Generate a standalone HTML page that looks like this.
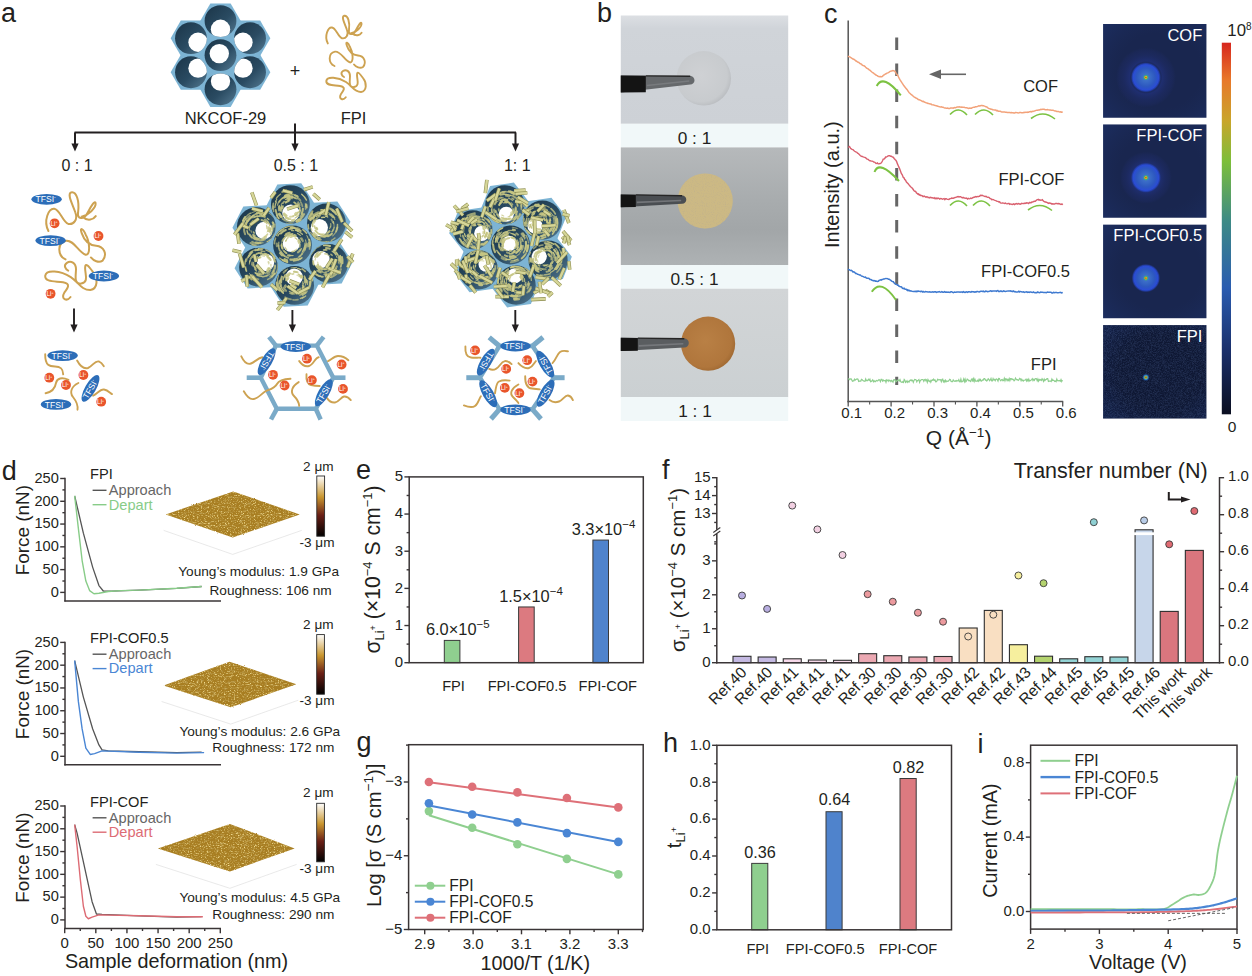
<!DOCTYPE html>
<html><head><meta charset="utf-8"><style>
html,body{margin:0;padding:0;background:#fff;width:1252px;height:976px;overflow:hidden}
svg{display:block;font-family:"Liberation Sans",sans-serif}
</style></head><body>
<svg width="1252" height="976" viewBox="0 0 1252 976">
<defs><linearGradient id="tg" x1="0" y1="0" x2="1" y2="1"><stop offset="0" stop-color="#1a3447"/><stop offset="0.55" stop-color="#2a4b62"/><stop offset="1" stop-color="#557a92"/></linearGradient><clipPath id="cl1"><circle cx="220.50" cy="55.20" r="15.90"/></clipPath><clipPath id="cl2"><circle cx="250.05" cy="72.26" r="15.90"/></clipPath><clipPath id="cl3"><circle cx="220.50" cy="89.32" r="15.90"/></clipPath><clipPath id="cl4"><circle cx="190.95" cy="72.26" r="15.90"/></clipPath><clipPath id="cl5"><circle cx="190.95" cy="38.14" r="15.90"/></clipPath><clipPath id="cl6"><circle cx="220.50" cy="21.08" r="15.90"/></clipPath><clipPath id="cl7"><circle cx="250.05" cy="38.14" r="15.90"/></clipPath><clipPath id="cl8"><circle cx="292.50" cy="245.00" r="19.40"/></clipPath><clipPath id="cl9"><circle cx="328.61" cy="263.40" r="19.40"/></clipPath><clipPath id="cl10"><circle cx="294.62" cy="285.47" r="19.40"/></clipPath><clipPath id="cl11"><circle cx="258.51" cy="267.07" r="19.40"/></clipPath><clipPath id="cl12"><circle cx="256.39" cy="226.60" r="19.40"/></clipPath><clipPath id="cl13"><circle cx="290.38" cy="204.53" r="19.40"/></clipPath><clipPath id="cl14"><circle cx="326.49" cy="222.93" r="19.40"/></clipPath><clipPath id="cl15"><circle cx="510.50" cy="245.00" r="19.60"/></clipPath><clipPath id="cl16"><circle cx="548.08" cy="260.18" r="19.60"/></clipPath><clipPath id="cl17"><circle cx="516.14" cy="285.14" r="19.60"/></clipPath><clipPath id="cl18"><circle cx="478.56" cy="269.95" r="19.60"/></clipPath><clipPath id="cl19"><circle cx="472.92" cy="229.82" r="19.60"/></clipPath><clipPath id="cl20"><circle cx="504.86" cy="204.86" r="19.60"/></clipPath><clipPath id="cl21"><circle cx="542.44" cy="220.05" r="19.60"/></clipPath><linearGradient id="pb1" x1="0" y1="0" x2="0" y2="1"><stop offset="0" stop-color="#dcdfe3"/><stop offset="0.12" stop-color="#d0d4d9"/><stop offset="1" stop-color="#cdd1d6"/></linearGradient><linearGradient id="pb2" x1="0" y1="0" x2="0" y2="1"><stop offset="0" stop-color="#b6b9bb"/><stop offset="0.45" stop-color="#a8acae"/><stop offset="0.7" stop-color="#a2a6a8"/><stop offset="1" stop-color="#aeb2b4"/></linearGradient><linearGradient id="pb3" x1="0" y1="0" x2="0" y2="1"><stop offset="0" stop-color="#d2d5d7"/><stop offset="1" stop-color="#cbd0d2"/></linearGradient><filter id="spk" x="0" y="0" width="1" height="1"><feTurbulence type="fractalNoise" baseFrequency="0.9" numOctaves="2" seed="4"/><feColorMatrix values="0 0 0 0 0.55  0 0 0 0 0.45  0 0 0 0 0.25  0 0 0 2.6 -1.25"/><feComposite in2="SourceGraphic" operator="in"/></filter><radialGradient id="dsk1" cx="0.45" cy="0.45" r="0.6"><stop offset="0" stop-color="#cfd1d4"/><stop offset="0.8" stop-color="#c8cbce"/><stop offset="1" stop-color="#b6b9bd"/></radialGradient><radialGradient id="dsk3" cx="0.45" cy="0.45" r="0.6"><stop offset="0" stop-color="#b98045"/><stop offset="0.8" stop-color="#b0763c"/><stop offset="1" stop-color="#9c6630"/></radialGradient><radialGradient id="sx1"><stop offset="0" stop-color="#e81818"/><stop offset="0.07" stop-color="#d0c020"/><stop offset="0.12" stop-color="#40a880"/><stop offset="0.2" stop-color="#3d70c8"/><stop offset="0.6" stop-color="#2d58c0"/><stop offset="0.82" stop-color="#2a4cd4"/><stop offset="0.9" stop-color="#2440b0" stop-opacity="0.85"/><stop offset="1" stop-color="#1c2a60" stop-opacity="0"/></radialGradient><radialGradient id="halo"><stop offset="0.45" stop-color="#24358a" stop-opacity="0"/><stop offset="0.55" stop-color="#24358a" stop-opacity="0.55"/><stop offset="0.75" stop-color="#22307a" stop-opacity="0.35"/><stop offset="0.9" stop-color="#1f2c6a" stop-opacity="0.3"/><stop offset="1" stop-color="#1f2c6a" stop-opacity="0"/></radialGradient><radialGradient id="vig" cx="0.55" cy="0.5" r="0.8"><stop offset="0.5" stop-color="#1e3570" stop-opacity="0"/><stop offset="1" stop-color="#24408a" stop-opacity="0.35"/></radialGradient><radialGradient id="sx4"><stop offset="0" stop-color="#e02020"/><stop offset="0.3" stop-color="#8ac040"/><stop offset="0.55" stop-color="#2a7ad0"/><stop offset="1" stop-color="#1b2a62" stop-opacity="0"/></radialGradient><filter id="nz" x="0" y="0" width="1" height="1"><feTurbulence type="fractalNoise" baseFrequency="1.6" numOctaves="1" seed="3"/><feColorMatrix values="0 0 0 0 0.15  0 0 0 0 0.25  0 0 0 0 0.55  0 0 0 0.55 -0.2"/><feComposite in2="SourceGraphic" operator="in"/></filter><linearGradient id="cbar" x1="0" y1="0" x2="0" y2="1"><stop offset="0" stop-color="#d7261e"/><stop offset="0.1" stop-color="#e8782a"/><stop offset="0.21" stop-color="#c9a52a"/><stop offset="0.32" stop-color="#7cbe3a"/><stop offset="0.48" stop-color="#3d8a86"/><stop offset="0.66" stop-color="#2a5cb0"/><stop offset="0.83" stop-color="#1a2f6a"/><stop offset="1" stop-color="#0a0e20"/></linearGradient><linearGradient id="afmcb" x1="0" y1="0" x2="0" y2="1"><stop offset="0" stop-color="#ffffff"/><stop offset="0.35" stop-color="#c9962f"/><stop offset="0.65" stop-color="#6a1f16"/><stop offset="1" stop-color="#000"/></linearGradient><filter id="afmn0" x="0" y="0" width="1" height="1"><feTurbulence type="fractalNoise" baseFrequency="0.7 0.9" numOctaves="2" seed="5"/><feColorMatrix values="0 0 0 0 0.90  0 0 0 0 0.74  0 0 0 0 0.30  0 0 0 3.4 -1.85"/><feComposite in2="SourceGraphic" operator="in"/></filter><filter id="afmd0" x="0" y="0" width="1" height="1"><feTurbulence type="fractalNoise" baseFrequency="0.25 0.6" numOctaves="2" seed="11"/><feColorMatrix values="0 0 0 0 0.50  0 0 0 0 0.34  0 0 0 0 0.08  0 0 0 3.0 -1.55"/><feComposite in2="SourceGraphic" operator="in"/></filter><filter id="afmr0" x="-0.05" y="-0.1" width="1.1" height="1.2"><feTurbulence type="fractalNoise" baseFrequency="0.9" numOctaves="1" seed="2" result="t"/><feDisplacementMap in="SourceGraphic" in2="t" scale="2.2" xChannelSelector="R" yChannelSelector="G"/></filter><filter id="afmn1" x="0" y="0" width="1" height="1"><feTurbulence type="fractalNoise" baseFrequency="0.7 0.9" numOctaves="2" seed="6"/><feColorMatrix values="0 0 0 0 0.90  0 0 0 0 0.74  0 0 0 0 0.30  0 0 0 3.4 -1.85"/><feComposite in2="SourceGraphic" operator="in"/></filter><filter id="afmd1" x="0" y="0" width="1" height="1"><feTurbulence type="fractalNoise" baseFrequency="0.25 0.6" numOctaves="2" seed="12"/><feColorMatrix values="0 0 0 0 0.50  0 0 0 0 0.34  0 0 0 0 0.08  0 0 0 3.0 -1.55"/><feComposite in2="SourceGraphic" operator="in"/></filter><filter id="afmr1" x="-0.05" y="-0.1" width="1.1" height="1.2"><feTurbulence type="fractalNoise" baseFrequency="0.9" numOctaves="1" seed="3" result="t"/><feDisplacementMap in="SourceGraphic" in2="t" scale="2.2" xChannelSelector="R" yChannelSelector="G"/></filter><filter id="afmn2" x="0" y="0" width="1" height="1"><feTurbulence type="fractalNoise" baseFrequency="0.7 0.9" numOctaves="2" seed="7"/><feColorMatrix values="0 0 0 0 0.90  0 0 0 0 0.74  0 0 0 0 0.30  0 0 0 3.4 -1.85"/><feComposite in2="SourceGraphic" operator="in"/></filter><filter id="afmd2" x="0" y="0" width="1" height="1"><feTurbulence type="fractalNoise" baseFrequency="0.25 0.6" numOctaves="2" seed="13"/><feColorMatrix values="0 0 0 0 0.50  0 0 0 0 0.34  0 0 0 0 0.08  0 0 0 3.0 -1.55"/><feComposite in2="SourceGraphic" operator="in"/></filter><filter id="afmr2" x="-0.05" y="-0.1" width="1.1" height="1.2"><feTurbulence type="fractalNoise" baseFrequency="0.9" numOctaves="1" seed="4" result="t"/><feDisplacementMap in="SourceGraphic" in2="t" scale="2.2" xChannelSelector="R" yChannelSelector="G"/></filter></defs>
<text x="1.0" y="21.6" font-size="27" text-anchor="start" fill="#231f20" >a</text>
<polygon points="240.80,55.20 230.65,72.78 210.35,72.78 200.20,55.20 210.35,37.62 230.65,37.62" fill="#7db4d4" />
<polygon points="270.35,72.26 260.20,89.84 239.90,89.84 229.75,72.26 239.90,54.68 260.20,54.68" fill="#7db4d4" />
<polygon points="240.80,89.32 230.65,106.90 210.35,106.90 200.20,89.32 210.35,71.74 230.65,71.74" fill="#7db4d4" />
<polygon points="211.25,72.26 201.10,89.84 180.80,89.84 170.65,72.26 180.80,54.68 201.10,54.68" fill="#7db4d4" />
<polygon points="211.25,38.14 201.10,55.72 180.80,55.72 170.65,38.14 180.80,20.56 201.10,20.56" fill="#7db4d4" />
<polygon points="240.80,21.08 230.65,38.66 210.35,38.66 200.20,21.08 210.35,3.50 230.65,3.50" fill="#7db4d4" />
<polygon points="270.35,38.14 260.20,55.72 239.90,55.72 229.75,38.14 239.90,20.56 260.20,20.56" fill="#7db4d4" />
<circle cx="220.50" cy="55.20" r="15.90" fill="url(#tg)"/>
<circle cx="219.30" cy="53.60" r="9.70" fill="#fff" clip-path="url(#cl1)"/>
<circle cx="250.05" cy="72.26" r="15.90" fill="url(#tg)"/>
<circle cx="242.95" cy="68.16" r="9.70" fill="#fff" clip-path="url(#cl2)"/>
<circle cx="220.50" cy="89.32" r="15.90" fill="url(#tg)"/>
<circle cx="220.50" cy="81.12" r="9.70" fill="#fff" clip-path="url(#cl3)"/>
<circle cx="190.95" cy="72.26" r="15.90" fill="url(#tg)"/>
<circle cx="198.05" cy="68.16" r="9.70" fill="#fff" clip-path="url(#cl4)"/>
<circle cx="190.95" cy="38.14" r="15.90" fill="url(#tg)"/>
<circle cx="198.05" cy="42.24" r="9.70" fill="#fff" clip-path="url(#cl5)"/>
<circle cx="220.50" cy="21.08" r="15.90" fill="url(#tg)"/>
<circle cx="220.50" cy="29.28" r="9.70" fill="#fff" clip-path="url(#cl6)"/>
<circle cx="250.05" cy="38.14" r="15.90" fill="url(#tg)"/>
<circle cx="242.95" cy="42.24" r="9.70" fill="#fff" clip-path="url(#cl7)"/>
<text x="225.5" y="123.6" font-size="16.5" text-anchor="middle" fill="#231f20" >NKCOF-29</text>
<text x="295.0" y="76.5" font-size="18" text-anchor="middle" fill="#231f20" >+</text>
<path d="M327.8,43.4 C324,36 328,27 332,27.5 C336,28 338,37 342,38.3 C346,39 349,35 347,30 C345,24 341,17 344,15.8 C348,15 350,22 349,30 C348,35 353,36 356,30 C358,26 361,21 361.5,23.5 C362,27 356,32 352,33 C356,37 360,35 361.6,32.7" fill="none" stroke="#cda251" stroke-width="1.9" stroke-linecap="round"/>
<path d="M334.5,66 C328,63 328,53 335,51.6 C341,51 344,60 349.9,62.4 C354,63 353,52 350,47 C348,42 345,41 347,46 C349,52 352,55 358,55.5 C364,56 367,62 363,67 C360,69 356,67 354,64.5" fill="none" stroke="#cda251" stroke-width="1.9" stroke-linecap="round"/>
<path d="M345.8,97.3 C343,101 338,99 341,94 C344,90 346,87 340,86 C334,85 326,86 326.3,81 C327,76 338,77 346,82 C352,86 354,92 361,92 C367,91 367,83 363,78 C360,74 357,70 357,75 C357,80 360,86 354,87 C348,88 350,80 350,76 C350,71 346,69 343,71 C340,73 342,76 344,77" fill="none" stroke="#cda251" stroke-width="1.9" stroke-linecap="round"/>
<text x="353.5" y="123.5" font-size="16.5" text-anchor="middle" fill="#231f20" >FPI</text>
<line x1="295.00" y1="123.50" x2="295.00" y2="146.00" stroke="#231f20" stroke-width="2.0" />
<line x1="74.50" y1="132.40" x2="516.00" y2="132.40" stroke="#231f20" stroke-width="2.0" />
<line x1="75.00" y1="132.40" x2="75.00" y2="145.50" stroke="#231f20" stroke-width="2.0" />
<polygon points="71.40,143.50 78.60,143.50 75.00,151.50" fill="#231f20" />
<line x1="295.00" y1="132.40" x2="295.00" y2="145.50" stroke="#231f20" stroke-width="2.0" />
<polygon points="291.40,143.50 298.60,143.50 295.00,151.50" fill="#231f20" />
<line x1="515.50" y1="132.40" x2="515.50" y2="145.50" stroke="#231f20" stroke-width="2.0" />
<polygon points="511.90,143.50 519.10,143.50 515.50,151.50" fill="#231f20" />
<text x="77.0" y="171.4" font-size="16.0" text-anchor="middle" fill="#231f20" >0 : 1</text>
<text x="295.9" y="171.4" font-size="16.0" text-anchor="middle" fill="#231f20" >0.5 : 1</text>
<text x="517.3" y="171.4" font-size="16.0" text-anchor="middle" fill="#231f20" >1: 1</text>
<path d="M327.8,43.4 C324,36 328,27 332,27.5 C336,28 338,37 342,38.3 C346,39 349,35 347,30 C345,24 341,17 344,15.8 C348,15 350,22 349,30 C348,35 353,36 356,30 C358,26 361,21 361.5,23.5 C362,27 356,32 352,33 C356,37 360,35 361.6,32.7" transform="translate(-410.5,170.3) scale(1.4)" fill="none" stroke="#cda251" stroke-width="1.429" stroke-linecap="round"/>
<path d="M334.5,66 C328,63 328,53 335,51.6 C341,51 344,60 349.9,62.4 C354,63 353,52 350,47 C348,42 345,41 347,46 C349,52 352,55 358,55.5 C364,56 367,62 363,67 C360,69 356,67 354,64.5" transform="translate(-369.3,173.6) scale(1.3)" fill="none" stroke="#cda251" stroke-width="1.538" stroke-linecap="round"/>
<path d="M345.8,97.3 C343,101 338,99 341,94 C344,90 346,87 340,86 C334,85 326,86 326.3,81 C327,76 338,77 346,82 C352,86 354,92 361,92 C367,91 367,83 363,78 C360,74 357,70 357,75 C357,80 360,86 354,87 C348,88 350,80 350,76 C350,71 346,69 343,71 C340,73 342,76 344,77" transform="translate(-379.0,170.5) scale(1.3)" fill="none" stroke="#cda251" stroke-width="1.538" stroke-linecap="round"/>
<g transform="translate(46.60,199.30) rotate(0)"><ellipse rx="15.2" ry="5.4" fill="#2c6db8"/><text x="-1" y="3.1" font-size="8.6" text-anchor="middle" fill="#fff">TFSI<tspan font-size="5" dy="-3.5">-</tspan></text></g>
<g transform="translate(50.60,240.60) rotate(0)"><ellipse rx="15.2" ry="5.4" fill="#2c6db8"/><text x="-1" y="3.1" font-size="8.6" text-anchor="middle" fill="#fff">TFSI<tspan font-size="5" dy="-3.5">-</tspan></text></g>
<g transform="translate(103.90,276.00) rotate(0)"><ellipse rx="15.2" ry="5.4" fill="#2c6db8"/><text x="-1" y="3.1" font-size="8.6" text-anchor="middle" fill="#fff">TFSI<tspan font-size="5" dy="-3.5">-</tspan></text></g>
<g transform="translate(54.60,223.30)"><circle r="4.9" fill="#e9552b"/><text x="-0.6" y="2.4" font-size="6.4" text-anchor="middle" fill="#fff">Li<tspan font-size="3.5" dy="-2.5">+</tspan></text></g>
<g transform="translate(98.50,236.00)"><circle r="4.9" fill="#e9552b"/><text x="-0.6" y="2.4" font-size="6.4" text-anchor="middle" fill="#fff">Li<tspan font-size="3.5" dy="-2.5">+</tspan></text></g>
<g transform="translate(50.60,293.80)"><circle r="4.9" fill="#e9552b"/><text x="-0.6" y="2.4" font-size="6.4" text-anchor="middle" fill="#fff">Li<tspan font-size="3.5" dy="-2.5">+</tspan></text></g>
<line x1="74.00" y1="308.50" x2="74.00" y2="326.50" stroke="#231f20" stroke-width="1.9" />
<polygon points="70.40,324.50 77.60,324.50 74.00,332.50" fill="#231f20" />
<path d="M45.2,354.3 C45,366 50,366.5 55,366.5 C61,366.5 63,369 63.2,374.4" fill="none" stroke="#cda251" stroke-width="1.9" stroke-linecap="round"/>
<path d="M77.1,360.5 C80,366 84,369 88,368 C93,366 95,360 99,361.5 C102,363 103,365 103.8,366.2" fill="none" stroke="#cda251" stroke-width="1.9" stroke-linecap="round"/>
<path d="M68.5,379.8 C62,377 57,378 56,383 C55,389 52,392 45.6,393.3" fill="none" stroke="#cda251" stroke-width="1.9" stroke-linecap="round"/>
<path d="M78.4,383 C72,386 69,392 73,397 C77,402 78,406 77.5,409.7" fill="none" stroke="#cda251" stroke-width="1.9" stroke-linecap="round"/>
<path d="M93.1,395.7 C97,394 100,389 104,389.5 C108,390 110,393 112,394.1" fill="none" stroke="#cda251" stroke-width="1.9" stroke-linecap="round"/>
<g transform="translate(62.60,355.60) rotate(0)"><ellipse rx="15.2" ry="5.4" fill="#2c6db8"/><text x="-1" y="3.1" font-size="8.6" text-anchor="middle" fill="#fff">TFSI<tspan font-size="5" dy="-3.5">-</tspan></text></g>
<g transform="translate(56.00,404.40) rotate(0)"><ellipse rx="15.2" ry="5.4" fill="#2c6db8"/><text x="-1" y="3.1" font-size="8.6" text-anchor="middle" fill="#fff">TFSI<tspan font-size="5" dy="-3.5">-</tspan></text></g>
<g transform="translate(90.50,388.40) rotate(-60)"><ellipse rx="15.2" ry="5.4" fill="#2c6db8"/><text x="-1" y="3.1" font-size="8.6" text-anchor="middle" fill="#fff">TFSI<tspan font-size="5" dy="-3.5">-</tspan></text></g>
<g transform="translate(49.30,377.70)"><circle r="4.9" fill="#e9552b"/><text x="-0.6" y="2.4" font-size="6.4" text-anchor="middle" fill="#fff">Li<tspan font-size="3.5" dy="-2.5">+</tspan></text></g>
<g transform="translate(66.00,385.00)"><circle r="4.9" fill="#e9552b"/><text x="-0.6" y="2.4" font-size="6.4" text-anchor="middle" fill="#fff">Li<tspan font-size="3.5" dy="-2.5">+</tspan></text></g>
<g transform="translate(83.40,375.00)"><circle r="4.9" fill="#e9552b"/><text x="-0.6" y="2.4" font-size="6.4" text-anchor="middle" fill="#fff">Li<tspan font-size="3.5" dy="-2.5">+</tspan></text></g>
<g transform="translate(101.20,401.70)"><circle r="4.9" fill="#e9552b"/><text x="-0.6" y="2.4" font-size="6.4" text-anchor="middle" fill="#fff">Li<tspan font-size="3.5" dy="-2.5">+</tspan></text></g>
<polygon points="316.47,243.74 305.57,265.13 281.60,266.38 268.53,246.26 279.43,224.87 303.40,223.62" fill="#7db4d4" />
<polygon points="352.58,262.14 341.68,283.53 317.72,284.78 304.65,264.66 315.54,243.27 339.51,242.02" fill="#7db4d4" />
<polygon points="318.59,284.22 307.69,305.60 283.73,306.86 270.65,286.73 281.55,265.35 305.52,264.09" fill="#7db4d4" />
<polygon points="282.48,265.82 271.58,287.20 247.61,288.46 234.54,268.33 245.44,246.95 269.40,245.69" fill="#7db4d4" />
<polygon points="280.35,225.34 269.46,246.73 245.49,247.98 232.42,227.86 243.32,206.47 267.28,205.22" fill="#7db4d4" />
<polygon points="314.35,203.27 303.45,224.65 279.48,225.91 266.41,205.78 277.31,184.40 301.27,183.14" fill="#7db4d4" />
<polygon points="350.46,221.67 339.56,243.05 315.60,244.31 302.52,224.18 313.42,202.80 337.39,201.54" fill="#7db4d4" />
<circle cx="292.50" cy="245.00" r="19.40" fill="url(#tg)"/>
<circle cx="291.30" cy="243.40" r="8.60" fill="#fff" clip-path="url(#cl8)"/>
<g clip-path="url(#cl8)"><path d="M280.8,233.4 A15.6,15.6 0 0 1 285.8,230.0" stroke="#c6c684" stroke-width="2.1" fill="none" stroke-linecap="round" opacity="0.90"/><path d="M298.3,240.9 A7.2,7.2 0 0 1 299.0,242.9" stroke="#c6c684" stroke-width="2.1" fill="none" stroke-linecap="round" opacity="0.86"/><path d="M298.6,239.5 A8.2,8.2 0 0 1 299.7,241.6" stroke="#c6c684" stroke-width="1.3" fill="none" stroke-linecap="round" opacity="0.82"/><path d="M285.7,241.1 A7.0,7.0 0 0 1 286.5,239.9" stroke="#c6c684" stroke-width="1.3" fill="none" stroke-linecap="round" opacity="0.97"/><path d="M292.8,235.6 A8.8,8.8 0 0 1 296.1,236.6" stroke="#c6c684" stroke-width="1.2" fill="none" stroke-linecap="round" opacity="0.85"/><path d="M296.8,249.2 A6.9,6.9 0 0 1 294.4,250.7" stroke="#c6c684" stroke-width="1.3" fill="none" stroke-linecap="round" opacity="0.69"/><path d="M309.0,242.4 A17.1,17.1 0 0 1 308.9,246.4" stroke="#c6c684" stroke-width="2.2" fill="none" stroke-linecap="round" opacity="0.82"/><path d="M287.9,235.9 A9.3,9.3 0 0 1 291.8,235.0" stroke="#c6c684" stroke-width="1.8" fill="none" stroke-linecap="round" opacity="0.99"/><path d="M300.1,237.9 A10.4,10.4 0 0 1 301.5,240.1" stroke="#c6c684" stroke-width="1.2" fill="none" stroke-linecap="round" opacity="0.66"/><path d="M301.5,248.4 A10.4,10.4 0 0 1 299.6,251.3" stroke="#c6c684" stroke-width="1.0" fill="none" stroke-linecap="round" opacity="0.87"/><path d="M286.4,253.2 A10.5,10.5 0 0 1 283.4,250.4" stroke="#c6c684" stroke-width="1.6" fill="none" stroke-linecap="round" opacity="0.73"/><path d="M276.9,246.1 A15.1,15.1 0 0 1 276.8,243.5" stroke="#c6c684" stroke-width="2.2" fill="none" stroke-linecap="round" opacity="0.61"/><path d="M291.9,227.5 A16.8,16.8 0 0 1 294.5,227.7" stroke="#c6c684" stroke-width="1.9" fill="none" stroke-linecap="round" opacity="0.75"/><path d="M285.8,241.0 A7.0,7.0 0 0 1 286.4,240.0" stroke="#c6c684" stroke-width="1.2" fill="none" stroke-linecap="round" opacity="0.98"/><path d="M297.1,259.1 A15.7,15.7 0 0 1 290.5,259.9" stroke="#c6c684" stroke-width="2.1" fill="none" stroke-linecap="round" opacity="0.74"/><path d="M284.0,254.6 A13.0,13.0 0 0 1 280.7,250.9" stroke="#c6c684" stroke-width="1.1" fill="none" stroke-linecap="round" opacity="0.90"/><path d="M296.9,228.1 A17.0,17.0 0 0 1 299.5,229.1" stroke="#c6c684" stroke-width="2.1" fill="none" stroke-linecap="round" opacity="0.64"/><path d="M284.4,256.1 A14.0,14.0 0 0 1 280.2,251.9" stroke="#c6c684" stroke-width="1.4" fill="none" stroke-linecap="round" opacity="0.97"/><path d="M281.8,241.3 A10.5,10.5 0 0 1 282.9,239.0" stroke="#c6c684" stroke-width="1.2" fill="none" stroke-linecap="round" opacity="0.63"/><path d="M300.8,256.3 A15.0,15.0 0 0 1 294.7,259.0" stroke="#c6c684" stroke-width="1.2" fill="none" stroke-linecap="round" opacity="0.62"/><path d="M305.0,243.2 A13.1,13.1 0 0 1 304.9,246.7" stroke="#c6c684" stroke-width="1.3" fill="none" stroke-linecap="round" opacity="0.84"/><path d="M297.6,233.4 A12.2,12.2 0 0 1 300.3,235.4" stroke="#c6c684" stroke-width="1.1" fill="none" stroke-linecap="round" opacity="0.97"/><path d="M304.4,246.9 A12.7,12.7 0 0 1 302.4,251.5" stroke="#c6c684" stroke-width="1.2" fill="none" stroke-linecap="round" opacity="0.89"/><path d="M305.5,239.9 A14.3,14.3 0 0 1 306.2,245.3" stroke="#c6c684" stroke-width="1.1" fill="none" stroke-linecap="round" opacity="0.77"/><path d="M301.9,257.8 A16.8,16.8 0 0 1 298.4,259.8" stroke="#c6c684" stroke-width="1.5" fill="none" stroke-linecap="round" opacity="1.00"/><path d="M302.9,229.6 A18.3,18.3 0 0 1 306.6,233.3" stroke="#c6c684" stroke-width="1.6" fill="none" stroke-linecap="round" opacity="0.89"/><path d="M281.8,245.6 A10.3,10.3 0 0 1 281.8,242.8" stroke="#c6c684" stroke-width="1.2" fill="none" stroke-linecap="round" opacity="0.75"/><path d="M310.0,243.0 A18.1,18.1 0 0 1 309.5,249.0" stroke="#c6c684" stroke-width="1.6" fill="none" stroke-linecap="round" opacity="0.74"/><path d="M300.5,249.6 A10.1,10.1 0 0 1 297.9,252.4" stroke="#c6c684" stroke-width="2.0" fill="none" stroke-linecap="round" opacity="0.74"/><path d="M295.5,228.7 A16.0,16.0 0 0 1 300.8,231.0" stroke="#c6c684" stroke-width="1.8" fill="none" stroke-linecap="round" opacity="0.90"/><path d="M282.1,255.7 A15.1,15.1 0 0 1 279.7,253.1" stroke="#c6c684" stroke-width="1.6" fill="none" stroke-linecap="round" opacity="0.91"/><path d="M288.2,234.7 A10.3,10.3 0 0 1 292.6,234.0" stroke="#c6c684" stroke-width="1.8" fill="none" stroke-linecap="round" opacity="0.83"/><path d="M305.2,245.2 A13.3,13.3 0 0 1 304.7,248.2" stroke="#c6c684" stroke-width="1.8" fill="none" stroke-linecap="round" opacity="0.79"/><path d="M297.8,231.1 A14.5,14.5 0 0 1 302.4,234.3" stroke="#c6c684" stroke-width="1.4" fill="none" stroke-linecap="round" opacity="0.86"/><path d="M290.7,227.7 A16.6,16.6 0 0 1 294.9,228.0" stroke="#c6c684" stroke-width="2.0" fill="none" stroke-linecap="round" opacity="0.95"/><path d="M285.0,227.3 A18.3,18.3 0 0 1 292.9,226.0" stroke="#c6c684" stroke-width="1.6" fill="none" stroke-linecap="round" opacity="0.81"/><path d="M300.3,258.7 A16.7,16.7 0 0 1 293.6,260.9" stroke="#c6c684" stroke-width="1.6" fill="none" stroke-linecap="round" opacity="0.88"/><path d="M289.0,229.1 A15.4,15.4 0 0 1 292.1,228.8" stroke="#c6c684" stroke-width="1.9" fill="none" stroke-linecap="round" opacity="0.83"/><path d="M286.0,234.1 A11.8,11.8 0 0 1 289.7,232.7" stroke="#c6c684" stroke-width="1.9" fill="none" stroke-linecap="round" opacity="0.85"/><path d="M290.6,237.2 A7.2,7.2 0 0 1 292.0,237.1" stroke="#c6c684" stroke-width="1.5" fill="none" stroke-linecap="round" opacity="0.86"/><path d="M294.8,258.9 A14.9,14.9 0 0 1 289.8,259.0" stroke="#c6c684" stroke-width="1.1" fill="none" stroke-linecap="round" opacity="0.79"/><path d="M293.1,251.7 A7.5,7.5 0 0 1 291.7,251.8" stroke="#c6c684" stroke-width="1.4" fill="none" stroke-linecap="round" opacity="0.67"/><path d="M294.5,251.1 A7.3,7.3 0 0 1 292.4,251.6" stroke="#c6c684" stroke-width="1.5" fill="none" stroke-linecap="round" opacity="0.84"/><path d="M283.8,239.1 A9.7,9.7 0 0 1 286.6,236.2" stroke="#c6c684" stroke-width="1.0" fill="none" stroke-linecap="round" opacity="0.76"/><path d="M289.9,255.8 A11.7,11.7 0 0 1 287.8,255.2" stroke="#c6c684" stroke-width="2.0" fill="none" stroke-linecap="round" opacity="0.75"/><path d="M305.7,247.4 A14.1,14.1 0 0 1 304.9,249.8" stroke="#c6c684" stroke-width="1.7" fill="none" stroke-linecap="round" opacity="0.74"/><path d="M276.1,235.5 A18.1,18.1 0 0 1 280.8,230.0" stroke="#c6c684" stroke-width="1.5" fill="none" stroke-linecap="round" opacity="0.93"/><path d="M284.9,235.5 A11.2,11.2 0 0 1 286.7,234.4" stroke="#c6c684" stroke-width="1.7" fill="none" stroke-linecap="round" opacity="0.83"/><path d="M309.5,239.4 A18.2,18.2 0 0 1 310.1,245.4" stroke="#c6c684" stroke-width="1.4" fill="none" stroke-linecap="round" opacity="0.96"/><path d="M300.1,244.3 A8.1,8.1 0 0 1 299.7,246.9" stroke="#c6c684" stroke-width="1.7" fill="none" stroke-linecap="round" opacity="0.66"/><path d="M280.1,231.7 A17.3,17.3 0 0 1 283.7,229.0" stroke="#c6c684" stroke-width="1.5" fill="none" stroke-linecap="round" opacity="0.69"/><path d="M287.2,261.9 A18.3,18.3 0 0 1 282.8,260.1" stroke="#c6c684" stroke-width="2.2" fill="none" stroke-linecap="round" opacity="0.97"/><path d="M283.8,238.7 A9.9,9.9 0 0 1 287.0,235.7" stroke="#c6c684" stroke-width="1.6" fill="none" stroke-linecap="round" opacity="0.77"/><path d="M284.2,261.0 A18.4,18.4 0 0 1 279.7,258.0" stroke="#c6c684" stroke-width="1.3" fill="none" stroke-linecap="round" opacity="0.79"/><path d="M302.2,254.1 A14.2,14.2 0 0 1 299.0,256.6" stroke="#c6c684" stroke-width="1.4" fill="none" stroke-linecap="round" opacity="0.91"/><path d="M295.2,238.0 A7.0,7.0 0 0 1 297.0,239.3" stroke="#c6c684" stroke-width="1.3" fill="none" stroke-linecap="round" opacity="0.97"/><path d="M293.9,234.7 A9.8,9.8 0 0 1 296.0,235.4" stroke="#c6c684" stroke-width="1.2" fill="none" stroke-linecap="round" opacity="1.00"/><path d="M288.2,257.8 A14.0,14.0 0 0 1 284.5,256.1" stroke="#c6c684" stroke-width="1.8" fill="none" stroke-linecap="round" opacity="0.84"/><path d="M291.6,236.0 A8.3,8.3 0 0 1 294.7,236.5" stroke="#c6c684" stroke-width="1.4" fill="none" stroke-linecap="round" opacity="0.81"/><path d="M286.6,253.2 A10.4,10.4 0 0 1 284.2,251.1" stroke="#c6c684" stroke-width="1.6" fill="none" stroke-linecap="round" opacity="0.74"/><path d="M291.5,230.5 A13.8,13.8 0 0 1 293.7,230.6" stroke="#c6c684" stroke-width="1.3" fill="none" stroke-linecap="round" opacity="0.78"/><path d="M306.9,235.6 A17.3,17.3 0 0 1 308.9,240.7" stroke="#c6c684" stroke-width="1.0" fill="none" stroke-linecap="round" opacity="0.91"/><path d="M279.7,250.3 A13.6,13.6 0 0 1 278.4,245.5" stroke="#c6c684" stroke-width="1.8" fill="none" stroke-linecap="round" opacity="0.79"/><path d="M301.6,238.3 A11.4,11.4 0 0 1 302.9,241.1" stroke="#c6c684" stroke-width="2.0" fill="none" stroke-linecap="round" opacity="0.68"/><path d="M287.2,260.2 A16.6,16.6 0 0 1 284.6,259.1" stroke="#c6c684" stroke-width="2.0" fill="none" stroke-linecap="round" opacity="0.88"/><path d="M282.6,248.5 A10.2,10.2 0 0 1 281.7,244.7" stroke="#c6c684" stroke-width="2.1" fill="none" stroke-linecap="round" opacity="0.66"/><path d="M278.8,246.1 A13.3,13.3 0 0 1 278.8,242.1" stroke="#c6c684" stroke-width="1.4" fill="none" stroke-linecap="round" opacity="0.66"/><path d="M277.9,235.9 A16.4,16.4 0 0 1 279.5,233.6" stroke="#c6c684" stroke-width="1.3" fill="none" stroke-linecap="round" opacity="0.93"/><path d="M295.8,230.1 A14.7,14.7 0 0 1 297.9,230.9" stroke="#c6c684" stroke-width="1.9" fill="none" stroke-linecap="round" opacity="0.99"/><path d="M307.1,244.1 A15.1,15.1 0 0 1 306.9,246.6" stroke="#c6c684" stroke-width="2.0" fill="none" stroke-linecap="round" opacity="0.69"/><path d="M281.0,230.0 A18.0,18.0 0 0 1 286.8,227.0" stroke="#c6c684" stroke-width="1.2" fill="none" stroke-linecap="round" opacity="0.72"/><path d="M299.5,240.0 A8.6,8.6 0 0 1 300.5,242.7" stroke="#c6c684" stroke-width="1.5" fill="none" stroke-linecap="round" opacity="0.66"/><path d="M286.6,239.1 A7.4,7.4 0 0 1 287.7,238.3" stroke="#c6c684" stroke-width="1.5" fill="none" stroke-linecap="round" opacity="0.63"/><path d="M304.7,249.1 A13.6,13.6 0 0 1 302.1,253.4" stroke="#c6c684" stroke-width="2.1" fill="none" stroke-linecap="round" opacity="0.65"/><path d="M282.4,248.7 A10.6,10.6 0 0 1 281.4,245.3" stroke="#c6c684" stroke-width="1.6" fill="none" stroke-linecap="round" opacity="0.98"/><path d="M286.7,249.6 A7.5,7.5 0 0 1 285.1,247.4" stroke="#c6c684" stroke-width="1.2" fill="none" stroke-linecap="round" opacity="0.85"/><path d="M274.4,243.6 A17.6,17.6 0 0 1 275.5,238.2" stroke="#c6c684" stroke-width="1.7" fill="none" stroke-linecap="round" opacity="0.71"/><path d="M282.6,241.1 A9.9,9.9 0 0 1 284.4,237.9" stroke="#c6c684" stroke-width="1.6" fill="none" stroke-linecap="round" opacity="0.65"/><path d="M293.1,255.5 A11.2,11.2 0 0 1 288.9,255.1" stroke="#c6c684" stroke-width="1.2" fill="none" stroke-linecap="round" opacity="0.89"/><path d="M287.5,237.8 A7.9,7.9 0 0 1 290.0,236.6" stroke="#c6c684" stroke-width="1.1" fill="none" stroke-linecap="round" opacity="0.65"/></g>
<circle cx="328.61" cy="263.40" r="19.40" fill="url(#tg)"/>
<circle cx="321.04" cy="259.54" r="8.60" fill="#fff" clip-path="url(#cl9)"/>
<g clip-path="url(#cl9)"><path d="M317.2,256.3 A9.7,9.7 0 0 1 320.0,253.5" stroke="#c6c684" stroke-width="1.6" fill="none" stroke-linecap="round" opacity="0.73"/><path d="M327.3,254.7 A7.2,7.2 0 0 1 329.6,256.0" stroke="#c6c684" stroke-width="1.1" fill="none" stroke-linecap="round" opacity="0.66"/><path d="M339.4,257.3 A14.9,14.9 0 0 1 340.0,260.4" stroke="#c6c684" stroke-width="1.1" fill="none" stroke-linecap="round" opacity="0.99"/><path d="M316.8,247.5 A16.5,16.5 0 0 1 319.7,246.1" stroke="#c6c684" stroke-width="1.7" fill="none" stroke-linecap="round" opacity="0.74"/><path d="M326.2,272.4 A10.8,10.8 0 0 1 322.6,272.1" stroke="#c6c684" stroke-width="1.4" fill="none" stroke-linecap="round" opacity="0.75"/><path d="M336.1,274.2 A16.6,16.6 0 0 1 331.2,277.2" stroke="#c6c684" stroke-width="2.0" fill="none" stroke-linecap="round" opacity="0.77"/><path d="M332.9,251.3 A12.9,12.9 0 0 1 335.9,254.3" stroke="#c6c684" stroke-width="1.7" fill="none" stroke-linecap="round" opacity="0.90"/><path d="M318.9,266.6 A8.0,8.0 0 0 1 318.2,265.5" stroke="#c6c684" stroke-width="1.2" fill="none" stroke-linecap="round" opacity="0.62"/><path d="M334.8,253.6 A12.5,12.5 0 0 1 337.1,257.8" stroke="#c6c684" stroke-width="1.0" fill="none" stroke-linecap="round" opacity="0.79"/><path d="M336.1,252.6 A14.1,14.1 0 0 1 338.2,256.0" stroke="#c6c684" stroke-width="1.6" fill="none" stroke-linecap="round" opacity="0.64"/><path d="M330.1,268.9 A8.7,8.7 0 0 1 328.1,269.9" stroke="#c6c684" stroke-width="1.5" fill="none" stroke-linecap="round" opacity="0.95"/><path d="M330.9,269.7 A9.9,9.9 0 0 1 328.9,270.8" stroke="#c6c684" stroke-width="1.2" fill="none" stroke-linecap="round" opacity="0.71"/><path d="M326.4,274.1 A12.5,12.5 0 0 1 324.4,274.2" stroke="#c6c684" stroke-width="2.1" fill="none" stroke-linecap="round" opacity="0.75"/><path d="M339.0,256.0 A14.9,14.9 0 0 1 340.1,261.1" stroke="#c6c684" stroke-width="1.6" fill="none" stroke-linecap="round" opacity="0.98"/><path d="M336.1,271.6 A14.7,14.7 0 0 1 333.4,273.9" stroke="#c6c684" stroke-width="1.8" fill="none" stroke-linecap="round" opacity="0.89"/><path d="M330.0,269.6 A9.2,9.2 0 0 1 328.7,270.2" stroke="#c6c684" stroke-width="1.3" fill="none" stroke-linecap="round" opacity="0.63"/><path d="M310.3,272.3 A18.3,18.3 0 0 1 308.1,268.1" stroke="#c6c684" stroke-width="1.4" fill="none" stroke-linecap="round" opacity="0.79"/><path d="M322.0,276.8 A15.5,15.5 0 0 1 316.8,274.7" stroke="#c6c684" stroke-width="1.2" fill="none" stroke-linecap="round" opacity="0.70"/><path d="M316.8,245.9 A17.9,17.9 0 0 1 322.6,243.9" stroke="#c6c684" stroke-width="1.5" fill="none" stroke-linecap="round" opacity="0.99"/><path d="M332.8,262.0 A7.6,7.6 0 0 1 332.1,264.8" stroke="#c6c684" stroke-width="1.5" fill="none" stroke-linecap="round" opacity="0.62"/><path d="M307.6,256.1 A18.5,18.5 0 0 1 310.1,251.1" stroke="#c6c684" stroke-width="1.4" fill="none" stroke-linecap="round" opacity="0.64"/><path d="M340.9,269.2 A17.4,17.4 0 0 1 338.0,273.5" stroke="#c6c684" stroke-width="2.1" fill="none" stroke-linecap="round" opacity="0.62"/><path d="M325.5,269.1 A7.5,7.5 0 0 1 323.5,268.9" stroke="#c6c684" stroke-width="1.1" fill="none" stroke-linecap="round" opacity="0.70"/><path d="M316.5,267.4 A10.5,10.5 0 0 1 315.6,265.9" stroke="#c6c684" stroke-width="1.0" fill="none" stroke-linecap="round" opacity="0.99"/><path d="M330.7,273.3 A12.8,12.8 0 0 1 327.4,274.3" stroke="#c6c684" stroke-width="1.6" fill="none" stroke-linecap="round" opacity="0.63"/><path d="M322.0,269.2 A8.1,8.1 0 0 1 319.9,267.8" stroke="#c6c684" stroke-width="2.1" fill="none" stroke-linecap="round" opacity="0.84"/><path d="M331.0,254.3 A9.4,9.4 0 0 1 332.1,255.3" stroke="#c6c684" stroke-width="1.6" fill="none" stroke-linecap="round" opacity="0.79"/><path d="M315.0,256.8 A11.3,11.3 0 0 1 317.2,253.7" stroke="#c6c684" stroke-width="1.9" fill="none" stroke-linecap="round" opacity="0.97"/><path d="M320.9,273.0 A12.1,12.1 0 0 1 316.8,270.5" stroke="#c6c684" stroke-width="1.3" fill="none" stroke-linecap="round" opacity="0.65"/><path d="M322.2,269.0 A7.9,7.9 0 0 1 319.7,267.3" stroke="#c6c684" stroke-width="2.0" fill="none" stroke-linecap="round" opacity="0.73"/><path d="M330.6,267.4 A7.8,7.8 0 0 1 329.2,268.4" stroke="#c6c684" stroke-width="1.1" fill="none" stroke-linecap="round" opacity="0.77"/><path d="M316.6,257.1 A9.8,9.8 0 0 1 317.5,255.7" stroke="#c6c684" stroke-width="1.8" fill="none" stroke-linecap="round" opacity="0.62"/><path d="M328.4,271.4 A10.2,10.2 0 0 1 325.7,271.9" stroke="#c6c684" stroke-width="1.1" fill="none" stroke-linecap="round" opacity="0.77"/><path d="M319.1,276.1 A15.7,15.7 0 0 1 314.9,273.5" stroke="#c6c684" stroke-width="2.1" fill="none" stroke-linecap="round" opacity="0.86"/><path d="M326.0,248.1 A13.6,13.6 0 0 1 329.8,248.8" stroke="#c6c684" stroke-width="2.0" fill="none" stroke-linecap="round" opacity="0.86"/><path d="M340.0,257.3 A15.4,15.4 0 0 1 340.6,262.8" stroke="#c6c684" stroke-width="1.3" fill="none" stroke-linecap="round" opacity="0.92"/><path d="M319.0,267.3 A8.4,8.4 0 0 1 318.1,266.2" stroke="#c6c684" stroke-width="1.2" fill="none" stroke-linecap="round" opacity="0.71"/><path d="M320.6,252.5 A10.2,10.2 0 0 1 322.2,251.9" stroke="#c6c684" stroke-width="1.9" fill="none" stroke-linecap="round" opacity="0.82"/><path d="M332.6,262.9 A7.5,7.5 0 0 1 332.2,264.3" stroke="#c6c684" stroke-width="1.4" fill="none" stroke-linecap="round" opacity="0.94"/><path d="M338.5,257.3 A14.1,14.1 0 0 1 339.2,260.3" stroke="#c6c684" stroke-width="1.5" fill="none" stroke-linecap="round" opacity="0.74"/><path d="M321.8,267.8 A7.0,7.0 0 0 1 320.0,266.4" stroke="#c6c684" stroke-width="2.0" fill="none" stroke-linecap="round" opacity="0.89"/><path d="M336.0,269.0 A13.1,13.1 0 0 1 334.3,271.1" stroke="#c6c684" stroke-width="1.9" fill="none" stroke-linecap="round" opacity="0.78"/><path d="M340.2,255.6 A16.2,16.2 0 0 1 341.1,258.4" stroke="#c6c684" stroke-width="1.4" fill="none" stroke-linecap="round" opacity="0.97"/><path d="M313.6,264.6 A12.0,12.0 0 0 1 313.2,261.2" stroke="#c6c684" stroke-width="1.9" fill="none" stroke-linecap="round" opacity="0.97"/><path d="M307.3,258.0 A18.2,18.2 0 0 1 309.5,252.4" stroke="#c6c684" stroke-width="1.1" fill="none" stroke-linecap="round" opacity="0.93"/><path d="M318.7,265.3 A7.5,7.5 0 0 1 317.7,262.1" stroke="#c6c684" stroke-width="1.0" fill="none" stroke-linecap="round" opacity="0.83"/><path d="M308.1,263.6 A17.2,17.2 0 0 1 308.2,259.0" stroke="#c6c684" stroke-width="1.3" fill="none" stroke-linecap="round" opacity="0.71"/><path d="M329.3,274.5 A13.5,13.5 0 0 1 325.9,275.1" stroke="#c6c684" stroke-width="1.9" fill="none" stroke-linecap="round" opacity="0.70"/><path d="M319.4,269.5 A9.8,9.8 0 0 1 316.6,266.2" stroke="#c6c684" stroke-width="2.0" fill="none" stroke-linecap="round" opacity="0.94"/><path d="M316.7,253.8 A11.6,11.6 0 0 1 318.3,252.3" stroke="#c6c684" stroke-width="2.0" fill="none" stroke-linecap="round" opacity="0.80"/><path d="M333.8,263.7 A8.9,8.9 0 0 1 333.3,265.3" stroke="#c6c684" stroke-width="1.9" fill="none" stroke-linecap="round" opacity="0.96"/><path d="M330.3,277.1 A16.2,16.2 0 0 1 326.4,277.8" stroke="#c6c684" stroke-width="1.8" fill="none" stroke-linecap="round" opacity="0.95"/><path d="M313.6,250.3 A16.3,16.3 0 0 1 316.9,247.7" stroke="#c6c684" stroke-width="1.0" fill="none" stroke-linecap="round" opacity="0.80"/><path d="M317.5,257.0 A9.0,9.0 0 0 1 319.0,255.1" stroke="#c6c684" stroke-width="1.4" fill="none" stroke-linecap="round" opacity="0.61"/><path d="M320.9,272.2 A11.4,11.4 0 0 1 318.0,270.5" stroke="#c6c684" stroke-width="1.8" fill="none" stroke-linecap="round" opacity="0.76"/><path d="M341.5,259.8 A16.4,16.4 0 0 1 340.8,266.8" stroke="#c6c684" stroke-width="1.8" fill="none" stroke-linecap="round" opacity="0.87"/><path d="M309.4,258.0 A16.2,16.2 0 0 1 310.9,254.0" stroke="#c6c684" stroke-width="1.7" fill="none" stroke-linecap="round" opacity="0.87"/><path d="M315.1,260.2 A10.2,10.2 0 0 1 315.5,258.5" stroke="#c6c684" stroke-width="1.1" fill="none" stroke-linecap="round" opacity="0.74"/><path d="M311.4,254.0 A15.8,15.8 0 0 1 315.0,249.6" stroke="#c6c684" stroke-width="1.4" fill="none" stroke-linecap="round" opacity="0.97"/><path d="M322.9,276.8 A15.3,15.3 0 0 1 320.3,276.1" stroke="#c6c684" stroke-width="1.9" fill="none" stroke-linecap="round" opacity="0.87"/><path d="M342.0,257.0 A17.4,17.4 0 0 1 342.5,263.2" stroke="#c6c684" stroke-width="2.0" fill="none" stroke-linecap="round" opacity="0.90"/><path d="M318.1,255.7 A9.3,9.3 0 0 1 320.2,253.8" stroke="#c6c684" stroke-width="2.1" fill="none" stroke-linecap="round" opacity="0.70"/><path d="M338.3,259.6 A13.3,13.3 0 0 1 338.4,263.1" stroke="#c6c684" stroke-width="1.0" fill="none" stroke-linecap="round" opacity="0.76"/><path d="M331.5,274.7 A14.5,14.5 0 0 1 325.7,276.2" stroke="#c6c684" stroke-width="2.1" fill="none" stroke-linecap="round" opacity="0.85"/><path d="M319.0,267.0 A8.2,8.2 0 0 1 317.6,264.5" stroke="#c6c684" stroke-width="1.7" fill="none" stroke-linecap="round" opacity="0.89"/><path d="M313.1,274.0 A17.3,17.3 0 0 1 310.7,271.1" stroke="#c6c684" stroke-width="1.4" fill="none" stroke-linecap="round" opacity="0.71"/><path d="M312.7,249.6 A17.4,17.4 0 0 1 315.3,247.3" stroke="#c6c684" stroke-width="1.8" fill="none" stroke-linecap="round" opacity="0.91"/><path d="M326.4,269.2 A7.6,7.6 0 0 1 324.0,269.2" stroke="#c6c684" stroke-width="2.0" fill="none" stroke-linecap="round" opacity="0.95"/><path d="M323.6,250.0 A11.8,11.8 0 0 1 326.8,250.0" stroke="#c6c684" stroke-width="1.6" fill="none" stroke-linecap="round" opacity="0.96"/><path d="M321.9,271.3 A10.2,10.2 0 0 1 319.0,269.7" stroke="#c6c684" stroke-width="2.2" fill="none" stroke-linecap="round" opacity="0.67"/><path d="M333.3,263.2 A8.2,8.2 0 0 1 332.4,265.7" stroke="#c6c684" stroke-width="1.7" fill="none" stroke-linecap="round" opacity="0.67"/><path d="M330.3,274.5 A13.8,13.8 0 0 1 325.6,275.5" stroke="#c6c684" stroke-width="1.8" fill="none" stroke-linecap="round" opacity="0.89"/><path d="M336.8,266.4 A12.6,12.6 0 0 1 334.1,270.6" stroke="#c6c684" stroke-width="2.1" fill="none" stroke-linecap="round" opacity="0.73"/><path d="M333.7,250.0 A14.4,14.4 0 0 1 337.8,254.6" stroke="#c6c684" stroke-width="1.3" fill="none" stroke-linecap="round" opacity="0.88"/><path d="M331.9,251.2 A12.5,12.5 0 0 1 333.7,252.5" stroke="#c6c684" stroke-width="1.2" fill="none" stroke-linecap="round" opacity="0.66"/><path d="M332.4,266.4 A8.7,8.7 0 0 1 330.5,268.5" stroke="#c6c684" stroke-width="1.1" fill="none" stroke-linecap="round" opacity="0.90"/><path d="M323.8,245.3 A16.4,16.4 0 0 1 330.1,246.0" stroke="#c6c684" stroke-width="1.9" fill="none" stroke-linecap="round" opacity="0.97"/><path d="M338.9,257.9 A14.2,14.2 0 0 1 339.2,264.0" stroke="#c6c684" stroke-width="1.1" fill="none" stroke-linecap="round" opacity="0.64"/><path d="M333.8,265.3 A9.3,9.3 0 0 1 332.5,267.4" stroke="#c6c684" stroke-width="1.6" fill="none" stroke-linecap="round" opacity="0.87"/><path d="M324.9,253.8 A7.9,7.9 0 0 1 327.0,254.0" stroke="#c6c684" stroke-width="1.7" fill="none" stroke-linecap="round" opacity="0.75"/></g>
<circle cx="294.62" cy="285.47" r="19.40" fill="url(#tg)"/>
<circle cx="294.18" cy="276.99" r="8.60" fill="#fff" clip-path="url(#cl10)"/>
<g clip-path="url(#cl10)"><path d="M304.7,291.0 A13.9,13.9 0 0 1 301.9,293.3" stroke="#c6c684" stroke-width="1.8" fill="none" stroke-linecap="round" opacity="0.80"/><path d="M311.9,277.5 A18.0,18.0 0 0 1 312.3,280.5" stroke="#c6c684" stroke-width="1.9" fill="none" stroke-linecap="round" opacity="0.89"/><path d="M292.1,289.6 A8.2,8.2 0 0 1 289.9,288.5" stroke="#c6c684" stroke-width="1.4" fill="none" stroke-linecap="round" opacity="0.89"/><path d="M304.3,276.1 A11.4,11.4 0 0 1 305.4,278.6" stroke="#c6c684" stroke-width="1.6" fill="none" stroke-linecap="round" opacity="0.88"/><path d="M297.7,268.4 A13.6,13.6 0 0 1 300.8,269.6" stroke="#c6c684" stroke-width="1.4" fill="none" stroke-linecap="round" opacity="0.94"/><path d="M287.0,280.8 A7.5,7.5 0 0 1 287.5,278.8" stroke="#c6c684" stroke-width="1.3" fill="none" stroke-linecap="round" opacity="0.87"/><path d="M303.4,286.1 A10.1,10.1 0 0 1 302.5,287.7" stroke="#c6c684" stroke-width="1.6" fill="none" stroke-linecap="round" opacity="0.99"/><path d="M283.4,278.7 A11.4,11.4 0 0 1 285.6,274.4" stroke="#c6c684" stroke-width="1.1" fill="none" stroke-linecap="round" opacity="0.74"/><path d="M297.0,275.2 A6.9,6.9 0 0 1 299.2,276.6" stroke="#c6c684" stroke-width="1.4" fill="none" stroke-linecap="round" opacity="0.61"/><path d="M294.4,293.9 A12.3,12.3 0 0 1 291.2,293.5" stroke="#c6c684" stroke-width="1.6" fill="none" stroke-linecap="round" opacity="0.62"/><path d="M298.0,299.6 A18.3,18.3 0 0 1 292.9,299.9" stroke="#c6c684" stroke-width="1.6" fill="none" stroke-linecap="round" opacity="0.63"/><path d="M291.1,299.4 A18.1,18.1 0 0 1 285.1,297.2" stroke="#c6c684" stroke-width="1.6" fill="none" stroke-linecap="round" opacity="0.62"/><path d="M281.9,291.6 A16.0,16.0 0 0 1 279.6,287.8" stroke="#c6c684" stroke-width="1.7" fill="none" stroke-linecap="round" opacity="0.96"/><path d="M285.6,270.3 A14.3,14.3 0 0 1 287.6,269.1" stroke="#c6c684" stroke-width="1.0" fill="none" stroke-linecap="round" opacity="0.91"/><path d="M279.8,290.5 A17.1,17.1 0 0 1 277.5,284.2" stroke="#c6c684" stroke-width="2.1" fill="none" stroke-linecap="round" opacity="0.75"/><path d="M310.2,281.6 A15.7,15.7 0 0 1 308.8,288.0" stroke="#c6c684" stroke-width="1.2" fill="none" stroke-linecap="round" opacity="0.91"/><path d="M278.3,290.2 A18.3,18.3 0 0 1 276.2,282.4" stroke="#c6c684" stroke-width="1.3" fill="none" stroke-linecap="round" opacity="0.77"/><path d="M292.8,293.9 A12.4,12.4 0 0 1 290.0,293.2" stroke="#c6c684" stroke-width="1.8" fill="none" stroke-linecap="round" opacity="0.65"/><path d="M300.4,292.4 A12.2,12.2 0 0 1 298.5,293.2" stroke="#c6c684" stroke-width="1.5" fill="none" stroke-linecap="round" opacity="0.96"/><path d="M301.3,275.6 A9.2,9.2 0 0 1 302.2,276.7" stroke="#c6c684" stroke-width="2.0" fill="none" stroke-linecap="round" opacity="0.98"/><path d="M287.5,276.7 A8.5,8.5 0 0 1 288.8,275.3" stroke="#c6c684" stroke-width="2.1" fill="none" stroke-linecap="round" opacity="0.98"/><path d="M303.3,283.4 A9.0,9.0 0 0 1 302.5,285.8" stroke="#c6c684" stroke-width="1.3" fill="none" stroke-linecap="round" opacity="0.90"/><path d="M283.3,293.1 A16.0,16.0 0 0 1 281.3,290.7" stroke="#c6c684" stroke-width="1.6" fill="none" stroke-linecap="round" opacity="0.99"/><path d="M292.1,274.1 A7.9,7.9 0 0 1 293.5,273.8" stroke="#c6c684" stroke-width="1.8" fill="none" stroke-linecap="round" opacity="0.75"/><path d="M286.0,290.8 A12.5,12.5 0 0 1 283.5,287.6" stroke="#c6c684" stroke-width="2.2" fill="none" stroke-linecap="round" opacity="0.70"/><path d="M285.4,277.5 A10.0,10.0 0 0 1 287.1,274.9" stroke="#c6c684" stroke-width="1.9" fill="none" stroke-linecap="round" opacity="0.65"/><path d="M279.4,283.4 A15.2,15.2 0 0 1 279.3,281.1" stroke="#c6c684" stroke-width="1.9" fill="none" stroke-linecap="round" opacity="0.77"/><path d="M280.4,281.3 A14.0,14.0 0 0 1 281.6,276.0" stroke="#c6c684" stroke-width="1.1" fill="none" stroke-linecap="round" opacity="0.80"/><path d="M305.5,284.4 A11.4,11.4 0 0 1 304.5,287.1" stroke="#c6c684" stroke-width="1.0" fill="none" stroke-linecap="round" opacity="0.72"/><path d="M280.6,286.2 A14.6,14.6 0 0 1 280.0,280.0" stroke="#c6c684" stroke-width="1.4" fill="none" stroke-linecap="round" opacity="0.81"/><path d="M290.3,264.3 A17.9,17.9 0 0 1 298.0,264.2" stroke="#c6c684" stroke-width="2.2" fill="none" stroke-linecap="round" opacity="0.72"/><path d="M303.3,297.1 A17.8,17.8 0 0 1 300.5,298.4" stroke="#c6c684" stroke-width="1.5" fill="none" stroke-linecap="round" opacity="0.89"/><path d="M283.2,279.6 A11.4,11.4 0 0 1 285.0,275.1" stroke="#c6c684" stroke-width="1.4" fill="none" stroke-linecap="round" opacity="0.82"/><path d="M298.5,274.2 A8.5,8.5 0 0 1 300.2,275.5" stroke="#c6c684" stroke-width="1.6" fill="none" stroke-linecap="round" opacity="0.83"/><path d="M297.7,293.4 A12.2,12.2 0 0 1 295.6,293.8" stroke="#c6c684" stroke-width="1.1" fill="none" stroke-linecap="round" opacity="0.74"/><path d="M305.7,296.0 A18.2,18.2 0 0 1 302.2,298.2" stroke="#c6c684" stroke-width="1.3" fill="none" stroke-linecap="round" opacity="0.91"/><path d="M293.9,271.7 A10.0,10.0 0 0 1 297.8,272.3" stroke="#c6c684" stroke-width="1.8" fill="none" stroke-linecap="round" opacity="0.76"/><path d="M287.7,274.6 A9.8,9.8 0 0 1 289.5,273.2" stroke="#c6c684" stroke-width="2.1" fill="none" stroke-linecap="round" opacity="0.78"/><path d="M301.6,276.3 A9.0,9.0 0 0 1 302.5,277.7" stroke="#c6c684" stroke-width="1.1" fill="none" stroke-linecap="round" opacity="0.90"/><path d="M287.9,279.0 A7.0,7.0 0 0 1 288.5,278.0" stroke="#c6c684" stroke-width="2.0" fill="none" stroke-linecap="round" opacity="0.80"/><path d="M299.5,276.3 A7.3,7.3 0 0 1 300.9,278.3" stroke="#c6c684" stroke-width="1.1" fill="none" stroke-linecap="round" opacity="0.89"/><path d="M283.7,272.6 A14.1,14.1 0 0 1 285.9,270.5" stroke="#c6c684" stroke-width="2.1" fill="none" stroke-linecap="round" opacity="0.64"/><path d="M308.1,287.5 A14.9,14.9 0 0 1 306.9,289.8" stroke="#c6c684" stroke-width="1.1" fill="none" stroke-linecap="round" opacity="0.78"/><path d="M284.1,267.7 A17.3,17.3 0 0 1 289.8,264.9" stroke="#c6c684" stroke-width="1.1" fill="none" stroke-linecap="round" opacity="0.86"/><path d="M299.0,274.8 A8.3,8.3 0 0 1 301.2,276.9" stroke="#c6c684" stroke-width="1.3" fill="none" stroke-linecap="round" opacity="0.72"/><path d="M310.2,281.8 A15.8,15.8 0 0 1 309.4,286.5" stroke="#c6c684" stroke-width="2.1" fill="none" stroke-linecap="round" opacity="0.79"/><path d="M299.7,289.5 A9.4,9.4 0 0 1 297.8,290.4" stroke="#c6c684" stroke-width="2.1" fill="none" stroke-linecap="round" opacity="0.68"/><path d="M303.8,287.5 A11.0,11.0 0 0 1 302.6,289.0" stroke="#c6c684" stroke-width="1.5" fill="none" stroke-linecap="round" opacity="0.85"/><path d="M289.2,274.4 A8.9,8.9 0 0 1 290.7,273.5" stroke="#c6c684" stroke-width="1.6" fill="none" stroke-linecap="round" opacity="0.87"/><path d="M281.6,286.1 A13.6,13.6 0 0 1 280.9,280.4" stroke="#c6c684" stroke-width="1.2" fill="none" stroke-linecap="round" opacity="0.71"/><path d="M281.3,282.2 A13.2,13.2 0 0 1 282.2,276.8" stroke="#c6c684" stroke-width="1.7" fill="none" stroke-linecap="round" opacity="0.86"/><path d="M280.4,289.4 A16.1,16.1 0 0 1 278.4,283.3" stroke="#c6c684" stroke-width="1.4" fill="none" stroke-linecap="round" opacity="0.64"/><path d="M293.8,292.7 A11.1,11.1 0 0 1 289.4,291.5" stroke="#c6c684" stroke-width="1.3" fill="none" stroke-linecap="round" opacity="0.85"/><path d="M282.9,267.7 A18.1,18.1 0 0 1 285.7,265.8" stroke="#c6c684" stroke-width="1.9" fill="none" stroke-linecap="round" opacity="0.73"/><path d="M305.8,290.3 A14.3,14.3 0 0 1 301.5,294.0" stroke="#c6c684" stroke-width="1.7" fill="none" stroke-linecap="round" opacity="0.62"/><path d="M305.6,279.7 A11.4,11.4 0 0 1 305.6,283.5" stroke="#c6c684" stroke-width="1.9" fill="none" stroke-linecap="round" opacity="0.70"/><path d="M285.4,287.5 A10.7,10.7 0 0 1 284.5,285.8" stroke="#c6c684" stroke-width="1.1" fill="none" stroke-linecap="round" opacity="0.89"/><path d="M280.0,290.8 A17.1,17.1 0 0 1 278.7,288.2" stroke="#c6c684" stroke-width="1.4" fill="none" stroke-linecap="round" opacity="0.67"/><path d="M309.6,276.0 A16.1,16.1 0 0 1 310.5,282.7" stroke="#c6c684" stroke-width="1.6" fill="none" stroke-linecap="round" opacity="0.64"/><path d="M286.2,286.4 A9.5,9.5 0 0 1 285.5,285.1" stroke="#c6c684" stroke-width="1.7" fill="none" stroke-linecap="round" opacity="0.72"/><path d="M304.5,289.7 A12.9,12.9 0 0 1 300.2,293.2" stroke="#c6c684" stroke-width="2.1" fill="none" stroke-linecap="round" opacity="0.79"/><path d="M307.1,291.2 A15.9,15.9 0 0 1 305.1,293.4" stroke="#c6c684" stroke-width="1.6" fill="none" stroke-linecap="round" opacity="0.63"/><path d="M307.6,280.6 A13.2,13.2 0 0 1 307.4,284.3" stroke="#c6c684" stroke-width="1.3" fill="none" stroke-linecap="round" opacity="0.82"/><path d="M306.1,279.6 A11.9,11.9 0 0 1 306.3,282.2" stroke="#c6c684" stroke-width="1.6" fill="none" stroke-linecap="round" opacity="0.97"/><path d="M283.9,291.3 A14.3,14.3 0 0 1 280.8,286.1" stroke="#c6c684" stroke-width="1.4" fill="none" stroke-linecap="round" opacity="0.92"/><path d="M286.0,280.1 A8.5,8.5 0 0 1 286.4,278.7" stroke="#c6c684" stroke-width="2.1" fill="none" stroke-linecap="round" opacity="0.79"/><path d="M277.9,287.8 A17.6,17.6 0 0 1 276.8,282.3" stroke="#c6c684" stroke-width="1.6" fill="none" stroke-linecap="round" opacity="0.71"/><path d="M294.1,271.8 A9.9,9.9 0 0 1 296.9,272.1" stroke="#c6c684" stroke-width="1.9" fill="none" stroke-linecap="round" opacity="0.84"/><path d="M300.6,288.6 A9.3,9.3 0 0 1 297.8,290.3" stroke="#c6c684" stroke-width="1.9" fill="none" stroke-linecap="round" opacity="0.64"/><path d="M302.9,281.5 A8.4,8.4 0 0 1 302.7,283.2" stroke="#c6c684" stroke-width="1.1" fill="none" stroke-linecap="round" opacity="0.78"/><path d="M282.1,270.1 A16.9,16.9 0 0 1 284.6,267.9" stroke="#c6c684" stroke-width="1.8" fill="none" stroke-linecap="round" opacity="0.64"/><path d="M285.8,276.9 A9.8,9.8 0 0 1 287.3,274.9" stroke="#c6c684" stroke-width="1.1" fill="none" stroke-linecap="round" opacity="0.89"/><path d="M305.8,292.7 A15.8,15.8 0 0 1 302.7,295.1" stroke="#c6c684" stroke-width="1.7" fill="none" stroke-linecap="round" opacity="0.86"/><path d="M277.3,282.9 A17.1,17.1 0 0 1 278.4,275.7" stroke="#c6c684" stroke-width="1.3" fill="none" stroke-linecap="round" opacity="0.73"/><path d="M300.5,275.8 A8.4,8.4 0 0 1 301.8,277.6" stroke="#c6c684" stroke-width="1.5" fill="none" stroke-linecap="round" opacity="0.99"/><path d="M304.5,292.2 A14.6,14.6 0 0 1 299.9,295.1" stroke="#c6c684" stroke-width="1.9" fill="none" stroke-linecap="round" opacity="0.60"/><path d="M304.3,278.0 A10.5,10.5 0 0 1 304.9,282.2" stroke="#c6c684" stroke-width="1.8" fill="none" stroke-linecap="round" opacity="0.77"/><path d="M302.2,269.0 A14.8,14.8 0 0 1 305.1,271.4" stroke="#c6c684" stroke-width="1.9" fill="none" stroke-linecap="round" opacity="0.80"/><path d="M291.1,268.0 A14.1,14.1 0 0 1 296.5,267.7" stroke="#c6c684" stroke-width="1.2" fill="none" stroke-linecap="round" opacity="0.80"/><path d="M310.6,281.8 A16.1,16.1 0 0 1 309.4,287.8" stroke="#c6c684" stroke-width="2.0" fill="none" stroke-linecap="round" opacity="0.62"/></g>
<circle cx="258.51" cy="267.07" r="19.40" fill="url(#tg)"/>
<circle cx="265.64" cy="262.44" r="8.60" fill="#fff" clip-path="url(#cl11)"/>
<g clip-path="url(#cl11)"><path d="M249.5,262.2 A12.5,12.5 0 0 1 250.2,260.0" stroke="#c6c684" stroke-width="1.2" fill="none" stroke-linecap="round" opacity="0.99"/><path d="M267.5,257.3 A9.7,9.7 0 0 1 270.1,260.1" stroke="#c6c684" stroke-width="1.8" fill="none" stroke-linecap="round" opacity="0.75"/><path d="M255.8,257.4 A9.6,9.6 0 0 1 257.7,256.3" stroke="#c6c684" stroke-width="1.0" fill="none" stroke-linecap="round" opacity="0.86"/><path d="M248.1,257.4 A15.6,15.6 0 0 1 251.0,253.7" stroke="#c6c684" stroke-width="1.5" fill="none" stroke-linecap="round" opacity="0.72"/><path d="M260.7,253.8 A11.2,11.2 0 0 1 264.4,254.1" stroke="#c6c684" stroke-width="1.9" fill="none" stroke-linecap="round" opacity="0.78"/><path d="M258.7,258.0 A7.6,7.6 0 0 1 260.4,257.5" stroke="#c6c684" stroke-width="2.0" fill="none" stroke-linecap="round" opacity="0.66"/><path d="M268.3,267.5 A7.0,7.0 0 0 1 266.9,269.7" stroke="#c6c684" stroke-width="1.1" fill="none" stroke-linecap="round" opacity="0.78"/><path d="M246.6,271.1 A16.3,16.3 0 0 1 245.5,266.5" stroke="#c6c684" stroke-width="1.6" fill="none" stroke-linecap="round" opacity="0.61"/><path d="M266.2,249.8 A15.9,15.9 0 0 1 271.0,252.1" stroke="#c6c684" stroke-width="2.0" fill="none" stroke-linecap="round" opacity="0.85"/><path d="M258.1,248.5 A16.9,16.9 0 0 1 263.8,248.3" stroke="#c6c684" stroke-width="1.0" fill="none" stroke-linecap="round" opacity="0.95"/><path d="M270.9,264.4 A9.2,9.2 0 0 1 270.9,266.0" stroke="#c6c684" stroke-width="1.4" fill="none" stroke-linecap="round" opacity="0.64"/><path d="M256.3,270.8 A7.9,7.9 0 0 1 255.2,269.5" stroke="#c6c684" stroke-width="1.0" fill="none" stroke-linecap="round" opacity="0.77"/><path d="M257.0,279.7 A15.4,15.4 0 0 1 253.3,277.9" stroke="#c6c684" stroke-width="1.2" fill="none" stroke-linecap="round" opacity="0.98"/><path d="M273.5,255.8 A15.0,15.0 0 0 1 275.2,258.5" stroke="#c6c684" stroke-width="1.5" fill="none" stroke-linecap="round" opacity="0.78"/><path d="M255.7,268.9 A7.2,7.2 0 0 1 254.8,267.0" stroke="#c6c684" stroke-width="1.9" fill="none" stroke-linecap="round" opacity="0.88"/><path d="M271.2,253.5 A14.9,14.9 0 0 1 274.8,257.9" stroke="#c6c684" stroke-width="2.0" fill="none" stroke-linecap="round" opacity="0.97"/><path d="M264.9,253.7 A11.8,11.8 0 0 1 268.5,255.4" stroke="#c6c684" stroke-width="1.8" fill="none" stroke-linecap="round" opacity="0.95"/><path d="M259.0,253.2 A12.1,12.1 0 0 1 261.5,252.9" stroke="#c6c684" stroke-width="1.4" fill="none" stroke-linecap="round" opacity="0.70"/><path d="M255.1,250.5 A15.9,15.9 0 0 1 258.2,249.5" stroke="#c6c684" stroke-width="1.6" fill="none" stroke-linecap="round" opacity="0.94"/><path d="M256.4,271.0 A8.0,8.0 0 0 1 254.8,268.9" stroke="#c6c684" stroke-width="1.4" fill="none" stroke-linecap="round" opacity="0.66"/><path d="M260.1,271.8 A7.0,7.0 0 0 1 258.8,271.3" stroke="#c6c684" stroke-width="1.5" fill="none" stroke-linecap="round" opacity="0.64"/><path d="M275.0,265.5 A13.3,13.3 0 0 1 273.6,271.1" stroke="#c6c684" stroke-width="2.0" fill="none" stroke-linecap="round" opacity="0.73"/><path d="M268.7,261.4 A7.8,7.8 0 0 1 269.2,262.8" stroke="#c6c684" stroke-width="1.0" fill="none" stroke-linecap="round" opacity="0.62"/><path d="M249.1,255.6 A15.8,15.8 0 0 1 252.3,252.3" stroke="#c6c684" stroke-width="2.0" fill="none" stroke-linecap="round" opacity="0.78"/><path d="M273.9,258.1 A14.0,14.0 0 0 1 275.4,262.2" stroke="#c6c684" stroke-width="1.2" fill="none" stroke-linecap="round" opacity="0.77"/><path d="M246.3,271.0 A16.5,16.5 0 0 1 245.4,267.6" stroke="#c6c684" stroke-width="1.4" fill="none" stroke-linecap="round" opacity="0.93"/><path d="M273.6,270.7 A13.2,13.2 0 0 1 272.1,273.1" stroke="#c6c684" stroke-width="1.8" fill="none" stroke-linecap="round" opacity="0.84"/><path d="M274.5,273.6 A15.4,15.4 0 0 1 271.7,276.7" stroke="#c6c684" stroke-width="1.4" fill="none" stroke-linecap="round" opacity="0.94"/><path d="M263.6,254.7 A10.5,10.5 0 0 1 267.1,255.9" stroke="#c6c684" stroke-width="1.1" fill="none" stroke-linecap="round" opacity="0.81"/><path d="M274.2,272.1 A14.4,14.4 0 0 1 270.2,276.6" stroke="#c6c684" stroke-width="1.8" fill="none" stroke-linecap="round" opacity="0.62"/><path d="M249.4,264.0 A12.4,12.4 0 0 1 250.2,260.6" stroke="#c6c684" stroke-width="1.2" fill="none" stroke-linecap="round" opacity="0.71"/><path d="M254.4,267.4 A7.7,7.7 0 0 1 254.0,264.7" stroke="#c6c684" stroke-width="1.3" fill="none" stroke-linecap="round" opacity="0.72"/><path d="M270.5,270.6 A10.4,10.4 0 0 1 267.3,273.8" stroke="#c6c684" stroke-width="1.4" fill="none" stroke-linecap="round" opacity="0.64"/><path d="M251.6,279.8 A18.0,18.0 0 0 1 249.1,277.8" stroke="#c6c684" stroke-width="1.4" fill="none" stroke-linecap="round" opacity="0.68"/><path d="M256.6,253.8 A12.3,12.3 0 0 1 258.7,253.1" stroke="#c6c684" stroke-width="2.0" fill="none" stroke-linecap="round" opacity="0.73"/><path d="M257.0,253.8 A12.2,12.2 0 0 1 261.8,252.8" stroke="#c6c684" stroke-width="1.1" fill="none" stroke-linecap="round" opacity="0.69"/><path d="M259.5,274.7 A10.0,10.0 0 0 1 255.9,273.1" stroke="#c6c684" stroke-width="1.6" fill="none" stroke-linecap="round" opacity="0.74"/><path d="M244.9,264.3 A16.8,16.8 0 0 1 246.0,259.0" stroke="#c6c684" stroke-width="1.5" fill="none" stroke-linecap="round" opacity="0.86"/><path d="M253.0,257.3 A11.6,11.6 0 0 1 255.4,255.2" stroke="#c6c684" stroke-width="1.2" fill="none" stroke-linecap="round" opacity="0.78"/><path d="M269.3,257.8 A10.5,10.5 0 0 1 270.9,260.0" stroke="#c6c684" stroke-width="1.7" fill="none" stroke-linecap="round" opacity="0.84"/><path d="M267.2,275.8 A12.1,12.1 0 0 1 262.9,277.0" stroke="#c6c684" stroke-width="1.0" fill="none" stroke-linecap="round" opacity="0.64"/><path d="M262.3,247.5 A17.5,17.5 0 0 1 265.3,247.9" stroke="#c6c684" stroke-width="1.1" fill="none" stroke-linecap="round" opacity="0.85"/><path d="M258.6,279.2 A14.6,14.6 0 0 1 256.3,278.5" stroke="#c6c684" stroke-width="1.5" fill="none" stroke-linecap="round" opacity="0.66"/><path d="M254.3,278.0 A15.0,15.0 0 0 1 250.7,275.2" stroke="#c6c684" stroke-width="2.0" fill="none" stroke-linecap="round" opacity="0.94"/><path d="M249.4,253.5 A16.8,16.8 0 0 1 252.0,251.3" stroke="#c6c684" stroke-width="1.6" fill="none" stroke-linecap="round" opacity="0.73"/><path d="M255.9,259.2 A8.2,8.2 0 0 1 258.8,257.4" stroke="#c6c684" stroke-width="1.4" fill="none" stroke-linecap="round" opacity="0.91"/><path d="M278.5,258.7 A17.9,17.9 0 0 1 279.5,263.3" stroke="#c6c684" stroke-width="2.0" fill="none" stroke-linecap="round" opacity="1.00"/><path d="M272.4,276.4 A15.6,15.6 0 0 1 267.6,279.5" stroke="#c6c684" stroke-width="1.5" fill="none" stroke-linecap="round" opacity="0.71"/><path d="M267.1,275.4 A11.7,11.7 0 0 1 262.3,276.7" stroke="#c6c684" stroke-width="1.5" fill="none" stroke-linecap="round" opacity="0.70"/><path d="M252.9,256.8 A12.0,12.0 0 0 1 256.1,254.4" stroke="#c6c684" stroke-width="1.5" fill="none" stroke-linecap="round" opacity="0.71"/><path d="M277.8,268.6 A16.5,16.5 0 0 1 275.6,273.9" stroke="#c6c684" stroke-width="1.3" fill="none" stroke-linecap="round" opacity="0.80"/><path d="M250.6,258.8 A12.8,12.8 0 0 1 254.1,254.8" stroke="#c6c684" stroke-width="1.9" fill="none" stroke-linecap="round" opacity="0.72"/><path d="M254.3,276.9 A14.1,14.1 0 0 1 252.1,275.2" stroke="#c6c684" stroke-width="2.1" fill="none" stroke-linecap="round" opacity="0.62"/><path d="M251.6,265.0 A10.1,10.1 0 0 1 252.1,262.0" stroke="#c6c684" stroke-width="1.1" fill="none" stroke-linecap="round" opacity="0.69"/><path d="M277.8,263.9 A16.1,16.1 0 0 1 277.7,267.4" stroke="#c6c684" stroke-width="1.5" fill="none" stroke-linecap="round" opacity="0.61"/><path d="M268.3,271.3 A9.1,9.1 0 0 1 264.9,273.5" stroke="#c6c684" stroke-width="1.4" fill="none" stroke-linecap="round" opacity="0.70"/><path d="M269.2,268.2 A8.2,8.2 0 0 1 267.1,271.2" stroke="#c6c684" stroke-width="1.9" fill="none" stroke-linecap="round" opacity="0.97"/><path d="M269.9,251.2 A16.1,16.1 0 0 1 272.8,253.4" stroke="#c6c684" stroke-width="1.2" fill="none" stroke-linecap="round" opacity="0.71"/><path d="M269.9,268.6 A8.9,8.9 0 0 1 268.1,271.3" stroke="#c6c684" stroke-width="1.6" fill="none" stroke-linecap="round" opacity="0.60"/><path d="M256.0,280.8 A16.8,16.8 0 0 1 250.3,277.3" stroke="#c6c684" stroke-width="1.9" fill="none" stroke-linecap="round" opacity="0.89"/><path d="M273.1,257.9 A13.4,13.4 0 0 1 274.6,261.2" stroke="#c6c684" stroke-width="1.7" fill="none" stroke-linecap="round" opacity="0.71"/><path d="M271.4,267.2 A9.9,9.9 0 0 1 270.3,269.9" stroke="#c6c684" stroke-width="1.1" fill="none" stroke-linecap="round" opacity="0.63"/><path d="M261.9,276.2 A11.2,11.2 0 0 1 257.2,275.2" stroke="#c6c684" stroke-width="1.6" fill="none" stroke-linecap="round" opacity="0.93"/><path d="M261.2,251.2 A13.8,13.8 0 0 1 264.6,251.5" stroke="#c6c684" stroke-width="1.5" fill="none" stroke-linecap="round" opacity="0.73"/><path d="M250.5,252.4 A16.9,16.9 0 0 1 256.1,249.1" stroke="#c6c684" stroke-width="1.4" fill="none" stroke-linecap="round" opacity="0.66"/><path d="M275.4,265.8 A13.7,13.7 0 0 1 274.9,268.7" stroke="#c6c684" stroke-width="1.0" fill="none" stroke-linecap="round" opacity="0.72"/><path d="M263.0,274.2 A9.3,9.3 0 0 1 259.7,274.1" stroke="#c6c684" stroke-width="1.7" fill="none" stroke-linecap="round" opacity="0.71"/><path d="M260.6,255.8 A9.3,9.3 0 0 1 264.5,256.1" stroke="#c6c684" stroke-width="1.1" fill="none" stroke-linecap="round" opacity="0.84"/><path d="M257.4,250.1 A15.5,15.5 0 0 1 261.9,249.5" stroke="#c6c684" stroke-width="2.0" fill="none" stroke-linecap="round" opacity="0.85"/><path d="M258.9,257.7 A7.8,7.8 0 0 1 260.4,257.3" stroke="#c6c684" stroke-width="1.6" fill="none" stroke-linecap="round" opacity="0.82"/><path d="M274.6,273.8 A15.6,15.6 0 0 1 272.0,276.7" stroke="#c6c684" stroke-width="1.6" fill="none" stroke-linecap="round" opacity="0.81"/><path d="M267.2,256.2 A10.4,10.4 0 0 1 269.7,258.3" stroke="#c6c684" stroke-width="1.7" fill="none" stroke-linecap="round" opacity="0.86"/><path d="M257.8,274.4 A10.2,10.2 0 0 1 255.3,272.9" stroke="#c6c684" stroke-width="1.7" fill="none" stroke-linecap="round" opacity="0.86"/><path d="M269.8,274.0 A12.1,12.1 0 0 1 266.6,276.1" stroke="#c6c684" stroke-width="1.2" fill="none" stroke-linecap="round" opacity="0.64"/><path d="M268.1,261.9 A7.1,7.1 0 0 1 268.8,263.9" stroke="#c6c684" stroke-width="1.4" fill="none" stroke-linecap="round" opacity="0.61"/><path d="M260.6,273.7 A8.8,8.8 0 0 1 258.3,273.1" stroke="#c6c684" stroke-width="2.1" fill="none" stroke-linecap="round" opacity="0.63"/><path d="M252.8,277.1 A15.0,15.0 0 0 1 249.3,273.4" stroke="#c6c684" stroke-width="1.0" fill="none" stroke-linecap="round" opacity="0.69"/><path d="M258.3,282.0 A17.4,17.4 0 0 1 253.7,280.4" stroke="#c6c684" stroke-width="1.3" fill="none" stroke-linecap="round" opacity="0.79"/><path d="M253.1,265.8 A8.6,8.6 0 0 1 253.4,262.8" stroke="#c6c684" stroke-width="1.9" fill="none" stroke-linecap="round" opacity="0.79"/><path d="M246.2,261.3 A15.9,15.9 0 0 1 249.3,255.1" stroke="#c6c684" stroke-width="1.7" fill="none" stroke-linecap="round" opacity="0.62"/></g>
<circle cx="256.39" cy="226.60" r="19.40" fill="url(#tg)"/>
<circle cx="263.96" cy="230.46" r="8.60" fill="#fff" clip-path="url(#cl12)"/>
<g clip-path="url(#cl12)"><path d="M245.2,227.9 A14.6,14.6 0 0 1 245.7,224.3" stroke="#c6c684" stroke-width="1.8" fill="none" stroke-linecap="round" opacity="0.75"/><path d="M249.3,218.9 A14.1,14.1 0 0 1 253.2,215.9" stroke="#c6c684" stroke-width="2.1" fill="none" stroke-linecap="round" opacity="0.88"/><path d="M256.0,213.7 A15.1,15.1 0 0 1 259.3,213.2" stroke="#c6c684" stroke-width="1.7" fill="none" stroke-linecap="round" opacity="0.85"/><path d="M274.4,234.2 A15.7,15.7 0 0 1 272.8,237.2" stroke="#c6c684" stroke-width="1.6" fill="none" stroke-linecap="round" opacity="0.81"/><path d="M257.0,212.7 A15.8,15.8 0 0 1 261.6,212.6" stroke="#c6c684" stroke-width="2.1" fill="none" stroke-linecap="round" opacity="0.78"/><path d="M242.9,220.8 A18.5,18.5 0 0 1 245.2,216.9" stroke="#c6c684" stroke-width="1.9" fill="none" stroke-linecap="round" opacity="0.98"/><path d="M273.6,236.4 A16.0,16.0 0 0 1 270.0,240.6" stroke="#c6c684" stroke-width="1.6" fill="none" stroke-linecap="round" opacity="0.92"/><path d="M265.3,221.7 A8.6,8.6 0 0 1 267.0,223.6" stroke="#c6c684" stroke-width="1.7" fill="none" stroke-linecap="round" opacity="0.88"/><path d="M275.5,224.1 A16.3,16.3 0 0 1 275.9,230.6" stroke="#c6c684" stroke-width="1.1" fill="none" stroke-linecap="round" opacity="0.77"/><path d="M275.2,219.0 A18.0,18.0 0 0 1 277.5,225.3" stroke="#c6c684" stroke-width="1.4" fill="none" stroke-linecap="round" opacity="0.91"/><path d="M245.4,225.4 A14.7,14.7 0 0 1 247.2,220.8" stroke="#c6c684" stroke-width="2.0" fill="none" stroke-linecap="round" opacity="0.89"/><path d="M272.2,226.0 A12.7,12.7 0 0 1 272.4,229.8" stroke="#c6c684" stroke-width="1.8" fill="none" stroke-linecap="round" opacity="0.82"/><path d="M277.1,233.8 A18.1,18.1 0 0 1 275.2,237.9" stroke="#c6c684" stroke-width="1.6" fill="none" stroke-linecap="round" opacity="0.62"/><path d="M266.3,244.9 A17.8,17.8 0 0 1 262.3,245.9" stroke="#c6c684" stroke-width="1.4" fill="none" stroke-linecap="round" opacity="0.92"/><path d="M260.6,243.0 A14.7,14.7 0 0 1 255.9,242.5" stroke="#c6c684" stroke-width="2.1" fill="none" stroke-linecap="round" opacity="0.79"/><path d="M255.1,237.1 A9.9,9.9 0 0 1 253.0,235.6" stroke="#c6c684" stroke-width="1.0" fill="none" stroke-linecap="round" opacity="0.65"/><path d="M266.1,236.8 A10.6,10.6 0 0 1 262.5,238.6" stroke="#c6c684" stroke-width="2.1" fill="none" stroke-linecap="round" opacity="0.74"/><path d="M259.8,238.7 A10.3,10.3 0 0 1 256.4,238.1" stroke="#c6c684" stroke-width="1.6" fill="none" stroke-linecap="round" opacity="0.65"/><path d="M249.9,226.8 A10.0,10.0 0 0 1 250.3,225.0" stroke="#c6c684" stroke-width="1.9" fill="none" stroke-linecap="round" opacity="0.64"/><path d="M245.1,234.2 A15.9,15.9 0 0 1 244.0,229.4" stroke="#c6c684" stroke-width="2.0" fill="none" stroke-linecap="round" opacity="0.73"/><path d="M266.8,225.9 A7.4,7.4 0 0 1 267.2,228.9" stroke="#c6c684" stroke-width="1.5" fill="none" stroke-linecap="round" opacity="0.60"/><path d="M258.7,246.8 A18.5,18.5 0 0 1 252.2,245.2" stroke="#c6c684" stroke-width="1.9" fill="none" stroke-linecap="round" opacity="0.92"/><path d="M270.3,228.8 A10.5,10.5 0 0 1 269.7,231.7" stroke="#c6c684" stroke-width="2.1" fill="none" stroke-linecap="round" opacity="0.96"/><path d="M270.7,243.2 A18.5,18.5 0 0 1 265.5,245.9" stroke="#c6c684" stroke-width="1.4" fill="none" stroke-linecap="round" opacity="0.63"/><path d="M248.2,234.1 A13.0,13.0 0 0 1 247.0,230.6" stroke="#c6c684" stroke-width="1.4" fill="none" stroke-linecap="round" opacity="0.98"/><path d="M249.4,230.0 A10.5,10.5 0 0 1 249.6,226.0" stroke="#c6c684" stroke-width="1.3" fill="none" stroke-linecap="round" opacity="0.77"/><path d="M267.5,234.2 A9.7,9.7 0 0 1 264.2,237.0" stroke="#c6c684" stroke-width="1.7" fill="none" stroke-linecap="round" opacity="0.81"/><path d="M253.0,215.3 A14.8,14.8 0 0 1 257.2,213.8" stroke="#c6c684" stroke-width="1.4" fill="none" stroke-linecap="round" opacity="0.66"/><path d="M268.0,229.9 A8.3,8.3 0 0 1 267.2,232.0" stroke="#c6c684" stroke-width="1.0" fill="none" stroke-linecap="round" opacity="0.87"/><path d="M254.8,236.5 A9.6,9.6 0 0 1 252.9,235.1" stroke="#c6c684" stroke-width="1.6" fill="none" stroke-linecap="round" opacity="0.68"/><path d="M267.3,218.3 A12.5,12.5 0 0 1 268.9,219.7" stroke="#c6c684" stroke-width="1.1" fill="none" stroke-linecap="round" opacity="0.96"/><path d="M250.7,223.5 A10.3,10.3 0 0 1 253.0,220.6" stroke="#c6c684" stroke-width="1.1" fill="none" stroke-linecap="round" opacity="0.96"/><path d="M273.3,222.6 A14.7,14.7 0 0 1 274.1,224.9" stroke="#c6c684" stroke-width="1.5" fill="none" stroke-linecap="round" opacity="0.93"/><path d="M252.0,223.2 A9.3,9.3 0 0 1 253.3,221.6" stroke="#c6c684" stroke-width="1.1" fill="none" stroke-linecap="round" opacity="0.81"/><path d="M264.9,239.3 A12.1,12.1 0 0 1 259.9,240.4" stroke="#c6c684" stroke-width="2.1" fill="none" stroke-linecap="round" opacity="0.80"/><path d="M261.6,220.1 A8.5,8.5 0 0 1 264.9,221.6" stroke="#c6c684" stroke-width="2.0" fill="none" stroke-linecap="round" opacity="0.79"/><path d="M267.6,221.5 A10.4,10.4 0 0 1 269.8,225.6" stroke="#c6c684" stroke-width="1.4" fill="none" stroke-linecap="round" opacity="0.97"/><path d="M269.1,213.1 A17.8,17.8 0 0 1 273.9,217.5" stroke="#c6c684" stroke-width="1.1" fill="none" stroke-linecap="round" opacity="0.71"/><path d="M250.0,213.8 A17.5,17.5 0 0 1 255.7,211.3" stroke="#c6c684" stroke-width="1.0" fill="none" stroke-linecap="round" opacity="0.74"/><path d="M254.8,235.7 A8.9,8.9 0 0 1 253.3,234.4" stroke="#c6c684" stroke-width="1.6" fill="none" stroke-linecap="round" opacity="0.75"/><path d="M258.5,240.0 A11.7,11.7 0 0 1 253.8,238.4" stroke="#c6c684" stroke-width="1.7" fill="none" stroke-linecap="round" opacity="0.90"/><path d="M266.4,225.4 A7.2,7.2 0 0 1 267.0,228.3" stroke="#c6c684" stroke-width="1.1" fill="none" stroke-linecap="round" opacity="0.68"/><path d="M258.8,212.7 A15.7,15.7 0 0 1 264.0,213.2" stroke="#c6c684" stroke-width="1.6" fill="none" stroke-linecap="round" opacity="0.89"/><path d="M251.6,232.3 A9.2,9.2 0 0 1 250.9,230.5" stroke="#c6c684" stroke-width="1.1" fill="none" stroke-linecap="round" opacity="0.61"/><path d="M277.0,223.0 A18.0,18.0 0 0 1 277.8,227.5" stroke="#c6c684" stroke-width="1.5" fill="none" stroke-linecap="round" opacity="0.71"/><path d="M262.3,215.9 A12.7,12.7 0 0 1 264.7,216.7" stroke="#c6c684" stroke-width="2.1" fill="none" stroke-linecap="round" opacity="0.97"/><path d="M271.5,231.9 A12.3,12.3 0 0 1 270.5,234.3" stroke="#c6c684" stroke-width="1.8" fill="none" stroke-linecap="round" opacity="0.74"/><path d="M256.7,238.3 A10.4,10.4 0 0 1 253.6,236.7" stroke="#c6c684" stroke-width="1.6" fill="none" stroke-linecap="round" opacity="0.80"/><path d="M254.5,217.1 A12.4,12.4 0 0 1 259.8,215.9" stroke="#c6c684" stroke-width="1.5" fill="none" stroke-linecap="round" opacity="0.92"/><path d="M272.6,222.3 A14.2,14.2 0 0 1 273.9,226.8" stroke="#c6c684" stroke-width="1.9" fill="none" stroke-linecap="round" opacity="0.88"/><path d="M263.9,239.4 A11.8,11.8 0 0 1 261.6,240.0" stroke="#c6c684" stroke-width="1.0" fill="none" stroke-linecap="round" opacity="0.87"/><path d="M255.1,237.0 A9.9,9.9 0 0 1 253.8,236.2" stroke="#c6c684" stroke-width="1.0" fill="none" stroke-linecap="round" opacity="0.87"/><path d="M252.3,237.7 A12.0,12.0 0 0 1 249.5,234.5" stroke="#c6c684" stroke-width="2.1" fill="none" stroke-linecap="round" opacity="0.88"/><path d="M263.3,246.5 A18.5,18.5 0 0 1 259.6,246.8" stroke="#c6c684" stroke-width="1.7" fill="none" stroke-linecap="round" opacity="0.86"/><path d="M255.8,245.2 A17.3,17.3 0 0 1 250.5,242.9" stroke="#c6c684" stroke-width="1.9" fill="none" stroke-linecap="round" opacity="0.66"/><path d="M264.9,219.4 A10.2,10.2 0 0 1 267.5,221.6" stroke="#c6c684" stroke-width="1.9" fill="none" stroke-linecap="round" opacity="0.73"/><path d="M258.8,239.0 A10.8,10.8 0 0 1 254.3,237.6" stroke="#c6c684" stroke-width="1.8" fill="none" stroke-linecap="round" opacity="0.79"/><path d="M246.3,222.8 A14.6,14.6 0 0 1 247.9,219.9" stroke="#c6c684" stroke-width="1.1" fill="none" stroke-linecap="round" opacity="0.64"/><path d="M247.7,221.5 A13.9,13.9 0 0 1 251.8,217.0" stroke="#c6c684" stroke-width="1.7" fill="none" stroke-linecap="round" opacity="0.94"/><path d="M272.5,227.3 A12.7,12.7 0 0 1 272.3,230.8" stroke="#c6c684" stroke-width="1.6" fill="none" stroke-linecap="round" opacity="0.75"/><path d="M260.7,214.7 A13.6,13.6 0 0 1 263.2,215.1" stroke="#c6c684" stroke-width="2.1" fill="none" stroke-linecap="round" opacity="0.81"/><path d="M259.7,215.0 A13.3,13.3 0 0 1 264.0,215.7" stroke="#c6c684" stroke-width="1.7" fill="none" stroke-linecap="round" opacity="0.65"/><path d="M270.3,239.7 A15.4,15.4 0 0 1 267.1,241.9" stroke="#c6c684" stroke-width="1.2" fill="none" stroke-linecap="round" opacity="0.93"/><path d="M259.6,212.5 A15.8,15.8 0 0 1 263.8,213.0" stroke="#c6c684" stroke-width="1.2" fill="none" stroke-linecap="round" opacity="0.90"/><path d="M263.0,242.7 A14.7,14.7 0 0 1 257.7,242.9" stroke="#c6c684" stroke-width="1.3" fill="none" stroke-linecap="round" opacity="0.60"/><path d="M246.2,219.7 A16.1,16.1 0 0 1 249.7,215.8" stroke="#c6c684" stroke-width="2.2" fill="none" stroke-linecap="round" opacity="0.69"/><path d="M258.4,216.4 A12.0,12.0 0 0 1 262.2,216.6" stroke="#c6c684" stroke-width="1.4" fill="none" stroke-linecap="round" opacity="0.69"/><path d="M246.4,224.1 A14.0,14.0 0 0 1 249.3,219.0" stroke="#c6c684" stroke-width="1.7" fill="none" stroke-linecap="round" opacity="0.80"/><path d="M251.5,216.8 A14.2,14.2 0 0 1 254.9,215.0" stroke="#c6c684" stroke-width="1.3" fill="none" stroke-linecap="round" opacity="0.87"/><path d="M254.3,233.1 A7.3,7.3 0 0 1 253.4,231.9" stroke="#c6c684" stroke-width="1.4" fill="none" stroke-linecap="round" opacity="0.87"/><path d="M252.8,217.8 A12.6,12.6 0 0 1 257.4,215.9" stroke="#c6c684" stroke-width="1.4" fill="none" stroke-linecap="round" opacity="0.74"/><path d="M259.9,213.5 A14.8,14.8 0 0 1 264.0,214.1" stroke="#c6c684" stroke-width="2.1" fill="none" stroke-linecap="round" opacity="0.61"/><path d="M243.3,224.5 A16.9,16.9 0 0 1 246.2,218.2" stroke="#c6c684" stroke-width="1.2" fill="none" stroke-linecap="round" opacity="0.92"/><path d="M242.3,224.7 A17.8,17.8 0 0 1 243.8,220.5" stroke="#c6c684" stroke-width="1.8" fill="none" stroke-linecap="round" opacity="0.86"/><path d="M270.6,227.7 A10.9,10.9 0 0 1 270.4,230.6" stroke="#c6c684" stroke-width="1.1" fill="none" stroke-linecap="round" opacity="0.87"/><path d="M275.0,235.5 A16.8,16.8 0 0 1 273.3,238.3" stroke="#c6c684" stroke-width="1.2" fill="none" stroke-linecap="round" opacity="0.98"/><path d="M244.1,228.5 A15.7,15.7 0 0 1 244.5,224.5" stroke="#c6c684" stroke-width="1.3" fill="none" stroke-linecap="round" opacity="0.75"/><path d="M268.9,227.4 A9.1,9.1 0 0 1 268.5,231.1" stroke="#c6c684" stroke-width="2.1" fill="none" stroke-linecap="round" opacity="0.87"/><path d="M258.3,243.7 A15.4,15.4 0 0 1 252.1,241.7" stroke="#c6c684" stroke-width="1.7" fill="none" stroke-linecap="round" opacity="0.69"/><path d="M245.8,216.8 A18.1,18.1 0 0 1 250.3,212.9" stroke="#c6c684" stroke-width="1.2" fill="none" stroke-linecap="round" opacity="0.68"/></g>
<circle cx="290.38" cy="204.53" r="19.40" fill="url(#tg)"/>
<circle cx="290.82" cy="213.01" r="8.60" fill="#fff" clip-path="url(#cl13)"/>
<g clip-path="url(#cl13)"><path d="M285.5,202.9 A7.4,7.4 0 0 1 286.4,202.2" stroke="#c6c684" stroke-width="1.4" fill="none" stroke-linecap="round" opacity="0.70"/><path d="M282.8,208.7 A7.7,7.7 0 0 1 283.1,206.2" stroke="#c6c684" stroke-width="1.8" fill="none" stroke-linecap="round" opacity="0.73"/><path d="M279.2,201.9 A13.1,13.1 0 0 1 282.5,198.1" stroke="#c6c684" stroke-width="1.7" fill="none" stroke-linecap="round" opacity="0.86"/><path d="M275.4,201.9 A16.5,16.5 0 0 1 276.8,199.3" stroke="#c6c684" stroke-width="1.1" fill="none" stroke-linecap="round" opacity="0.95"/><path d="M294.1,202.3 A7.0,7.0 0 0 1 296.2,204.3" stroke="#c6c684" stroke-width="1.7" fill="none" stroke-linecap="round" opacity="0.94"/><path d="M287.2,197.6 A11.3,11.3 0 0 1 289.2,197.1" stroke="#c6c684" stroke-width="1.9" fill="none" stroke-linecap="round" opacity="0.88"/><path d="M280.7,210.2 A10.1,10.1 0 0 1 280.6,207.6" stroke="#c6c684" stroke-width="2.1" fill="none" stroke-linecap="round" opacity="0.79"/><path d="M295.2,226.2 A18.4,18.4 0 0 1 287.1,226.4" stroke="#c6c684" stroke-width="1.2" fill="none" stroke-linecap="round" opacity="0.68"/><path d="M289.1,197.0 A11.4,11.4 0 0 1 292.5,197.1" stroke="#c6c684" stroke-width="1.8" fill="none" stroke-linecap="round" opacity="0.71"/><path d="M282.9,203.2 A9.3,9.3 0 0 1 284.2,201.6" stroke="#c6c684" stroke-width="1.7" fill="none" stroke-linecap="round" opacity="0.77"/><path d="M297.3,203.1 A8.6,8.6 0 0 1 298.9,206.3" stroke="#c6c684" stroke-width="1.3" fill="none" stroke-linecap="round" opacity="0.74"/><path d="M298.9,214.9 A10.6,10.6 0 0 1 295.3,217.8" stroke="#c6c684" stroke-width="1.4" fill="none" stroke-linecap="round" opacity="0.93"/><path d="M305.4,206.1 A15.0,15.0 0 0 1 305.6,209.2" stroke="#c6c684" stroke-width="1.5" fill="none" stroke-linecap="round" opacity="0.67"/><path d="M290.6,219.2 A10.8,10.8 0 0 1 288.5,218.9" stroke="#c6c684" stroke-width="1.8" fill="none" stroke-linecap="round" opacity="0.81"/><path d="M288.1,217.9 A9.9,9.9 0 0 1 286.3,217.2" stroke="#c6c684" stroke-width="1.1" fill="none" stroke-linecap="round" opacity="0.78"/><path d="M302.2,214.2 A13.0,13.0 0 0 1 300.5,216.7" stroke="#c6c684" stroke-width="1.9" fill="none" stroke-linecap="round" opacity="0.71"/><path d="M301.7,194.2 A18.0,18.0 0 0 1 306.5,200.1" stroke="#c6c684" stroke-width="1.3" fill="none" stroke-linecap="round" opacity="0.97"/><path d="M273.6,211.4 A17.2,17.2 0 0 1 273.4,206.4" stroke="#c6c684" stroke-width="1.6" fill="none" stroke-linecap="round" opacity="0.70"/><path d="M291.1,197.2 A11.2,11.2 0 0 1 295.6,198.3" stroke="#c6c684" stroke-width="1.8" fill="none" stroke-linecap="round" opacity="0.77"/><path d="M300.4,210.3 A10.0,10.0 0 0 1 299.5,212.9" stroke="#c6c684" stroke-width="1.4" fill="none" stroke-linecap="round" opacity="0.83"/><path d="M302.9,208.8 A12.4,12.4 0 0 1 301.7,213.7" stroke="#c6c684" stroke-width="2.1" fill="none" stroke-linecap="round" opacity="0.88"/><path d="M285.2,195.5 A13.9,13.9 0 0 1 291.3,194.4" stroke="#c6c684" stroke-width="1.9" fill="none" stroke-linecap="round" opacity="0.78"/><path d="M272.7,208.8 A17.9,17.9 0 0 1 273.4,203.3" stroke="#c6c684" stroke-width="1.7" fill="none" stroke-linecap="round" opacity="0.72"/><path d="M284.1,197.5 A12.6,12.6 0 0 1 289.2,195.8" stroke="#c6c684" stroke-width="2.2" fill="none" stroke-linecap="round" opacity="1.00"/><path d="M297.6,206.1 A7.4,7.4 0 0 1 297.9,207.3" stroke="#c6c684" stroke-width="1.4" fill="none" stroke-linecap="round" opacity="0.93"/><path d="M281.3,204.8 A9.9,9.9 0 0 1 282.1,203.2" stroke="#c6c684" stroke-width="1.3" fill="none" stroke-linecap="round" opacity="0.65"/><path d="M300.3,220.6 A15.6,15.6 0 0 1 297.5,222.3" stroke="#c6c684" stroke-width="1.2" fill="none" stroke-linecap="round" opacity="0.85"/><path d="M301.9,220.5 A16.6,16.6 0 0 1 297.1,223.6" stroke="#c6c684" stroke-width="2.1" fill="none" stroke-linecap="round" opacity="0.89"/><path d="M289.4,198.4 A10.0,10.0 0 0 1 292.1,198.5" stroke="#c6c684" stroke-width="1.5" fill="none" stroke-linecap="round" opacity="0.76"/><path d="M300.8,202.1 A12.0,12.0 0 0 1 302.4,206.4" stroke="#c6c684" stroke-width="1.8" fill="none" stroke-linecap="round" opacity="0.63"/><path d="M293.9,221.6 A13.7,13.7 0 0 1 288.7,221.9" stroke="#c6c684" stroke-width="1.3" fill="none" stroke-linecap="round" opacity="0.70"/><path d="M281.8,216.9 A12.3,12.3 0 0 1 279.8,214.2" stroke="#c6c684" stroke-width="2.1" fill="none" stroke-linecap="round" opacity="0.84"/><path d="M288.7,219.1 A10.9,10.9 0 0 1 285.5,218.0" stroke="#c6c684" stroke-width="1.2" fill="none" stroke-linecap="round" opacity="0.76"/><path d="M304.0,214.1 A14.6,14.6 0 0 1 300.5,219.0" stroke="#c6c684" stroke-width="2.1" fill="none" stroke-linecap="round" opacity="0.84"/><path d="M280.5,217.3 A13.4,13.4 0 0 1 278.2,213.7" stroke="#c6c684" stroke-width="1.2" fill="none" stroke-linecap="round" opacity="0.82"/><path d="M281.4,208.5 A9.2,9.2 0 0 1 281.7,205.9" stroke="#c6c684" stroke-width="2.0" fill="none" stroke-linecap="round" opacity="0.86"/><path d="M286.0,216.9 A9.7,9.7 0 0 1 283.4,214.8" stroke="#c6c684" stroke-width="1.7" fill="none" stroke-linecap="round" opacity="0.72"/><path d="M279.1,210.4 A11.6,11.6 0 0 1 279.1,206.5" stroke="#c6c684" stroke-width="2.1" fill="none" stroke-linecap="round" opacity="0.75"/><path d="M277.5,205.2 A13.5,13.5 0 0 1 279.4,200.9" stroke="#c6c684" stroke-width="1.3" fill="none" stroke-linecap="round" opacity="0.70"/><path d="M298.2,204.3 A8.6,8.6 0 0 1 299.1,207.2" stroke="#c6c684" stroke-width="1.3" fill="none" stroke-linecap="round" opacity="0.80"/><path d="M281.3,211.3 A9.7,9.7 0 0 1 280.9,209.3" stroke="#c6c684" stroke-width="2.1" fill="none" stroke-linecap="round" opacity="0.62"/><path d="M300.3,220.5 A15.5,15.5 0 0 1 296.8,222.6" stroke="#c6c684" stroke-width="1.2" fill="none" stroke-linecap="round" opacity="0.91"/><path d="M299.8,207.3 A9.3,9.3 0 0 1 299.6,210.6" stroke="#c6c684" stroke-width="1.5" fill="none" stroke-linecap="round" opacity="1.00"/><path d="M276.3,198.4 A17.4,17.4 0 0 1 280.6,194.1" stroke="#c6c684" stroke-width="1.2" fill="none" stroke-linecap="round" opacity="0.78"/><path d="M288.2,200.0 A8.7,8.7 0 0 1 289.7,199.7" stroke="#c6c684" stroke-width="2.2" fill="none" stroke-linecap="round" opacity="0.97"/><path d="M286.1,202.2 A7.6,7.6 0 0 1 288.6,201.0" stroke="#c6c684" stroke-width="2.2" fill="none" stroke-linecap="round" opacity="0.91"/><path d="M288.0,196.6 A12.0,12.0 0 0 1 292.0,196.4" stroke="#c6c684" stroke-width="2.1" fill="none" stroke-linecap="round" opacity="0.80"/><path d="M298.2,212.2 A8.6,8.6 0 0 1 295.9,215.1" stroke="#c6c684" stroke-width="1.9" fill="none" stroke-linecap="round" opacity="0.97"/><path d="M295.4,214.8 A8.1,8.1 0 0 1 292.9,216.1" stroke="#c6c684" stroke-width="1.5" fill="none" stroke-linecap="round" opacity="0.79"/><path d="M292.3,224.1 A15.8,15.8 0 0 1 286.3,223.6" stroke="#c6c684" stroke-width="1.9" fill="none" stroke-linecap="round" opacity="0.77"/><path d="M279.1,209.0 A11.5,11.5 0 0 1 279.4,205.7" stroke="#c6c684" stroke-width="1.4" fill="none" stroke-linecap="round" opacity="0.79"/><path d="M306.4,204.5 A16.3,16.3 0 0 1 306.8,207.6" stroke="#c6c684" stroke-width="1.8" fill="none" stroke-linecap="round" opacity="0.93"/><path d="M280.9,222.7 A17.3,17.3 0 0 1 275.8,217.3" stroke="#c6c684" stroke-width="1.1" fill="none" stroke-linecap="round" opacity="0.85"/><path d="M281.5,216.8 A12.3,12.3 0 0 1 279.4,213.6" stroke="#c6c684" stroke-width="2.0" fill="none" stroke-linecap="round" opacity="0.85"/><path d="M298.1,202.0 A9.8,9.8 0 0 1 299.9,205.3" stroke="#c6c684" stroke-width="1.5" fill="none" stroke-linecap="round" opacity="0.67"/><path d="M295.0,195.5 A13.6,13.6 0 0 1 297.7,196.7" stroke="#c6c684" stroke-width="2.1" fill="none" stroke-linecap="round" opacity="0.80"/><path d="M282.1,192.0 A18.4,18.4 0 0 1 286.4,190.4" stroke="#c6c684" stroke-width="1.7" fill="none" stroke-linecap="round" opacity="0.82"/><path d="M287.7,221.2 A13.1,13.1 0 0 1 282.5,218.7" stroke="#c6c684" stroke-width="1.8" fill="none" stroke-linecap="round" opacity="0.71"/><path d="M284.9,195.5 A14.1,14.1 0 0 1 288.4,194.4" stroke="#c6c684" stroke-width="1.8" fill="none" stroke-linecap="round" opacity="0.75"/><path d="M292.8,197.1 A11.4,11.4 0 0 1 297.0,198.9" stroke="#c6c684" stroke-width="1.4" fill="none" stroke-linecap="round" opacity="0.67"/><path d="M286.6,215.7 A8.4,8.4 0 0 1 284.0,213.5" stroke="#c6c684" stroke-width="2.2" fill="none" stroke-linecap="round" opacity="0.77"/><path d="M291.6,225.5 A17.2,17.2 0 0 1 284.8,224.6" stroke="#c6c684" stroke-width="1.3" fill="none" stroke-linecap="round" opacity="0.72"/><path d="M282.2,208.5 A8.4,8.4 0 0 1 282.3,206.7" stroke="#c6c684" stroke-width="1.5" fill="none" stroke-linecap="round" opacity="0.65"/><path d="M299.2,219.4 A14.0,14.0 0 0 1 296.3,221.1" stroke="#c6c684" stroke-width="2.1" fill="none" stroke-linecap="round" opacity="0.98"/><path d="M285.7,199.5 A10.1,10.1 0 0 1 289.3,198.3" stroke="#c6c684" stroke-width="1.4" fill="none" stroke-linecap="round" opacity="0.95"/><path d="M277.3,215.3 A15.0,15.0 0 0 1 275.7,209.9" stroke="#c6c684" stroke-width="1.8" fill="none" stroke-linecap="round" opacity="0.90"/><path d="M285.8,215.6 A8.7,8.7 0 0 1 284.1,214.1" stroke="#c6c684" stroke-width="2.2" fill="none" stroke-linecap="round" opacity="0.61"/><path d="M288.5,218.6 A10.5,10.5 0 0 1 285.7,217.6" stroke="#c6c684" stroke-width="2.0" fill="none" stroke-linecap="round" opacity="0.67"/><path d="M296.2,212.7 A7.1,7.1 0 0 1 294.9,213.9" stroke="#c6c684" stroke-width="1.9" fill="none" stroke-linecap="round" opacity="0.78"/><path d="M282.7,198.1 A12.9,12.9 0 0 1 285.6,196.4" stroke="#c6c684" stroke-width="1.5" fill="none" stroke-linecap="round" opacity="0.62"/><path d="M305.3,203.8 A15.5,15.5 0 0 1 305.9,206.5" stroke="#c6c684" stroke-width="1.2" fill="none" stroke-linecap="round" opacity="0.91"/><path d="M274.9,207.6 A15.7,15.7 0 0 1 276.3,201.9" stroke="#c6c684" stroke-width="1.2" fill="none" stroke-linecap="round" opacity="0.93"/><path d="M293.1,216.4 A8.5,8.5 0 0 1 290.0,216.8" stroke="#c6c684" stroke-width="2.0" fill="none" stroke-linecap="round" opacity="0.72"/><path d="M278.9,218.6 A15.5,15.5 0 0 1 276.9,215.5" stroke="#c6c684" stroke-width="1.5" fill="none" stroke-linecap="round" opacity="1.00"/><path d="M302.9,221.4 A17.9,17.9 0 0 1 296.6,225.3" stroke="#c6c684" stroke-width="2.2" fill="none" stroke-linecap="round" opacity="0.70"/><path d="M294.4,219.7 A12.0,12.0 0 0 1 292.1,220.3" stroke="#c6c684" stroke-width="2.1" fill="none" stroke-linecap="round" opacity="0.83"/><path d="M297.5,197.8 A12.6,12.6 0 0 1 300.3,200.3" stroke="#c6c684" stroke-width="2.1" fill="none" stroke-linecap="round" opacity="0.65"/><path d="M293.2,225.1 A16.9,16.9 0 0 1 287.7,225.0" stroke="#c6c684" stroke-width="1.9" fill="none" stroke-linecap="round" opacity="1.00"/><path d="M292.5,194.4 A14.0,14.0 0 0 1 297.5,196.1" stroke="#c6c684" stroke-width="1.6" fill="none" stroke-linecap="round" opacity="0.69"/><path d="M282.5,224.1 A17.7,17.7 0 0 1 278.1,220.9" stroke="#c6c684" stroke-width="1.0" fill="none" stroke-linecap="round" opacity="0.86"/></g>
<circle cx="326.49" cy="222.93" r="19.40" fill="url(#tg)"/>
<circle cx="319.36" cy="227.56" r="8.60" fill="#fff" clip-path="url(#cl14)"/>
<g clip-path="url(#cl14)"><path d="M337.5,224.4 A14.2,14.2 0 0 1 337.0,228.6" stroke="#c6c684" stroke-width="1.5" fill="none" stroke-linecap="round" opacity="0.85"/><path d="M313.8,216.7 A12.6,12.6 0 0 1 318.1,213.5" stroke="#c6c684" stroke-width="2.1" fill="none" stroke-linecap="round" opacity="0.91"/><path d="M320.9,209.9 A15.3,15.3 0 0 1 324.1,209.7" stroke="#c6c684" stroke-width="1.6" fill="none" stroke-linecap="round" opacity="0.71"/><path d="M328.3,242.3 A18.0,18.0 0 0 1 324.4,243.0" stroke="#c6c684" stroke-width="2.0" fill="none" stroke-linecap="round" opacity="0.93"/><path d="M317.4,229.0 A7.2,7.2 0 0 1 316.7,227.8" stroke="#c6c684" stroke-width="1.8" fill="none" stroke-linecap="round" opacity="0.88"/><path d="M314.8,236.0 A13.9,13.9 0 0 1 312.8,234.1" stroke="#c6c684" stroke-width="1.8" fill="none" stroke-linecap="round" opacity="0.91"/><path d="M326.0,211.8 A13.5,13.5 0 0 1 330.1,213.4" stroke="#c6c684" stroke-width="1.0" fill="none" stroke-linecap="round" opacity="0.71"/><path d="M316.9,229.3 A7.7,7.7 0 0 1 316.2,228.1" stroke="#c6c684" stroke-width="2.1" fill="none" stroke-linecap="round" opacity="0.87"/><path d="M309.5,219.3 A15.0,15.0 0 0 1 312.9,214.2" stroke="#c6c684" stroke-width="1.8" fill="none" stroke-linecap="round" opacity="0.77"/><path d="M309.0,236.4 A18.3,18.3 0 0 1 305.6,229.3" stroke="#c6c684" stroke-width="1.2" fill="none" stroke-linecap="round" opacity="0.93"/><path d="M316.5,216.5 A10.9,10.9 0 0 1 319.9,214.6" stroke="#c6c684" stroke-width="1.3" fill="none" stroke-linecap="round" opacity="0.90"/><path d="M310.5,220.0 A13.7,13.7 0 0 1 311.5,218.0" stroke="#c6c684" stroke-width="2.1" fill="none" stroke-linecap="round" opacity="0.98"/><path d="M324.0,214.7 A10.3,10.3 0 0 1 327.6,215.7" stroke="#c6c684" stroke-width="1.1" fill="none" stroke-linecap="round" opacity="0.82"/><path d="M316.3,235.3 A12.4,12.4 0 0 1 314.1,233.3" stroke="#c6c684" stroke-width="1.1" fill="none" stroke-linecap="round" opacity="0.77"/><path d="M324.0,233.9 A8.9,8.9 0 0 1 321.8,233.8" stroke="#c6c684" stroke-width="1.1" fill="none" stroke-linecap="round" opacity="0.61"/><path d="M330.7,223.8 A7.5,7.5 0 0 1 330.6,226.9" stroke="#c6c684" stroke-width="1.5" fill="none" stroke-linecap="round" opacity="0.65"/><path d="M311.7,230.5 A12.8,12.8 0 0 1 311.0,228.5" stroke="#c6c684" stroke-width="1.7" fill="none" stroke-linecap="round" opacity="0.60"/><path d="M318.7,239.5 A15.2,15.2 0 0 1 313.4,236.6" stroke="#c6c684" stroke-width="1.2" fill="none" stroke-linecap="round" opacity="0.76"/><path d="M333.3,221.6 A10.6,10.6 0 0 1 333.7,223.5" stroke="#c6c684" stroke-width="1.3" fill="none" stroke-linecap="round" opacity="0.95"/><path d="M315.1,237.2 A14.7,14.7 0 0 1 310.7,232.6" stroke="#c6c684" stroke-width="1.7" fill="none" stroke-linecap="round" opacity="0.68"/><path d="M312.7,226.3 A10.7,10.7 0 0 1 312.7,223.2" stroke="#c6c684" stroke-width="1.7" fill="none" stroke-linecap="round" opacity="0.99"/><path d="M318.5,213.1 A12.8,12.8 0 0 1 323.4,212.2" stroke="#c6c684" stroke-width="1.6" fill="none" stroke-linecap="round" opacity="0.68"/><path d="M318.5,216.2 A10.1,10.1 0 0 1 320.4,215.4" stroke="#c6c684" stroke-width="1.5" fill="none" stroke-linecap="round" opacity="0.79"/><path d="M334.2,227.2 A11.1,11.1 0 0 1 332.2,231.7" stroke="#c6c684" stroke-width="1.6" fill="none" stroke-linecap="round" opacity="0.75"/><path d="M308.8,229.0 A15.1,15.1 0 0 1 308.2,224.6" stroke="#c6c684" stroke-width="1.5" fill="none" stroke-linecap="round" opacity="0.83"/><path d="M320.9,239.7 A14.9,14.9 0 0 1 317.0,238.5" stroke="#c6c684" stroke-width="1.8" fill="none" stroke-linecap="round" opacity="0.74"/><path d="M317.4,218.0 A9.2,9.2 0 0 1 319.7,216.6" stroke="#c6c684" stroke-width="1.6" fill="none" stroke-linecap="round" opacity="0.61"/><path d="M331.9,233.8 A12.3,12.3 0 0 1 328.0,236.3" stroke="#c6c684" stroke-width="2.0" fill="none" stroke-linecap="round" opacity="0.94"/><path d="M329.6,207.9 A18.2,18.2 0 0 1 333.0,209.6" stroke="#c6c684" stroke-width="1.2" fill="none" stroke-linecap="round" opacity="0.66"/><path d="M325.7,216.2 A9.1,9.1 0 0 1 327.7,217.1" stroke="#c6c684" stroke-width="1.2" fill="none" stroke-linecap="round" opacity="0.96"/><path d="M325.7,234.3 A9.6,9.6 0 0 1 322.6,234.6" stroke="#c6c684" stroke-width="1.8" fill="none" stroke-linecap="round" opacity="0.62"/><path d="M311.8,218.7 A13.1,13.1 0 0 1 314.3,215.5" stroke="#c6c684" stroke-width="1.6" fill="none" stroke-linecap="round" opacity="0.92"/><path d="M330.8,209.8 A17.0,17.0 0 0 1 334.3,212.1" stroke="#c6c684" stroke-width="1.1" fill="none" stroke-linecap="round" opacity="0.79"/><path d="M337.4,227.4 A14.3,14.3 0 0 1 336.1,231.4" stroke="#c6c684" stroke-width="1.9" fill="none" stroke-linecap="round" opacity="0.93"/><path d="M321.6,210.1 A15.0,15.0 0 0 1 325.4,210.1" stroke="#c6c684" stroke-width="1.9" fill="none" stroke-linecap="round" opacity="0.86"/><path d="M326.6,241.8 A17.1,17.1 0 0 1 321.6,242.0" stroke="#c6c684" stroke-width="1.6" fill="none" stroke-linecap="round" opacity="0.68"/><path d="M329.4,214.2 A12.4,12.4 0 0 1 332.9,217.1" stroke="#c6c684" stroke-width="2.0" fill="none" stroke-linecap="round" opacity="0.81"/><path d="M312.7,218.7 A12.3,12.3 0 0 1 314.3,216.6" stroke="#c6c684" stroke-width="2.0" fill="none" stroke-linecap="round" opacity="0.97"/><path d="M330.4,226.6 A7.3,7.3 0 0 1 329.6,228.6" stroke="#c6c684" stroke-width="1.1" fill="none" stroke-linecap="round" opacity="0.78"/><path d="M318.0,233.1 A9.7,9.7 0 0 1 315.3,230.6" stroke="#c6c684" stroke-width="1.7" fill="none" stroke-linecap="round" opacity="0.97"/><path d="M327.2,235.7 A11.3,11.3 0 0 1 323.4,236.3" stroke="#c6c684" stroke-width="1.9" fill="none" stroke-linecap="round" opacity="0.77"/><path d="M327.7,235.5 A11.4,11.4 0 0 1 324.2,236.4" stroke="#c6c684" stroke-width="2.2" fill="none" stroke-linecap="round" opacity="0.86"/><path d="M332.6,211.2 A16.7,16.7 0 0 1 336.0,214.3" stroke="#c6c684" stroke-width="1.6" fill="none" stroke-linecap="round" opacity="0.93"/><path d="M321.3,213.6 A11.6,11.6 0 0 1 323.7,213.5" stroke="#c6c684" stroke-width="1.9" fill="none" stroke-linecap="round" opacity="0.72"/><path d="M322.4,234.8 A9.8,9.8 0 0 1 319.0,233.9" stroke="#c6c684" stroke-width="1.8" fill="none" stroke-linecap="round" opacity="0.97"/><path d="M312.7,218.3 A12.5,12.5 0 0 1 316.3,214.6" stroke="#c6c684" stroke-width="1.2" fill="none" stroke-linecap="round" opacity="0.84"/><path d="M334.0,224.2 A10.8,10.8 0 0 1 334.0,226.3" stroke="#c6c684" stroke-width="1.1" fill="none" stroke-linecap="round" opacity="0.61"/><path d="M322.0,213.4 A11.7,11.7 0 0 1 326.6,213.8" stroke="#c6c684" stroke-width="2.0" fill="none" stroke-linecap="round" opacity="0.61"/><path d="M319.8,234.4 A10.0,10.0 0 0 1 317.8,233.3" stroke="#c6c684" stroke-width="1.0" fill="none" stroke-linecap="round" opacity="0.70"/><path d="M316.8,235.3 A12.2,12.2 0 0 1 313.9,232.8" stroke="#c6c684" stroke-width="2.2" fill="none" stroke-linecap="round" opacity="0.64"/><path d="M334.9,238.0 A17.5,17.5 0 0 1 331.5,240.4" stroke="#c6c684" stroke-width="1.6" fill="none" stroke-linecap="round" opacity="0.72"/><path d="M337.4,214.1 A17.8,17.8 0 0 1 340.1,219.1" stroke="#c6c684" stroke-width="1.1" fill="none" stroke-linecap="round" opacity="0.75"/><path d="M319.4,212.1 A13.5,13.5 0 0 1 322.5,211.5" stroke="#c6c684" stroke-width="1.5" fill="none" stroke-linecap="round" opacity="0.62"/><path d="M309.7,234.4 A16.5,16.5 0 0 1 307.7,230.5" stroke="#c6c684" stroke-width="1.6" fill="none" stroke-linecap="round" opacity="0.67"/><path d="M320.5,213.6 A11.8,11.8 0 0 1 323.6,213.2" stroke="#c6c684" stroke-width="1.9" fill="none" stroke-linecap="round" opacity="0.72"/><path d="M336.0,231.8 A14.4,14.4 0 0 1 332.7,235.9" stroke="#c6c684" stroke-width="1.1" fill="none" stroke-linecap="round" opacity="0.74"/><path d="M333.0,216.6 A12.8,12.8 0 0 1 334.9,219.5" stroke="#c6c684" stroke-width="1.2" fill="none" stroke-linecap="round" opacity="0.72"/><path d="M308.2,215.9 A17.6,17.6 0 0 1 312.3,211.3" stroke="#c6c684" stroke-width="2.2" fill="none" stroke-linecap="round" opacity="0.76"/><path d="M333.2,229.6 A10.9,10.9 0 0 1 331.6,232.0" stroke="#c6c684" stroke-width="1.1" fill="none" stroke-linecap="round" opacity="0.63"/><path d="M338.0,215.8 A17.4,17.4 0 0 1 339.5,218.7" stroke="#c6c684" stroke-width="1.1" fill="none" stroke-linecap="round" opacity="0.99"/><path d="M328.5,234.0 A10.4,10.4 0 0 1 326.4,234.9" stroke="#c6c684" stroke-width="1.3" fill="none" stroke-linecap="round" opacity="0.61"/><path d="M307.8,228.8 A16.0,16.0 0 0 1 307.3,226.1" stroke="#c6c684" stroke-width="1.6" fill="none" stroke-linecap="round" opacity="0.65"/><path d="M327.4,208.0 A17.5,17.5 0 0 1 333.9,211.1" stroke="#c6c684" stroke-width="1.6" fill="none" stroke-linecap="round" opacity="0.66"/><path d="M321.7,217.5 A7.7,7.7 0 0 1 324.6,217.4" stroke="#c6c684" stroke-width="1.4" fill="none" stroke-linecap="round" opacity="0.96"/><path d="M319.9,240.2 A15.6,15.6 0 0 1 315.6,238.5" stroke="#c6c684" stroke-width="1.3" fill="none" stroke-linecap="round" opacity="0.80"/><path d="M315.4,228.7 A8.7,8.7 0 0 1 314.6,226.1" stroke="#c6c684" stroke-width="1.6" fill="none" stroke-linecap="round" opacity="0.88"/><path d="M315.8,236.9 A14.1,14.1 0 0 1 313.5,235.1" stroke="#c6c684" stroke-width="1.6" fill="none" stroke-linecap="round" opacity="0.70"/><path d="M325.3,216.1 A9.1,9.1 0 0 1 327.3,216.8" stroke="#c6c684" stroke-width="1.1" fill="none" stroke-linecap="round" opacity="0.72"/><path d="M314.0,222.6 A9.6,9.6 0 0 1 314.7,220.9" stroke="#c6c684" stroke-width="2.1" fill="none" stroke-linecap="round" opacity="0.72"/><path d="M325.7,236.3 A11.6,11.6 0 0 1 321.1,236.4" stroke="#c6c684" stroke-width="1.9" fill="none" stroke-linecap="round" opacity="0.96"/><path d="M312.9,222.0 A10.8,10.8 0 0 1 314.3,219.0" stroke="#c6c684" stroke-width="1.1" fill="none" stroke-linecap="round" opacity="0.87"/><path d="M332.6,210.1 A17.6,17.6 0 0 1 337.7,214.9" stroke="#c6c684" stroke-width="1.8" fill="none" stroke-linecap="round" opacity="0.92"/><path d="M319.8,238.0 A13.5,13.5 0 0 1 317.3,237.1" stroke="#c6c684" stroke-width="2.1" fill="none" stroke-linecap="round" opacity="0.80"/><path d="M331.5,241.5 A18.4,18.4 0 0 1 325.6,243.3" stroke="#c6c684" stroke-width="1.3" fill="none" stroke-linecap="round" opacity="0.94"/><path d="M313.3,214.9 A14.2,14.2 0 0 1 318.2,211.8" stroke="#c6c684" stroke-width="1.4" fill="none" stroke-linecap="round" opacity="0.71"/><path d="M314.9,221.1 A9.3,9.3 0 0 1 316.8,218.4" stroke="#c6c684" stroke-width="1.6" fill="none" stroke-linecap="round" opacity="0.68"/><path d="M329.5,231.2 A8.8,8.8 0 0 1 327.2,232.9" stroke="#c6c684" stroke-width="2.1" fill="none" stroke-linecap="round" opacity="0.92"/><path d="M331.1,214.0 A13.5,13.5 0 0 1 334.7,217.8" stroke="#c6c684" stroke-width="1.4" fill="none" stroke-linecap="round" opacity="0.75"/><path d="M331.4,219.4 A9.9,9.9 0 0 1 332.8,222.4" stroke="#c6c684" stroke-width="1.7" fill="none" stroke-linecap="round" opacity="0.62"/><path d="M308.4,218.5 A16.2,16.2 0 0 1 312.4,213.0" stroke="#c6c684" stroke-width="1.5" fill="none" stroke-linecap="round" opacity="0.96"/></g>
<line x1="243.7" y1="267.5" x2="239.6" y2="253.8" stroke="#8e8e52" stroke-width="3.6" stroke-linecap="butt"/><line x1="243.7" y1="267.5" x2="239.6" y2="253.8" stroke="#d6d698" stroke-width="2.4" stroke-linecap="butt"/><line x1="258.7" y1="218.5" x2="250.2" y2="224.9" stroke="#8e8e52" stroke-width="3.6" stroke-linecap="butt"/><line x1="258.7" y1="218.5" x2="250.2" y2="224.9" stroke="#d6d698" stroke-width="2.4" stroke-linecap="butt"/><line x1="334.2" y1="268.9" x2="330.3" y2="274.5" stroke="#8e8e52" stroke-width="3.6" stroke-linecap="butt"/><line x1="334.2" y1="268.9" x2="330.3" y2="274.5" stroke="#d6d698" stroke-width="2.4" stroke-linecap="butt"/><line x1="352.8" y1="253.7" x2="347.6" y2="267.4" stroke="#8e8e52" stroke-width="3.6" stroke-linecap="butt"/><line x1="352.8" y1="253.7" x2="347.6" y2="267.4" stroke="#d6d698" stroke-width="2.4" stroke-linecap="butt"/><line x1="315.5" y1="271.0" x2="309.3" y2="279.7" stroke="#8e8e52" stroke-width="3.6" stroke-linecap="butt"/><line x1="315.5" y1="271.0" x2="309.3" y2="279.7" stroke="#d6d698" stroke-width="2.4" stroke-linecap="butt"/><line x1="299.2" y1="284.4" x2="289.6" y2="280.8" stroke="#8e8e52" stroke-width="3.6" stroke-linecap="butt"/><line x1="299.2" y1="284.4" x2="289.6" y2="280.8" stroke="#d6d698" stroke-width="2.4" stroke-linecap="butt"/><line x1="237.6" y1="233.3" x2="239.0" y2="243.7" stroke="#8e8e52" stroke-width="3.6" stroke-linecap="butt"/><line x1="237.6" y1="233.3" x2="239.0" y2="243.7" stroke="#d6d698" stroke-width="2.4" stroke-linecap="butt"/><line x1="286.5" y1="298.1" x2="277.4" y2="310.0" stroke="#8e8e52" stroke-width="3.6" stroke-linecap="butt"/><line x1="286.5" y1="298.1" x2="277.4" y2="310.0" stroke="#d6d698" stroke-width="2.4" stroke-linecap="butt"/><line x1="277.4" y1="290.0" x2="271.0" y2="284.3" stroke="#8e8e52" stroke-width="3.6" stroke-linecap="butt"/><line x1="277.4" y1="290.0" x2="271.0" y2="284.3" stroke="#d6d698" stroke-width="2.4" stroke-linecap="butt"/><line x1="249.8" y1="276.7" x2="241.4" y2="281.1" stroke="#8e8e52" stroke-width="3.6" stroke-linecap="butt"/><line x1="249.8" y1="276.7" x2="241.4" y2="281.1" stroke="#d6d698" stroke-width="2.4" stroke-linecap="butt"/><line x1="341.8" y1="239.2" x2="334.0" y2="251.1" stroke="#8e8e52" stroke-width="3.6" stroke-linecap="butt"/><line x1="341.8" y1="239.2" x2="334.0" y2="251.1" stroke="#d6d698" stroke-width="2.4" stroke-linecap="butt"/><line x1="256.4" y1="264.8" x2="264.1" y2="273.6" stroke="#8e8e52" stroke-width="3.6" stroke-linecap="butt"/><line x1="256.4" y1="264.8" x2="264.1" y2="273.6" stroke="#d6d698" stroke-width="2.4" stroke-linecap="butt"/><line x1="327.1" y1="267.6" x2="340.8" y2="272.9" stroke="#8e8e52" stroke-width="3.6" stroke-linecap="butt"/><line x1="327.1" y1="267.6" x2="340.8" y2="272.9" stroke="#d6d698" stroke-width="2.4" stroke-linecap="butt"/><line x1="290.7" y1="284.8" x2="296.2" y2="288.3" stroke="#8e8e52" stroke-width="3.6" stroke-linecap="butt"/><line x1="290.7" y1="284.8" x2="296.2" y2="288.3" stroke="#d6d698" stroke-width="2.4" stroke-linecap="butt"/><line x1="241.4" y1="224.9" x2="248.5" y2="228.0" stroke="#8e8e52" stroke-width="3.6" stroke-linecap="butt"/><line x1="241.4" y1="224.9" x2="248.5" y2="228.0" stroke="#d6d698" stroke-width="2.4" stroke-linecap="butt"/><line x1="263.5" y1="215.8" x2="269.2" y2="207.9" stroke="#8e8e52" stroke-width="3.6" stroke-linecap="butt"/><line x1="263.5" y1="215.8" x2="269.2" y2="207.9" stroke="#d6d698" stroke-width="2.4" stroke-linecap="butt"/><line x1="345.3" y1="231.9" x2="352.2" y2="237.3" stroke="#8e8e52" stroke-width="3.6" stroke-linecap="butt"/><line x1="345.3" y1="231.9" x2="352.2" y2="237.3" stroke="#d6d698" stroke-width="2.4" stroke-linecap="butt"/><line x1="247.3" y1="286.6" x2="246.4" y2="274.9" stroke="#8e8e52" stroke-width="3.6" stroke-linecap="butt"/><line x1="247.3" y1="286.6" x2="246.4" y2="274.9" stroke="#d6d698" stroke-width="2.4" stroke-linecap="butt"/><line x1="309.0" y1="287.5" x2="297.4" y2="293.4" stroke="#8e8e52" stroke-width="3.6" stroke-linecap="butt"/><line x1="309.0" y1="287.5" x2="297.4" y2="293.4" stroke="#d6d698" stroke-width="2.4" stroke-linecap="butt"/><line x1="332.4" y1="258.6" x2="326.2" y2="268.0" stroke="#8e8e52" stroke-width="3.6" stroke-linecap="butt"/><line x1="332.4" y1="258.6" x2="326.2" y2="268.0" stroke="#d6d698" stroke-width="2.4" stroke-linecap="butt"/><line x1="261.9" y1="287.4" x2="252.3" y2="276.4" stroke="#8e8e52" stroke-width="3.6" stroke-linecap="butt"/><line x1="261.9" y1="287.4" x2="252.3" y2="276.4" stroke="#d6d698" stroke-width="2.4" stroke-linecap="butt"/><line x1="325.4" y1="209.9" x2="319.2" y2="213.9" stroke="#8e8e52" stroke-width="3.6" stroke-linecap="butt"/><line x1="325.4" y1="209.9" x2="319.2" y2="213.9" stroke="#d6d698" stroke-width="2.4" stroke-linecap="butt"/><line x1="287.5" y1="286.1" x2="297.8" y2="293.4" stroke="#8e8e52" stroke-width="3.6" stroke-linecap="butt"/><line x1="287.5" y1="286.1" x2="297.8" y2="293.4" stroke="#d6d698" stroke-width="2.4" stroke-linecap="butt"/><line x1="344.0" y1="223.0" x2="352.1" y2="231.0" stroke="#8e8e52" stroke-width="3.6" stroke-linecap="butt"/><line x1="344.0" y1="223.0" x2="352.1" y2="231.0" stroke="#d6d698" stroke-width="2.4" stroke-linecap="butt"/><line x1="347.4" y1="256.4" x2="353.1" y2="262.3" stroke="#8e8e52" stroke-width="3.6" stroke-linecap="butt"/><line x1="347.4" y1="256.4" x2="353.1" y2="262.3" stroke="#d6d698" stroke-width="2.4" stroke-linecap="butt"/><line x1="313.3" y1="193.9" x2="319.8" y2="199.7" stroke="#8e8e52" stroke-width="3.6" stroke-linecap="butt"/><line x1="313.3" y1="193.9" x2="319.8" y2="199.7" stroke="#d6d698" stroke-width="2.4" stroke-linecap="butt"/><line x1="336.1" y1="259.1" x2="332.2" y2="269.4" stroke="#8e8e52" stroke-width="3.6" stroke-linecap="butt"/><line x1="336.1" y1="259.1" x2="332.2" y2="269.4" stroke="#d6d698" stroke-width="2.4" stroke-linecap="butt"/><line x1="285.3" y1="302.5" x2="277.5" y2="303.1" stroke="#8e8e52" stroke-width="3.6" stroke-linecap="butt"/><line x1="285.3" y1="302.5" x2="277.5" y2="303.1" stroke="#d6d698" stroke-width="2.4" stroke-linecap="butt"/><line x1="256.1" y1="261.9" x2="254.2" y2="254.6" stroke="#8e8e52" stroke-width="3.6" stroke-linecap="butt"/><line x1="256.1" y1="261.9" x2="254.2" y2="254.6" stroke="#d6d698" stroke-width="2.4" stroke-linecap="butt"/><line x1="329.2" y1="275.1" x2="322.5" y2="287.4" stroke="#8e8e52" stroke-width="3.6" stroke-linecap="butt"/><line x1="329.2" y1="275.1" x2="322.5" y2="287.4" stroke="#d6d698" stroke-width="2.4" stroke-linecap="butt"/><line x1="271.0" y1="197.9" x2="275.3" y2="192.0" stroke="#8e8e52" stroke-width="3.6" stroke-linecap="butt"/><line x1="271.0" y1="197.9" x2="275.3" y2="192.0" stroke="#d6d698" stroke-width="2.4" stroke-linecap="butt"/><line x1="336.6" y1="208.5" x2="342.3" y2="222.0" stroke="#8e8e52" stroke-width="3.6" stroke-linecap="butt"/><line x1="336.6" y1="208.5" x2="342.3" y2="222.0" stroke="#d6d698" stroke-width="2.4" stroke-linecap="butt"/><line x1="232.5" y1="250.2" x2="241.1" y2="252.3" stroke="#8e8e52" stroke-width="3.6" stroke-linecap="butt"/><line x1="232.5" y1="250.2" x2="241.1" y2="252.3" stroke="#d6d698" stroke-width="2.4" stroke-linecap="butt"/><line x1="242.9" y1="223.3" x2="234.5" y2="234.6" stroke="#8e8e52" stroke-width="3.6" stroke-linecap="butt"/><line x1="242.9" y1="223.3" x2="234.5" y2="234.6" stroke="#d6d698" stroke-width="2.4" stroke-linecap="butt"/><line x1="312.7" y1="186.9" x2="303.9" y2="189.7" stroke="#8e8e52" stroke-width="3.6" stroke-linecap="butt"/><line x1="312.7" y1="186.9" x2="303.9" y2="189.7" stroke="#d6d698" stroke-width="2.4" stroke-linecap="butt"/><line x1="328.8" y1="202.1" x2="325.8" y2="214.9" stroke="#8e8e52" stroke-width="3.6" stroke-linecap="butt"/><line x1="328.8" y1="202.1" x2="325.8" y2="214.9" stroke="#d6d698" stroke-width="2.4" stroke-linecap="butt"/><line x1="251.9" y1="208.5" x2="262.8" y2="211.3" stroke="#8e8e52" stroke-width="3.6" stroke-linecap="butt"/><line x1="251.9" y1="208.5" x2="262.8" y2="211.3" stroke="#d6d698" stroke-width="2.4" stroke-linecap="butt"/><line x1="251.8" y1="192.4" x2="256.5" y2="205.5" stroke="#8e8e52" stroke-width="3.6" stroke-linecap="butt"/><line x1="251.8" y1="192.4" x2="256.5" y2="205.5" stroke="#d6d698" stroke-width="2.4" stroke-linecap="butt"/><line x1="282.7" y1="190.4" x2="292.3" y2="193.0" stroke="#8e8e52" stroke-width="3.6" stroke-linecap="butt"/><line x1="282.7" y1="190.4" x2="292.3" y2="193.0" stroke="#d6d698" stroke-width="2.4" stroke-linecap="butt"/><line x1="287.1" y1="209.1" x2="298.0" y2="205.5" stroke="#8e8e52" stroke-width="3.6" stroke-linecap="butt"/><line x1="287.1" y1="209.1" x2="298.0" y2="205.5" stroke="#d6d698" stroke-width="2.4" stroke-linecap="butt"/>
<line x1="292.40" y1="310.00" x2="292.40" y2="326.50" stroke="#231f20" stroke-width="1.9" />
<polygon points="288.80,324.50 296.00,324.50 292.40,332.50" fill="#231f20" />
<path d="M275.90,345.60 L316.80,345.60 L333.30,377.70 L315.80,408.80 L276.80,408.80 L260.80,377.70 Z" fill="none" stroke="#7aaac8" stroke-width="4.4" stroke-linejoin="miter"/>
<line x1="275.90" y1="345.60" x2="269.00" y2="336.80" stroke="#7aaac8" stroke-width="4.6" />
<line x1="316.80" y1="345.60" x2="323.60" y2="336.80" stroke="#7aaac8" stroke-width="4.6" />
<line x1="333.30" y1="377.70" x2="345.50" y2="377.70" stroke="#7aaac8" stroke-width="4.6" />
<line x1="315.80" y1="408.80" x2="320.60" y2="419.50" stroke="#7aaac8" stroke-width="4.6" />
<line x1="276.80" y1="408.80" x2="271.00" y2="419.50" stroke="#7aaac8" stroke-width="4.6" />
<line x1="260.80" y1="377.70" x2="246.70" y2="377.70" stroke="#7aaac8" stroke-width="4.6" />
<path d="M241.3,356.3 C244,362 247,365 251,363.5 C255,362 258,358 262.3,357.3" fill="none" stroke="#cda251" stroke-width="1.9" stroke-linecap="round"/>
<path d="M299.2,361.1 C302,365 305,367 309,366 C313,365 315,358 318.7,357.3" fill="none" stroke="#cda251" stroke-width="1.9" stroke-linecap="round"/>
<path d="M328,361.1 C331,360 334,356 338,356 C342,356 346,358 348.4,360.2" fill="none" stroke="#cda251" stroke-width="1.9" stroke-linecap="round"/>
<path d="M243.8,391.3 C247,397 250,400 254,399 C259,398 262,393 266,391 C271,389 275,388 277,384 C279,380 283,379 290.5,378.7" fill="none" stroke="#cda251" stroke-width="1.9" stroke-linecap="round"/>
<path d="M298.7,382.1 C292,386 290,392 294,396 C298,400 299,403 299.2,405.9" fill="none" stroke="#cda251" stroke-width="1.9" stroke-linecap="round"/>
<path d="M306.5,374.3 C306,380 307,384 311,385 C315,386 317,386 319.7,386" fill="none" stroke="#cda251" stroke-width="1.9" stroke-linecap="round"/>
<path d="M327,398.1 C329,401 331,403 335,402.5 C339,402 341,397 344,396.5 C347,396 349,398 350.8,400.1" fill="none" stroke="#cda251" stroke-width="1.9" stroke-linecap="round"/>
<g transform="translate(295.80,346.50) rotate(0)"><ellipse rx="15.2" ry="5.4" fill="#2c6db8"/><text x="-1" y="3.1" font-size="8.6" text-anchor="middle" fill="#fff">TFSI<tspan font-size="5" dy="-3.5">-</tspan></text></g>
<g transform="translate(266.60,361.60) rotate(120)"><ellipse rx="15.2" ry="5.4" fill="#2c6db8"/><text x="-1" y="3.1" font-size="8.6" text-anchor="middle" fill="#fff">TFSI<tspan font-size="5" dy="-3.5">-</tspan></text></g>
<g transform="translate(323.80,392.80) rotate(-60)"><ellipse rx="15.2" ry="5.4" fill="#2c6db8"/><text x="-1" y="3.1" font-size="8.6" text-anchor="middle" fill="#fff">TFSI<tspan font-size="5" dy="-3.5">-</tspan></text></g>
<g transform="translate(307.00,358.70)"><circle r="4.9" fill="#e9552b"/><text x="-0.6" y="2.4" font-size="6.4" text-anchor="middle" fill="#fff">Li<tspan font-size="3.5" dy="-2.5">+</tspan></text></g>
<g transform="translate(341.60,364.50)"><circle r="4.9" fill="#e9552b"/><text x="-0.6" y="2.4" font-size="6.4" text-anchor="middle" fill="#fff">Li<tspan font-size="3.5" dy="-2.5">+</tspan></text></g>
<g transform="translate(273.00,374.80)"><circle r="4.9" fill="#e9552b"/><text x="-0.6" y="2.4" font-size="6.4" text-anchor="middle" fill="#fff">Li<tspan font-size="3.5" dy="-2.5">+</tspan></text></g>
<g transform="translate(284.60,385.50)"><circle r="4.9" fill="#e9552b"/><text x="-0.6" y="2.4" font-size="6.4" text-anchor="middle" fill="#fff">Li<tspan font-size="3.5" dy="-2.5">+</tspan></text></g>
<g transform="translate(311.90,380.10)"><circle r="4.9" fill="#e9552b"/><text x="-0.6" y="2.4" font-size="6.4" text-anchor="middle" fill="#fff">Li<tspan font-size="3.5" dy="-2.5">+</tspan></text></g>
<g transform="translate(343.00,388.90)"><circle r="4.9" fill="#e9552b"/><text x="-0.6" y="2.4" font-size="6.4" text-anchor="middle" fill="#fff">Li<tspan font-size="3.5" dy="-2.5">+</tspan></text></g>
<polygon points="534.27,241.66 525.28,263.91 501.51,267.25 486.73,248.34 495.72,226.09 519.49,222.75" fill="#7db4d4" />
<polygon points="571.85,256.84 562.85,279.10 539.09,282.44 524.31,263.52 533.30,241.27 557.07,237.93" fill="#7db4d4" />
<polygon points="539.91,281.80 530.92,304.05 507.15,307.39 492.37,288.48 501.36,266.22 525.13,262.88" fill="#7db4d4" />
<polygon points="502.33,266.61 493.34,288.87 469.57,292.21 454.80,273.29 463.79,251.04 487.55,247.70" fill="#7db4d4" />
<polygon points="496.69,226.48 487.70,248.73 463.93,252.07 449.15,233.16 458.15,210.90 481.91,207.56" fill="#7db4d4" />
<polygon points="528.63,201.52 519.64,223.78 495.87,227.12 481.09,208.20 490.08,185.95 513.85,182.61" fill="#7db4d4" />
<polygon points="566.20,216.71 557.21,238.96 533.45,242.30 518.67,223.39 527.66,201.13 551.43,197.79" fill="#7db4d4" />
<circle cx="510.50" cy="245.00" r="19.60" fill="url(#tg)"/>
<circle cx="509.30" cy="243.40" r="7.60" fill="#fff" clip-path="url(#cl15)"/>
<g clip-path="url(#cl15)"><path d="M499.4,246.8 A10.8,10.8 0 0 1 499.1,244.7" stroke="#c6c684" stroke-width="2.0" fill="none" stroke-linecap="round" opacity="0.60"/><path d="M492.5,244.0 A17.5,17.5 0 0 1 492.8,240.9" stroke="#c6c684" stroke-width="1.7" fill="none" stroke-linecap="round" opacity="0.85"/><path d="M520.5,247.1 A10.9,10.9 0 0 1 518.8,250.6" stroke="#c6c684" stroke-width="1.5" fill="none" stroke-linecap="round" opacity="0.89"/><path d="M515.0,251.9 A9.1,9.1 0 0 1 513.5,252.7" stroke="#c6c684" stroke-width="1.6" fill="none" stroke-linecap="round" opacity="0.97"/><path d="M496.5,235.7 A15.9,15.9 0 0 1 499.2,232.5" stroke="#c6c684" stroke-width="1.9" fill="none" stroke-linecap="round" opacity="0.64"/><path d="M506.2,258.4 A14.7,14.7 0 0 1 501.4,256.2" stroke="#c6c684" stroke-width="1.5" fill="none" stroke-linecap="round" opacity="0.64"/><path d="M509.0,253.0 A8.7,8.7 0 0 1 507.0,252.5" stroke="#c6c684" stroke-width="2.0" fill="none" stroke-linecap="round" opacity="0.68"/><path d="M523.0,233.0 A17.3,17.3 0 0 1 524.7,235.3" stroke="#c6c684" stroke-width="1.5" fill="none" stroke-linecap="round" opacity="0.80"/><path d="M521.3,246.0 A11.5,11.5 0 0 1 519.6,250.5" stroke="#c6c684" stroke-width="1.1" fill="none" stroke-linecap="round" opacity="0.84"/><path d="M519.7,253.6 A13.4,13.4 0 0 1 515.1,256.7" stroke="#c6c684" stroke-width="1.2" fill="none" stroke-linecap="round" opacity="0.60"/><path d="M521.2,250.8 A12.9,12.9 0 0 1 520.0,252.4" stroke="#c6c684" stroke-width="1.1" fill="none" stroke-linecap="round" opacity="0.80"/><path d="M520.0,238.8 A11.4,11.4 0 0 1 521.1,241.7" stroke="#c6c684" stroke-width="1.8" fill="none" stroke-linecap="round" opacity="0.64"/><path d="M502.7,240.3 A8.3,8.3 0 0 1 504.4,238.2" stroke="#c6c684" stroke-width="2.1" fill="none" stroke-linecap="round" opacity="0.62"/><path d="M497.0,239.6 A13.8,13.8 0 0 1 498.1,237.2" stroke="#c6c684" stroke-width="1.3" fill="none" stroke-linecap="round" opacity="1.00"/><path d="M517.6,244.2 A7.6,7.6 0 0 1 517.1,246.9" stroke="#c6c684" stroke-width="2.1" fill="none" stroke-linecap="round" opacity="0.69"/><path d="M504.9,240.0 A6.6,6.6 0 0 1 506.1,238.9" stroke="#c6c684" stroke-width="1.8" fill="none" stroke-linecap="round" opacity="0.84"/><path d="M511.1,237.2 A7.2,7.2 0 0 1 512.8,237.7" stroke="#c6c684" stroke-width="2.0" fill="none" stroke-linecap="round" opacity="0.83"/><path d="M499.3,247.7 A11.2,11.2 0 0 1 498.9,242.7" stroke="#c6c684" stroke-width="1.7" fill="none" stroke-linecap="round" opacity="0.61"/><path d="M513.1,234.5 A10.3,10.3 0 0 1 515.7,235.8" stroke="#c6c684" stroke-width="1.3" fill="none" stroke-linecap="round" opacity="0.78"/><path d="M506.7,250.7 A7.2,7.2 0 0 1 504.7,249.3" stroke="#c6c684" stroke-width="1.1" fill="none" stroke-linecap="round" opacity="0.91"/><path d="M525.8,246.8 A16.0,16.0 0 0 1 523.6,252.7" stroke="#c6c684" stroke-width="1.6" fill="none" stroke-linecap="round" opacity="0.88"/><path d="M510.1,259.7 A15.5,15.5 0 0 1 505.9,259.2" stroke="#c6c684" stroke-width="1.3" fill="none" stroke-linecap="round" opacity="0.99"/><path d="M501.2,250.6 A10.8,10.8 0 0 1 499.4,246.6" stroke="#c6c684" stroke-width="1.4" fill="none" stroke-linecap="round" opacity="0.87"/><path d="M518.0,259.1 A16.8,16.8 0 0 1 514.4,260.5" stroke="#c6c684" stroke-width="1.1" fill="none" stroke-linecap="round" opacity="0.99"/><path d="M518.4,260.3 A18.1,18.1 0 0 1 510.7,262.4" stroke="#c6c684" stroke-width="1.7" fill="none" stroke-linecap="round" opacity="0.60"/><path d="M518.1,247.5 A8.7,8.7 0 0 1 516.9,249.6" stroke="#c6c684" stroke-width="1.7" fill="none" stroke-linecap="round" opacity="0.99"/><path d="M505.2,250.5 A7.9,7.9 0 0 1 503.4,248.7" stroke="#c6c684" stroke-width="1.2" fill="none" stroke-linecap="round" opacity="0.63"/><path d="M495.9,239.1 A14.9,14.9 0 0 1 497.0,236.8" stroke="#c6c684" stroke-width="1.5" fill="none" stroke-linecap="round" opacity="0.88"/><path d="M510.9,233.4 A11.0,11.0 0 0 1 515.3,234.7" stroke="#c6c684" stroke-width="1.2" fill="none" stroke-linecap="round" opacity="0.89"/><path d="M512.3,227.2 A17.3,17.3 0 0 1 517.2,228.6" stroke="#c6c684" stroke-width="1.1" fill="none" stroke-linecap="round" opacity="0.62"/><path d="M501.8,242.8 A8.3,8.3 0 0 1 502.8,240.2" stroke="#c6c684" stroke-width="1.1" fill="none" stroke-linecap="round" opacity="0.91"/><path d="M511.0,250.4 A6.2,6.2 0 0 1 509.8,250.5" stroke="#c6c684" stroke-width="1.5" fill="none" stroke-linecap="round" opacity="0.82"/><path d="M503.6,249.6 A8.3,8.3 0 0 1 502.4,247.6" stroke="#c6c684" stroke-width="2.1" fill="none" stroke-linecap="round" opacity="0.81"/><path d="M516.0,242.0 A6.4,6.4 0 0 1 516.4,244.8" stroke="#c6c684" stroke-width="2.1" fill="none" stroke-linecap="round" opacity="0.82"/><path d="M497.2,242.4 A12.9,12.9 0 0 1 499.1,237.3" stroke="#c6c684" stroke-width="1.1" fill="none" stroke-linecap="round" opacity="0.86"/><path d="M500.4,241.7 A9.9,9.9 0 0 1 502.0,238.4" stroke="#c6c684" stroke-width="1.9" fill="none" stroke-linecap="round" opacity="0.64"/><path d="M506.3,233.0 A11.8,11.8 0 0 1 509.7,232.4" stroke="#c6c684" stroke-width="1.8" fill="none" stroke-linecap="round" opacity="0.62"/><path d="M501.3,237.8 A10.8,10.8 0 0 1 504.7,234.8" stroke="#c6c684" stroke-width="1.3" fill="none" stroke-linecap="round" opacity="0.93"/><path d="M508.2,230.4 A14.0,14.0 0 0 1 513.9,230.8" stroke="#c6c684" stroke-width="1.0" fill="none" stroke-linecap="round" opacity="0.84"/><path d="M498.8,234.7 A14.7,14.7 0 0 1 501.8,232.0" stroke="#c6c684" stroke-width="1.1" fill="none" stroke-linecap="round" opacity="0.68"/><path d="M503.4,239.0 A8.4,8.4 0 0 1 504.4,238.0" stroke="#c6c684" stroke-width="1.4" fill="none" stroke-linecap="round" opacity="0.79"/><path d="M503.7,242.9 A6.4,6.4 0 0 1 504.7,240.6" stroke="#c6c684" stroke-width="1.4" fill="none" stroke-linecap="round" opacity="0.91"/><path d="M528.1,245.3 A18.2,18.2 0 0 1 526.9,251.1" stroke="#c6c684" stroke-width="2.2" fill="none" stroke-linecap="round" opacity="0.99"/><path d="M513.7,237.8 A7.4,7.4 0 0 1 515.2,239.0" stroke="#c6c684" stroke-width="1.3" fill="none" stroke-linecap="round" opacity="0.91"/><path d="M513.1,252.6 A8.9,8.9 0 0 1 511.6,253.0" stroke="#c6c684" stroke-width="1.1" fill="none" stroke-linecap="round" opacity="0.98"/><path d="M520.7,242.7 A10.8,10.8 0 0 1 520.5,246.7" stroke="#c6c684" stroke-width="1.6" fill="none" stroke-linecap="round" opacity="0.81"/><path d="M500.3,254.6 A14.2,14.2 0 0 1 498.3,252.3" stroke="#c6c684" stroke-width="1.3" fill="none" stroke-linecap="round" opacity="0.81"/><path d="M513.7,255.3 A11.7,11.7 0 0 1 508.8,255.9" stroke="#c6c684" stroke-width="1.0" fill="none" stroke-linecap="round" opacity="0.64"/><path d="M512.1,237.8 A6.8,6.8 0 0 1 513.5,238.4" stroke="#c6c684" stroke-width="2.0" fill="none" stroke-linecap="round" opacity="0.84"/><path d="M511.2,251.0 A6.8,6.8 0 0 1 509.6,251.1" stroke="#c6c684" stroke-width="1.4" fill="none" stroke-linecap="round" opacity="0.92"/><path d="M525.9,241.8 A16.1,16.1 0 0 1 525.5,248.5" stroke="#c6c684" stroke-width="2.1" fill="none" stroke-linecap="round" opacity="0.95"/><path d="M526.1,235.4 A18.4,18.4 0 0 1 527.4,238.4" stroke="#c6c684" stroke-width="1.4" fill="none" stroke-linecap="round" opacity="0.70"/><path d="M500.2,236.8 A12.3,12.3 0 0 1 502.4,234.6" stroke="#c6c684" stroke-width="2.0" fill="none" stroke-linecap="round" opacity="0.76"/><path d="M512.4,253.6 A9.6,9.6 0 0 1 509.7,253.9" stroke="#c6c684" stroke-width="1.7" fill="none" stroke-linecap="round" opacity="0.83"/><path d="M502.1,247.4 A8.5,8.5 0 0 1 501.6,245.2" stroke="#c6c684" stroke-width="1.4" fill="none" stroke-linecap="round" opacity="0.67"/><path d="M501.8,242.0 A8.5,8.5 0 0 1 503.2,239.2" stroke="#c6c684" stroke-width="1.8" fill="none" stroke-linecap="round" opacity="0.66"/><path d="M502.6,236.9 A10.4,10.4 0 0 1 505.0,235.2" stroke="#c6c684" stroke-width="1.7" fill="none" stroke-linecap="round" opacity="0.90"/><path d="M521.4,234.0 A15.4,15.4 0 0 1 523.3,236.6" stroke="#c6c684" stroke-width="1.7" fill="none" stroke-linecap="round" opacity="0.73"/><path d="M523.0,245.9 A13.1,13.1 0 0 1 522.0,249.5" stroke="#c6c684" stroke-width="2.0" fill="none" stroke-linecap="round" opacity="0.73"/><path d="M516.3,233.4 A12.6,12.6 0 0 1 518.1,234.7" stroke="#c6c684" stroke-width="1.9" fill="none" stroke-linecap="round" opacity="0.71"/><path d="M503.1,242.8 A7.0,7.0 0 0 1 503.4,241.8" stroke="#c6c684" stroke-width="2.1" fill="none" stroke-linecap="round" opacity="0.62"/><path d="M514.8,250.9 A8.2,8.2 0 0 1 513.5,251.6" stroke="#c6c684" stroke-width="2.0" fill="none" stroke-linecap="round" opacity="1.00"/><path d="M503.4,235.3 A11.1,11.1 0 0 1 507.6,233.4" stroke="#c6c684" stroke-width="1.6" fill="none" stroke-linecap="round" opacity="0.65"/><path d="M506.1,234.4 A10.6,10.6 0 0 1 508.4,233.7" stroke="#c6c684" stroke-width="1.4" fill="none" stroke-linecap="round" opacity="0.75"/><path d="M515.7,256.9 A13.9,13.9 0 0 1 510.2,258.1" stroke="#c6c684" stroke-width="1.7" fill="none" stroke-linecap="round" opacity="0.60"/><path d="M507.4,238.5 A6.3,6.3 0 0 1 509.2,238.0" stroke="#c6c684" stroke-width="2.0" fill="none" stroke-linecap="round" opacity="0.87"/><path d="M523.1,235.7 A15.7,15.7 0 0 1 524.7,239.0" stroke="#c6c684" stroke-width="1.2" fill="none" stroke-linecap="round" opacity="0.78"/><path d="M506.1,236.1 A9.0,9.0 0 0 1 508.2,235.4" stroke="#c6c684" stroke-width="1.9" fill="none" stroke-linecap="round" opacity="0.74"/><path d="M499.5,236.6 A13.0,13.0 0 0 1 503.6,232.9" stroke="#c6c684" stroke-width="1.0" fill="none" stroke-linecap="round" opacity="0.67"/><path d="M512.6,229.9 A14.6,14.6 0 0 1 515.1,230.6" stroke="#c6c684" stroke-width="1.2" fill="none" stroke-linecap="round" opacity="0.68"/><path d="M493.0,239.6 A17.6,17.6 0 0 1 494.4,236.1" stroke="#c6c684" stroke-width="1.2" fill="none" stroke-linecap="round" opacity="0.87"/><path d="M495.0,252.1 A16.8,16.8 0 0 1 493.1,244.8" stroke="#c6c684" stroke-width="2.1" fill="none" stroke-linecap="round" opacity="0.89"/><path d="M503.1,244.4 A6.9,6.9 0 0 1 503.6,241.8" stroke="#c6c684" stroke-width="1.5" fill="none" stroke-linecap="round" opacity="0.79"/><path d="M497.6,230.7 A18.3,18.3 0 0 1 502.4,227.6" stroke="#c6c684" stroke-width="2.1" fill="none" stroke-linecap="round" opacity="0.99"/><path d="M519.1,249.7 A10.6,10.6 0 0 1 516.1,252.9" stroke="#c6c684" stroke-width="1.9" fill="none" stroke-linecap="round" opacity="0.99"/><path d="M515.0,256.1 A12.8,12.8 0 0 1 509.6,257.1" stroke="#c6c684" stroke-width="1.6" fill="none" stroke-linecap="round" opacity="0.87"/><path d="M518.1,243.0 A8.3,8.3 0 0 1 518.2,244.4" stroke="#c6c684" stroke-width="2.0" fill="none" stroke-linecap="round" opacity="0.83"/><path d="M515.1,260.1 A16.7,16.7 0 0 1 511.2,260.9" stroke="#c6c684" stroke-width="1.2" fill="none" stroke-linecap="round" opacity="0.72"/><path d="M520.9,246.8 A11.2,11.2 0 0 1 519.2,250.7" stroke="#c6c684" stroke-width="1.5" fill="none" stroke-linecap="round" opacity="0.99"/><path d="M518.0,246.4 A8.3,8.3 0 0 1 517.4,247.9" stroke="#c6c684" stroke-width="1.7" fill="none" stroke-linecap="round" opacity="0.68"/><path d="M503.6,233.2 A12.7,12.7 0 0 1 507.5,231.8" stroke="#c6c684" stroke-width="2.0" fill="none" stroke-linecap="round" opacity="0.92"/><path d="M517.0,240.5 A8.0,8.0 0 0 1 517.8,242.5" stroke="#c6c684" stroke-width="2.2" fill="none" stroke-linecap="round" opacity="0.76"/><path d="M507.3,256.2 A12.2,12.2 0 0 1 504.9,255.4" stroke="#c6c684" stroke-width="2.0" fill="none" stroke-linecap="round" opacity="0.85"/><path d="M525.2,254.6 A18.3,18.3 0 0 1 521.4,258.7" stroke="#c6c684" stroke-width="1.3" fill="none" stroke-linecap="round" opacity="0.85"/><path d="M519.9,241.0 A10.5,10.5 0 0 1 520.3,242.6" stroke="#c6c684" stroke-width="1.2" fill="none" stroke-linecap="round" opacity="0.62"/><path d="M500.1,242.5 A10.0,10.0 0 0 1 501.6,238.7" stroke="#c6c684" stroke-width="1.2" fill="none" stroke-linecap="round" opacity="0.61"/><path d="M502.5,246.0 A7.6,7.6 0 0 1 502.3,244.1" stroke="#c6c684" stroke-width="1.3" fill="none" stroke-linecap="round" opacity="0.67"/><path d="M498.2,230.7 A18.0,18.0 0 0 1 502.1,228.1" stroke="#c6c684" stroke-width="1.8" fill="none" stroke-linecap="round" opacity="0.73"/><path d="M521.2,237.6 A13.1,13.1 0 0 1 522.2,239.5" stroke="#c6c684" stroke-width="1.9" fill="none" stroke-linecap="round" opacity="0.68"/><path d="M516.0,246.1 A6.3,6.3 0 0 1 514.8,248.3" stroke="#c6c684" stroke-width="1.9" fill="none" stroke-linecap="round" opacity="0.74"/><path d="M495.9,238.9 A15.1,15.1 0 0 1 497.0,236.6" stroke="#c6c684" stroke-width="1.8" fill="none" stroke-linecap="round" opacity="0.88"/><path d="M516.3,241.9 A6.8,6.8 0 0 1 516.8,244.0" stroke="#c6c684" stroke-width="1.6" fill="none" stroke-linecap="round" opacity="0.94"/><path d="M500.4,255.2 A14.5,14.5 0 0 1 496.8,250.4" stroke="#c6c684" stroke-width="1.4" fill="none" stroke-linecap="round" opacity="0.81"/><path d="M515.1,240.2 A6.5,6.5 0 0 1 516.3,242.8" stroke="#c6c684" stroke-width="1.4" fill="none" stroke-linecap="round" opacity="0.78"/><path d="M506.2,260.1 A16.2,16.2 0 0 1 501.5,258.1" stroke="#c6c684" stroke-width="1.9" fill="none" stroke-linecap="round" opacity="0.64"/><path d="M522.0,233.0 A16.5,16.5 0 0 1 525.2,237.9" stroke="#c6c684" stroke-width="1.3" fill="none" stroke-linecap="round" opacity="0.70"/><path d="M503.4,246.3 A6.9,6.9 0 0 1 503.1,243.4" stroke="#c6c684" stroke-width="1.5" fill="none" stroke-linecap="round" opacity="0.98"/><path d="M515.8,257.3 A14.3,14.3 0 0 1 510.4,258.6" stroke="#c6c684" stroke-width="1.8" fill="none" stroke-linecap="round" opacity="0.77"/><path d="M521.5,245.7 A11.6,11.6 0 0 1 520.7,248.7" stroke="#c6c684" stroke-width="2.1" fill="none" stroke-linecap="round" opacity="0.99"/><path d="M527.8,239.3 A18.5,18.5 0 0 1 528.5,243.0" stroke="#c6c684" stroke-width="1.0" fill="none" stroke-linecap="round" opacity="0.72"/><path d="M517.5,244.7 A7.6,7.6 0 0 1 517.0,247.0" stroke="#c6c684" stroke-width="1.2" fill="none" stroke-linecap="round" opacity="0.84"/><path d="M503.0,250.8 A9.6,9.6 0 0 1 500.8,247.2" stroke="#c6c684" stroke-width="1.2" fill="none" stroke-linecap="round" opacity="0.95"/><path d="M495.7,241.8 A14.5,14.5 0 0 1 496.4,239.1" stroke="#c6c684" stroke-width="1.9" fill="none" stroke-linecap="round" opacity="0.96"/><path d="M513.8,255.7 A12.1,12.1 0 0 1 509.7,256.4" stroke="#c6c684" stroke-width="1.6" fill="none" stroke-linecap="round" opacity="0.90"/><path d="M503.8,236.3 A10.1,10.1 0 0 1 506.9,234.7" stroke="#c6c684" stroke-width="1.9" fill="none" stroke-linecap="round" opacity="0.79"/><path d="M498.0,236.7 A14.2,14.2 0 0 1 500.7,233.5" stroke="#c6c684" stroke-width="1.1" fill="none" stroke-linecap="round" opacity="0.76"/><path d="M512.6,229.2 A15.3,15.3 0 0 1 515.2,229.9" stroke="#c6c684" stroke-width="1.6" fill="none" stroke-linecap="round" opacity="0.84"/><path d="M502.1,242.6 A8.0,8.0 0 0 1 503.2,240.1" stroke="#c6c684" stroke-width="1.8" fill="none" stroke-linecap="round" opacity="0.81"/><path d="M522.4,239.3 A13.4,13.4 0 0 1 523.0,241.3" stroke="#c6c684" stroke-width="1.3" fill="none" stroke-linecap="round" opacity="0.88"/><path d="M526.1,253.1 A18.4,18.4 0 0 1 521.9,258.2" stroke="#c6c684" stroke-width="1.9" fill="none" stroke-linecap="round" opacity="0.67"/></g>
<circle cx="548.08" cy="260.18" r="19.60" fill="url(#tg)"/>
<circle cx="539.27" cy="256.62" r="7.60" fill="#fff" clip-path="url(#cl16)"/>
<g clip-path="url(#cl16)"><path d="M561.3,259.3 A17.2,17.2 0 0 1 560.3,264.4" stroke="#c6c684" stroke-width="1.5" fill="none" stroke-linecap="round" opacity="0.81"/><path d="M545.3,247.8 A10.8,10.8 0 0 1 549.3,249.1" stroke="#c6c684" stroke-width="1.2" fill="none" stroke-linecap="round" opacity="0.99"/><path d="M540.7,249.0 A10.1,10.1 0 0 1 543.6,248.5" stroke="#c6c684" stroke-width="2.1" fill="none" stroke-linecap="round" opacity="0.73"/><path d="M538.6,241.8 A17.6,17.6 0 0 1 546.2,241.1" stroke="#c6c684" stroke-width="1.3" fill="none" stroke-linecap="round" opacity="0.92"/><path d="M531.4,248.3 A16.4,16.4 0 0 1 533.4,246.2" stroke="#c6c684" stroke-width="1.5" fill="none" stroke-linecap="round" opacity="0.78"/><path d="M548.8,247.7 A11.8,11.8 0 0 1 550.5,248.6" stroke="#c6c684" stroke-width="1.3" fill="none" stroke-linecap="round" opacity="0.93"/><path d="M554.0,249.6 A13.4,13.4 0 0 1 555.4,251.5" stroke="#c6c684" stroke-width="1.9" fill="none" stroke-linecap="round" opacity="0.95"/><path d="M541.3,270.5 A12.2,12.2 0 0 1 538.6,269.5" stroke="#c6c684" stroke-width="1.1" fill="none" stroke-linecap="round" opacity="0.89"/><path d="M548.0,264.6 A7.2,7.2 0 0 1 545.2,265.7" stroke="#c6c684" stroke-width="1.1" fill="none" stroke-linecap="round" opacity="0.90"/><path d="M547.8,250.1 A9.3,9.3 0 0 1 549.9,251.3" stroke="#c6c684" stroke-width="1.3" fill="none" stroke-linecap="round" opacity="0.88"/><path d="M559.4,256.0 A15.5,15.5 0 0 1 559.5,260.6" stroke="#c6c684" stroke-width="1.6" fill="none" stroke-linecap="round" opacity="0.76"/><path d="M542.0,249.3 A9.5,9.5 0 0 1 544.1,249.1" stroke="#c6c684" stroke-width="1.8" fill="none" stroke-linecap="round" opacity="0.70"/><path d="M559.4,257.5 A15.3,15.3 0 0 1 559.3,260.6" stroke="#c6c684" stroke-width="1.0" fill="none" stroke-linecap="round" opacity="0.84"/><path d="M552.4,267.9 A12.4,12.4 0 0 1 548.9,270.0" stroke="#c6c684" stroke-width="2.0" fill="none" stroke-linecap="round" opacity="0.76"/><path d="M528.4,253.9 A16.4,16.4 0 0 1 529.5,251.0" stroke="#c6c684" stroke-width="1.4" fill="none" stroke-linecap="round" opacity="0.92"/><path d="M532.9,272.5 A17.9,17.9 0 0 1 530.6,270.3" stroke="#c6c684" stroke-width="1.1" fill="none" stroke-linecap="round" opacity="0.75"/><path d="M533.6,261.0 A10.8,10.8 0 0 1 533.4,258.7" stroke="#c6c684" stroke-width="1.5" fill="none" stroke-linecap="round" opacity="0.96"/><path d="M557.1,253.2 A14.0,14.0 0 0 1 558.0,256.3" stroke="#c6c684" stroke-width="1.7" fill="none" stroke-linecap="round" opacity="0.66"/><path d="M559.1,264.8 A16.2,16.2 0 0 1 557.2,268.1" stroke="#c6c684" stroke-width="1.2" fill="none" stroke-linecap="round" opacity="0.93"/><path d="M550.6,264.9 A9.1,9.1 0 0 1 549.3,266.1" stroke="#c6c684" stroke-width="2.1" fill="none" stroke-linecap="round" opacity="0.87"/><path d="M547.1,264.9 A7.0,7.0 0 0 1 544.2,265.6" stroke="#c6c684" stroke-width="1.2" fill="none" stroke-linecap="round" opacity="0.89"/><path d="M539.1,246.0 A13.6,13.6 0 0 1 543.0,245.1" stroke="#c6c684" stroke-width="1.5" fill="none" stroke-linecap="round" opacity="0.71"/><path d="M539.3,252.2 A8.0,8.0 0 0 1 541.3,251.1" stroke="#c6c684" stroke-width="1.3" fill="none" stroke-linecap="round" opacity="0.75"/><path d="M554.4,250.2 A13.3,13.3 0 0 1 556.6,254.1" stroke="#c6c684" stroke-width="1.8" fill="none" stroke-linecap="round" opacity="0.60"/><path d="M547.7,241.7 A17.2,17.2 0 0 1 553.6,244.2" stroke="#c6c684" stroke-width="1.6" fill="none" stroke-linecap="round" opacity="0.94"/><path d="M553.1,255.3 A9.6,9.6 0 0 1 553.6,257.1" stroke="#c6c684" stroke-width="1.4" fill="none" stroke-linecap="round" opacity="0.61"/><path d="M544.8,265.7 A7.1,7.1 0 0 1 543.7,265.7" stroke="#c6c684" stroke-width="1.5" fill="none" stroke-linecap="round" opacity="0.60"/><path d="M527.3,260.6 A16.9,16.9 0 0 1 527.7,254.5" stroke="#c6c684" stroke-width="1.1" fill="none" stroke-linecap="round" opacity="0.89"/><path d="M550.1,273.8 A16.3,16.3 0 0 1 544.7,274.9" stroke="#c6c684" stroke-width="1.7" fill="none" stroke-linecap="round" opacity="0.77"/><path d="M552.8,257.5 A8.8,8.8 0 0 1 552.5,261.1" stroke="#c6c684" stroke-width="1.2" fill="none" stroke-linecap="round" opacity="0.64"/><path d="M545.5,265.0 A6.6,6.6 0 0 1 542.9,265.0" stroke="#c6c684" stroke-width="1.2" fill="none" stroke-linecap="round" opacity="0.83"/><path d="M542.5,269.1 A10.6,10.6 0 0 1 538.7,267.7" stroke="#c6c684" stroke-width="1.7" fill="none" stroke-linecap="round" opacity="0.71"/><path d="M543.9,250.7 A7.9,7.9 0 0 1 545.1,250.7" stroke="#c6c684" stroke-width="1.8" fill="none" stroke-linecap="round" opacity="0.94"/><path d="M545.5,243.7 A14.9,14.9 0 0 1 551.6,245.6" stroke="#c6c684" stroke-width="2.1" fill="none" stroke-linecap="round" opacity="0.83"/><path d="M550.0,270.6 A13.4,13.4 0 0 1 546.5,271.8" stroke="#c6c684" stroke-width="1.9" fill="none" stroke-linecap="round" opacity="0.74"/><path d="M551.8,262.3 A8.5,8.5 0 0 1 550.9,263.7" stroke="#c6c684" stroke-width="1.9" fill="none" stroke-linecap="round" opacity="0.88"/><path d="M534.2,256.5 A10.1,10.1 0 0 1 535.6,253.1" stroke="#c6c684" stroke-width="1.5" fill="none" stroke-linecap="round" opacity="0.80"/><path d="M550.3,276.3 A18.8,18.8 0 0 1 545.1,277.3" stroke="#c6c684" stroke-width="1.6" fill="none" stroke-linecap="round" opacity="0.68"/><path d="M532.7,262.5 A12.1,12.1 0 0 1 532.1,259.2" stroke="#c6c684" stroke-width="1.9" fill="none" stroke-linecap="round" opacity="0.73"/><path d="M533.7,248.4 A14.6,14.6 0 0 1 535.8,246.6" stroke="#c6c684" stroke-width="2.0" fill="none" stroke-linecap="round" opacity="0.63"/><path d="M543.3,275.2 A16.7,16.7 0 0 1 540.3,274.8" stroke="#c6c684" stroke-width="1.3" fill="none" stroke-linecap="round" opacity="0.77"/><path d="M561.5,252.4 A18.4,18.4 0 0 1 562.4,256.3" stroke="#c6c684" stroke-width="1.8" fill="none" stroke-linecap="round" opacity="0.93"/><path d="M534.1,257.7 A10.1,10.1 0 0 1 534.4,255.8" stroke="#c6c684" stroke-width="1.1" fill="none" stroke-linecap="round" opacity="0.62"/><path d="M558.7,263.1 A15.3,15.3 0 0 1 556.5,267.6" stroke="#c6c684" stroke-width="1.1" fill="none" stroke-linecap="round" opacity="0.97"/><path d="M555.4,257.6 A11.4,11.4 0 0 1 555.3,260.5" stroke="#c6c684" stroke-width="2.1" fill="none" stroke-linecap="round" opacity="0.87"/><path d="M543.9,250.2 A8.4,8.4 0 0 1 546.9,250.7" stroke="#c6c684" stroke-width="1.5" fill="none" stroke-linecap="round" opacity="0.62"/><path d="M553.1,261.4 A9.4,9.4 0 0 1 552.3,263.3" stroke="#c6c684" stroke-width="1.3" fill="none" stroke-linecap="round" opacity="0.96"/><path d="M537.1,263.8 A8.7,8.7 0 0 1 536.3,262.5" stroke="#c6c684" stroke-width="1.1" fill="none" stroke-linecap="round" opacity="0.76"/><path d="M537.9,262.0 A7.1,7.1 0 0 1 537.2,260.0" stroke="#c6c684" stroke-width="1.4" fill="none" stroke-linecap="round" opacity="0.61"/><path d="M536.1,259.9 A8.1,8.1 0 0 1 536.0,258.3" stroke="#c6c684" stroke-width="1.9" fill="none" stroke-linecap="round" opacity="0.77"/><path d="M535.9,268.9 A13.1,13.1 0 0 1 532.8,265.2" stroke="#c6c684" stroke-width="1.8" fill="none" stroke-linecap="round" opacity="0.98"/><path d="M541.9,248.4 A10.4,10.4 0 0 1 546.4,248.4" stroke="#c6c684" stroke-width="1.0" fill="none" stroke-linecap="round" opacity="0.68"/><path d="M552.0,266.1 A10.9,10.9 0 0 1 549.8,267.9" stroke="#c6c684" stroke-width="1.5" fill="none" stroke-linecap="round" opacity="0.85"/><path d="M537.1,268.6 A12.2,12.2 0 0 1 534.0,265.5" stroke="#c6c684" stroke-width="2.1" fill="none" stroke-linecap="round" opacity="0.98"/><path d="M536.7,266.7 A11.0,11.0 0 0 1 533.9,262.6" stroke="#c6c684" stroke-width="2.0" fill="none" stroke-linecap="round" opacity="0.95"/><path d="M551.5,265.0 A9.8,9.8 0 0 1 549.4,266.8" stroke="#c6c684" stroke-width="1.4" fill="none" stroke-linecap="round" opacity="0.79"/><path d="M554.5,254.8 A11.0,11.0 0 0 1 555.1,258.0" stroke="#c6c684" stroke-width="1.4" fill="none" stroke-linecap="round" opacity="0.84"/><path d="M536.1,256.2 A8.4,8.4 0 0 1 536.6,254.9" stroke="#c6c684" stroke-width="1.9" fill="none" stroke-linecap="round" opacity="0.93"/><path d="M539.6,265.9 A8.6,8.6 0 0 1 538.3,265.0" stroke="#c6c684" stroke-width="1.7" fill="none" stroke-linecap="round" opacity="0.83"/><path d="M557.6,252.8 A14.7,14.7 0 0 1 558.8,257.4" stroke="#c6c684" stroke-width="1.7" fill="none" stroke-linecap="round" opacity="0.96"/><path d="M551.3,254.6 A8.2,8.2 0 0 1 551.9,256.0" stroke="#c6c684" stroke-width="1.2" fill="none" stroke-linecap="round" opacity="0.61"/><path d="M555.0,243.8 A18.3,18.3 0 0 1 558.9,247.7" stroke="#c6c684" stroke-width="1.9" fill="none" stroke-linecap="round" opacity="0.86"/><path d="M538.0,249.4 A11.1,11.1 0 0 1 542.4,247.6" stroke="#c6c684" stroke-width="1.4" fill="none" stroke-linecap="round" opacity="0.64"/><path d="M559.3,263.8 A16.1,16.1 0 0 1 556.3,269.2" stroke="#c6c684" stroke-width="2.0" fill="none" stroke-linecap="round" opacity="0.92"/><path d="M545.7,269.2 A10.7,10.7 0 0 1 543.2,269.2" stroke="#c6c684" stroke-width="2.0" fill="none" stroke-linecap="round" opacity="0.60"/><path d="M539.2,272.1 A14.4,14.4 0 0 1 535.0,269.7" stroke="#c6c684" stroke-width="1.0" fill="none" stroke-linecap="round" opacity="0.65"/><path d="M548.5,266.3 A8.9,8.9 0 0 1 545.9,267.3" stroke="#c6c684" stroke-width="1.0" fill="none" stroke-linecap="round" opacity="0.93"/><path d="M530.1,261.7 A14.4,14.4 0 0 1 529.8,258.0" stroke="#c6c684" stroke-width="2.0" fill="none" stroke-linecap="round" opacity="0.64"/><path d="M550.3,251.7 A9.2,9.2 0 0 1 552.1,253.9" stroke="#c6c684" stroke-width="1.7" fill="none" stroke-linecap="round" opacity="0.87"/><path d="M529.4,254.6 A15.2,15.2 0 0 1 530.3,252.2" stroke="#c6c684" stroke-width="1.6" fill="none" stroke-linecap="round" opacity="0.80"/><path d="M538.7,253.5 A7.4,7.4 0 0 1 540.8,251.9" stroke="#c6c684" stroke-width="1.1" fill="none" stroke-linecap="round" opacity="0.62"/><path d="M561.7,264.5 A18.5,18.5 0 0 1 560.2,267.9" stroke="#c6c684" stroke-width="1.8" fill="none" stroke-linecap="round" opacity="0.62"/><path d="M537.1,253.1 A8.8,8.8 0 0 1 539.3,251.2" stroke="#c6c684" stroke-width="1.9" fill="none" stroke-linecap="round" opacity="0.87"/><path d="M529.4,254.7 A15.2,15.2 0 0 1 530.1,252.6" stroke="#c6c684" stroke-width="1.1" fill="none" stroke-linecap="round" opacity="0.69"/><path d="M529.0,263.3 A15.8,15.8 0 0 1 528.5,260.8" stroke="#c6c684" stroke-width="1.2" fill="none" stroke-linecap="round" opacity="0.81"/><path d="M540.9,264.9 A7.1,7.1 0 0 1 539.5,264.0" stroke="#c6c684" stroke-width="1.0" fill="none" stroke-linecap="round" opacity="0.61"/><path d="M549.5,250.1 A10.1,10.1 0 0 1 552.2,252.5" stroke="#c6c684" stroke-width="1.3" fill="none" stroke-linecap="round" opacity="0.90"/><path d="M548.8,254.4 A6.3,6.3 0 0 1 549.9,256.1" stroke="#c6c684" stroke-width="2.1" fill="none" stroke-linecap="round" opacity="0.91"/><path d="M555.2,269.2 A15.4,15.4 0 0 1 550.5,272.5" stroke="#c6c684" stroke-width="1.2" fill="none" stroke-linecap="round" opacity="0.86"/><path d="M538.0,252.5 A8.6,8.6 0 0 1 540.8,250.6" stroke="#c6c684" stroke-width="2.0" fill="none" stroke-linecap="round" opacity="0.63"/><path d="M530.8,261.0 A13.6,13.6 0 0 1 530.6,258.9" stroke="#c6c684" stroke-width="1.6" fill="none" stroke-linecap="round" opacity="0.98"/><path d="M538.0,269.3 A12.4,12.4 0 0 1 534.0,265.8" stroke="#c6c684" stroke-width="2.0" fill="none" stroke-linecap="round" opacity="0.98"/><path d="M559.9,268.7 A18.8,18.8 0 0 1 556.9,272.3" stroke="#c6c684" stroke-width="1.4" fill="none" stroke-linecap="round" opacity="0.67"/><path d="M548.8,245.9 A13.6,13.6 0 0 1 552.2,247.7" stroke="#c6c684" stroke-width="1.6" fill="none" stroke-linecap="round" opacity="0.81"/><path d="M537.2,254.6 A8.0,8.0 0 0 1 539.0,252.4" stroke="#c6c684" stroke-width="1.3" fill="none" stroke-linecap="round" opacity="0.61"/><path d="M551.2,256.6 A7.3,7.3 0 0 1 551.4,259.5" stroke="#c6c684" stroke-width="1.9" fill="none" stroke-linecap="round" opacity="0.77"/><path d="M537.0,252.8 A9.2,9.2 0 0 1 538.4,251.4" stroke="#c6c684" stroke-width="2.1" fill="none" stroke-linecap="round" opacity="0.90"/><path d="M545.5,246.8 A11.9,11.9 0 0 1 547.3,247.1" stroke="#c6c684" stroke-width="1.9" fill="none" stroke-linecap="round" opacity="0.98"/><path d="M538.3,271.4 A14.0,14.0 0 0 1 536.0,270.0" stroke="#c6c684" stroke-width="2.2" fill="none" stroke-linecap="round" opacity="0.88"/><path d="M557.9,264.4 A15.0,15.0 0 0 1 555.1,268.8" stroke="#c6c684" stroke-width="1.5" fill="none" stroke-linecap="round" opacity="0.83"/><path d="M557.5,252.5 A14.8,14.8 0 0 1 558.7,256.6" stroke="#c6c684" stroke-width="2.2" fill="none" stroke-linecap="round" opacity="0.86"/><path d="M546.3,245.6 A13.1,13.1 0 0 1 550.9,247.3" stroke="#c6c684" stroke-width="1.9" fill="none" stroke-linecap="round" opacity="0.80"/><path d="M535.7,260.5 A8.6,8.6 0 0 1 535.6,257.5" stroke="#c6c684" stroke-width="1.9" fill="none" stroke-linecap="round" opacity="0.76"/><path d="M557.9,264.7 A15.1,15.1 0 0 1 555.0,269.0" stroke="#c6c684" stroke-width="1.8" fill="none" stroke-linecap="round" opacity="0.66"/><path d="M555.7,248.5 A15.3,15.3 0 0 1 558.6,253.7" stroke="#c6c684" stroke-width="1.2" fill="none" stroke-linecap="round" opacity="0.71"/><path d="M538.1,257.3 A6.2,6.2 0 0 1 539.2,254.9" stroke="#c6c684" stroke-width="1.2" fill="none" stroke-linecap="round" opacity="0.66"/><path d="M546.7,249.9 A9.1,9.1 0 0 1 549.3,251.1" stroke="#c6c684" stroke-width="1.8" fill="none" stroke-linecap="round" opacity="0.68"/><path d="M558.4,263.2 A15.0,15.0 0 0 1 555.4,268.6" stroke="#c6c684" stroke-width="2.0" fill="none" stroke-linecap="round" opacity="0.64"/><path d="M538.1,268.8 A11.8,11.8 0 0 1 536.6,267.7" stroke="#c6c684" stroke-width="2.1" fill="none" stroke-linecap="round" opacity="0.93"/><path d="M561.5,255.2 A17.7,17.7 0 0 1 561.5,262.2" stroke="#c6c684" stroke-width="1.4" fill="none" stroke-linecap="round" opacity="0.86"/><path d="M548.4,254.2 A6.2,6.2 0 0 1 549.1,255.0" stroke="#c6c684" stroke-width="2.2" fill="none" stroke-linecap="round" opacity="0.64"/><path d="M553.3,252.6 A10.9,10.9 0 0 1 554.3,254.8" stroke="#c6c684" stroke-width="1.5" fill="none" stroke-linecap="round" opacity="0.95"/><path d="M539.5,252.4 A7.7,7.7 0 0 1 542.2,251.1" stroke="#c6c684" stroke-width="1.4" fill="none" stroke-linecap="round" opacity="0.93"/><path d="M527.1,258.4 A17.0,17.0 0 0 1 528.0,253.1" stroke="#c6c684" stroke-width="1.4" fill="none" stroke-linecap="round" opacity="1.00"/><path d="M557.1,257.0 A13.0,13.0 0 0 1 556.9,261.0" stroke="#c6c684" stroke-width="1.7" fill="none" stroke-linecap="round" opacity="0.87"/><path d="M541.7,276.3 A17.9,17.9 0 0 1 537.0,275.0" stroke="#c6c684" stroke-width="2.2" fill="none" stroke-linecap="round" opacity="0.83"/><path d="M559.6,249.7 A17.8,17.8 0 0 1 561.2,253.5" stroke="#c6c684" stroke-width="1.0" fill="none" stroke-linecap="round" opacity="0.83"/><path d="M534.9,253.9 A10.4,10.4 0 0 1 536.3,251.7" stroke="#c6c684" stroke-width="1.3" fill="none" stroke-linecap="round" opacity="0.64"/><path d="M531.8,261.8 A12.7,12.7 0 0 1 531.4,258.3" stroke="#c6c684" stroke-width="2.0" fill="none" stroke-linecap="round" opacity="0.77"/><path d="M544.5,242.9 A15.7,15.7 0 0 1 549.1,243.7" stroke="#c6c684" stroke-width="1.6" fill="none" stroke-linecap="round" opacity="0.69"/></g>
<circle cx="516.14" cy="285.14" r="19.60" fill="url(#tg)"/>
<circle cx="514.82" cy="275.73" r="7.60" fill="#fff" clip-path="url(#cl17)"/>
<g clip-path="url(#cl17)"><path d="M508.9,265.2 A17.1,17.1 0 0 1 516.2,263.8" stroke="#c6c684" stroke-width="2.0" fill="none" stroke-linecap="round" opacity="0.99"/><path d="M505.3,275.0 A11.8,11.8 0 0 1 508.9,271.1" stroke="#c6c684" stroke-width="1.8" fill="none" stroke-linecap="round" opacity="0.63"/><path d="M523.8,270.1 A13.7,13.7 0 0 1 527.5,274.2" stroke="#c6c684" stroke-width="1.5" fill="none" stroke-linecap="round" opacity="0.85"/><path d="M504.1,273.0 A13.9,13.9 0 0 1 508.3,269.0" stroke="#c6c684" stroke-width="1.5" fill="none" stroke-linecap="round" opacity="0.87"/><path d="M522.2,278.2 A7.2,7.2 0 0 1 522.7,281.1" stroke="#c6c684" stroke-width="1.8" fill="none" stroke-linecap="round" opacity="0.78"/><path d="M527.6,283.9 A12.4,12.4 0 0 1 526.7,286.2" stroke="#c6c684" stroke-width="1.2" fill="none" stroke-linecap="round" opacity="0.80"/><path d="M503.0,268.1 A17.9,17.9 0 0 1 508.0,264.6" stroke="#c6c684" stroke-width="1.9" fill="none" stroke-linecap="round" opacity="0.82"/><path d="M525.7,282.5 A10.3,10.3 0 0 1 525.2,284.4" stroke="#c6c684" stroke-width="1.7" fill="none" stroke-linecap="round" opacity="0.72"/><path d="M507.6,274.3 A10.4,10.4 0 0 1 508.8,273.0" stroke="#c6c684" stroke-width="1.3" fill="none" stroke-linecap="round" opacity="0.97"/><path d="M501.7,285.4 A14.5,14.5 0 0 1 501.0,281.0" stroke="#c6c684" stroke-width="1.6" fill="none" stroke-linecap="round" opacity="0.87"/><path d="M527.2,273.0 A14.1,14.1 0 0 1 529.4,278.0" stroke="#c6c684" stroke-width="1.4" fill="none" stroke-linecap="round" opacity="0.71"/><path d="M528.4,281.7 A12.9,12.9 0 0 1 528.1,283.9" stroke="#c6c684" stroke-width="1.3" fill="none" stroke-linecap="round" opacity="0.78"/><path d="M509.4,287.1 A8.7,8.7 0 0 1 508.0,285.2" stroke="#c6c684" stroke-width="2.1" fill="none" stroke-linecap="round" opacity="0.82"/><path d="M505.7,264.9 A18.8,18.8 0 0 1 511.6,262.5" stroke="#c6c684" stroke-width="2.1" fill="none" stroke-linecap="round" opacity="0.88"/><path d="M520.6,268.0 A13.8,13.8 0 0 1 525.7,271.5" stroke="#c6c684" stroke-width="1.7" fill="none" stroke-linecap="round" opacity="0.73"/><path d="M511.5,274.9 A7.3,7.3 0 0 1 513.3,274.0" stroke="#c6c684" stroke-width="2.1" fill="none" stroke-linecap="round" opacity="0.66"/><path d="M507.2,286.3 A9.9,9.9 0 0 1 505.9,283.2" stroke="#c6c684" stroke-width="2.0" fill="none" stroke-linecap="round" opacity="0.73"/><path d="M509.7,278.2 A6.5,6.5 0 0 1 510.4,277.0" stroke="#c6c684" stroke-width="1.5" fill="none" stroke-linecap="round" opacity="0.86"/><path d="M528.1,268.9 A17.4,17.4 0 0 1 531.1,273.2" stroke="#c6c684" stroke-width="1.3" fill="none" stroke-linecap="round" opacity="0.93"/><path d="M524.7,267.6 A16.2,16.2 0 0 1 528.7,271.6" stroke="#c6c684" stroke-width="1.8" fill="none" stroke-linecap="round" opacity="0.76"/><path d="M505.8,276.2 A10.8,10.8 0 0 1 508.1,273.1" stroke="#c6c684" stroke-width="2.1" fill="none" stroke-linecap="round" opacity="0.72"/><path d="M514.9,273.6 A7.4,7.4 0 0 1 516.2,273.6" stroke="#c6c684" stroke-width="1.2" fill="none" stroke-linecap="round" opacity="0.72"/><path d="M505.5,285.3 A11.0,11.0 0 0 1 504.5,280.8" stroke="#c6c684" stroke-width="1.1" fill="none" stroke-linecap="round" opacity="0.95"/><path d="M516.2,290.8 A9.9,9.9 0 0 1 513.3,290.6" stroke="#c6c684" stroke-width="1.5" fill="none" stroke-linecap="round" opacity="0.83"/><path d="M528.9,283.7 A13.6,13.6 0 0 1 528.3,285.8" stroke="#c6c684" stroke-width="1.2" fill="none" stroke-linecap="round" opacity="0.71"/><path d="M500.2,279.7 A15.4,15.4 0 0 1 500.6,277.3" stroke="#c6c684" stroke-width="1.0" fill="none" stroke-linecap="round" opacity="0.76"/><path d="M517.5,296.0 A15.2,15.2 0 0 1 511.6,295.6" stroke="#c6c684" stroke-width="2.1" fill="none" stroke-linecap="round" opacity="0.99"/><path d="M524.4,278.7 A9.1,9.1 0 0 1 524.6,281.6" stroke="#c6c684" stroke-width="1.2" fill="none" stroke-linecap="round" opacity="0.82"/><path d="M511.2,267.5 A14.1,14.1 0 0 1 517.4,266.9" stroke="#c6c684" stroke-width="1.5" fill="none" stroke-linecap="round" opacity="0.77"/><path d="M528.8,271.5 A16.2,16.2 0 0 1 530.4,274.4" stroke="#c6c684" stroke-width="1.5" fill="none" stroke-linecap="round" opacity="0.91"/><path d="M530.9,286.9 A16.5,16.5 0 0 1 527.1,292.6" stroke="#c6c684" stroke-width="1.8" fill="none" stroke-linecap="round" opacity="0.65"/><path d="M507.9,278.3 A8.0,8.0 0 0 1 509.6,275.5" stroke="#c6c684" stroke-width="1.3" fill="none" stroke-linecap="round" opacity="0.62"/><path d="M506.9,283.7 A9.1,9.1 0 0 1 506.5,280.0" stroke="#c6c684" stroke-width="1.2" fill="none" stroke-linecap="round" opacity="0.65"/><path d="M507.4,289.2 A11.7,11.7 0 0 1 505.2,286.3" stroke="#c6c684" stroke-width="2.2" fill="none" stroke-linecap="round" opacity="0.76"/><path d="M521.0,275.4 A7.7,7.7 0 0 1 522.4,277.2" stroke="#c6c684" stroke-width="2.1" fill="none" stroke-linecap="round" opacity="0.93"/><path d="M511.0,275.3 A7.2,7.2 0 0 1 513.9,273.9" stroke="#c6c684" stroke-width="1.4" fill="none" stroke-linecap="round" opacity="0.87"/><path d="M521.5,285.2 A7.3,7.3 0 0 1 520.1,286.6" stroke="#c6c684" stroke-width="1.9" fill="none" stroke-linecap="round" opacity="0.90"/><path d="M508.5,287.0 A9.3,9.3 0 0 1 506.9,284.5" stroke="#c6c684" stroke-width="1.5" fill="none" stroke-linecap="round" opacity="0.70"/><path d="M520.3,285.8 A6.8,6.8 0 0 1 519.4,286.5" stroke="#c6c684" stroke-width="1.9" fill="none" stroke-linecap="round" opacity="0.98"/><path d="M520.3,267.1 A14.6,14.6 0 0 1 524.0,269.0" stroke="#c6c684" stroke-width="1.3" fill="none" stroke-linecap="round" opacity="0.79"/><path d="M502.0,290.5 A16.6,16.6 0 0 1 499.2,283.8" stroke="#c6c684" stroke-width="1.5" fill="none" stroke-linecap="round" opacity="0.71"/><path d="M513.3,263.2 A17.8,17.8 0 0 1 521.0,264.0" stroke="#c6c684" stroke-width="2.2" fill="none" stroke-linecap="round" opacity="0.92"/><path d="M521.3,270.3 A12.1,12.1 0 0 1 524.7,273.0" stroke="#c6c684" stroke-width="1.3" fill="none" stroke-linecap="round" opacity="1.00"/><path d="M517.0,296.7 A15.8,15.8 0 0 1 511.0,296.0" stroke="#c6c684" stroke-width="2.1" fill="none" stroke-linecap="round" opacity="0.75"/><path d="M509.3,281.4 A6.3,6.3 0 0 1 509.6,278.9" stroke="#c6c684" stroke-width="1.7" fill="none" stroke-linecap="round" opacity="0.66"/><path d="M509.6,290.2 A11.0,11.0 0 0 1 507.2,288.1" stroke="#c6c684" stroke-width="1.4" fill="none" stroke-linecap="round" opacity="0.71"/><path d="M500.0,278.7 A15.7,15.7 0 0 1 501.3,274.3" stroke="#c6c684" stroke-width="1.5" fill="none" stroke-linecap="round" opacity="0.75"/><path d="M530.1,274.9 A15.8,15.8 0 0 1 531.3,280.4" stroke="#c6c684" stroke-width="1.1" fill="none" stroke-linecap="round" opacity="0.90"/><path d="M501.9,287.0 A14.9,14.9 0 0 1 500.8,282.8" stroke="#c6c684" stroke-width="1.1" fill="none" stroke-linecap="round" opacity="0.82"/><path d="M514.4,272.7 A8.2,8.2 0 0 1 517.1,272.8" stroke="#c6c684" stroke-width="1.3" fill="none" stroke-linecap="round" opacity="0.60"/><path d="M526.1,284.2 A11.0,11.0 0 0 1 525.1,286.4" stroke="#c6c684" stroke-width="1.2" fill="none" stroke-linecap="round" opacity="0.73"/><path d="M518.3,268.6 A12.6,12.6 0 0 1 522.0,270.1" stroke="#c6c684" stroke-width="2.1" fill="none" stroke-linecap="round" opacity="0.70"/><path d="M527.1,271.8 A14.7,14.7 0 0 1 529.6,276.5" stroke="#c6c684" stroke-width="2.1" fill="none" stroke-linecap="round" opacity="0.66"/><path d="M505.0,288.4 A12.9,12.9 0 0 1 503.2,284.8" stroke="#c6c684" stroke-width="2.2" fill="none" stroke-linecap="round" opacity="0.69"/><path d="M513.5,296.7 A16.0,16.0 0 0 1 507.6,294.8" stroke="#c6c684" stroke-width="1.4" fill="none" stroke-linecap="round" opacity="0.62"/><path d="M502.3,281.1 A13.2,13.2 0 0 1 503.3,275.8" stroke="#c6c684" stroke-width="1.7" fill="none" stroke-linecap="round" opacity="0.82"/><path d="M518.3,266.7 A14.5,14.5 0 0 1 522.9,268.4" stroke="#c6c684" stroke-width="1.0" fill="none" stroke-linecap="round" opacity="0.88"/><path d="M503.5,285.7 A13.0,13.0 0 0 1 502.6,281.8" stroke="#c6c684" stroke-width="1.9" fill="none" stroke-linecap="round" opacity="0.67"/><path d="M521.1,275.3 A7.9,7.9 0 0 1 522.8,277.9" stroke="#c6c684" stroke-width="2.0" fill="none" stroke-linecap="round" opacity="0.61"/><path d="M499.8,275.7 A16.5,16.5 0 0 1 501.6,272.1" stroke="#c6c684" stroke-width="1.2" fill="none" stroke-linecap="round" opacity="0.98"/><path d="M519.0,299.3 A18.7,18.7 0 0 1 514.3,299.6" stroke="#c6c684" stroke-width="2.1" fill="none" stroke-linecap="round" opacity="0.82"/><path d="M523.5,285.1 A9.0,9.0 0 0 1 521.7,287.5" stroke="#c6c684" stroke-width="1.0" fill="none" stroke-linecap="round" opacity="0.69"/><path d="M510.5,286.4 A7.4,7.4 0 0 1 508.7,283.8" stroke="#c6c684" stroke-width="1.6" fill="none" stroke-linecap="round" opacity="0.75"/><path d="M510.6,286.5 A7.5,7.5 0 0 1 509.1,284.6" stroke="#c6c684" stroke-width="1.8" fill="none" stroke-linecap="round" opacity="0.90"/><path d="M526.7,267.9 A17.1,17.1 0 0 1 529.6,271.3" stroke="#c6c684" stroke-width="1.3" fill="none" stroke-linecap="round" opacity="0.64"/><path d="M510.6,267.5 A14.3,14.3 0 0 1 513.2,266.8" stroke="#c6c684" stroke-width="1.9" fill="none" stroke-linecap="round" opacity="0.95"/><path d="M529.4,283.5 A14.1,14.1 0 0 1 527.4,288.5" stroke="#c6c684" stroke-width="1.9" fill="none" stroke-linecap="round" opacity="0.71"/><path d="M510.5,285.9 A7.2,7.2 0 0 1 509.5,284.7" stroke="#c6c684" stroke-width="1.7" fill="none" stroke-linecap="round" opacity="0.96"/><path d="M507.7,293.1 A14.5,14.5 0 0 1 503.3,288.7" stroke="#c6c684" stroke-width="1.9" fill="none" stroke-linecap="round" opacity="0.69"/><path d="M506.7,296.5 A18.0,18.0 0 0 1 504.4,295.0" stroke="#c6c684" stroke-width="1.6" fill="none" stroke-linecap="round" opacity="0.75"/><path d="M521.4,292.8 A13.2,13.2 0 0 1 518.4,293.8" stroke="#c6c684" stroke-width="1.3" fill="none" stroke-linecap="round" opacity="0.93"/><path d="M510.4,264.3 A17.4,17.4 0 0 1 512.9,263.7" stroke="#c6c684" stroke-width="2.0" fill="none" stroke-linecap="round" opacity="0.79"/><path d="M497.8,280.6 A17.8,17.8 0 0 1 498.7,275.2" stroke="#c6c684" stroke-width="2.1" fill="none" stroke-linecap="round" opacity="0.92"/><path d="M531.0,288.2 A17.1,17.1 0 0 1 528.8,291.7" stroke="#c6c684" stroke-width="1.6" fill="none" stroke-linecap="round" opacity="0.80"/><path d="M510.8,275.9 A6.9,6.9 0 0 1 512.5,274.7" stroke="#c6c684" stroke-width="1.8" fill="none" stroke-linecap="round" opacity="0.71"/><path d="M518.6,268.7 A12.6,12.6 0 0 1 521.9,270.0" stroke="#c6c684" stroke-width="1.2" fill="none" stroke-linecap="round" opacity="0.67"/><path d="M508.1,290.5 A12.2,12.2 0 0 1 504.7,286.5" stroke="#c6c684" stroke-width="1.8" fill="none" stroke-linecap="round" opacity="0.66"/><path d="M516.9,298.6 A17.8,17.8 0 0 1 514.1,298.6" stroke="#c6c684" stroke-width="2.1" fill="none" stroke-linecap="round" opacity="0.92"/><path d="M521.0,274.4 A8.5,8.5 0 0 1 523.1,277.1" stroke="#c6c684" stroke-width="1.6" fill="none" stroke-linecap="round" opacity="0.78"/><path d="M514.3,291.2 A10.4,10.4 0 0 1 510.8,290.1" stroke="#c6c684" stroke-width="1.3" fill="none" stroke-linecap="round" opacity="0.99"/><path d="M518.9,263.9 A17.3,17.3 0 0 1 524.6,266.1" stroke="#c6c684" stroke-width="1.9" fill="none" stroke-linecap="round" opacity="0.70"/><path d="M520.3,286.4 A7.3,7.3 0 0 1 518.2,287.7" stroke="#c6c684" stroke-width="2.1" fill="none" stroke-linecap="round" opacity="0.75"/><path d="M506.4,278.5 A9.5,9.5 0 0 1 507.8,275.5" stroke="#c6c684" stroke-width="2.1" fill="none" stroke-linecap="round" opacity="0.89"/><path d="M498.0,283.0 A17.6,17.6 0 0 1 498.1,278.0" stroke="#c6c684" stroke-width="2.1" fill="none" stroke-linecap="round" opacity="0.93"/><path d="M513.1,266.5 A14.6,14.6 0 0 1 517.1,266.4" stroke="#c6c684" stroke-width="1.5" fill="none" stroke-linecap="round" opacity="0.74"/><path d="M508.2,265.4 A17.2,17.2 0 0 1 511.6,264.2" stroke="#c6c684" stroke-width="1.6" fill="none" stroke-linecap="round" opacity="0.72"/><path d="M512.9,289.2 A8.7,8.7 0 0 1 509.8,287.4" stroke="#c6c684" stroke-width="1.5" fill="none" stroke-linecap="round" opacity="0.92"/><path d="M523.1,294.6 A15.6,15.6 0 0 1 518.4,296.2" stroke="#c6c684" stroke-width="2.1" fill="none" stroke-linecap="round" opacity="0.77"/><path d="M513.1,287.4 A7.0,7.0 0 0 1 510.8,286.0" stroke="#c6c684" stroke-width="1.9" fill="none" stroke-linecap="round" opacity="0.61"/><path d="M500.7,279.8 A14.9,14.9 0 0 1 501.4,276.1" stroke="#c6c684" stroke-width="1.1" fill="none" stroke-linecap="round" opacity="0.75"/><path d="M505.2,274.4 A12.2,12.2 0 0 1 508.0,271.4" stroke="#c6c684" stroke-width="1.0" fill="none" stroke-linecap="round" opacity="0.79"/><path d="M501.7,291.7 A17.6,17.6 0 0 1 498.6,285.5" stroke="#c6c684" stroke-width="2.1" fill="none" stroke-linecap="round" opacity="0.78"/><path d="M513.9,266.5 A14.5,14.5 0 0 1 519.9,267.1" stroke="#c6c684" stroke-width="1.5" fill="none" stroke-linecap="round" opacity="0.88"/><path d="M504.2,281.7 A11.4,11.4 0 0 1 504.3,279.1" stroke="#c6c684" stroke-width="1.1" fill="none" stroke-linecap="round" opacity="0.73"/><path d="M498.8,273.8 A18.1,18.1 0 0 1 500.6,270.6" stroke="#c6c684" stroke-width="2.1" fill="none" stroke-linecap="round" opacity="0.92"/><path d="M515.0,268.8 A12.2,12.2 0 0 1 518.6,269.1" stroke="#c6c684" stroke-width="1.7" fill="none" stroke-linecap="round" opacity="0.91"/><path d="M520.3,276.9 A6.2,6.2 0 0 1 521.5,279.2" stroke="#c6c684" stroke-width="2.0" fill="none" stroke-linecap="round" opacity="0.95"/><path d="M512.0,290.3 A10.0,10.0 0 0 1 508.6,288.1" stroke="#c6c684" stroke-width="2.0" fill="none" stroke-linecap="round" opacity="0.77"/><path d="M507.1,285.4 A9.6,9.6 0 0 1 506.4,283.7" stroke="#c6c684" stroke-width="1.2" fill="none" stroke-linecap="round" opacity="0.72"/><path d="M520.7,293.6 A13.7,13.7 0 0 1 515.7,294.6" stroke="#c6c684" stroke-width="1.6" fill="none" stroke-linecap="round" opacity="0.71"/><path d="M517.1,292.7 A11.9,11.9 0 0 1 514.7,292.8" stroke="#c6c684" stroke-width="1.5" fill="none" stroke-linecap="round" opacity="0.66"/><path d="M511.7,265.7 A15.7,15.7 0 0 1 514.4,265.3" stroke="#c6c684" stroke-width="1.2" fill="none" stroke-linecap="round" opacity="0.73"/><path d="M520.1,297.9 A17.6,17.6 0 0 1 515.0,298.5" stroke="#c6c684" stroke-width="1.0" fill="none" stroke-linecap="round" opacity="0.74"/><path d="M505.8,266.2 A17.7,17.7 0 0 1 509.8,264.2" stroke="#c6c684" stroke-width="2.1" fill="none" stroke-linecap="round" opacity="0.67"/><path d="M515.9,296.0 A15.1,15.1 0 0 1 511.0,295.3" stroke="#c6c684" stroke-width="1.5" fill="none" stroke-linecap="round" opacity="0.65"/><path d="M506.7,279.3 A9.0,9.0 0 0 1 508.1,275.9" stroke="#c6c684" stroke-width="2.2" fill="none" stroke-linecap="round" opacity="0.86"/><path d="M510.1,275.9 A7.4,7.4 0 0 1 511.1,275.0" stroke="#c6c684" stroke-width="1.5" fill="none" stroke-linecap="round" opacity="0.75"/><path d="M509.6,263.9 A18.0,18.0 0 0 1 514.7,262.9" stroke="#c6c684" stroke-width="1.9" fill="none" stroke-linecap="round" opacity="0.99"/><path d="M516.8,287.4 A6.6,6.6 0 0 1 515.6,287.5" stroke="#c6c684" stroke-width="1.9" fill="none" stroke-linecap="round" opacity="0.82"/><path d="M510.9,263.0 A18.5,18.5 0 0 1 514.3,262.5" stroke="#c6c684" stroke-width="1.7" fill="none" stroke-linecap="round" opacity="0.80"/></g>
<circle cx="478.56" cy="269.95" r="19.60" fill="url(#tg)"/>
<circle cx="486.05" cy="264.10" r="7.60" fill="#fff" clip-path="url(#cl18)"/>
<g clip-path="url(#cl18)"><path d="M469.8,270.0 A12.4,12.4 0 0 1 469.6,266.1" stroke="#c6c684" stroke-width="1.9" fill="none" stroke-linecap="round" opacity="0.81"/><path d="M486.4,257.8 A10.6,10.6 0 0 1 489.9,260.5" stroke="#c6c684" stroke-width="1.7" fill="none" stroke-linecap="round" opacity="0.88"/><path d="M467.0,266.9 A14.9,14.9 0 0 1 467.7,262.7" stroke="#c6c684" stroke-width="1.8" fill="none" stroke-linecap="round" opacity="0.93"/><path d="M493.9,268.2 A12.0,12.0 0 0 1 493.3,271.1" stroke="#c6c684" stroke-width="1.1" fill="none" stroke-linecap="round" opacity="0.62"/><path d="M481.5,260.8 A6.5,6.5 0 0 1 483.8,261.1" stroke="#c6c684" stroke-width="1.1" fill="none" stroke-linecap="round" opacity="0.67"/><path d="M467.5,272.3 A15.3,15.3 0 0 1 466.7,266.9" stroke="#c6c684" stroke-width="1.5" fill="none" stroke-linecap="round" opacity="0.80"/><path d="M477.4,262.4 A6.7,6.7 0 0 1 478.9,261.3" stroke="#c6c684" stroke-width="1.6" fill="none" stroke-linecap="round" opacity="0.60"/><path d="M469.5,266.0 A12.5,12.5 0 0 1 470.8,261.7" stroke="#c6c684" stroke-width="1.2" fill="none" stroke-linecap="round" opacity="0.93"/><path d="M475.5,259.1 A10.4,10.4 0 0 1 476.9,258.2" stroke="#c6c684" stroke-width="2.0" fill="none" stroke-linecap="round" opacity="0.86"/><path d="M500.4,266.7 A18.5,18.5 0 0 1 500.1,270.9" stroke="#c6c684" stroke-width="1.7" fill="none" stroke-linecap="round" opacity="0.80"/><path d="M484.3,256.1 A11.4,11.4 0 0 1 487.6,257.4" stroke="#c6c684" stroke-width="1.1" fill="none" stroke-linecap="round" opacity="0.97"/><path d="M493.4,271.3 A12.1,12.1 0 0 1 491.0,275.4" stroke="#c6c684" stroke-width="1.3" fill="none" stroke-linecap="round" opacity="0.71"/><path d="M477.8,261.4 A7.2,7.2 0 0 1 479.8,260.5" stroke="#c6c684" stroke-width="2.2" fill="none" stroke-linecap="round" opacity="0.71"/><path d="M480.1,254.9 A12.6,12.6 0 0 1 483.6,254.9" stroke="#c6c684" stroke-width="1.6" fill="none" stroke-linecap="round" opacity="0.99"/><path d="M491.0,277.2 A13.4,13.4 0 0 1 488.2,279.2" stroke="#c6c684" stroke-width="1.2" fill="none" stroke-linecap="round" opacity="0.73"/><path d="M491.1,259.6 A12.0,12.0 0 0 1 492.9,262.5" stroke="#c6c684" stroke-width="2.1" fill="none" stroke-linecap="round" opacity="0.61"/><path d="M466.4,258.8 A17.7,17.7 0 0 1 471.7,252.9" stroke="#c6c684" stroke-width="1.4" fill="none" stroke-linecap="round" opacity="0.72"/><path d="M480.5,255.4 A12.0,12.0 0 0 1 482.5,255.4" stroke="#c6c684" stroke-width="1.2" fill="none" stroke-linecap="round" opacity="0.95"/><path d="M465.9,261.1 A17.2,17.2 0 0 1 469.5,255.5" stroke="#c6c684" stroke-width="1.4" fill="none" stroke-linecap="round" opacity="0.76"/><path d="M471.9,274.3 A12.2,12.2 0 0 1 470.6,271.8" stroke="#c6c684" stroke-width="1.4" fill="none" stroke-linecap="round" opacity="0.70"/><path d="M473.3,279.0 A14.5,14.5 0 0 1 470.4,276.0" stroke="#c6c684" stroke-width="1.1" fill="none" stroke-linecap="round" opacity="0.84"/><path d="M498.2,259.3 A18.1,18.1 0 0 1 500.0,266.1" stroke="#c6c684" stroke-width="2.0" fill="none" stroke-linecap="round" opacity="0.67"/><path d="M485.8,257.5 A10.6,10.6 0 0 1 488.1,258.7" stroke="#c6c684" stroke-width="1.5" fill="none" stroke-linecap="round" opacity="0.97"/><path d="M478.2,252.9 A14.9,14.9 0 0 1 481.8,252.5" stroke="#c6c684" stroke-width="1.9" fill="none" stroke-linecap="round" opacity="0.68"/><path d="M466.4,272.4 A16.4,16.4 0 0 1 465.7,265.2" stroke="#c6c684" stroke-width="1.7" fill="none" stroke-linecap="round" opacity="0.82"/><path d="M475.1,270.7 A7.6,7.6 0 0 1 474.4,268.2" stroke="#c6c684" stroke-width="1.7" fill="none" stroke-linecap="round" opacity="0.62"/><path d="M476.4,275.7 A10.0,10.0 0 0 1 473.5,272.7" stroke="#c6c684" stroke-width="2.0" fill="none" stroke-linecap="round" opacity="0.72"/><path d="M478.4,277.2 A10.5,10.5 0 0 1 476.6,276.4" stroke="#c6c684" stroke-width="1.3" fill="none" stroke-linecap="round" opacity="0.71"/><path d="M487.5,280.7 A14.5,14.5 0 0 1 485.2,281.5" stroke="#c6c684" stroke-width="1.9" fill="none" stroke-linecap="round" opacity="0.90"/><path d="M482.2,277.9 A10.6,10.6 0 0 1 478.7,277.4" stroke="#c6c684" stroke-width="2.1" fill="none" stroke-linecap="round" opacity="0.65"/><path d="M483.0,257.7 A9.7,9.7 0 0 1 486.5,258.7" stroke="#c6c684" stroke-width="1.9" fill="none" stroke-linecap="round" opacity="0.75"/><path d="M486.6,276.7 A10.5,10.5 0 0 1 483.1,277.7" stroke="#c6c684" stroke-width="1.8" fill="none" stroke-linecap="round" opacity="0.68"/><path d="M481.6,278.3 A11.0,11.0 0 0 1 480.0,278.1" stroke="#c6c684" stroke-width="1.7" fill="none" stroke-linecap="round" opacity="0.95"/><path d="M487.8,270.9 A6.9,6.9 0 0 1 486.1,272.8" stroke="#c6c684" stroke-width="1.9" fill="none" stroke-linecap="round" opacity="0.94"/><path d="M463.7,269.6 A18.3,18.3 0 0 1 464.3,262.2" stroke="#c6c684" stroke-width="1.4" fill="none" stroke-linecap="round" opacity="0.74"/><path d="M494.1,271.2 A12.8,12.8 0 0 1 492.1,275.0" stroke="#c6c684" stroke-width="1.7" fill="none" stroke-linecap="round" opacity="0.82"/><path d="M497.1,258.7 A17.5,17.5 0 0 1 498.7,262.6" stroke="#c6c684" stroke-width="1.0" fill="none" stroke-linecap="round" opacity="0.65"/><path d="M490.8,264.7 A9.3,9.3 0 0 1 491.1,268.7" stroke="#c6c684" stroke-width="1.8" fill="none" stroke-linecap="round" opacity="0.60"/><path d="M473.4,268.2 A8.6,8.6 0 0 1 473.4,266.1" stroke="#c6c684" stroke-width="1.4" fill="none" stroke-linecap="round" opacity="0.68"/><path d="M488.7,267.7 A6.7,6.7 0 0 1 487.9,270.6" stroke="#c6c684" stroke-width="1.5" fill="none" stroke-linecap="round" opacity="0.81"/><path d="M491.8,274.6 A12.2,12.2 0 0 1 488.3,277.7" stroke="#c6c684" stroke-width="2.1" fill="none" stroke-linecap="round" opacity="0.70"/><path d="M497.3,265.1 A15.5,15.5 0 0 1 497.3,268.8" stroke="#c6c684" stroke-width="1.2" fill="none" stroke-linecap="round" opacity="0.70"/><path d="M483.6,274.9 A7.8,7.8 0 0 1 481.0,275.0" stroke="#c6c684" stroke-width="2.1" fill="none" stroke-linecap="round" opacity="0.80"/><path d="M484.3,250.3 A17.2,17.2 0 0 1 491.4,253.0" stroke="#c6c684" stroke-width="1.6" fill="none" stroke-linecap="round" opacity="0.85"/><path d="M474.4,251.3 A17.7,17.7 0 0 1 480.2,249.7" stroke="#c6c684" stroke-width="1.9" fill="none" stroke-linecap="round" opacity="0.83"/><path d="M487.0,251.5 A16.6,16.6 0 0 1 489.9,252.7" stroke="#c6c684" stroke-width="2.1" fill="none" stroke-linecap="round" opacity="0.76"/><path d="M471.9,254.4 A16.3,16.3 0 0 1 474.2,252.9" stroke="#c6c684" stroke-width="1.8" fill="none" stroke-linecap="round" opacity="0.87"/><path d="M470.3,262.2 A12.7,12.7 0 0 1 472.8,258.5" stroke="#c6c684" stroke-width="1.5" fill="none" stroke-linecap="round" opacity="0.81"/><path d="M490.7,254.0 A15.9,15.9 0 0 1 494.7,257.7" stroke="#c6c684" stroke-width="2.1" fill="none" stroke-linecap="round" opacity="0.87"/><path d="M481.1,253.7 A13.7,13.7 0 0 1 485.5,254.1" stroke="#c6c684" stroke-width="1.9" fill="none" stroke-linecap="round" opacity="0.94"/><path d="M475.3,266.9 A6.7,6.7 0 0 1 475.6,265.2" stroke="#c6c684" stroke-width="1.4" fill="none" stroke-linecap="round" opacity="0.94"/><path d="M481.3,252.5 A14.8,14.8 0 0 1 487.0,253.4" stroke="#c6c684" stroke-width="1.6" fill="none" stroke-linecap="round" opacity="0.79"/><path d="M493.0,269.8 A11.3,11.3 0 0 1 491.3,273.7" stroke="#c6c684" stroke-width="1.2" fill="none" stroke-linecap="round" opacity="0.81"/><path d="M479.9,276.1 A9.0,9.0 0 0 1 478.0,275.5" stroke="#c6c684" stroke-width="1.3" fill="none" stroke-linecap="round" opacity="0.89"/><path d="M482.1,285.1 A17.7,17.7 0 0 1 479.2,284.8" stroke="#c6c684" stroke-width="2.2" fill="none" stroke-linecap="round" opacity="0.93"/><path d="M489.6,261.8 A9.4,9.4 0 0 1 490.3,263.0" stroke="#c6c684" stroke-width="1.9" fill="none" stroke-linecap="round" opacity="0.81"/><path d="M490.3,282.5 A17.4,17.4 0 0 1 486.5,284.1" stroke="#c6c684" stroke-width="1.2" fill="none" stroke-linecap="round" opacity="0.92"/><path d="M480.5,259.3 A8.1,8.1 0 0 1 482.4,259.2" stroke="#c6c684" stroke-width="1.7" fill="none" stroke-linecap="round" opacity="0.86"/><path d="M486.3,260.2 A8.4,8.4 0 0 1 488.9,262.7" stroke="#c6c684" stroke-width="1.4" fill="none" stroke-linecap="round" opacity="0.67"/><path d="M478.0,254.4 A13.5,13.5 0 0 1 482.1,253.8" stroke="#c6c684" stroke-width="1.7" fill="none" stroke-linecap="round" opacity="0.88"/><path d="M472.5,261.5 A11.1,11.1 0 0 1 474.3,259.3" stroke="#c6c684" stroke-width="1.2" fill="none" stroke-linecap="round" opacity="0.64"/><path d="M478.4,273.6 A7.2,7.2 0 0 1 476.2,271.8" stroke="#c6c684" stroke-width="1.1" fill="none" stroke-linecap="round" opacity="0.85"/><path d="M465.1,266.2 A16.9,16.9 0 0 1 466.5,260.4" stroke="#c6c684" stroke-width="1.5" fill="none" stroke-linecap="round" opacity="0.69"/><path d="M476.4,262.1 A7.6,7.6 0 0 1 477.7,261.0" stroke="#c6c684" stroke-width="2.1" fill="none" stroke-linecap="round" opacity="0.94"/><path d="M498.6,261.0 A17.9,17.9 0 0 1 499.8,266.6" stroke="#c6c684" stroke-width="1.1" fill="none" stroke-linecap="round" opacity="0.89"/><path d="M486.8,262.1 A7.1,7.1 0 0 1 488.1,263.7" stroke="#c6c684" stroke-width="2.0" fill="none" stroke-linecap="round" opacity="0.69"/><path d="M479.6,276.7 A9.6,9.6 0 0 1 476.1,274.9" stroke="#c6c684" stroke-width="1.0" fill="none" stroke-linecap="round" opacity="0.66"/><path d="M477.8,278.6 A12.0,12.0 0 0 1 474.7,276.8" stroke="#c6c684" stroke-width="2.1" fill="none" stroke-linecap="round" opacity="0.62"/><path d="M477.9,279.3 A12.7,12.7 0 0 1 475.9,278.5" stroke="#c6c684" stroke-width="1.3" fill="none" stroke-linecap="round" opacity="0.99"/><path d="M495.1,265.6 A13.3,13.3 0 0 1 494.6,271.4" stroke="#c6c684" stroke-width="1.3" fill="none" stroke-linecap="round" opacity="0.92"/><path d="M482.5,249.2 A18.1,18.1 0 0 1 486.3,249.7" stroke="#c6c684" stroke-width="1.7" fill="none" stroke-linecap="round" opacity="0.98"/><path d="M483.2,253.7 A13.7,13.7 0 0 1 486.9,254.6" stroke="#c6c684" stroke-width="2.1" fill="none" stroke-linecap="round" opacity="0.95"/><path d="M490.3,281.8 A16.7,16.7 0 0 1 486.5,283.4" stroke="#c6c684" stroke-width="2.0" fill="none" stroke-linecap="round" opacity="0.70"/><path d="M467.3,256.3 A18.3,18.3 0 0 1 469.8,253.6" stroke="#c6c684" stroke-width="1.6" fill="none" stroke-linecap="round" opacity="0.67"/><path d="M487.2,270.5 A6.2,6.2 0 0 1 486.3,271.7" stroke="#c6c684" stroke-width="1.2" fill="none" stroke-linecap="round" opacity="0.91"/><path d="M490.9,274.2 A11.3,11.3 0 0 1 489.7,275.5" stroke="#c6c684" stroke-width="1.1" fill="none" stroke-linecap="round" opacity="0.87"/><path d="M482.8,253.5 A13.9,13.9 0 0 1 487.2,254.5" stroke="#c6c684" stroke-width="1.0" fill="none" stroke-linecap="round" opacity="0.77"/><path d="M483.7,282.6 A15.4,15.4 0 0 1 478.2,282.3" stroke="#c6c684" stroke-width="1.5" fill="none" stroke-linecap="round" opacity="0.75"/><path d="M493.8,269.0 A12.0,12.0 0 0 1 493.3,270.9" stroke="#c6c684" stroke-width="2.1" fill="none" stroke-linecap="round" opacity="0.63"/><path d="M484.2,253.9 A13.6,13.6 0 0 1 488.4,255.4" stroke="#c6c684" stroke-width="1.3" fill="none" stroke-linecap="round" opacity="0.78"/><path d="M474.0,273.6 A10.1,10.1 0 0 1 472.3,270.4" stroke="#c6c684" stroke-width="1.3" fill="none" stroke-linecap="round" opacity="0.66"/><path d="M476.9,261.9 A7.4,7.4 0 0 1 479.7,260.3" stroke="#c6c684" stroke-width="1.7" fill="none" stroke-linecap="round" opacity="0.64"/><path d="M492.7,260.0 A13.1,13.1 0 0 1 493.9,262.1" stroke="#c6c684" stroke-width="1.6" fill="none" stroke-linecap="round" opacity="0.93"/><path d="M479.2,281.2 A14.1,14.1 0 0 1 475.9,280.1" stroke="#c6c684" stroke-width="1.1" fill="none" stroke-linecap="round" opacity="0.79"/><path d="M473.2,274.4 A11.3,11.3 0 0 1 471.1,270.3" stroke="#c6c684" stroke-width="2.1" fill="none" stroke-linecap="round" opacity="0.81"/><path d="M479.2,251.0 A16.6,16.6 0 0 1 483.5,250.8" stroke="#c6c684" stroke-width="1.9" fill="none" stroke-linecap="round" opacity="0.64"/><path d="M483.0,277.0 A9.7,9.7 0 0 1 479.8,276.8" stroke="#c6c684" stroke-width="1.1" fill="none" stroke-linecap="round" opacity="0.99"/><path d="M466.9,260.6 A16.4,16.4 0 0 1 469.2,256.9" stroke="#c6c684" stroke-width="2.1" fill="none" stroke-linecap="round" opacity="0.87"/><path d="M481.9,255.8 A11.5,11.5 0 0 1 484.9,256.2" stroke="#c6c684" stroke-width="1.9" fill="none" stroke-linecap="round" opacity="0.66"/><path d="M479.0,278.2 A11.3,11.3 0 0 1 475.9,276.9" stroke="#c6c684" stroke-width="1.1" fill="none" stroke-linecap="round" opacity="0.71"/><path d="M481.2,283.8 A16.5,16.5 0 0 1 475.0,282.3" stroke="#c6c684" stroke-width="2.0" fill="none" stroke-linecap="round" opacity="0.94"/><path d="M498.0,259.9 A17.7,17.7 0 0 1 499.5,264.8" stroke="#c6c684" stroke-width="1.2" fill="none" stroke-linecap="round" opacity="0.73"/><path d="M473.2,272.1 A9.9,9.9 0 0 1 472.6,270.7" stroke="#c6c684" stroke-width="1.5" fill="none" stroke-linecap="round" opacity="1.00"/><path d="M491.8,272.1 A11.0,11.0 0 0 1 490.7,274.0" stroke="#c6c684" stroke-width="1.3" fill="none" stroke-linecap="round" opacity="0.93"/><path d="M467.3,262.6 A15.4,15.4 0 0 1 468.5,259.9" stroke="#c6c684" stroke-width="1.5" fill="none" stroke-linecap="round" opacity="0.81"/><path d="M487.3,276.8 A10.9,10.9 0 0 1 484.4,277.9" stroke="#c6c684" stroke-width="1.9" fill="none" stroke-linecap="round" opacity="0.99"/><path d="M478.1,249.8 A18.0,18.0 0 0 1 483.6,249.4" stroke="#c6c684" stroke-width="1.4" fill="none" stroke-linecap="round" opacity="0.61"/><path d="M488.5,282.9 A16.9,16.9 0 0 1 482.1,284.2" stroke="#c6c684" stroke-width="1.9" fill="none" stroke-linecap="round" opacity="0.61"/><path d="M475.7,263.5 A7.3,7.3 0 0 1 476.6,262.3" stroke="#c6c684" stroke-width="1.7" fill="none" stroke-linecap="round" opacity="0.83"/><path d="M489.0,257.0 A12.5,12.5 0 0 1 492.5,260.7" stroke="#c6c684" stroke-width="2.1" fill="none" stroke-linecap="round" opacity="0.90"/><path d="M491.6,275.3 A12.5,12.5 0 0 1 490.2,276.8" stroke="#c6c684" stroke-width="1.4" fill="none" stroke-linecap="round" opacity="0.91"/><path d="M471.6,281.5 A17.6,17.6 0 0 1 467.1,276.7" stroke="#c6c684" stroke-width="1.7" fill="none" stroke-linecap="round" opacity="0.71"/><path d="M473.1,282.0 A17.1,17.1 0 0 1 468.3,277.7" stroke="#c6c684" stroke-width="1.6" fill="none" stroke-linecap="round" opacity="0.74"/><path d="M471.3,269.0 A10.8,10.8 0 0 1 471.2,267.3" stroke="#c6c684" stroke-width="1.5" fill="none" stroke-linecap="round" opacity="0.99"/><path d="M491.4,260.4 A11.8,11.8 0 0 1 493.3,264.2" stroke="#c6c684" stroke-width="1.8" fill="none" stroke-linecap="round" opacity="0.66"/><path d="M493.6,260.2 A13.7,13.7 0 0 1 494.5,262.0" stroke="#c6c684" stroke-width="1.7" fill="none" stroke-linecap="round" opacity="0.69"/><path d="M470.6,252.4 A18.8,18.8 0 0 1 474.1,250.2" stroke="#c6c684" stroke-width="1.8" fill="none" stroke-linecap="round" opacity="0.93"/><path d="M471.3,261.5 A12.1,12.1 0 0 1 474.4,257.9" stroke="#c6c684" stroke-width="1.6" fill="none" stroke-linecap="round" opacity="0.79"/><path d="M476.0,262.6 A7.6,7.6 0 0 1 478.3,260.7" stroke="#c6c684" stroke-width="2.1" fill="none" stroke-linecap="round" opacity="0.74"/><path d="M473.5,267.7 A8.4,8.4 0 0 1 473.7,265.2" stroke="#c6c684" stroke-width="1.2" fill="none" stroke-linecap="round" opacity="0.67"/></g>
<circle cx="472.92" cy="229.82" r="19.60" fill="url(#tg)"/>
<circle cx="481.73" cy="233.38" r="7.60" fill="#fff" clip-path="url(#cl19)"/>
<g clip-path="url(#cl19)"><path d="M464.7,244.9 A18.2,18.2 0 0 1 460.7,239.7" stroke="#c6c684" stroke-width="1.2" fill="none" stroke-linecap="round" opacity="0.82"/><path d="M471.5,222.0 A10.8,10.8 0 0 1 476.0,220.6" stroke="#c6c684" stroke-width="2.1" fill="none" stroke-linecap="round" opacity="0.77"/><path d="M467.5,215.7 A18.3,18.3 0 0 1 474.8,213.2" stroke="#c6c684" stroke-width="2.1" fill="none" stroke-linecap="round" opacity="0.74"/><path d="M491.7,229.9 A14.9,14.9 0 0 1 491.6,233.4" stroke="#c6c684" stroke-width="1.7" fill="none" stroke-linecap="round" opacity="0.78"/><path d="M465.1,219.5 A16.8,16.8 0 0 1 467.3,217.6" stroke="#c6c684" stroke-width="1.9" fill="none" stroke-linecap="round" opacity="0.98"/><path d="M488.2,242.6 A15.9,15.9 0 0 1 484.0,245.6" stroke="#c6c684" stroke-width="1.7" fill="none" stroke-linecap="round" opacity="0.79"/><path d="M471.9,223.3 A9.5,9.5 0 0 1 473.2,222.6" stroke="#c6c684" stroke-width="1.2" fill="none" stroke-linecap="round" opacity="0.61"/><path d="M483.0,235.8 A7.5,7.5 0 0 1 482.2,236.7" stroke="#c6c684" stroke-width="1.7" fill="none" stroke-linecap="round" opacity="0.92"/><path d="M480.6,245.7 A14.7,14.7 0 0 1 475.9,246.1" stroke="#c6c684" stroke-width="1.1" fill="none" stroke-linecap="round" opacity="0.68"/><path d="M462.1,226.8 A15.5,15.5 0 0 1 465.4,221.1" stroke="#c6c684" stroke-width="1.1" fill="none" stroke-linecap="round" opacity="0.78"/><path d="M478.1,219.6 A11.9,11.9 0 0 1 480.9,220.2" stroke="#c6c684" stroke-width="1.2" fill="none" stroke-linecap="round" opacity="0.69"/><path d="M473.2,224.9 A7.5,7.5 0 0 1 474.6,224.3" stroke="#c6c684" stroke-width="1.2" fill="none" stroke-linecap="round" opacity="0.90"/><path d="M492.4,238.7 A17.2,17.2 0 0 1 489.2,243.4" stroke="#c6c684" stroke-width="2.2" fill="none" stroke-linecap="round" opacity="0.83"/><path d="M463.7,232.4 A13.2,13.2 0 0 1 464.3,227.2" stroke="#c6c684" stroke-width="1.2" fill="none" stroke-linecap="round" opacity="0.63"/><path d="M470.6,237.9 A9.1,9.1 0 0 1 468.4,234.6" stroke="#c6c684" stroke-width="2.2" fill="none" stroke-linecap="round" opacity="0.82"/><path d="M470.0,228.1 A7.7,7.7 0 0 1 470.8,226.8" stroke="#c6c684" stroke-width="1.3" fill="none" stroke-linecap="round" opacity="0.77"/><path d="M478.2,221.1 A10.3,10.3 0 0 1 480.9,221.9" stroke="#c6c684" stroke-width="1.1" fill="none" stroke-linecap="round" opacity="0.91"/><path d="M462.8,225.8 A15.2,15.2 0 0 1 464.2,223.0" stroke="#c6c684" stroke-width="1.5" fill="none" stroke-linecap="round" opacity="0.78"/><path d="M473.0,225.7 A6.9,6.9 0 0 1 475.2,224.7" stroke="#c6c684" stroke-width="1.7" fill="none" stroke-linecap="round" opacity="0.72"/><path d="M468.2,247.6 A18.4,18.4 0 0 1 465.4,245.8" stroke="#c6c684" stroke-width="1.9" fill="none" stroke-linecap="round" opacity="0.89"/><path d="M470.0,232.9 A7.0,7.0 0 0 1 469.9,231.2" stroke="#c6c684" stroke-width="2.2" fill="none" stroke-linecap="round" opacity="0.99"/><path d="M487.9,241.2 A14.7,14.7 0 0 1 482.6,245.0" stroke="#c6c684" stroke-width="1.2" fill="none" stroke-linecap="round" opacity="0.99"/><path d="M470.7,226.5 A8.0,8.0 0 0 1 472.0,225.1" stroke="#c6c684" stroke-width="1.7" fill="none" stroke-linecap="round" opacity="0.65"/><path d="M475.6,248.0 A16.7,16.7 0 0 1 472.1,247.4" stroke="#c6c684" stroke-width="1.9" fill="none" stroke-linecap="round" opacity="0.97"/><path d="M482.9,228.0 A6.9,6.9 0 0 1 483.5,229.5" stroke="#c6c684" stroke-width="1.4" fill="none" stroke-linecap="round" opacity="0.78"/><path d="M489.5,233.1 A12.7,12.7 0 0 1 489.0,235.5" stroke="#c6c684" stroke-width="2.1" fill="none" stroke-linecap="round" opacity="0.86"/><path d="M471.7,244.2 A13.8,13.8 0 0 1 469.1,242.9" stroke="#c6c684" stroke-width="2.1" fill="none" stroke-linecap="round" opacity="0.79"/><path d="M465.4,236.4 A12.6,12.6 0 0 1 464.5,233.7" stroke="#c6c684" stroke-width="1.3" fill="none" stroke-linecap="round" opacity="0.98"/><path d="M482.2,219.2 A13.4,13.4 0 0 1 484.1,220.2" stroke="#c6c684" stroke-width="1.7" fill="none" stroke-linecap="round" opacity="0.95"/><path d="M486.9,233.1 A10.2,10.2 0 0 1 485.2,237.3" stroke="#c6c684" stroke-width="2.1" fill="none" stroke-linecap="round" opacity="0.72"/><path d="M486.8,232.4 A9.9,9.9 0 0 1 486.2,234.8" stroke="#c6c684" stroke-width="1.2" fill="none" stroke-linecap="round" opacity="0.81"/><path d="M466.7,219.1 A16.0,16.0 0 0 1 472.0,216.2" stroke="#c6c684" stroke-width="1.8" fill="none" stroke-linecap="round" opacity="0.64"/><path d="M469.3,240.3 A11.7,11.7 0 0 1 466.7,237.1" stroke="#c6c684" stroke-width="1.0" fill="none" stroke-linecap="round" opacity="0.83"/><path d="M466.7,222.4 A13.7,13.7 0 0 1 471.2,219.0" stroke="#c6c684" stroke-width="1.9" fill="none" stroke-linecap="round" opacity="0.61"/><path d="M484.9,226.5 A9.5,9.5 0 0 1 485.9,228.4" stroke="#c6c684" stroke-width="1.6" fill="none" stroke-linecap="round" opacity="0.96"/><path d="M474.1,239.8 A8.8,8.8 0 0 1 472.2,238.9" stroke="#c6c684" stroke-width="1.0" fill="none" stroke-linecap="round" opacity="0.72"/><path d="M468.3,246.1 A17.0,17.0 0 0 1 463.3,241.7" stroke="#c6c684" stroke-width="1.1" fill="none" stroke-linecap="round" opacity="0.81"/><path d="M478.7,225.0 A6.7,6.7 0 0 1 479.9,225.5" stroke="#c6c684" stroke-width="1.7" fill="none" stroke-linecap="round" opacity="0.74"/><path d="M485.1,222.0 A12.6,12.6 0 0 1 488.3,226.1" stroke="#c6c684" stroke-width="1.6" fill="none" stroke-linecap="round" opacity="0.86"/><path d="M490.2,233.0 A13.4,13.4 0 0 1 489.3,236.4" stroke="#c6c684" stroke-width="1.5" fill="none" stroke-linecap="round" opacity="0.73"/><path d="M477.9,221.2 A10.2,10.2 0 0 1 480.6,221.9" stroke="#c6c684" stroke-width="1.9" fill="none" stroke-linecap="round" opacity="0.80"/><path d="M468.2,241.5 A13.3,13.3 0 0 1 466.7,240.0" stroke="#c6c684" stroke-width="1.7" fill="none" stroke-linecap="round" opacity="0.60"/><path d="M474.2,223.0 A8.8,8.8 0 0 1 475.8,222.7" stroke="#c6c684" stroke-width="1.7" fill="none" stroke-linecap="round" opacity="0.86"/><path d="M487.5,219.1 A16.3,16.3 0 0 1 489.6,221.3" stroke="#c6c684" stroke-width="1.3" fill="none" stroke-linecap="round" opacity="0.81"/><path d="M486.7,225.5 A11.5,11.5 0 0 1 488.2,229.3" stroke="#c6c684" stroke-width="1.4" fill="none" stroke-linecap="round" opacity="0.89"/><path d="M486.8,232.7 A10.0,10.0 0 0 1 485.9,235.9" stroke="#c6c684" stroke-width="1.9" fill="none" stroke-linecap="round" opacity="0.78"/><path d="M482.2,243.7 A13.4,13.4 0 0 1 476.4,244.8" stroke="#c6c684" stroke-width="1.6" fill="none" stroke-linecap="round" opacity="0.84"/><path d="M484.5,217.8 A15.6,15.6 0 0 1 489.2,221.9" stroke="#c6c684" stroke-width="1.8" fill="none" stroke-linecap="round" opacity="0.82"/><path d="M488.5,221.2 A15.5,15.5 0 0 1 491.1,225.3" stroke="#c6c684" stroke-width="1.2" fill="none" stroke-linecap="round" opacity="0.66"/><path d="M463.9,244.9 A18.7,18.7 0 0 1 459.6,238.6" stroke="#c6c684" stroke-width="1.8" fill="none" stroke-linecap="round" opacity="0.84"/><path d="M473.8,238.4 A7.7,7.7 0 0 1 472.7,237.8" stroke="#c6c684" stroke-width="1.8" fill="none" stroke-linecap="round" opacity="0.76"/><path d="M490.4,235.2 A14.0,14.0 0 0 1 488.9,238.7" stroke="#c6c684" stroke-width="2.0" fill="none" stroke-linecap="round" opacity="0.93"/><path d="M483.1,231.4 A6.3,6.3 0 0 1 482.9,233.3" stroke="#c6c684" stroke-width="1.2" fill="none" stroke-linecap="round" opacity="0.78"/><path d="M484.0,224.2 A10.2,10.2 0 0 1 485.3,225.7" stroke="#c6c684" stroke-width="1.8" fill="none" stroke-linecap="round" opacity="0.65"/><path d="M493.2,228.8 A16.5,16.5 0 0 1 493.0,235.3" stroke="#c6c684" stroke-width="1.7" fill="none" stroke-linecap="round" opacity="0.71"/><path d="M479.3,224.1 A7.7,7.7 0 0 1 481.6,225.3" stroke="#c6c684" stroke-width="1.1" fill="none" stroke-linecap="round" opacity="0.61"/><path d="M494.5,225.6 A18.5,18.5 0 0 1 495.2,233.8" stroke="#c6c684" stroke-width="1.5" fill="none" stroke-linecap="round" opacity="0.73"/><path d="M474.8,221.6 A10.1,10.1 0 0 1 478.9,221.6" stroke="#c6c684" stroke-width="2.1" fill="none" stroke-linecap="round" opacity="0.67"/><path d="M486.7,233.6 A10.0,10.0 0 0 1 485.8,236.1" stroke="#c6c684" stroke-width="1.9" fill="none" stroke-linecap="round" opacity="0.79"/><path d="M463.3,243.5 A18.2,18.2 0 0 1 461.7,241.3" stroke="#c6c684" stroke-width="1.1" fill="none" stroke-linecap="round" opacity="0.60"/><path d="M494.2,231.6 A17.3,17.3 0 0 1 493.0,237.7" stroke="#c6c684" stroke-width="2.1" fill="none" stroke-linecap="round" opacity="0.68"/><path d="M482.8,226.0 A8.0,8.0 0 0 1 484.1,228.0" stroke="#c6c684" stroke-width="2.1" fill="none" stroke-linecap="round" opacity="0.80"/><path d="M489.1,234.9 A12.7,12.7 0 0 1 487.7,238.0" stroke="#c6c684" stroke-width="1.6" fill="none" stroke-linecap="round" opacity="0.67"/><path d="M474.7,246.4 A15.1,15.1 0 0 1 472.1,245.8" stroke="#c6c684" stroke-width="1.1" fill="none" stroke-linecap="round" opacity="0.99"/><path d="M469.5,238.0 A9.9,9.9 0 0 1 468.0,235.8" stroke="#c6c684" stroke-width="1.7" fill="none" stroke-linecap="round" opacity="0.61"/><path d="M460.0,223.3 A18.7,18.7 0 0 1 463.1,218.7" stroke="#c6c684" stroke-width="2.1" fill="none" stroke-linecap="round" opacity="0.98"/><path d="M468.0,236.9 A10.4,10.4 0 0 1 467.3,235.4" stroke="#c6c684" stroke-width="1.6" fill="none" stroke-linecap="round" opacity="0.95"/><path d="M491.0,229.9 A14.2,14.2 0 0 1 491.0,232.3" stroke="#c6c684" stroke-width="1.8" fill="none" stroke-linecap="round" opacity="0.64"/><path d="M464.8,239.9 A14.7,14.7 0 0 1 462.7,235.5" stroke="#c6c684" stroke-width="1.8" fill="none" stroke-linecap="round" opacity="0.77"/><path d="M462.1,226.5 A15.6,15.6 0 0 1 465.3,221.0" stroke="#c6c684" stroke-width="1.2" fill="none" stroke-linecap="round" opacity="0.74"/><path d="M474.2,225.7 A6.3,6.3 0 0 1 475.8,225.2" stroke="#c6c684" stroke-width="1.4" fill="none" stroke-linecap="round" opacity="0.97"/><path d="M471.0,241.7 A11.9,11.9 0 0 1 467.4,238.6" stroke="#c6c684" stroke-width="1.2" fill="none" stroke-linecap="round" opacity="0.84"/><path d="M484.3,232.8 A7.5,7.5 0 0 1 483.1,235.6" stroke="#c6c684" stroke-width="1.2" fill="none" stroke-linecap="round" opacity="0.62"/><path d="M479.0,248.8 A17.5,17.5 0 0 1 475.8,248.9" stroke="#c6c684" stroke-width="2.0" fill="none" stroke-linecap="round" opacity="0.72"/><path d="M479.9,239.9 A9.0,9.0 0 0 1 476.6,240.4" stroke="#c6c684" stroke-width="1.7" fill="none" stroke-linecap="round" opacity="0.76"/><path d="M479.8,236.8 A6.1,6.1 0 0 1 478.0,237.5" stroke="#c6c684" stroke-width="2.0" fill="none" stroke-linecap="round" opacity="0.64"/><path d="M477.3,243.1 A11.7,11.7 0 0 1 473.3,242.6" stroke="#c6c684" stroke-width="1.1" fill="none" stroke-linecap="round" opacity="0.65"/><path d="M474.8,218.9 A12.7,12.7 0 0 1 480.5,219.2" stroke="#c6c684" stroke-width="1.2" fill="none" stroke-linecap="round" opacity="0.75"/><path d="M467.1,242.8 A15.0,15.0 0 0 1 465.0,240.5" stroke="#c6c684" stroke-width="1.7" fill="none" stroke-linecap="round" opacity="0.68"/><path d="M472.2,241.2 A10.9,10.9 0 0 1 468.9,238.8" stroke="#c6c684" stroke-width="1.9" fill="none" stroke-linecap="round" opacity="0.83"/><path d="M475.6,239.8 A8.5,8.5 0 0 1 473.5,239.2" stroke="#c6c684" stroke-width="2.0" fill="none" stroke-linecap="round" opacity="0.98"/><path d="M489.6,221.5 A16.1,16.1 0 0 1 491.6,224.8" stroke="#c6c684" stroke-width="1.0" fill="none" stroke-linecap="round" opacity="0.79"/><path d="M468.9,230.8 A8.0,8.0 0 0 1 469.7,227.9" stroke="#c6c684" stroke-width="1.7" fill="none" stroke-linecap="round" opacity="0.67"/><path d="M473.9,218.1 A13.6,13.6 0 0 1 479.1,218.0" stroke="#c6c684" stroke-width="1.3" fill="none" stroke-linecap="round" opacity="0.95"/><path d="M476.9,221.9 A9.5,9.5 0 0 1 480.0,222.5" stroke="#c6c684" stroke-width="1.2" fill="none" stroke-linecap="round" opacity="0.78"/><path d="M469.6,216.4 A16.7,16.7 0 0 1 475.2,214.8" stroke="#c6c684" stroke-width="1.4" fill="none" stroke-linecap="round" opacity="0.67"/><path d="M467.3,220.5 A14.5,14.5 0 0 1 471.8,217.8" stroke="#c6c684" stroke-width="1.9" fill="none" stroke-linecap="round" opacity="0.89"/><path d="M489.0,225.3 A13.6,13.6 0 0 1 490.0,227.8" stroke="#c6c684" stroke-width="1.4" fill="none" stroke-linecap="round" opacity="0.66"/><path d="M477.5,216.5 A14.9,14.9 0 0 1 479.7,216.8" stroke="#c6c684" stroke-width="1.8" fill="none" stroke-linecap="round" opacity="0.83"/><path d="M473.2,247.2 A16.2,16.2 0 0 1 469.8,246.0" stroke="#c6c684" stroke-width="1.9" fill="none" stroke-linecap="round" opacity="0.70"/><path d="M468.8,224.0 A10.9,10.9 0 0 1 470.8,222.3" stroke="#c6c684" stroke-width="1.9" fill="none" stroke-linecap="round" opacity="0.79"/><path d="M484.4,229.6 A7.7,7.7 0 0 1 484.6,231.9" stroke="#c6c684" stroke-width="1.3" fill="none" stroke-linecap="round" opacity="0.94"/><path d="M476.7,220.4 A11.0,11.0 0 0 1 479.2,220.7" stroke="#c6c684" stroke-width="1.2" fill="none" stroke-linecap="round" opacity="0.64"/><path d="M462.0,221.0 A18.2,18.2 0 0 1 464.7,218.0" stroke="#c6c684" stroke-width="1.6" fill="none" stroke-linecap="round" opacity="0.72"/><path d="M470.2,217.7 A15.3,15.3 0 0 1 476.3,216.1" stroke="#c6c684" stroke-width="1.7" fill="none" stroke-linecap="round" opacity="0.97"/><path d="M492.9,232.2 A16.0,16.0 0 0 1 492.5,234.9" stroke="#c6c684" stroke-width="1.6" fill="none" stroke-linecap="round" opacity="0.63"/><path d="M472.2,222.5 A10.1,10.1 0 0 1 474.8,221.6" stroke="#c6c684" stroke-width="2.1" fill="none" stroke-linecap="round" opacity="0.77"/><path d="M469.2,237.2 A9.6,9.6 0 0 1 468.3,235.9" stroke="#c6c684" stroke-width="1.1" fill="none" stroke-linecap="round" opacity="0.89"/><path d="M470.6,231.6 A6.2,6.2 0 0 1 471.1,229.1" stroke="#c6c684" stroke-width="1.2" fill="none" stroke-linecap="round" opacity="0.69"/><path d="M460.8,236.6 A16.9,16.9 0 0 1 460.0,230.8" stroke="#c6c684" stroke-width="1.2" fill="none" stroke-linecap="round" opacity="0.72"/><path d="M471.0,237.6 A8.6,8.6 0 0 1 469.1,235.0" stroke="#c6c684" stroke-width="1.3" fill="none" stroke-linecap="round" opacity="0.80"/><path d="M485.9,234.6 A9.5,9.5 0 0 1 484.9,236.6" stroke="#c6c684" stroke-width="1.9" fill="none" stroke-linecap="round" opacity="0.95"/><path d="M472.4,219.1 A13.1,13.1 0 0 1 477.3,218.3" stroke="#c6c684" stroke-width="1.8" fill="none" stroke-linecap="round" opacity="0.61"/><path d="M470.4,228.9 A6.9,6.9 0 0 1 471.1,227.6" stroke="#c6c684" stroke-width="1.9" fill="none" stroke-linecap="round" opacity="0.85"/><path d="M484.4,231.8 A7.5,7.5 0 0 1 484.3,233.0" stroke="#c6c684" stroke-width="1.8" fill="none" stroke-linecap="round" opacity="1.00"/><path d="M486.5,241.7 A14.1,14.1 0 0 1 481.7,244.7" stroke="#c6c684" stroke-width="1.9" fill="none" stroke-linecap="round" opacity="0.84"/><path d="M477.9,224.1 A7.4,7.4 0 0 1 480.8,225.2" stroke="#c6c684" stroke-width="1.7" fill="none" stroke-linecap="round" opacity="0.92"/><path d="M481.1,221.4 A10.9,10.9 0 0 1 484.7,223.9" stroke="#c6c684" stroke-width="1.2" fill="none" stroke-linecap="round" opacity="0.95"/><path d="M488.5,235.4 A12.2,12.2 0 0 1 487.7,237.2" stroke="#c6c684" stroke-width="1.5" fill="none" stroke-linecap="round" opacity="0.97"/><path d="M472.1,224.0 A8.9,8.9 0 0 1 475.3,222.7" stroke="#c6c684" stroke-width="1.7" fill="none" stroke-linecap="round" opacity="0.73"/></g>
<circle cx="504.86" cy="204.86" r="19.60" fill="url(#tg)"/>
<circle cx="506.18" cy="214.27" r="7.60" fill="#fff" clip-path="url(#cl20)"/>
<g clip-path="url(#cl20)"><path d="M511.6,214.3 A8.1,8.1 0 0 1 509.9,215.8" stroke="#c6c684" stroke-width="1.4" fill="none" stroke-linecap="round" opacity="0.70"/><path d="M506.7,218.3 A9.3,9.3 0 0 1 503.4,218.1" stroke="#c6c684" stroke-width="1.3" fill="none" stroke-linecap="round" opacity="0.97"/><path d="M494.5,212.3 A11.4,11.4 0 0 1 494.1,209.6" stroke="#c6c684" stroke-width="2.1" fill="none" stroke-linecap="round" opacity="0.67"/><path d="M503.5,221.4 A12.5,12.5 0 0 1 499.7,220.2" stroke="#c6c684" stroke-width="1.3" fill="none" stroke-linecap="round" opacity="0.89"/><path d="M496.2,220.7 A14.9,14.9 0 0 1 494.0,218.6" stroke="#c6c684" stroke-width="1.6" fill="none" stroke-linecap="round" opacity="0.93"/><path d="M491.5,217.2 A16.2,16.2 0 0 1 489.8,213.0" stroke="#c6c684" stroke-width="1.4" fill="none" stroke-linecap="round" opacity="0.90"/><path d="M511.2,193.0 A17.1,17.1 0 0 1 513.9,194.2" stroke="#c6c684" stroke-width="1.8" fill="none" stroke-linecap="round" opacity="0.94"/><path d="M508.3,198.2 A11.3,11.3 0 0 1 512.4,200.3" stroke="#c6c684" stroke-width="1.2" fill="none" stroke-linecap="round" opacity="0.80"/><path d="M496.1,223.8 A17.4,17.4 0 0 1 491.8,220.0" stroke="#c6c684" stroke-width="1.8" fill="none" stroke-linecap="round" opacity="0.88"/><path d="M513.2,212.9 A8.6,8.6 0 0 1 511.9,214.8" stroke="#c6c684" stroke-width="1.6" fill="none" stroke-linecap="round" opacity="0.69"/><path d="M497.0,213.9 A9.7,9.7 0 0 1 496.0,211.2" stroke="#c6c684" stroke-width="1.9" fill="none" stroke-linecap="round" opacity="0.67"/><path d="M497.4,201.8 A10.8,10.8 0 0 1 499.6,199.9" stroke="#c6c684" stroke-width="1.0" fill="none" stroke-linecap="round" opacity="0.67"/><path d="M514.0,193.4 A17.9,17.9 0 0 1 516.8,195.3" stroke="#c6c684" stroke-width="1.9" fill="none" stroke-linecap="round" opacity="0.69"/><path d="M510.0,218.3 A10.3,10.3 0 0 1 506.1,219.3" stroke="#c6c684" stroke-width="1.4" fill="none" stroke-linecap="round" opacity="0.67"/><path d="M494.3,197.3 A16.3,16.3 0 0 1 500.3,193.7" stroke="#c6c684" stroke-width="1.8" fill="none" stroke-linecap="round" opacity="0.83"/><path d="M513.0,195.5 A15.6,15.6 0 0 1 517.8,199.7" stroke="#c6c684" stroke-width="1.8" fill="none" stroke-linecap="round" opacity="0.62"/><path d="M510.2,190.9 A18.8,18.8 0 0 1 516.7,194.1" stroke="#c6c684" stroke-width="1.1" fill="none" stroke-linecap="round" opacity="0.63"/><path d="M498.0,194.2 A16.7,16.7 0 0 1 504.2,192.5" stroke="#c6c684" stroke-width="1.1" fill="none" stroke-linecap="round" opacity="0.78"/><path d="M519.9,213.8 A15.2,15.2 0 0 1 517.6,218.3" stroke="#c6c684" stroke-width="1.5" fill="none" stroke-linecap="round" opacity="0.82"/><path d="M499.0,210.7 A6.7,6.7 0 0 1 498.8,209.1" stroke="#c6c684" stroke-width="1.8" fill="none" stroke-linecap="round" opacity="0.75"/><path d="M520.9,205.6 A15.8,15.8 0 0 1 521.2,209.3" stroke="#c6c684" stroke-width="1.2" fill="none" stroke-linecap="round" opacity="0.92"/><path d="M504.9,202.2 A6.9,6.9 0 0 1 506.5,202.3" stroke="#c6c684" stroke-width="1.9" fill="none" stroke-linecap="round" opacity="0.67"/><path d="M492.1,212.5 A13.8,13.8 0 0 1 491.7,209.2" stroke="#c6c684" stroke-width="1.7" fill="none" stroke-linecap="round" opacity="0.90"/><path d="M510.0,203.8 A7.0,7.0 0 0 1 511.6,205.9" stroke="#c6c684" stroke-width="1.8" fill="none" stroke-linecap="round" opacity="0.98"/><path d="M492.2,217.3 A15.6,15.6 0 0 1 490.4,213.1" stroke="#c6c684" stroke-width="2.1" fill="none" stroke-linecap="round" opacity="0.64"/><path d="M500.4,221.7 A13.6,13.6 0 0 1 495.8,218.6" stroke="#c6c684" stroke-width="1.6" fill="none" stroke-linecap="round" opacity="0.93"/><path d="M508.8,191.2 A18.2,18.2 0 0 1 513.8,193.0" stroke="#c6c684" stroke-width="2.0" fill="none" stroke-linecap="round" opacity="0.91"/><path d="M521.0,214.9 A16.6,16.6 0 0 1 518.2,219.7" stroke="#c6c684" stroke-width="2.1" fill="none" stroke-linecap="round" opacity="0.65"/><path d="M503.6,202.8 A6.6,6.6 0 0 1 506.5,202.6" stroke="#c6c684" stroke-width="1.7" fill="none" stroke-linecap="round" opacity="0.62"/><path d="M502.8,191.8 A17.5,17.5 0 0 1 510.5,192.3" stroke="#c6c684" stroke-width="1.6" fill="none" stroke-linecap="round" opacity="0.70"/><path d="M503.7,226.1 A17.1,17.1 0 0 1 500.6,225.5" stroke="#c6c684" stroke-width="1.5" fill="none" stroke-linecap="round" opacity="0.99"/><path d="M499.9,203.5 A7.9,7.9 0 0 1 502.2,201.9" stroke="#c6c684" stroke-width="1.7" fill="none" stroke-linecap="round" opacity="0.93"/><path d="M508.6,226.6 A17.8,17.8 0 0 1 502.1,226.6" stroke="#c6c684" stroke-width="1.1" fill="none" stroke-linecap="round" opacity="0.97"/><path d="M509.4,202.6 A7.6,7.6 0 0 1 510.4,203.3" stroke="#c6c684" stroke-width="1.1" fill="none" stroke-linecap="round" opacity="0.87"/><path d="M506.7,219.3 A10.3,10.3 0 0 1 503.2,219.1" stroke="#c6c684" stroke-width="1.3" fill="none" stroke-linecap="round" opacity="0.79"/><path d="M491.2,221.3 A18.8,18.8 0 0 1 487.5,214.6" stroke="#c6c684" stroke-width="1.4" fill="none" stroke-linecap="round" opacity="0.97"/><path d="M502.0,219.5 A11.0,11.0 0 0 1 500.4,218.8" stroke="#c6c684" stroke-width="1.8" fill="none" stroke-linecap="round" opacity="0.73"/><path d="M509.7,225.5 A16.9,16.9 0 0 1 506.3,226.0" stroke="#c6c684" stroke-width="1.4" fill="none" stroke-linecap="round" opacity="0.70"/><path d="M511.9,198.2 A12.7,12.7 0 0 1 513.6,199.4" stroke="#c6c684" stroke-width="1.5" fill="none" stroke-linecap="round" opacity="0.79"/><path d="M524.2,209.3 A18.7,18.7 0 0 1 522.8,216.2" stroke="#c6c684" stroke-width="1.1" fill="none" stroke-linecap="round" opacity="0.71"/><path d="M505.6,201.5 A7.6,7.6 0 0 1 508.5,202.2" stroke="#c6c684" stroke-width="1.8" fill="none" stroke-linecap="round" opacity="0.72"/><path d="M511.7,207.0 A6.6,6.6 0 0 1 512.0,208.3" stroke="#c6c684" stroke-width="1.1" fill="none" stroke-linecap="round" opacity="0.75"/><path d="M509.4,216.5 A8.3,8.3 0 0 1 508.0,217.0" stroke="#c6c684" stroke-width="1.2" fill="none" stroke-linecap="round" opacity="0.95"/><path d="M511.9,213.8 A8.0,8.0 0 0 1 510.8,215.0" stroke="#c6c684" stroke-width="2.2" fill="none" stroke-linecap="round" opacity="0.69"/><path d="M511.3,211.9 A6.5,6.5 0 0 1 510.6,213.1" stroke="#c6c684" stroke-width="1.1" fill="none" stroke-linecap="round" opacity="0.77"/><path d="M513.2,209.2 A7.8,7.8 0 0 1 512.8,211.6" stroke="#c6c684" stroke-width="2.0" fill="none" stroke-linecap="round" opacity="0.81"/><path d="M509.9,218.5 A10.4,10.4 0 0 1 508.0,219.2" stroke="#c6c684" stroke-width="1.8" fill="none" stroke-linecap="round" opacity="0.86"/><path d="M499.9,220.9 A13.0,13.0 0 0 1 498.0,219.7" stroke="#c6c684" stroke-width="2.0" fill="none" stroke-linecap="round" opacity="0.83"/><path d="M521.2,199.9 A18.3,18.3 0 0 1 523.5,206.3" stroke="#c6c684" stroke-width="1.0" fill="none" stroke-linecap="round" opacity="0.79"/><path d="M504.0,200.0 A9.2,9.2 0 0 1 507.3,200.0" stroke="#c6c684" stroke-width="2.2" fill="none" stroke-linecap="round" opacity="0.80"/><path d="M495.2,216.2 A12.5,12.5 0 0 1 493.8,213.5" stroke="#c6c684" stroke-width="1.5" fill="none" stroke-linecap="round" opacity="0.83"/><path d="M510.5,224.0 A15.7,15.7 0 0 1 507.0,224.7" stroke="#c6c684" stroke-width="1.7" fill="none" stroke-linecap="round" opacity="0.89"/><path d="M497.4,223.2 A16.2,16.2 0 0 1 492.3,218.7" stroke="#c6c684" stroke-width="1.3" fill="none" stroke-linecap="round" opacity="0.85"/><path d="M493.2,221.1 A17.1,17.1 0 0 1 489.3,215.0" stroke="#c6c684" stroke-width="1.5" fill="none" stroke-linecap="round" opacity="0.90"/><path d="M502.8,199.5 A10.0,10.0 0 0 1 504.9,199.2" stroke="#c6c684" stroke-width="1.5" fill="none" stroke-linecap="round" opacity="0.69"/><path d="M511.4,202.9 A8.6,8.6 0 0 1 512.8,204.7" stroke="#c6c684" stroke-width="1.2" fill="none" stroke-linecap="round" opacity="0.80"/><path d="M499.3,192.9 A17.4,17.4 0 0 1 505.1,191.7" stroke="#c6c684" stroke-width="1.5" fill="none" stroke-linecap="round" opacity="0.89"/><path d="M520.4,202.5 A16.3,16.3 0 0 1 521.7,207.2" stroke="#c6c684" stroke-width="1.4" fill="none" stroke-linecap="round" opacity="0.83"/><path d="M503.7,216.0 A7.1,7.1 0 0 1 501.8,215.1" stroke="#c6c684" stroke-width="1.2" fill="none" stroke-linecap="round" opacity="0.80"/><path d="M505.0,194.5 A14.6,14.6 0 0 1 511.0,195.6" stroke="#c6c684" stroke-width="1.3" fill="none" stroke-linecap="round" opacity="0.94"/><path d="M507.2,202.1 A7.2,7.2 0 0 1 509.2,202.9" stroke="#c6c684" stroke-width="2.1" fill="none" stroke-linecap="round" opacity="0.79"/><path d="M516.8,214.3 A12.5,12.5 0 0 1 513.9,218.3" stroke="#c6c684" stroke-width="1.2" fill="none" stroke-linecap="round" opacity="0.91"/><path d="M501.5,223.8 A15.2,15.2 0 0 1 495.7,220.7" stroke="#c6c684" stroke-width="1.2" fill="none" stroke-linecap="round" opacity="0.99"/><path d="M504.7,227.0 A17.9,17.9 0 0 1 500.2,226.2" stroke="#c6c684" stroke-width="1.6" fill="none" stroke-linecap="round" opacity="0.99"/><path d="M501.3,197.9 A12.0,12.0 0 0 1 503.0,197.4" stroke="#c6c684" stroke-width="1.5" fill="none" stroke-linecap="round" opacity="0.69"/><path d="M491.7,205.3 A14.2,14.2 0 0 1 492.9,202.4" stroke="#c6c684" stroke-width="1.5" fill="none" stroke-linecap="round" opacity="0.89"/><path d="M492.1,208.0 A13.4,13.4 0 0 1 493.4,203.2" stroke="#c6c684" stroke-width="1.5" fill="none" stroke-linecap="round" opacity="0.61"/><path d="M492.1,202.2 A15.0,15.0 0 0 1 495.5,197.9" stroke="#c6c684" stroke-width="1.2" fill="none" stroke-linecap="round" opacity="0.89"/><path d="M518.4,198.5 A16.7,16.7 0 0 1 521.6,204.6" stroke="#c6c684" stroke-width="1.1" fill="none" stroke-linecap="round" opacity="0.92"/><path d="M515.7,207.5 A10.4,10.4 0 0 1 515.5,211.8" stroke="#c6c684" stroke-width="2.0" fill="none" stroke-linecap="round" opacity="0.87"/><path d="M490.0,205.4 A15.8,15.8 0 0 1 491.0,202.6" stroke="#c6c684" stroke-width="2.1" fill="none" stroke-linecap="round" opacity="0.70"/><path d="M517.1,211.4 A11.9,11.9 0 0 1 516.1,214.3" stroke="#c6c684" stroke-width="1.9" fill="none" stroke-linecap="round" opacity="0.87"/><path d="M515.1,217.0 A12.5,12.5 0 0 1 511.8,219.8" stroke="#c6c684" stroke-width="1.7" fill="none" stroke-linecap="round" opacity="0.69"/><path d="M499.2,204.8 A7.6,7.6 0 0 1 500.6,203.3" stroke="#c6c684" stroke-width="2.1" fill="none" stroke-linecap="round" opacity="0.97"/><path d="M503.0,218.0 A9.2,9.2 0 0 1 501.4,217.4" stroke="#c6c684" stroke-width="1.3" fill="none" stroke-linecap="round" opacity="0.83"/><path d="M495.7,212.1 A10.2,10.2 0 0 1 495.4,210.6" stroke="#c6c684" stroke-width="1.7" fill="none" stroke-linecap="round" opacity="0.78"/><path d="M508.5,218.7 A10.1,10.1 0 0 1 506.3,219.1" stroke="#c6c684" stroke-width="1.1" fill="none" stroke-linecap="round" opacity="0.70"/><path d="M501.0,200.4 A9.8,9.8 0 0 1 505.0,199.3" stroke="#c6c684" stroke-width="1.5" fill="none" stroke-linecap="round" opacity="0.97"/><path d="M511.4,226.2 A18.1,18.1 0 0 1 507.6,227.1" stroke="#c6c684" stroke-width="1.2" fill="none" stroke-linecap="round" opacity="0.69"/><path d="M504.2,225.9 A16.9,16.9 0 0 1 499.0,224.7" stroke="#c6c684" stroke-width="1.5" fill="none" stroke-linecap="round" opacity="0.68"/><path d="M518.5,218.4 A16.1,16.1 0 0 1 516.2,221.1" stroke="#c6c684" stroke-width="1.2" fill="none" stroke-linecap="round" opacity="0.83"/><path d="M504.4,199.8 A9.4,9.4 0 0 1 507.1,199.8" stroke="#c6c684" stroke-width="1.9" fill="none" stroke-linecap="round" opacity="0.62"/><path d="M500.3,201.0 A9.6,9.6 0 0 1 502.6,199.9" stroke="#c6c684" stroke-width="1.6" fill="none" stroke-linecap="round" opacity="0.78"/><path d="M511.6,205.5 A7.1,7.1 0 0 1 512.0,206.4" stroke="#c6c684" stroke-width="1.1" fill="none" stroke-linecap="round" opacity="0.84"/><path d="M506.0,220.7 A11.6,11.6 0 0 1 502.5,220.3" stroke="#c6c684" stroke-width="1.8" fill="none" stroke-linecap="round" opacity="0.72"/><path d="M517.5,216.1 A13.9,13.9 0 0 1 514.1,220.1" stroke="#c6c684" stroke-width="1.5" fill="none" stroke-linecap="round" opacity="0.74"/><path d="M499.9,202.5 A8.7,8.7 0 0 1 502.2,201.0" stroke="#c6c684" stroke-width="1.2" fill="none" stroke-linecap="round" opacity="0.93"/><path d="M505.0,201.6 A7.5,7.5 0 0 1 508.1,202.1" stroke="#c6c684" stroke-width="1.3" fill="none" stroke-linecap="round" opacity="0.62"/><path d="M497.4,222.3 A15.5,15.5 0 0 1 495.1,220.6" stroke="#c6c684" stroke-width="2.1" fill="none" stroke-linecap="round" opacity="0.77"/><path d="M494.9,204.4 A11.5,11.5 0 0 1 496.7,201.6" stroke="#c6c684" stroke-width="1.7" fill="none" stroke-linecap="round" opacity="0.75"/><path d="M504.8,218.6 A9.6,9.6 0 0 1 502.8,218.3" stroke="#c6c684" stroke-width="1.3" fill="none" stroke-linecap="round" opacity="0.91"/><path d="M494.6,221.3 A16.4,16.4 0 0 1 490.7,216.2" stroke="#c6c684" stroke-width="1.5" fill="none" stroke-linecap="round" opacity="0.99"/><path d="M512.1,218.6 A11.6,11.6 0 0 1 509.3,220.1" stroke="#c6c684" stroke-width="1.1" fill="none" stroke-linecap="round" opacity="0.62"/><path d="M515.5,208.8 A10.0,10.0 0 0 1 514.6,213.1" stroke="#c6c684" stroke-width="1.9" fill="none" stroke-linecap="round" opacity="0.99"/><path d="M494.6,216.6 A13.2,13.2 0 0 1 493.6,214.9" stroke="#c6c684" stroke-width="1.3" fill="none" stroke-linecap="round" opacity="0.65"/><path d="M488.0,211.2 A17.6,17.6 0 0 1 488.0,207.0" stroke="#c6c684" stroke-width="1.5" fill="none" stroke-linecap="round" opacity="0.90"/><path d="M494.5,203.7 A12.2,12.2 0 0 1 496.2,201.0" stroke="#c6c684" stroke-width="1.6" fill="none" stroke-linecap="round" opacity="0.66"/><path d="M513.9,221.2 A14.8,14.8 0 0 1 511.3,222.7" stroke="#c6c684" stroke-width="1.1" fill="none" stroke-linecap="round" opacity="0.99"/><path d="M517.2,216.1 A13.7,13.7 0 0 1 513.9,219.9" stroke="#c6c684" stroke-width="1.1" fill="none" stroke-linecap="round" opacity="0.98"/><path d="M510.9,195.3 A14.8,14.8 0 0 1 515.0,197.8" stroke="#c6c684" stroke-width="1.6" fill="none" stroke-linecap="round" opacity="0.61"/><path d="M492.7,198.4 A16.6,16.6 0 0 1 497.1,194.7" stroke="#c6c684" stroke-width="1.8" fill="none" stroke-linecap="round" opacity="0.81"/><path d="M498.8,216.6 A10.0,10.0 0 0 1 497.3,214.8" stroke="#c6c684" stroke-width="1.9" fill="none" stroke-linecap="round" opacity="0.88"/><path d="M517.0,203.7 A12.7,12.7 0 0 1 517.7,205.9" stroke="#c6c684" stroke-width="1.7" fill="none" stroke-linecap="round" opacity="0.91"/><path d="M512.8,211.0 A7.6,7.6 0 0 1 512.0,213.0" stroke="#c6c684" stroke-width="1.2" fill="none" stroke-linecap="round" opacity="0.89"/><path d="M516.8,198.6 A15.5,15.5 0 0 1 519.7,202.9" stroke="#c6c684" stroke-width="2.1" fill="none" stroke-linecap="round" opacity="0.64"/><path d="M509.6,191.7 A17.9,17.9 0 0 1 513.9,193.4" stroke="#c6c684" stroke-width="1.3" fill="none" stroke-linecap="round" opacity="0.76"/><path d="M502.0,194.8 A14.7,14.7 0 0 1 506.4,194.4" stroke="#c6c684" stroke-width="1.1" fill="none" stroke-linecap="round" opacity="0.61"/><path d="M500.6,194.8 A15.1,15.1 0 0 1 504.0,194.0" stroke="#c6c684" stroke-width="2.0" fill="none" stroke-linecap="round" opacity="0.84"/><path d="M497.8,199.3 A12.4,12.4 0 0 1 501.0,197.5" stroke="#c6c684" stroke-width="1.9" fill="none" stroke-linecap="round" opacity="0.71"/><path d="M506.0,195.8 A13.3,13.3 0 0 1 509.2,196.4" stroke="#c6c684" stroke-width="2.0" fill="none" stroke-linecap="round" opacity="0.70"/></g>
<circle cx="542.44" cy="220.05" r="19.60" fill="url(#tg)"/>
<circle cx="534.95" cy="225.90" r="7.60" fill="#fff" clip-path="url(#cl21)"/>
<g clip-path="url(#cl21)"><path d="M540.0,214.0 A8.7,8.7 0 0 1 542.4,214.6" stroke="#c6c684" stroke-width="1.8" fill="none" stroke-linecap="round" opacity="0.93"/><path d="M536.3,206.1 A16.8,16.8 0 0 1 541.8,206.1" stroke="#c6c684" stroke-width="1.2" fill="none" stroke-linecap="round" opacity="0.69"/><path d="M546.6,219.8 A8.1,8.1 0 0 1 547.2,222.7" stroke="#c6c684" stroke-width="1.9" fill="none" stroke-linecap="round" opacity="0.95"/><path d="M535.3,204.9 A18.2,18.2 0 0 1 538.6,204.5" stroke="#c6c684" stroke-width="2.2" fill="none" stroke-linecap="round" opacity="0.96"/><path d="M531.5,218.2 A8.8,8.8 0 0 1 533.4,215.9" stroke="#c6c684" stroke-width="1.0" fill="none" stroke-linecap="round" opacity="0.61"/><path d="M532.0,215.6 A10.0,10.0 0 0 1 534.5,213.7" stroke="#c6c684" stroke-width="1.0" fill="none" stroke-linecap="round" opacity="0.91"/><path d="M555.1,223.3 A16.0,16.0 0 0 1 554.0,228.6" stroke="#c6c684" stroke-width="1.4" fill="none" stroke-linecap="round" opacity="0.99"/><path d="M521.0,221.3 A18.1,18.1 0 0 1 522.3,215.8" stroke="#c6c684" stroke-width="1.2" fill="none" stroke-linecap="round" opacity="0.78"/><path d="M546.0,217.5 A8.6,8.6 0 0 1 546.9,219.1" stroke="#c6c684" stroke-width="1.1" fill="none" stroke-linecap="round" opacity="0.77"/><path d="M547.6,213.9 A12.2,12.2 0 0 1 549.9,217.0" stroke="#c6c684" stroke-width="1.2" fill="none" stroke-linecap="round" opacity="0.79"/><path d="M551.0,208.6 A18.5,18.5 0 0 1 555.3,213.9" stroke="#c6c684" stroke-width="1.8" fill="none" stroke-linecap="round" opacity="0.80"/><path d="M531.0,239.3 A18.5,18.5 0 0 1 528.4,237.8" stroke="#c6c684" stroke-width="1.6" fill="none" stroke-linecap="round" opacity="0.68"/><path d="M531.6,227.8 A9.0,9.0 0 0 1 530.2,224.6" stroke="#c6c684" stroke-width="1.8" fill="none" stroke-linecap="round" opacity="0.98"/><path d="M542.9,238.7 A16.5,16.5 0 0 1 536.2,238.9" stroke="#c6c684" stroke-width="1.6" fill="none" stroke-linecap="round" opacity="0.76"/><path d="M535.8,206.4 A16.6,16.6 0 0 1 540.3,206.1" stroke="#c6c684" stroke-width="1.5" fill="none" stroke-linecap="round" opacity="0.74"/><path d="M531.1,234.3 A14.1,14.1 0 0 1 528.4,231.8" stroke="#c6c684" stroke-width="1.6" fill="none" stroke-linecap="round" opacity="0.68"/><path d="M547.9,232.8 A13.4,13.4 0 0 1 543.7,235.2" stroke="#c6c684" stroke-width="1.5" fill="none" stroke-linecap="round" opacity="0.90"/><path d="M526.1,213.0 A16.1,16.1 0 0 1 530.4,209.0" stroke="#c6c684" stroke-width="1.4" fill="none" stroke-linecap="round" opacity="0.88"/><path d="M554.9,218.4 A16.4,16.4 0 0 1 555.3,225.1" stroke="#c6c684" stroke-width="1.2" fill="none" stroke-linecap="round" opacity="0.76"/><path d="M526.9,216.6 A13.6,13.6 0 0 1 528.5,214.1" stroke="#c6c684" stroke-width="1.4" fill="none" stroke-linecap="round" opacity="0.65"/><path d="M539.4,233.0 A10.3,10.3 0 0 1 535.4,232.3" stroke="#c6c684" stroke-width="1.9" fill="none" stroke-linecap="round" opacity="0.79"/><path d="M550.3,211.9 A15.6,15.6 0 0 1 553.1,215.9" stroke="#c6c684" stroke-width="1.0" fill="none" stroke-linecap="round" opacity="0.87"/><path d="M542.3,213.3 A9.9,9.9 0 0 1 544.4,214.4" stroke="#c6c684" stroke-width="1.4" fill="none" stroke-linecap="round" opacity="0.82"/><path d="M523.8,225.5 A15.6,15.6 0 0 1 524.0,218.6" stroke="#c6c684" stroke-width="1.8" fill="none" stroke-linecap="round" opacity="0.71"/><path d="M541.6,215.4 A7.8,7.8 0 0 1 544.2,216.9" stroke="#c6c684" stroke-width="1.6" fill="none" stroke-linecap="round" opacity="0.61"/><path d="M545.0,225.5 A6.6,6.6 0 0 1 544.5,226.5" stroke="#c6c684" stroke-width="2.1" fill="none" stroke-linecap="round" opacity="0.62"/><path d="M556.8,227.2 A18.3,18.3 0 0 1 555.8,230.0" stroke="#c6c684" stroke-width="1.9" fill="none" stroke-linecap="round" opacity="0.89"/><path d="M549.3,220.1 A10.6,10.6 0 0 1 549.5,224.3" stroke="#c6c684" stroke-width="1.5" fill="none" stroke-linecap="round" opacity="0.95"/><path d="M554.9,225.0 A16.0,16.0 0 0 1 552.7,231.2" stroke="#c6c684" stroke-width="1.6" fill="none" stroke-linecap="round" opacity="0.99"/><path d="M549.2,230.0 A12.5,12.5 0 0 1 546.5,232.7" stroke="#c6c684" stroke-width="1.4" fill="none" stroke-linecap="round" opacity="0.60"/><path d="M544.6,205.2 A18.4,18.4 0 0 1 549.2,207.3" stroke="#c6c684" stroke-width="1.2" fill="none" stroke-linecap="round" opacity="0.78"/><path d="M530.8,208.3 A16.6,16.6 0 0 1 533.9,206.9" stroke="#c6c684" stroke-width="1.1" fill="none" stroke-linecap="round" opacity="0.60"/><path d="M537.4,235.3 A12.7,12.7 0 0 1 534.0,234.3" stroke="#c6c684" stroke-width="1.1" fill="none" stroke-linecap="round" opacity="0.83"/><path d="M553.9,215.5 A16.5,16.5 0 0 1 555.5,220.9" stroke="#c6c684" stroke-width="1.1" fill="none" stroke-linecap="round" opacity="0.74"/><path d="M544.3,218.9 A6.4,6.4 0 0 1 545.0,220.2" stroke="#c6c684" stroke-width="2.0" fill="none" stroke-linecap="round" opacity="0.84"/><path d="M530.1,210.0 A15.5,15.5 0 0 1 533.2,208.3" stroke="#c6c684" stroke-width="1.1" fill="none" stroke-linecap="round" opacity="0.77"/><path d="M543.1,214.2 A9.4,9.4 0 0 1 544.5,214.9" stroke="#c6c684" stroke-width="2.1" fill="none" stroke-linecap="round" opacity="0.99"/><path d="M528.1,223.4 A10.9,10.9 0 0 1 528.8,218.9" stroke="#c6c684" stroke-width="2.0" fill="none" stroke-linecap="round" opacity="0.69"/><path d="M556.0,216.9 A17.9,17.9 0 0 1 557.0,223.3" stroke="#c6c684" stroke-width="2.1" fill="none" stroke-linecap="round" opacity="0.76"/><path d="M550.1,218.7 A11.7,11.7 0 0 1 550.6,220.5" stroke="#c6c684" stroke-width="1.3" fill="none" stroke-linecap="round" opacity="0.98"/><path d="M532.3,221.0 A7.0,7.0 0 0 1 532.7,219.9" stroke="#c6c684" stroke-width="1.5" fill="none" stroke-linecap="round" opacity="0.77"/><path d="M540.3,231.2 A8.6,8.6 0 0 1 537.8,231.2" stroke="#c6c684" stroke-width="1.3" fill="none" stroke-linecap="round" opacity="0.73"/><path d="M535.9,230.3 A8.3,8.3 0 0 1 533.6,228.9" stroke="#c6c684" stroke-width="1.7" fill="none" stroke-linecap="round" opacity="0.74"/><path d="M527.3,214.4 A14.4,14.4 0 0 1 530.4,211.1" stroke="#c6c684" stroke-width="1.4" fill="none" stroke-linecap="round" opacity="0.66"/><path d="M542.3,213.9 A9.3,9.3 0 0 1 544.5,215.1" stroke="#c6c684" stroke-width="2.1" fill="none" stroke-linecap="round" opacity="0.74"/><path d="M537.2,233.6 A11.1,11.1 0 0 1 533.8,232.4" stroke="#c6c684" stroke-width="1.2" fill="none" stroke-linecap="round" opacity="0.68"/><path d="M540.6,209.3 A13.5,13.5 0 0 1 544.8,210.5" stroke="#c6c684" stroke-width="1.9" fill="none" stroke-linecap="round" opacity="0.63"/><path d="M544.8,229.4 A8.9,8.9 0 0 1 543.0,230.6" stroke="#c6c684" stroke-width="1.1" fill="none" stroke-linecap="round" opacity="0.64"/><path d="M540.6,231.9 A9.3,9.3 0 0 1 537.6,231.9" stroke="#c6c684" stroke-width="1.6" fill="none" stroke-linecap="round" opacity="0.67"/><path d="M547.6,232.7 A13.2,13.2 0 0 1 542.6,235.4" stroke="#c6c684" stroke-width="1.9" fill="none" stroke-linecap="round" opacity="0.69"/><path d="M547.2,230.4 A11.2,11.2 0 0 1 544.0,232.8" stroke="#c6c684" stroke-width="1.7" fill="none" stroke-linecap="round" opacity="0.99"/><path d="M548.3,222.5 A9.2,9.2 0 0 1 548.0,225.1" stroke="#c6c684" stroke-width="1.5" fill="none" stroke-linecap="round" opacity="0.94"/><path d="M537.3,228.8 A6.4,6.4 0 0 1 535.0,227.6" stroke="#c6c684" stroke-width="1.5" fill="none" stroke-linecap="round" opacity="0.73"/><path d="M524.2,228.6 A16.0,16.0 0 0 1 523.3,225.1" stroke="#c6c684" stroke-width="1.0" fill="none" stroke-linecap="round" opacity="0.67"/><path d="M546.5,225.0 A7.8,7.8 0 0 1 545.3,227.3" stroke="#c6c684" stroke-width="1.7" fill="none" stroke-linecap="round" opacity="0.66"/><path d="M529.7,227.9 A10.7,10.7 0 0 1 528.6,224.8" stroke="#c6c684" stroke-width="1.2" fill="none" stroke-linecap="round" opacity="0.93"/><path d="M533.0,226.1 A7.0,7.0 0 0 1 532.2,223.8" stroke="#c6c684" stroke-width="1.4" fill="none" stroke-linecap="round" opacity="0.95"/><path d="M532.3,214.8 A10.4,10.4 0 0 1 534.1,213.6" stroke="#c6c684" stroke-width="2.2" fill="none" stroke-linecap="round" opacity="0.83"/><path d="M530.9,221.4 A8.2,8.2 0 0 1 531.3,220.0" stroke="#c6c684" stroke-width="1.2" fill="none" stroke-linecap="round" opacity="0.86"/><path d="M537.1,230.6 A8.2,8.2 0 0 1 535.2,229.9" stroke="#c6c684" stroke-width="1.6" fill="none" stroke-linecap="round" opacity="0.73"/><path d="M533.2,212.3 A11.9,11.9 0 0 1 534.9,211.6" stroke="#c6c684" stroke-width="1.5" fill="none" stroke-linecap="round" opacity="0.97"/><path d="M543.6,232.0 A10.4,10.4 0 0 1 540.8,232.9" stroke="#c6c684" stroke-width="1.5" fill="none" stroke-linecap="round" opacity="0.82"/><path d="M545.1,234.9 A13.7,13.7 0 0 1 541.1,236.2" stroke="#c6c684" stroke-width="2.2" fill="none" stroke-linecap="round" opacity="0.97"/><path d="M544.5,229.9 A9.0,9.0 0 0 1 543.3,230.7" stroke="#c6c684" stroke-width="1.5" fill="none" stroke-linecap="round" opacity="0.90"/><path d="M551.4,228.3 A13.6,13.6 0 0 1 549.4,231.6" stroke="#c6c684" stroke-width="2.2" fill="none" stroke-linecap="round" opacity="0.93"/><path d="M553.1,217.1 A15.1,15.1 0 0 1 554.1,222.5" stroke="#c6c684" stroke-width="1.1" fill="none" stroke-linecap="round" opacity="0.73"/><path d="M532.3,213.0 A11.8,11.8 0 0 1 535.3,211.5" stroke="#c6c684" stroke-width="2.1" fill="none" stroke-linecap="round" opacity="0.73"/><path d="M537.7,240.5 A17.9,17.9 0 0 1 533.2,239.6" stroke="#c6c684" stroke-width="2.2" fill="none" stroke-linecap="round" opacity="0.77"/><path d="M538.4,205.9 A16.7,16.7 0 0 1 544.9,207.0" stroke="#c6c684" stroke-width="1.8" fill="none" stroke-linecap="round" opacity="0.71"/><path d="M527.9,209.0 A17.6,17.6 0 0 1 534.8,205.6" stroke="#c6c684" stroke-width="1.1" fill="none" stroke-linecap="round" opacity="0.86"/><path d="M526.2,226.0 A13.3,13.3 0 0 1 525.8,222.1" stroke="#c6c684" stroke-width="1.9" fill="none" stroke-linecap="round" opacity="0.80"/><path d="M543.8,228.3 A7.3,7.3 0 0 1 542.7,229.0" stroke="#c6c684" stroke-width="1.4" fill="none" stroke-linecap="round" opacity="0.67"/><path d="M527.3,215.6 A13.7,13.7 0 0 1 529.4,213.0" stroke="#c6c684" stroke-width="1.7" fill="none" stroke-linecap="round" opacity="0.77"/><path d="M524.9,226.1 A14.6,14.6 0 0 1 524.5,222.3" stroke="#c6c684" stroke-width="1.0" fill="none" stroke-linecap="round" opacity="0.86"/><path d="M548.4,228.9 A11.2,11.2 0 0 1 545.5,231.8" stroke="#c6c684" stroke-width="2.1" fill="none" stroke-linecap="round" opacity="0.80"/><path d="M546.8,220.2 A8.1,8.1 0 0 1 547.2,222.5" stroke="#c6c684" stroke-width="1.2" fill="none" stroke-linecap="round" opacity="0.82"/><path d="M543.5,218.3 A6.2,6.2 0 0 1 544.7,220.1" stroke="#c6c684" stroke-width="1.6" fill="none" stroke-linecap="round" opacity="0.88"/><path d="M545.7,237.0 A15.8,15.8 0 0 1 541.9,238.2" stroke="#c6c684" stroke-width="1.7" fill="none" stroke-linecap="round" opacity="0.92"/><path d="M522.0,222.7 A17.1,17.1 0 0 1 523.1,216.7" stroke="#c6c684" stroke-width="1.8" fill="none" stroke-linecap="round" opacity="0.85"/><path d="M539.3,216.4 A6.3,6.3 0 0 1 541.1,216.7" stroke="#c6c684" stroke-width="1.7" fill="none" stroke-linecap="round" opacity="0.69"/><path d="M536.2,234.8 A12.5,12.5 0 0 1 533.5,233.8" stroke="#c6c684" stroke-width="1.4" fill="none" stroke-linecap="round" opacity="0.85"/><path d="M538.8,214.7 A8.0,8.0 0 0 1 541.6,215.1" stroke="#c6c684" stroke-width="1.1" fill="none" stroke-linecap="round" opacity="0.63"/><path d="M554.2,231.1 A17.3,17.3 0 0 1 552.3,233.9" stroke="#c6c684" stroke-width="1.1" fill="none" stroke-linecap="round" opacity="0.84"/><path d="M540.4,229.3 A6.7,6.7 0 0 1 538.3,229.3" stroke="#c6c684" stroke-width="2.1" fill="none" stroke-linecap="round" opacity="0.80"/><path d="M549.4,213.9 A13.5,13.5 0 0 1 550.9,216.1" stroke="#c6c684" stroke-width="2.0" fill="none" stroke-linecap="round" opacity="0.72"/><path d="M542.1,208.2 A14.8,14.8 0 0 1 547.0,210.2" stroke="#c6c684" stroke-width="2.1" fill="none" stroke-linecap="round" opacity="0.65"/><path d="M533.5,235.9 A14.4,14.4 0 0 1 529.2,233.1" stroke="#c6c684" stroke-width="1.2" fill="none" stroke-linecap="round" opacity="0.69"/><path d="M528.0,211.7 A15.6,15.6 0 0 1 529.8,210.1" stroke="#c6c684" stroke-width="1.2" fill="none" stroke-linecap="round" opacity="0.70"/><path d="M528.5,234.2 A15.6,15.6 0 0 1 526.0,231.2" stroke="#c6c684" stroke-width="1.5" fill="none" stroke-linecap="round" opacity="0.78"/><path d="M555.5,229.1 A17.7,17.7 0 0 1 552.5,234.2" stroke="#c6c684" stroke-width="1.5" fill="none" stroke-linecap="round" opacity="0.87"/><path d="M544.5,228.4 A7.9,7.9 0 0 1 542.2,230.0" stroke="#c6c684" stroke-width="2.1" fill="none" stroke-linecap="round" opacity="0.62"/><path d="M557.1,218.9 A18.4,18.4 0 0 1 557.0,226.7" stroke="#c6c684" stroke-width="2.0" fill="none" stroke-linecap="round" opacity="0.90"/><path d="M553.3,225.3 A14.5,14.5 0 0 1 550.8,231.2" stroke="#c6c684" stroke-width="1.2" fill="none" stroke-linecap="round" opacity="0.82"/><path d="M530.2,233.7 A14.2,14.2 0 0 1 527.0,230.2" stroke="#c6c684" stroke-width="1.2" fill="none" stroke-linecap="round" opacity="0.86"/><path d="M546.2,228.5 A9.2,9.2 0 0 1 543.6,230.7" stroke="#c6c684" stroke-width="2.0" fill="none" stroke-linecap="round" opacity="0.74"/><path d="M527.7,232.7 A15.2,15.2 0 0 1 525.0,228.4" stroke="#c6c684" stroke-width="1.9" fill="none" stroke-linecap="round" opacity="0.93"/><path d="M548.2,224.7 A9.4,9.4 0 0 1 546.7,228.0" stroke="#c6c684" stroke-width="1.8" fill="none" stroke-linecap="round" opacity="0.76"/><path d="M544.0,211.8 A12.0,12.0 0 0 1 545.6,212.7" stroke="#c6c684" stroke-width="1.2" fill="none" stroke-linecap="round" opacity="0.83"/><path d="M547.4,211.7 A13.8,13.8 0 0 1 549.3,213.4" stroke="#c6c684" stroke-width="1.0" fill="none" stroke-linecap="round" opacity="0.96"/><path d="M544.7,214.9 A9.6,9.6 0 0 1 546.1,216.2" stroke="#c6c684" stroke-width="2.1" fill="none" stroke-linecap="round" opacity="0.71"/><path d="M545.9,210.2 A14.2,14.2 0 0 1 550.5,214.1" stroke="#c6c684" stroke-width="1.4" fill="none" stroke-linecap="round" opacity="0.75"/><path d="M541.2,212.8 A10.1,10.1 0 0 1 545.0,214.6" stroke="#c6c684" stroke-width="2.2" fill="none" stroke-linecap="round" opacity="0.68"/><path d="M549.9,221.0 A10.9,10.9 0 0 1 549.9,224.2" stroke="#c6c684" stroke-width="2.0" fill="none" stroke-linecap="round" opacity="0.71"/><path d="M535.3,217.8 A6.2,6.2 0 0 1 537.7,216.7" stroke="#c6c684" stroke-width="2.2" fill="none" stroke-linecap="round" opacity="0.89"/><path d="M532.6,222.6 A6.4,6.4 0 0 1 533.0,220.6" stroke="#c6c684" stroke-width="1.3" fill="none" stroke-linecap="round" opacity="0.85"/><path d="M530.7,219.6 A8.9,8.9 0 0 1 532.3,216.8" stroke="#c6c684" stroke-width="1.2" fill="none" stroke-linecap="round" opacity="0.95"/><path d="M548.1,223.9 A9.1,9.1 0 0 1 547.9,225.2" stroke="#c6c684" stroke-width="1.2" fill="none" stroke-linecap="round" opacity="0.72"/><path d="M534.1,239.0 A17.0,17.0 0 0 1 530.3,237.3" stroke="#c6c684" stroke-width="1.4" fill="none" stroke-linecap="round" opacity="0.63"/><path d="M526.0,223.8 A13.1,13.1 0 0 1 526.8,218.2" stroke="#c6c684" stroke-width="1.4" fill="none" stroke-linecap="round" opacity="0.85"/><path d="M528.9,213.8 A13.5,13.5 0 0 1 530.9,212.0" stroke="#c6c684" stroke-width="1.8" fill="none" stroke-linecap="round" opacity="0.74"/></g>
<line x1="563.9" y1="209.9" x2="568.9" y2="223.0" stroke="#8e8e52" stroke-width="3.6" stroke-linecap="butt"/><line x1="563.9" y1="209.9" x2="568.9" y2="223.0" stroke="#d6d698" stroke-width="2.4" stroke-linecap="butt"/><line x1="467.2" y1="271.6" x2="463.4" y2="265.4" stroke="#8e8e52" stroke-width="3.6" stroke-linecap="butt"/><line x1="467.2" y1="271.6" x2="463.4" y2="265.4" stroke="#d6d698" stroke-width="2.4" stroke-linecap="butt"/><line x1="522.4" y1="292.8" x2="516.2" y2="292.4" stroke="#8e8e52" stroke-width="3.6" stroke-linecap="butt"/><line x1="522.4" y1="292.8" x2="516.2" y2="292.4" stroke="#d6d698" stroke-width="2.4" stroke-linecap="butt"/><line x1="471.6" y1="272.2" x2="460.8" y2="265.6" stroke="#8e8e52" stroke-width="3.6" stroke-linecap="butt"/><line x1="471.6" y1="272.2" x2="460.8" y2="265.6" stroke="#d6d698" stroke-width="2.4" stroke-linecap="butt"/><line x1="527.3" y1="192.7" x2="515.5" y2="193.8" stroke="#8e8e52" stroke-width="3.6" stroke-linecap="butt"/><line x1="527.3" y1="192.7" x2="515.5" y2="193.8" stroke="#d6d698" stroke-width="2.4" stroke-linecap="butt"/><line x1="475.7" y1="292.6" x2="470.0" y2="285.3" stroke="#8e8e52" stroke-width="3.6" stroke-linecap="butt"/><line x1="475.7" y1="292.6" x2="470.0" y2="285.3" stroke="#d6d698" stroke-width="2.4" stroke-linecap="butt"/><line x1="500.1" y1="267.7" x2="497.2" y2="277.6" stroke="#8e8e52" stroke-width="3.6" stroke-linecap="butt"/><line x1="500.1" y1="267.7" x2="497.2" y2="277.6" stroke="#d6d698" stroke-width="2.4" stroke-linecap="butt"/><line x1="460.9" y1="265.9" x2="457.0" y2="259.4" stroke="#8e8e52" stroke-width="3.6" stroke-linecap="butt"/><line x1="460.9" y1="265.9" x2="457.0" y2="259.4" stroke="#d6d698" stroke-width="2.4" stroke-linecap="butt"/><line x1="522.0" y1="211.4" x2="529.0" y2="210.4" stroke="#8e8e52" stroke-width="3.6" stroke-linecap="butt"/><line x1="522.0" y1="211.4" x2="529.0" y2="210.4" stroke="#d6d698" stroke-width="2.4" stroke-linecap="butt"/><line x1="508.8" y1="296.7" x2="495.4" y2="296.6" stroke="#8e8e52" stroke-width="3.6" stroke-linecap="butt"/><line x1="508.8" y1="296.7" x2="495.4" y2="296.6" stroke="#d6d698" stroke-width="2.4" stroke-linecap="butt"/><line x1="506.8" y1="286.0" x2="493.8" y2="286.6" stroke="#8e8e52" stroke-width="3.6" stroke-linecap="butt"/><line x1="506.8" y1="286.0" x2="493.8" y2="286.6" stroke="#d6d698" stroke-width="2.4" stroke-linecap="butt"/><line x1="551.7" y1="277.3" x2="560.8" y2="285.7" stroke="#8e8e52" stroke-width="3.6" stroke-linecap="butt"/><line x1="551.7" y1="277.3" x2="560.8" y2="285.7" stroke="#d6d698" stroke-width="2.4" stroke-linecap="butt"/><line x1="446.1" y1="224.7" x2="455.9" y2="230.4" stroke="#8e8e52" stroke-width="3.6" stroke-linecap="butt"/><line x1="446.1" y1="224.7" x2="455.9" y2="230.4" stroke="#d6d698" stroke-width="2.4" stroke-linecap="butt"/><line x1="538.6" y1="236.0" x2="536.5" y2="245.5" stroke="#8e8e52" stroke-width="3.6" stroke-linecap="butt"/><line x1="538.6" y1="236.0" x2="536.5" y2="245.5" stroke="#d6d698" stroke-width="2.4" stroke-linecap="butt"/><line x1="486.9" y1="179.9" x2="485.3" y2="193.1" stroke="#8e8e52" stroke-width="3.6" stroke-linecap="butt"/><line x1="486.9" y1="179.9" x2="485.3" y2="193.1" stroke="#d6d698" stroke-width="2.4" stroke-linecap="butt"/><line x1="566.2" y1="236.5" x2="569.6" y2="245.0" stroke="#8e8e52" stroke-width="3.6" stroke-linecap="butt"/><line x1="566.2" y1="236.5" x2="569.6" y2="245.0" stroke="#d6d698" stroke-width="2.4" stroke-linecap="butt"/><line x1="525.7" y1="273.2" x2="515.7" y2="271.6" stroke="#8e8e52" stroke-width="3.6" stroke-linecap="butt"/><line x1="525.7" y1="273.2" x2="515.7" y2="271.6" stroke="#d6d698" stroke-width="2.4" stroke-linecap="butt"/><line x1="544.7" y1="230.6" x2="549.2" y2="235.9" stroke="#8e8e52" stroke-width="3.6" stroke-linecap="butt"/><line x1="544.7" y1="230.6" x2="549.2" y2="235.9" stroke="#d6d698" stroke-width="2.4" stroke-linecap="butt"/><line x1="450.6" y1="232.0" x2="456.3" y2="225.9" stroke="#8e8e52" stroke-width="3.6" stroke-linecap="butt"/><line x1="450.6" y1="232.0" x2="456.3" y2="225.9" stroke="#d6d698" stroke-width="2.4" stroke-linecap="butt"/><line x1="475.7" y1="257.8" x2="462.4" y2="262.3" stroke="#8e8e52" stroke-width="3.6" stroke-linecap="butt"/><line x1="475.7" y1="257.8" x2="462.4" y2="262.3" stroke="#d6d698" stroke-width="2.4" stroke-linecap="butt"/><line x1="495.2" y1="196.2" x2="490.0" y2="207.2" stroke="#8e8e52" stroke-width="3.6" stroke-linecap="butt"/><line x1="495.2" y1="196.2" x2="490.0" y2="207.2" stroke="#d6d698" stroke-width="2.4" stroke-linecap="butt"/><line x1="514.4" y1="282.2" x2="512.7" y2="291.7" stroke="#8e8e52" stroke-width="3.6" stroke-linecap="butt"/><line x1="514.4" y1="282.2" x2="512.7" y2="291.7" stroke="#d6d698" stroke-width="2.4" stroke-linecap="butt"/><line x1="452.0" y1="223.6" x2="455.5" y2="229.6" stroke="#8e8e52" stroke-width="3.6" stroke-linecap="butt"/><line x1="452.0" y1="223.6" x2="455.5" y2="229.6" stroke="#d6d698" stroke-width="2.4" stroke-linecap="butt"/><line x1="450.8" y1="222.2" x2="458.7" y2="224.2" stroke="#8e8e52" stroke-width="3.6" stroke-linecap="butt"/><line x1="450.8" y1="222.2" x2="458.7" y2="224.2" stroke="#d6d698" stroke-width="2.4" stroke-linecap="butt"/><line x1="461.6" y1="229.3" x2="464.4" y2="221.7" stroke="#8e8e52" stroke-width="3.6" stroke-linecap="butt"/><line x1="461.6" y1="229.3" x2="464.4" y2="221.7" stroke="#d6d698" stroke-width="2.4" stroke-linecap="butt"/><line x1="456.6" y1="265.7" x2="456.7" y2="259.6" stroke="#8e8e52" stroke-width="3.6" stroke-linecap="butt"/><line x1="456.6" y1="265.7" x2="456.7" y2="259.6" stroke="#d6d698" stroke-width="2.4" stroke-linecap="butt"/><line x1="545.3" y1="290.2" x2="552.0" y2="294.3" stroke="#8e8e52" stroke-width="3.6" stroke-linecap="butt"/><line x1="545.3" y1="290.2" x2="552.0" y2="294.3" stroke="#d6d698" stroke-width="2.4" stroke-linecap="butt"/><line x1="465.5" y1="256.4" x2="465.9" y2="263.1" stroke="#8e8e52" stroke-width="3.6" stroke-linecap="butt"/><line x1="465.5" y1="256.4" x2="465.9" y2="263.1" stroke="#d6d698" stroke-width="2.4" stroke-linecap="butt"/><line x1="486.9" y1="200.7" x2="495.8" y2="194.2" stroke="#8e8e52" stroke-width="3.6" stroke-linecap="butt"/><line x1="486.9" y1="200.7" x2="495.8" y2="194.2" stroke="#d6d698" stroke-width="2.4" stroke-linecap="butt"/><line x1="534.7" y1="220.2" x2="534.8" y2="234.1" stroke="#8e8e52" stroke-width="3.6" stroke-linecap="butt"/><line x1="534.7" y1="220.2" x2="534.8" y2="234.1" stroke="#d6d698" stroke-width="2.4" stroke-linecap="butt"/><line x1="514.1" y1="190.7" x2="525.6" y2="190.1" stroke="#8e8e52" stroke-width="3.6" stroke-linecap="butt"/><line x1="514.1" y1="190.7" x2="525.6" y2="190.1" stroke="#d6d698" stroke-width="2.4" stroke-linecap="butt"/><line x1="492.2" y1="282.8" x2="479.3" y2="275.9" stroke="#8e8e52" stroke-width="3.6" stroke-linecap="butt"/><line x1="492.2" y1="282.8" x2="479.3" y2="275.9" stroke="#d6d698" stroke-width="2.4" stroke-linecap="butt"/><line x1="462.2" y1="277.3" x2="454.9" y2="270.2" stroke="#8e8e52" stroke-width="3.6" stroke-linecap="butt"/><line x1="462.2" y1="277.3" x2="454.9" y2="270.2" stroke="#d6d698" stroke-width="2.4" stroke-linecap="butt"/><line x1="508.5" y1="277.1" x2="501.9" y2="272.6" stroke="#8e8e52" stroke-width="3.6" stroke-linecap="butt"/><line x1="508.5" y1="277.1" x2="501.9" y2="272.6" stroke="#d6d698" stroke-width="2.4" stroke-linecap="butt"/><line x1="478.1" y1="249.6" x2="479.0" y2="239.4" stroke="#8e8e52" stroke-width="3.6" stroke-linecap="butt"/><line x1="478.1" y1="249.6" x2="479.0" y2="239.4" stroke="#d6d698" stroke-width="2.4" stroke-linecap="butt"/><line x1="451.0" y1="263.6" x2="457.0" y2="269.4" stroke="#8e8e52" stroke-width="3.6" stroke-linecap="butt"/><line x1="451.0" y1="263.6" x2="457.0" y2="269.4" stroke="#d6d698" stroke-width="2.4" stroke-linecap="butt"/><line x1="562.3" y1="236.7" x2="566.5" y2="241.5" stroke="#8e8e52" stroke-width="3.6" stroke-linecap="butt"/><line x1="562.3" y1="236.7" x2="566.5" y2="241.5" stroke="#d6d698" stroke-width="2.4" stroke-linecap="butt"/><line x1="491.9" y1="276.8" x2="484.5" y2="265.5" stroke="#8e8e52" stroke-width="3.6" stroke-linecap="butt"/><line x1="491.9" y1="276.8" x2="484.5" y2="265.5" stroke="#d6d698" stroke-width="2.4" stroke-linecap="butt"/><line x1="467.1" y1="283.1" x2="465.8" y2="274.6" stroke="#8e8e52" stroke-width="3.6" stroke-linecap="butt"/><line x1="467.1" y1="283.1" x2="465.8" y2="274.6" stroke="#d6d698" stroke-width="2.4" stroke-linecap="butt"/><line x1="484.1" y1="211.4" x2="496.6" y2="219.5" stroke="#8e8e52" stroke-width="3.6" stroke-linecap="butt"/><line x1="484.1" y1="211.4" x2="496.6" y2="219.5" stroke="#d6d698" stroke-width="2.4" stroke-linecap="butt"/><line x1="563.3" y1="247.8" x2="564.0" y2="255.0" stroke="#8e8e52" stroke-width="3.6" stroke-linecap="butt"/><line x1="563.3" y1="247.8" x2="564.0" y2="255.0" stroke="#d6d698" stroke-width="2.4" stroke-linecap="butt"/><line x1="499.3" y1="188.4" x2="495.2" y2="200.6" stroke="#8e8e52" stroke-width="3.6" stroke-linecap="butt"/><line x1="499.3" y1="188.4" x2="495.2" y2="200.6" stroke="#d6d698" stroke-width="2.4" stroke-linecap="butt"/><line x1="471.0" y1="223.3" x2="477.1" y2="219.5" stroke="#8e8e52" stroke-width="3.6" stroke-linecap="butt"/><line x1="471.0" y1="223.3" x2="477.1" y2="219.5" stroke="#d6d698" stroke-width="2.4" stroke-linecap="butt"/><line x1="523.9" y1="286.2" x2="522.9" y2="295.0" stroke="#8e8e52" stroke-width="3.6" stroke-linecap="butt"/><line x1="523.9" y1="286.2" x2="522.9" y2="295.0" stroke="#d6d698" stroke-width="2.4" stroke-linecap="butt"/><line x1="543.9" y1="204.7" x2="537.5" y2="211.4" stroke="#8e8e52" stroke-width="3.6" stroke-linecap="butt"/><line x1="543.9" y1="204.7" x2="537.5" y2="211.4" stroke="#d6d698" stroke-width="2.4" stroke-linecap="butt"/><line x1="555.7" y1="225.3" x2="541.7" y2="226.1" stroke="#8e8e52" stroke-width="3.6" stroke-linecap="butt"/><line x1="555.7" y1="225.3" x2="541.7" y2="226.1" stroke="#d6d698" stroke-width="2.4" stroke-linecap="butt"/><line x1="535.4" y1="277.3" x2="548.3" y2="278.9" stroke="#8e8e52" stroke-width="3.6" stroke-linecap="butt"/><line x1="535.4" y1="277.3" x2="548.3" y2="278.9" stroke="#d6d698" stroke-width="2.4" stroke-linecap="butt"/><line x1="471.0" y1="283.3" x2="460.1" y2="276.4" stroke="#8e8e52" stroke-width="3.6" stroke-linecap="butt"/><line x1="471.0" y1="283.3" x2="460.1" y2="276.4" stroke="#d6d698" stroke-width="2.4" stroke-linecap="butt"/><line x1="488.4" y1="264.6" x2="486.6" y2="255.9" stroke="#8e8e52" stroke-width="3.6" stroke-linecap="butt"/><line x1="488.4" y1="264.6" x2="486.6" y2="255.9" stroke="#d6d698" stroke-width="2.4" stroke-linecap="butt"/><line x1="468.0" y1="223.0" x2="473.6" y2="217.1" stroke="#8e8e52" stroke-width="3.6" stroke-linecap="butt"/><line x1="468.0" y1="223.0" x2="473.6" y2="217.1" stroke="#d6d698" stroke-width="2.4" stroke-linecap="butt"/><line x1="475.2" y1="263.6" x2="478.1" y2="250.5" stroke="#8e8e52" stroke-width="3.6" stroke-linecap="butt"/><line x1="475.2" y1="263.6" x2="478.1" y2="250.5" stroke="#d6d698" stroke-width="2.4" stroke-linecap="butt"/><line x1="462.8" y1="231.5" x2="453.2" y2="234.0" stroke="#8e8e52" stroke-width="3.6" stroke-linecap="butt"/><line x1="462.8" y1="231.5" x2="453.2" y2="234.0" stroke="#d6d698" stroke-width="2.4" stroke-linecap="butt"/><line x1="566.6" y1="233.8" x2="563.7" y2="243.3" stroke="#8e8e52" stroke-width="3.6" stroke-linecap="butt"/><line x1="566.6" y1="233.8" x2="563.7" y2="243.3" stroke="#d6d698" stroke-width="2.4" stroke-linecap="butt"/><line x1="477.4" y1="276.0" x2="472.7" y2="271.6" stroke="#8e8e52" stroke-width="3.6" stroke-linecap="butt"/><line x1="477.4" y1="276.0" x2="472.7" y2="271.6" stroke="#d6d698" stroke-width="2.4" stroke-linecap="butt"/><line x1="563.0" y1="231.3" x2="571.1" y2="240.6" stroke="#8e8e52" stroke-width="3.6" stroke-linecap="butt"/><line x1="563.0" y1="231.3" x2="571.1" y2="240.6" stroke="#d6d698" stroke-width="2.4" stroke-linecap="butt"/><line x1="539.4" y1="289.9" x2="533.7" y2="293.0" stroke="#8e8e52" stroke-width="3.6" stroke-linecap="butt"/><line x1="539.4" y1="289.9" x2="533.7" y2="293.0" stroke="#d6d698" stroke-width="2.4" stroke-linecap="butt"/><line x1="479.5" y1="239.6" x2="478.4" y2="233.1" stroke="#8e8e52" stroke-width="3.6" stroke-linecap="butt"/><line x1="479.5" y1="239.6" x2="478.4" y2="233.1" stroke="#d6d698" stroke-width="2.4" stroke-linecap="butt"/><line x1="485.5" y1="206.4" x2="481.7" y2="217.3" stroke="#8e8e52" stroke-width="3.6" stroke-linecap="butt"/><line x1="485.5" y1="206.4" x2="481.7" y2="217.3" stroke="#d6d698" stroke-width="2.4" stroke-linecap="butt"/><line x1="470.9" y1="234.2" x2="476.9" y2="241.1" stroke="#8e8e52" stroke-width="3.6" stroke-linecap="butt"/><line x1="470.9" y1="234.2" x2="476.9" y2="241.1" stroke="#d6d698" stroke-width="2.4" stroke-linecap="butt"/><line x1="496.6" y1="289.2" x2="503.1" y2="297.9" stroke="#8e8e52" stroke-width="3.6" stroke-linecap="butt"/><line x1="496.6" y1="289.2" x2="503.1" y2="297.9" stroke="#d6d698" stroke-width="2.4" stroke-linecap="butt"/><line x1="534.6" y1="233.3" x2="531.4" y2="246.0" stroke="#8e8e52" stroke-width="3.6" stroke-linecap="butt"/><line x1="534.6" y1="233.3" x2="531.4" y2="246.0" stroke="#d6d698" stroke-width="2.4" stroke-linecap="butt"/><line x1="535.6" y1="288.3" x2="549.3" y2="293.3" stroke="#8e8e52" stroke-width="3.6" stroke-linecap="butt"/><line x1="535.6" y1="288.3" x2="549.3" y2="293.3" stroke="#d6d698" stroke-width="2.4" stroke-linecap="butt"/><line x1="562.7" y1="214.0" x2="569.5" y2="215.7" stroke="#8e8e52" stroke-width="3.6" stroke-linecap="butt"/><line x1="562.7" y1="214.0" x2="569.5" y2="215.7" stroke="#d6d698" stroke-width="2.4" stroke-linecap="butt"/><line x1="564.3" y1="268.0" x2="559.3" y2="279.5" stroke="#8e8e52" stroke-width="3.6" stroke-linecap="butt"/><line x1="564.3" y1="268.0" x2="559.3" y2="279.5" stroke="#d6d698" stroke-width="2.4" stroke-linecap="butt"/><line x1="472.1" y1="237.0" x2="467.1" y2="247.0" stroke="#8e8e52" stroke-width="3.6" stroke-linecap="butt"/><line x1="472.1" y1="237.0" x2="467.1" y2="247.0" stroke="#d6d698" stroke-width="2.4" stroke-linecap="butt"/><line x1="530.8" y1="217.3" x2="543.1" y2="220.1" stroke="#8e8e52" stroke-width="3.6" stroke-linecap="butt"/><line x1="530.8" y1="217.3" x2="543.1" y2="220.1" stroke="#d6d698" stroke-width="2.4" stroke-linecap="butt"/><line x1="522.7" y1="210.0" x2="529.1" y2="214.7" stroke="#8e8e52" stroke-width="3.6" stroke-linecap="butt"/><line x1="522.7" y1="210.0" x2="529.1" y2="214.7" stroke="#d6d698" stroke-width="2.4" stroke-linecap="butt"/><line x1="552.4" y1="292.4" x2="548.0" y2="296.5" stroke="#8e8e52" stroke-width="3.6" stroke-linecap="butt"/><line x1="552.4" y1="292.4" x2="548.0" y2="296.5" stroke="#d6d698" stroke-width="2.4" stroke-linecap="butt"/><line x1="457.1" y1="220.1" x2="469.0" y2="225.7" stroke="#8e8e52" stroke-width="3.6" stroke-linecap="butt"/><line x1="457.1" y1="220.1" x2="469.0" y2="225.7" stroke="#d6d698" stroke-width="2.4" stroke-linecap="butt"/><line x1="519.4" y1="198.4" x2="527.4" y2="206.3" stroke="#8e8e52" stroke-width="3.6" stroke-linecap="butt"/><line x1="519.4" y1="198.4" x2="527.4" y2="206.3" stroke="#d6d698" stroke-width="2.4" stroke-linecap="butt"/><line x1="459.8" y1="279.1" x2="457.6" y2="272.7" stroke="#8e8e52" stroke-width="3.6" stroke-linecap="butt"/><line x1="459.8" y1="279.1" x2="457.6" y2="272.7" stroke="#d6d698" stroke-width="2.4" stroke-linecap="butt"/><line x1="468.1" y1="204.0" x2="461.7" y2="208.7" stroke="#8e8e52" stroke-width="3.6" stroke-linecap="butt"/><line x1="468.1" y1="204.0" x2="461.7" y2="208.7" stroke="#d6d698" stroke-width="2.4" stroke-linecap="butt"/><line x1="533.6" y1="266.3" x2="529.7" y2="276.8" stroke="#8e8e52" stroke-width="3.6" stroke-linecap="butt"/><line x1="533.6" y1="266.3" x2="529.7" y2="276.8" stroke="#d6d698" stroke-width="2.4" stroke-linecap="butt"/><line x1="468.0" y1="273.0" x2="462.7" y2="260.8" stroke="#8e8e52" stroke-width="3.6" stroke-linecap="butt"/><line x1="468.0" y1="273.0" x2="462.7" y2="260.8" stroke="#d6d698" stroke-width="2.4" stroke-linecap="butt"/><line x1="454.1" y1="205.6" x2="463.0" y2="215.4" stroke="#8e8e52" stroke-width="3.6" stroke-linecap="butt"/><line x1="454.1" y1="205.6" x2="463.0" y2="215.4" stroke="#d6d698" stroke-width="2.4" stroke-linecap="butt"/><line x1="468.4" y1="208.3" x2="456.3" y2="211.6" stroke="#8e8e52" stroke-width="3.6" stroke-linecap="butt"/><line x1="468.4" y1="208.3" x2="456.3" y2="211.6" stroke="#d6d698" stroke-width="2.4" stroke-linecap="butt"/><line x1="548.7" y1="277.9" x2="542.1" y2="284.3" stroke="#8e8e52" stroke-width="3.6" stroke-linecap="butt"/><line x1="548.7" y1="277.9" x2="542.1" y2="284.3" stroke="#d6d698" stroke-width="2.4" stroke-linecap="butt"/><line x1="567.4" y1="235.7" x2="569.1" y2="242.4" stroke="#8e8e52" stroke-width="3.6" stroke-linecap="butt"/><line x1="567.4" y1="235.7" x2="569.1" y2="242.4" stroke="#d6d698" stroke-width="2.4" stroke-linecap="butt"/><line x1="543.8" y1="211.0" x2="550.1" y2="214.9" stroke="#8e8e52" stroke-width="3.6" stroke-linecap="butt"/><line x1="543.8" y1="211.0" x2="550.1" y2="214.9" stroke="#d6d698" stroke-width="2.4" stroke-linecap="butt"/><line x1="567.0" y1="252.1" x2="556.9" y2="263.1" stroke="#8e8e52" stroke-width="3.6" stroke-linecap="butt"/><line x1="567.0" y1="252.1" x2="556.9" y2="263.1" stroke="#d6d698" stroke-width="2.4" stroke-linecap="butt"/><line x1="539.4" y1="281.8" x2="541.3" y2="293.3" stroke="#8e8e52" stroke-width="3.6" stroke-linecap="butt"/><line x1="539.4" y1="281.8" x2="541.3" y2="293.3" stroke="#d6d698" stroke-width="2.4" stroke-linecap="butt"/><line x1="568.8" y1="261.3" x2="569.7" y2="269.6" stroke="#8e8e52" stroke-width="3.6" stroke-linecap="butt"/><line x1="568.8" y1="261.3" x2="569.7" y2="269.6" stroke="#d6d698" stroke-width="2.4" stroke-linecap="butt"/><line x1="515.1" y1="201.3" x2="521.9" y2="202.4" stroke="#8e8e52" stroke-width="3.6" stroke-linecap="butt"/><line x1="515.1" y1="201.3" x2="521.9" y2="202.4" stroke="#d6d698" stroke-width="2.4" stroke-linecap="butt"/><line x1="517.7" y1="197.0" x2="527.9" y2="203.3" stroke="#8e8e52" stroke-width="3.6" stroke-linecap="butt"/><line x1="517.7" y1="197.0" x2="527.9" y2="203.3" stroke="#d6d698" stroke-width="2.4" stroke-linecap="butt"/><line x1="545.7" y1="298.9" x2="531.2" y2="299.6" stroke="#8e8e52" stroke-width="3.6" stroke-linecap="butt"/><line x1="545.7" y1="298.9" x2="531.2" y2="299.6" stroke="#d6d698" stroke-width="2.4" stroke-linecap="butt"/>
<line x1="515.30" y1="310.00" x2="515.30" y2="326.50" stroke="#231f20" stroke-width="1.9" />
<polygon points="511.70,324.50 518.90,324.50 515.30,332.50" fill="#231f20" />
<path d="M499.40,346.00 L532.50,346.00 L553.90,377.70 L532.50,409.30 L499.40,409.30 L480.00,377.70 Z" fill="none" stroke="#7aaac8" stroke-width="4.4"/>
<line x1="499.40" y1="346.00" x2="489.20" y2="337.30" stroke="#7aaac8" stroke-width="5" />
<line x1="532.50" y1="346.00" x2="543.00" y2="337.30" stroke="#7aaac8" stroke-width="5" />
<line x1="553.90" y1="377.70" x2="564.60" y2="377.70" stroke="#7aaac8" stroke-width="5" />
<line x1="532.50" y1="409.30" x2="541.00" y2="419.00" stroke="#7aaac8" stroke-width="5" />
<line x1="499.40" y1="409.30" x2="491.00" y2="419.00" stroke="#7aaac8" stroke-width="5" />
<line x1="480.00" y1="377.70" x2="466.30" y2="377.70" stroke="#7aaac8" stroke-width="5" />
<path d="M465.4,346.5 C465,353 466,357 471,357.5 C475,358 478,357.5 480.4,357.7" fill="none" stroke="#cda251" stroke-width="1.9" stroke-linecap="round"/>
<path d="M489.2,368.9 C493,371 497,369 500,365 C503,361 506,359 511.6,364.1" fill="none" stroke="#cda251" stroke-width="1.9" stroke-linecap="round"/>
<path d="M518.4,363.1 C521,366 525,369 529,368 C533,367 534,363 535.9,361.1" fill="none" stroke="#cda251" stroke-width="1.9" stroke-linecap="round"/>
<path d="M552.5,363.1 C556,360 557,354 560,352 C563,350 566,351 568,351.4" fill="none" stroke="#cda251" stroke-width="1.9" stroke-linecap="round"/>
<path d="M463.9,405.4 C468,407 472,408 475,406 C478,404 479,399 480.9,396.2" fill="none" stroke="#cda251" stroke-width="1.9" stroke-linecap="round"/>
<path d="M495,393.3 C496,388 496,383 499,381.5 C502,380 506,380 509.6,380.6" fill="none" stroke="#cda251" stroke-width="1.9" stroke-linecap="round"/>
<path d="M518.4,384.5 C512,388 509,393 513,397 C516,400 518,402 518.4,403" fill="none" stroke="#cda251" stroke-width="1.9" stroke-linecap="round"/>
<path d="M525.2,376.2 C525,383 527,388 532,388.5 C536,389 538,389 539.8,389.4" fill="none" stroke="#cda251" stroke-width="1.9" stroke-linecap="round"/>
<path d="M549.5,400.1 C552,402 555,403 559,401.5 C563,400 565,395 568,395.5 C571,396 572,398 572.9,400.1" fill="none" stroke="#cda251" stroke-width="1.9" stroke-linecap="round"/>
<g transform="translate(515.50,346.00) rotate(0)"><ellipse rx="15.2" ry="5.4" fill="#2c6db8"/><text x="-1" y="3.1" font-size="8.6" text-anchor="middle" fill="#fff">TFSI<tspan font-size="5" dy="-3.5">-</tspan></text></g>
<g transform="translate(515.50,409.80) rotate(0)"><ellipse rx="15.2" ry="5.4" fill="#2c6db8"/><text x="-1" y="3.1" font-size="8.6" text-anchor="middle" fill="#fff">TFSI<tspan font-size="5" dy="-3.5">-</tspan></text></g>
<g transform="translate(485.80,362.10) rotate(120)"><ellipse rx="15.2" ry="5.4" fill="#2c6db8"/><text x="-1" y="3.1" font-size="8.6" text-anchor="middle" fill="#fff">TFSI<tspan font-size="5" dy="-3.5">-</tspan></text></g>
<g transform="translate(545.20,364.10) rotate(-120)"><ellipse rx="15.2" ry="5.4" fill="#2c6db8"/><text x="-1" y="3.1" font-size="8.6" text-anchor="middle" fill="#fff">TFSI<tspan font-size="5" dy="-3.5">-</tspan></text></g>
<g transform="translate(488.20,393.70) rotate(60)"><ellipse rx="15.2" ry="5.4" fill="#2c6db8"/><text x="-1" y="3.1" font-size="8.6" text-anchor="middle" fill="#fff">TFSI<tspan font-size="5" dy="-3.5">-</tspan></text></g>
<g transform="translate(545.60,393.30) rotate(-60)"><ellipse rx="15.2" ry="5.4" fill="#2c6db8"/><text x="-1" y="3.1" font-size="8.6" text-anchor="middle" fill="#fff">TFSI<tspan font-size="5" dy="-3.5">-</tspan></text></g>
<g transform="translate(475.10,350.40)"><circle r="4.9" fill="#e9552b"/><text x="-0.6" y="2.4" font-size="6.4" text-anchor="middle" fill="#fff">Li<tspan font-size="3.5" dy="-2.5">+</tspan></text></g>
<g transform="translate(527.20,360.20)"><circle r="4.9" fill="#e9552b"/><text x="-0.6" y="2.4" font-size="6.4" text-anchor="middle" fill="#fff">Li<tspan font-size="3.5" dy="-2.5">+</tspan></text></g>
<g transform="translate(506.20,368.90)"><circle r="4.9" fill="#e9552b"/><text x="-0.6" y="2.4" font-size="6.4" text-anchor="middle" fill="#fff">Li<tspan font-size="3.5" dy="-2.5">+</tspan></text></g>
<g transform="translate(532.50,381.60)"><circle r="4.9" fill="#e9552b"/><text x="-0.6" y="2.4" font-size="6.4" text-anchor="middle" fill="#fff">Li<tspan font-size="3.5" dy="-2.5">+</tspan></text></g>
<g transform="translate(504.80,387.90)"><circle r="4.9" fill="#e9552b"/><text x="-0.6" y="2.4" font-size="6.4" text-anchor="middle" fill="#fff">Li<tspan font-size="3.5" dy="-2.5">+</tspan></text></g>
<g transform="translate(519.40,393.10)"><circle r="4.9" fill="#e9552b"/><text x="-0.6" y="2.4" font-size="6.4" text-anchor="middle" fill="#fff">Li<tspan font-size="3.5" dy="-2.5">+</tspan></text></g>
<text x="597.0" y="21.6" font-size="27" text-anchor="start" fill="#231f20" >b</text>
<rect x="620.8" y="15.5" width="167.4" height="108.3" fill="url(#pb1)"/>
<rect x="620.8" y="123.8" width="167.4" height="23.6" fill="#f1f8f9"/>
<rect x="620.8" y="147.4" width="167.4" height="117.6" fill="url(#pb2)"/>
<rect x="620.8" y="265" width="167.4" height="23.7" fill="#f1f8f9"/>
<rect x="620.8" y="288.7" width="167.4" height="108.5" fill="url(#pb3)"/>
<rect x="620.8" y="397.2" width="167.4" height="23.8" fill="#f1f8f9"/>
<circle cx="703.8" cy="78.3" r="27.2" fill="url(#dsk1)"/>
<path d="M620.8,75.5 L690.25,76.0 A4.25,4.25 0 0 1 690.25,84.5 L620.8,92.5 Z" fill="#66696c"/>
<path d="M620.8,75.5 L645.8,75.7 L645.8,92.2 L620.8,92.5 Z" fill="#141414"/>
<path d="M645.8,75.9 L690.25,76.3" stroke="#262626" stroke-width="1.4" fill="none"/>
<path d="M646.8,85.50 L689.25,81.05" stroke="#7d8083" stroke-width="1.6" fill="none" opacity="0.8"/>
<circle cx="705.2" cy="201" r="27.6" fill="#ccb984"/>
<circle cx="705.2" cy="201" r="27.6" fill="#fff" filter="url(#spk)"/>
<path d="M620.8,194.5 L682.15,195.5 A4.15,4.15 0 0 1 682.15,203.8 L620.8,207.3 Z" fill="#4a4e52"/>
<path d="M620.8,194.5 L635.8,194.7 L635.8,207.0 L620.8,207.3 Z" fill="#141414"/>
<path d="M635.8,194.9 L682.15,195.8" stroke="#262626" stroke-width="1.4" fill="none"/>
<path d="M636.8,202.40 L681.15,200.45" stroke="#7d8083" stroke-width="1.6" fill="none" opacity="0.8"/>
<circle cx="708.1" cy="343.7" r="27.1" fill="url(#dsk3)"/>
<path d="M620.8,337.7 L684.3,338.5 A4.50,4.50 0 0 1 684.3,347.5 L620.8,351.1 Z" fill="#5a5d60"/>
<path d="M620.8,337.7 L637.8,337.9 L637.8,350.8 L620.8,351.1 Z" fill="#141414"/>
<path d="M637.8,338.09999999999997 L684.3,338.8" stroke="#262626" stroke-width="1.4" fill="none"/>
<path d="M638.8,345.90 L683.3,343.80" stroke="#7d8083" stroke-width="1.6" fill="none" opacity="0.8"/>
<text x="694.5" y="143.8" font-size="17.3" text-anchor="middle" fill="#231f20" >0 : 1</text>
<text x="694.5" y="284.8" font-size="17.3" text-anchor="middle" fill="#231f20" >0.5 : 1</text>
<text x="695.0" y="417.2" font-size="17.3" text-anchor="middle" fill="#231f20" >1 : 1</text>
<text x="824.0" y="23.0" font-size="27" text-anchor="start" fill="#231f20" >c</text>
<line x1="848.20" y1="20.40" x2="848.20" y2="402.20" stroke="#555" stroke-width="1.5" />
<line x1="847.50" y1="401.50" x2="1063.20" y2="401.50" stroke="#555" stroke-width="1.5" />
<line x1="848.20" y1="401.50" x2="848.20" y2="406.50" stroke="#555" stroke-width="1.3" />
<text x="851.8" y="418.4" font-size="15.0" text-anchor="middle" fill="#231f20" >0.1</text>
<line x1="869.65" y1="401.50" x2="869.65" y2="404.50" stroke="#555" stroke-width="1.1" />
<line x1="891.10" y1="401.50" x2="891.10" y2="406.50" stroke="#555" stroke-width="1.3" />
<text x="894.7" y="418.4" font-size="15.0" text-anchor="middle" fill="#231f20" >0.2</text>
<line x1="912.55" y1="401.50" x2="912.55" y2="404.50" stroke="#555" stroke-width="1.1" />
<line x1="934.00" y1="401.50" x2="934.00" y2="406.50" stroke="#555" stroke-width="1.3" />
<text x="937.6" y="418.4" font-size="15.0" text-anchor="middle" fill="#231f20" >0.3</text>
<line x1="955.45" y1="401.50" x2="955.45" y2="404.50" stroke="#555" stroke-width="1.1" />
<line x1="976.90" y1="401.50" x2="976.90" y2="406.50" stroke="#555" stroke-width="1.3" />
<text x="980.5" y="418.4" font-size="15.0" text-anchor="middle" fill="#231f20" >0.4</text>
<line x1="998.35" y1="401.50" x2="998.35" y2="404.50" stroke="#555" stroke-width="1.1" />
<line x1="1019.80" y1="401.50" x2="1019.80" y2="406.50" stroke="#555" stroke-width="1.3" />
<text x="1023.4" y="418.4" font-size="15.0" text-anchor="middle" fill="#231f20" >0.5</text>
<line x1="1041.25" y1="401.50" x2="1041.25" y2="404.50" stroke="#555" stroke-width="1.1" />
<line x1="1062.70" y1="401.50" x2="1062.70" y2="406.50" stroke="#555" stroke-width="1.3" />
<text x="1066.3" y="418.4" font-size="15.0" text-anchor="middle" fill="#231f20" >0.6</text>
<text x="958.6" y="445.2" font-size="21.0" text-anchor="middle" fill="#231f20" >Q (Å<tspan font-size="13.5" dy="-8.5">−1</tspan><tspan dy="8.5">)</tspan></text>
<text x="0.0" y="0.0" font-size="20" text-anchor="middle" fill="#231f20" transform="translate(839.2,184.6) rotate(-90)">Intensity (a.u.)</text>
<line x1="896.7" y1="37.4" x2="896.7" y2="385" stroke="#666" stroke-width="3.0" stroke-dasharray="12.5,13.6"/>
<path d="M848.20,55.82 L848.66,56.46 L849.20,56.76 L849.82,56.89 L850.51,57.44 L851.26,57.88 L852.06,58.48 L852.91,59.07 L853.79,59.28 L854.71,59.82 L855.66,60.81 L856.61,61.21 L857.58,61.98 L858.55,62.22 L859.52,63.05 L860.47,63.80 L861.40,64.15 L862.30,65.10 L863.17,65.65 L864.00,65.77 L864.85,66.35 L865.72,67.24 L866.60,68.10 L867.48,68.50 L868.37,69.11 L869.26,69.92 L870.14,70.43 L871.01,71.23 L871.88,72.03 L872.73,72.72 L873.57,73.23 L874.39,73.84 L875.18,74.40 L875.95,75.04 L876.69,75.41 L877.40,75.68 L878.07,76.42 L878.70,76.53 L879.84,76.84 L880.83,76.60 L881.69,76.78 L882.47,76.32 L883.18,75.44 L883.86,74.99 L884.54,74.62 L885.24,74.11 L886.00,73.82 L886.91,73.14 L887.84,72.86 L888.78,72.26 L889.71,71.58 L890.61,71.27 L891.47,71.06 L892.27,70.82 L893.00,70.60 L893.96,70.88 L894.71,71.12 L895.38,72.02 L896.10,73.35 L897.00,74.46 L897.75,75.46 L898.53,76.97 L899.36,78.52 L900.24,80.07 L901.19,81.54 L902.20,83.19 L903.30,84.80 L903.97,85.85 L904.66,86.67 L905.36,87.57 L906.09,88.61 L906.83,89.37 L907.61,90.36 L908.41,91.67 L909.25,92.76 L910.12,93.50 L911.04,94.30 L912.00,95.04 L913.00,96.00 L913.70,96.75 L914.41,97.13 L915.14,97.49 L915.89,98.11 L916.65,98.24 L917.44,98.82 L918.24,99.46 L919.05,99.68 L919.88,100.02 L920.73,100.32 L921.59,100.84 L922.46,101.42 L923.35,101.31 L924.26,102.06 L925.17,102.43 L926.10,102.81 L927.04,103.08 L928.00,103.45 L928.73,103.56 L929.50,103.84 L930.28,104.03 L931.08,104.10 L931.91,104.77 L932.75,104.87 L933.60,104.94 L934.46,105.34 L935.33,105.57 L936.21,105.75 L937.08,105.98 L937.96,106.30 L938.84,106.56 L939.71,106.77 L940.58,106.89 L941.43,106.87 L942.27,107.15 L943.10,107.30 L943.91,107.66 L944.70,107.94 L945.46,108.05 L946.20,108.16 L946.92,108.27 L947.60,108.08 L948.64,108.46 L949.63,108.41 L950.58,108.10 L951.49,108.01 L952.36,107.92 L953.19,108.17 L954.00,107.78 L954.79,107.56 L955.56,107.66 L956.31,107.37 L957.05,107.09 L957.79,107.01 L958.52,107.10 L959.26,106.86 L960.00,106.89 L960.91,107.13 L961.78,107.08 L962.62,107.13 L963.44,107.35 L964.24,107.28 L965.02,107.63 L965.81,107.81 L966.61,107.84 L967.42,107.92 L968.25,108.39 L969.10,108.23 L970.00,108.05 L970.75,108.18 L971.52,108.15 L972.30,107.58 L973.11,107.37 L973.93,107.20 L974.75,107.24 L975.58,106.70 L976.42,106.71 L977.25,106.45 L978.07,106.16 L978.89,105.79 L979.70,106.01 L980.48,105.80 L981.25,105.60 L982.00,105.46 L982.88,105.77 L983.70,105.82 L984.48,106.15 L985.22,106.33 L985.95,106.83 L986.69,106.92 L987.44,107.43 L988.22,108.17 L989.05,108.53 L989.95,108.63 L990.93,109.26 L992.00,109.31 L992.66,109.79 L993.34,109.87 L994.04,109.88 L994.76,109.98 L995.51,110.04 L996.27,110.66 L997.05,110.42 L997.84,110.99 L998.65,111.24 L999.48,111.22 L1000.31,111.20 L1001.16,111.71 L1002.01,111.92 L1002.87,111.94 L1003.74,111.98 L1004.61,112.05 L1005.49,112.16 L1006.37,112.20 L1007.25,112.53 L1008.12,112.50 L1009.00,112.45 L1009.77,112.45 L1010.56,112.77 L1011.37,112.62 L1012.18,112.74 L1013.01,112.67 L1013.85,112.95 L1014.70,112.96 L1015.55,112.51 L1016.41,112.59 L1017.27,112.63 L1018.13,112.94 L1018.99,112.80 L1019.85,112.55 L1020.70,112.44 L1021.55,112.63 L1022.40,112.66 L1023.23,112.65 L1024.06,112.30 L1024.87,112.51 L1025.67,112.35 L1026.45,112.19 L1027.22,112.37 L1027.97,111.93 L1028.70,112.11 L1029.64,111.69 L1030.54,111.60 L1031.40,111.82 L1032.23,111.31 L1033.04,111.40 L1033.83,111.12 L1034.61,111.05 L1035.37,110.61 L1036.13,110.40 L1036.89,110.18 L1037.65,110.28 L1038.42,109.98 L1039.21,110.00 L1040.01,109.83 L1040.84,109.35 L1041.69,109.48 L1042.58,109.21 L1043.50,109.17 L1044.23,109.21 L1045.01,109.65 L1045.82,109.67 L1046.67,109.77 L1047.54,109.63 L1048.44,109.88 L1049.36,110.10 L1050.29,110.04 L1051.22,110.28 L1052.16,110.27 L1053.10,110.36 L1054.03,110.62 L1054.94,111.10 L1055.84,111.11 L1056.71,111.46 L1057.56,111.39 L1058.37,111.46 L1059.15,111.87 L1059.88,112.04 L1060.56,111.76 L1061.19,112.22 L1061.76,112.03 L1062.26,112.14 L1062.70,112.59" fill="none" stroke="#f2a27a" stroke-width="1.5"/>
<path d="M848.20,146.80 L848.66,147.12 L849.20,146.54 L849.82,147.03 L850.51,148.37 L851.26,148.82 L852.06,149.34 L852.91,149.58 L853.79,150.56 L854.71,151.24 L855.66,151.90 L856.61,152.13 L857.58,153.13 L858.55,153.77 L859.52,154.80 L860.47,155.74 L861.40,156.31 L862.30,156.44 L863.17,156.86 L864.00,157.15 L864.86,157.37 L865.73,157.84 L866.62,158.80 L867.52,159.11 L868.42,159.63 L869.33,160.65 L870.23,160.68 L871.12,161.13 L872.01,161.17 L872.87,161.30 L873.72,161.97 L874.54,162.07 L875.33,162.76 L876.09,163.54 L876.81,163.38 L877.49,162.99 L878.12,163.88 L878.70,163.83 L880.12,163.54 L881.14,163.02 L881.91,161.85 L882.54,160.73 L883.20,159.17 L884.00,159.03 L884.80,158.43 L885.61,156.95 L886.43,157.03 L887.26,156.49 L888.10,155.84 L888.95,155.72 L889.80,155.69 L890.66,156.35 L891.51,156.18 L892.37,156.98 L893.24,157.06 L894.14,158.48 L895.05,159.57 L896.00,160.46 L896.74,161.90 L897.45,163.88 L898.17,165.44 L898.89,167.11 L899.65,168.84 L900.46,171.00 L901.32,173.44 L902.26,174.81 L903.30,177.45 L903.98,177.80 L904.71,179.59 L905.48,180.02 L906.29,181.83 L907.12,182.65 L907.98,183.52 L908.85,184.61 L909.74,185.81 L910.62,186.76 L911.50,187.45 L912.37,188.28 L913.22,189.51 L914.05,190.81 L914.84,191.24 L915.60,191.33 L916.46,192.92 L917.23,193.48 L917.94,194.25 L918.59,193.95 L919.23,194.98 L919.88,194.59 L920.56,195.57 L921.31,195.44 L922.14,195.66 L923.08,196.64 L924.16,196.07 L925.40,196.82 L926.02,197.33 L926.68,196.79 L927.39,196.89 L928.14,197.76 L928.92,197.39 L929.74,197.84 L930.58,197.21 L931.45,197.70 L932.34,197.61 L933.25,198.28 L934.17,197.74 L935.10,198.81 L936.03,197.89 L936.97,198.76 L937.90,198.08 L938.83,198.42 L939.75,199.12 L940.66,198.47 L941.55,198.57 L942.42,199.19 L943.26,198.91 L944.08,198.58 L944.86,199.67 L945.61,198.77 L946.32,198.67 L946.98,199.02 L947.60,199.33 L948.84,199.42 L949.92,198.60 L950.86,198.66 L951.68,198.08 L952.42,198.27 L953.10,198.32 L953.75,198.00 L954.39,197.90 L955.04,197.49 L955.75,197.41 L956.52,197.09 L957.40,196.77 L958.16,196.51 L958.94,197.05 L959.75,196.78 L960.57,196.69 L961.41,197.25 L962.27,197.91 L963.13,197.29 L964.00,198.00 L964.87,197.98 L965.74,198.30 L966.61,198.06 L967.47,199.08 L968.33,198.40 L969.17,198.83 L970.00,198.61 L970.82,198.09 L971.63,198.53 L972.43,197.86 L973.24,197.51 L974.03,197.20 L974.83,197.03 L975.62,196.63 L976.41,196.90 L977.21,196.45 L978.00,196.69 L978.79,196.38 L979.59,196.25 L980.39,195.27 L981.19,195.43 L982.00,195.23 L982.81,195.69 L983.61,195.89 L984.40,196.31 L985.20,196.49 L985.99,196.31 L986.78,196.85 L987.58,197.35 L988.38,197.18 L989.19,197.63 L990.01,198.46 L990.84,198.55 L991.68,199.62 L992.54,199.46 L993.41,199.65 L994.30,200.05 L995.05,200.34 L995.80,200.57 L996.55,201.15 L997.31,201.34 L998.07,201.41 L998.84,202.02 L999.61,201.79 L1000.39,202.79 L1001.19,203.08 L1001.99,203.04 L1002.81,202.92 L1003.64,203.20 L1004.49,203.46 L1005.35,203.04 L1006.23,203.59 L1007.13,203.84 L1008.06,203.57 L1009.00,203.55 L1009.73,204.38 L1010.49,203.94 L1011.28,204.13 L1012.09,204.59 L1012.93,204.25 L1013.77,203.90 L1014.64,204.65 L1015.51,203.95 L1016.40,203.53 L1017.29,204.23 L1018.18,203.54 L1019.08,203.72 L1019.96,204.25 L1020.85,204.00 L1021.72,203.21 L1022.59,203.62 L1023.43,203.50 L1024.26,203.50 L1025.07,203.12 L1025.86,203.45 L1026.61,202.80 L1027.34,202.94 L1028.04,202.95 L1028.70,203.48 L1029.84,202.34 L1030.91,202.83 L1031.90,201.92 L1032.83,202.02 L1033.71,201.48 L1034.54,201.21 L1035.34,201.19 L1036.10,200.48 L1036.85,199.89 L1037.59,199.64 L1038.32,199.41 L1039.05,200.13 L1039.80,199.86 L1040.74,200.28 L1041.59,200.19 L1042.38,199.75 L1043.15,200.83 L1043.90,201.39 L1044.67,201.77 L1045.48,201.97 L1046.36,202.22 L1047.32,202.69 L1048.40,203.33 L1049.12,202.87 L1049.91,203.26 L1050.77,203.30 L1051.68,203.91 L1052.62,203.83 L1053.60,204.04 L1054.60,204.00 L1055.59,203.46 L1056.58,203.43 L1057.55,203.76 L1058.48,203.55 L1059.37,203.77 L1060.20,204.08 L1060.96,204.37 L1061.64,204.04 L1062.22,204.32 L1062.70,203.56" fill="none" stroke="#d9606e" stroke-width="1.4"/>
<path d="M848.20,268.96 L848.65,269.47 L849.19,269.58 L849.81,270.11 L850.49,270.48 L851.24,270.37 L852.04,270.73 L852.89,271.91 L853.77,271.84 L854.68,272.28 L855.62,273.44 L856.56,273.43 L857.51,274.23 L858.45,274.36 L859.38,274.95 L860.28,274.93 L861.16,275.76 L862.00,276.33 L862.83,276.37 L863.69,276.93 L864.56,277.23 L865.45,277.05 L866.35,278.03 L867.25,278.24 L868.15,278.33 L869.04,278.43 L869.93,279.51 L870.80,279.47 L871.64,279.99 L872.46,280.40 L873.25,280.50 L874.01,280.91 L874.72,280.63 L875.38,281.15 L876.00,280.95 L877.27,281.51 L878.28,281.36 L879.10,280.41 L879.81,280.10 L880.48,279.81 L881.19,280.15 L882.00,279.44 L882.78,279.45 L883.57,278.95 L884.36,278.93 L885.16,278.63 L885.97,278.46 L886.79,278.62 L887.64,278.68 L888.50,279.16 L889.28,279.28 L890.07,279.95 L890.87,280.42 L891.68,281.16 L892.51,281.53 L893.35,281.76 L894.21,283.07 L895.10,283.82 L896.00,284.36 L896.76,284.53 L897.52,285.15 L898.30,285.19 L899.09,286.24 L899.90,286.50 L900.72,286.73 L901.55,287.00 L902.39,288.16 L903.25,288.70 L904.12,288.28 L905.00,289.27 L905.67,289.19 L906.20,289.20 L906.64,289.56 L907.04,290.19 L907.42,290.48 L907.85,289.91 L908.35,290.59 L908.99,290.23 L909.79,290.98 L910.81,290.77 L912.09,291.39 L913.67,291.61 L915.60,291.30 L916.11,291.78 L916.65,291.19 L917.20,291.01 L917.78,291.50 L918.38,291.02 L919.00,291.20 L919.64,291.41 L920.30,291.62 L920.98,291.24 L921.68,291.17 L922.39,291.93 L923.12,291.46 L923.86,292.07 L924.62,292.04 L925.39,291.59 L926.18,291.69 L926.98,291.77 L927.79,291.90 L928.61,291.88 L929.44,291.87 L930.29,291.95 L931.14,292.26 L932.00,291.89 L932.87,291.84 L933.74,292.12 L934.63,291.71 L935.52,291.78 L936.41,292.41 L937.31,292.01 L938.21,292.06 L939.12,291.59 L940.02,291.97 L940.93,292.13 L941.85,291.64 L942.76,292.19 L943.67,292.22 L944.58,291.72 L945.49,292.24 L946.39,292.10 L947.29,292.31 L948.19,292.02 L949.09,292.35 L949.98,292.38 L950.86,291.75 L951.74,291.79 L952.61,292.35 L953.47,292.61 L954.32,291.97 L955.17,292.16 L956.00,292.29 L956.83,292.04 L957.64,292.08 L958.44,292.04 L959.23,292.08 L960.00,292.29 L960.84,292.02 L961.69,292.08 L962.53,292.42 L963.38,291.74 L964.22,292.22 L965.07,292.35 L965.91,291.95 L966.76,291.85 L967.60,292.35 L968.44,291.82 L969.28,291.75 L970.12,291.95 L970.96,292.16 L971.80,291.59 L972.64,291.76 L973.47,291.74 L974.31,292.16 L975.14,291.77 L975.97,292.11 L976.80,291.46 L977.62,291.57 L978.45,291.82 L979.27,292.00 L980.08,291.57 L980.90,291.33 L981.71,291.20 L982.52,291.54 L983.33,291.20 L984.13,291.72 L984.93,291.71 L985.73,291.09 L986.52,291.14 L987.31,291.59 L988.09,291.41 L988.87,291.53 L989.65,291.08 L990.42,290.86 L991.19,290.98 L991.95,291.41 L992.71,290.91 L993.46,290.96 L994.21,291.00 L994.95,290.99 L995.69,290.96 L996.42,291.41 L997.15,290.71 L997.87,290.57 L998.59,291.40 L999.30,291.34 L1000.00,291.44 L1000.94,290.94 L1001.86,291.41 L1002.77,291.40 L1003.66,290.78 L1004.54,291.27 L1005.40,291.37 L1006.26,291.23 L1007.10,291.13 L1007.93,290.95 L1008.76,291.02 L1009.57,290.95 L1010.37,290.84 L1011.17,291.35 L1011.96,291.11 L1012.75,291.62 L1013.53,290.97 L1014.30,291.79 L1015.07,291.64 L1015.84,291.89 L1016.61,291.91 L1017.37,291.96 L1018.13,291.71 L1018.90,291.24 L1019.66,291.95 L1020.43,291.47 L1021.19,291.63 L1021.96,292.00 L1022.74,291.92 L1023.52,291.86 L1024.30,292.37 L1025.09,292.11 L1025.89,291.91 L1026.69,291.86 L1027.51,292.44 L1028.33,292.13 L1029.16,292.43 L1030.00,292.07 L1030.80,291.95 L1031.61,292.28 L1032.45,292.55 L1033.31,291.99 L1034.18,292.57 L1035.07,292.71 L1035.97,292.62 L1036.89,292.66 L1037.82,291.94 L1038.75,292.52 L1039.69,292.75 L1040.64,292.04 L1041.59,292.26 L1042.55,292.27 L1043.50,292.52 L1044.46,292.44 L1045.41,292.50 L1046.35,292.79 L1047.29,292.11 L1048.22,292.17 L1049.15,292.25 L1050.06,292.27 L1050.96,292.23 L1051.84,293.06 L1052.71,292.96 L1053.57,292.29 L1054.40,292.67 L1055.21,292.52 L1056.00,292.53 L1056.76,292.57 L1057.50,292.85 L1058.21,292.81 L1058.89,292.61 L1059.54,292.47 L1060.16,292.60 L1060.74,292.43 L1061.29,292.83 L1061.80,292.98 L1062.27,292.68 L1062.70,292.42" fill="none" stroke="#3f7ad0" stroke-width="1.5"/>
<path d="M848.20,379.21 L848.90,378.81 L849.60,379.69 L850.30,378.97 L851.00,378.71 L851.70,379.72 L852.40,381.27 L853.10,380.93 L853.80,380.83 L854.50,379.21 L855.20,380.16 L855.90,379.39 L856.60,379.09 L857.30,378.90 L858.00,379.24 L858.70,381.39 L859.40,381.11 L860.10,381.05 L860.80,381.05 L861.50,379.24 L862.20,379.61 L862.90,380.58 L863.60,380.91 L864.30,381.29 L865.00,381.39 L865.70,379.03 L866.40,380.60 L867.10,380.82 L867.80,380.34 L868.50,379.37 L869.20,380.28 L869.90,379.15 L870.60,381.70 L871.30,381.52 L872.00,380.58 L872.70,379.86 L873.40,381.71 L874.10,380.72 L874.80,381.67 L875.50,381.58 L876.20,380.59 L876.90,380.32 L877.60,380.90 L878.30,380.41 L879.00,379.62 L879.70,380.07 L880.40,381.62 L881.10,379.33 L881.80,379.36 L882.50,381.11 L883.20,380.09 L883.90,380.87 L884.60,380.70 L885.30,380.33 L886.00,382.31 L886.70,379.92 L887.40,380.59 L888.10,379.97 L888.80,381.28 L889.50,380.22 L890.20,380.47 L890.90,381.66 L891.60,380.39 L892.30,381.12 L893.00,382.16 L893.70,379.76 L894.40,379.65 L895.10,380.16 L895.80,381.78 L896.50,381.33 L897.20,380.20 L897.90,380.49 L898.60,380.03 L899.30,380.88 L900.00,379.63 L900.70,381.59 L901.40,382.19 L902.10,382.36 L902.80,381.70 L903.50,382.37 L904.20,379.55 L904.90,380.36 L905.60,382.38 L906.30,381.81 L907.00,380.71 L907.70,382.30 L908.40,381.33 L909.10,381.92 L909.80,380.34 L910.50,380.03 L911.20,380.78 L911.90,379.85 L912.60,380.58 L913.30,382.31 L914.00,380.41 L914.70,379.44 L915.40,379.54 L916.10,379.90 L916.80,381.74 L917.50,380.46 L918.20,380.24 L918.90,379.65 L919.60,382.29 L920.30,380.61 L921.00,379.95 L921.70,379.50 L922.40,379.48 L923.10,379.81 L923.80,381.32 L924.50,379.73 L925.20,379.39 L925.90,380.73 L926.60,380.00 L927.30,382.23 L928.00,379.60 L928.70,380.81 L929.40,381.53 L930.10,380.43 L930.80,382.15 L931.50,380.61 L932.20,379.89 L932.90,380.39 L933.60,379.26 L934.30,380.40 L935.00,379.87 L935.70,381.78 L936.40,381.60 L937.10,380.59 L937.80,379.18 L938.50,379.84 L939.20,379.79 L939.90,379.68 L940.60,379.74 L941.30,381.65 L942.00,379.45 L942.70,379.17 L943.40,381.80 L944.10,380.70 L944.80,381.97 L945.50,380.20 L946.20,381.68 L946.90,380.94 L947.60,381.34 L948.30,381.19 L949.00,380.44 L949.70,379.23 L950.40,379.57 L951.10,381.56 L951.80,381.63 L952.50,381.70 L953.20,379.93 L953.90,380.89 L954.60,381.31 L955.30,380.84 L956.00,381.35 L956.70,380.49 L957.40,380.87 L958.10,380.96 L958.80,379.71 L959.50,381.67 L960.20,381.77 L960.90,379.12 L961.60,381.81 L962.30,381.78 L963.00,380.90 L963.70,379.02 L964.40,381.58 L965.10,379.26 L965.80,381.78 L966.50,380.86 L967.20,379.04 L967.90,379.35 L968.60,380.74 L969.30,380.53 L970.00,381.06 L970.70,381.59 L971.40,379.45 L972.10,378.79 L972.80,381.54 L973.50,378.80 L974.20,381.37 L974.90,379.08 L975.60,381.14 L976.30,381.05 L977.00,381.32 L977.70,380.32 L978.40,381.29 L979.10,379.24 L979.80,380.64 L980.50,379.60 L981.20,381.27 L981.90,380.89 L982.60,379.97 L983.30,380.12 L984.00,378.60 L984.70,378.61 L985.40,380.27 L986.10,379.94 L986.80,381.05 L987.50,380.26 L988.20,378.84 L988.90,379.49 L989.60,380.69 L990.30,379.94 L991.00,378.39 L991.70,380.86 L992.40,380.81 L993.10,378.57 L993.80,379.93 L994.50,379.43 L995.20,380.63 L995.90,379.19 L996.60,378.94 L997.30,379.69 L998.00,381.11 L998.70,378.49 L999.40,378.54 L1000.10,380.04 L1000.80,380.83 L1001.50,379.70 L1002.20,379.45 L1002.90,380.72 L1003.60,380.47 L1004.30,378.33 L1005.00,380.77 L1005.70,378.70 L1006.40,379.02 L1007.10,380.62 L1007.80,379.37 L1008.50,380.50 L1009.20,378.60 L1009.90,380.72 L1010.60,378.63 L1011.30,378.55 L1012.00,379.59 L1012.70,379.12 L1013.40,379.73 L1014.10,380.82 L1014.80,380.25 L1015.50,378.13 L1016.20,379.06 L1016.90,379.76 L1017.60,379.59 L1018.30,380.29 L1019.00,379.60 L1019.70,378.38 L1020.40,378.90 L1021.10,380.71 L1021.80,379.25 L1022.50,380.49 L1023.20,381.15 L1023.90,380.08 L1024.60,380.24 L1025.30,380.05 L1026.00,379.17 L1026.70,380.98 L1027.40,379.65 L1028.10,381.00 L1028.80,379.19 L1029.50,380.89 L1030.20,380.66 L1030.90,380.15 L1031.60,379.65 L1032.30,378.75 L1033.00,380.66 L1033.70,379.44 L1034.40,380.35 L1035.10,378.78 L1035.80,378.64 L1036.50,378.83 L1037.20,380.84 L1037.90,378.96 L1038.60,381.14 L1039.30,379.57 L1040.00,380.19 L1040.70,379.52 L1041.40,380.35 L1042.10,378.78 L1042.80,379.72 L1043.50,381.33 L1044.20,379.07 L1044.90,380.50 L1045.60,379.53 L1046.30,379.46 L1047.00,378.64 L1047.70,378.64 L1048.40,381.44 L1049.10,381.09 L1049.80,381.01 L1050.50,381.04 L1051.20,381.49 L1051.90,379.11 L1052.60,380.39 L1053.30,380.14 L1054.00,380.38 L1054.70,381.48 L1055.40,380.95 L1056.10,381.58 L1056.80,379.03 L1057.50,380.64 L1058.20,380.71 L1058.90,380.93 L1059.60,380.55 L1060.30,381.19 L1061.00,379.61 L1061.70,381.48 L1062.40,379.92" fill="none" stroke="#8fcf8f" stroke-width="1.2"/>
<path d="M876.7,86 Q883.2,73.3 900.8,95.4" fill="none" stroke="#7cc242" stroke-width="2.0"/>
<path d="M874.5,172 Q879.2,159.5 899,181" fill="none" stroke="#7cc242" stroke-width="2.0"/>
<path d="M871.8,291.8 Q880.9,277.9 896,300" fill="none" stroke="#7cc242" stroke-width="2.0"/>
<path d="M950,114.5 Q958.5,105.2 967,115.0" fill="none" stroke="#7cc242" stroke-width="1.6"/>
<path d="M975,114.5 Q984.0,105.2 993,115.0" fill="none" stroke="#7cc242" stroke-width="1.6"/>
<path d="M1031,118.5 Q1043.0,109.2 1055,119.0" fill="none" stroke="#7cc242" stroke-width="1.6"/>
<path d="M950,205.5 Q958.5,196.2 967,206.0" fill="none" stroke="#7cc242" stroke-width="1.6"/>
<path d="M973,205.5 Q981.5,196.2 990,206.0" fill="none" stroke="#7cc242" stroke-width="1.6"/>
<path d="M1028,210 Q1040.0,200.8 1052,210.5" fill="none" stroke="#7cc242" stroke-width="1.6"/>
<line x1="966.00" y1="74.30" x2="937.00" y2="74.30" stroke="#666" stroke-width="1.6" />
<polygon points="929.00,74.30 941.00,69.50 941.00,79.10" fill="#666" />
<text x="1058.0" y="92.2" font-size="16.5" text-anchor="end" fill="#231f20" >COF</text>
<text x="1064.4" y="185.2" font-size="16.5" text-anchor="end" fill="#231f20" >FPI-COF</text>
<text x="1070.0" y="277.2" font-size="16.5" text-anchor="end" fill="#231f20" >FPI-COF0.5</text>
<text x="1056.5" y="369.5" font-size="16.5" text-anchor="end" fill="#231f20" >FPI</text>
<rect x="1103.1" y="24" width="103.3" height="93.7" fill="#19264f"/>
<rect x="1103.1" y="24" width="103.3" height="93.7" fill="url(#vig)"/>
<circle cx="1145.9" cy="77.4" r="30" fill="url(#halo)"/>
<circle cx="1145.9" cy="77.4" r="15.5" fill="url(#sx1)"/>
<text x="1202.3" y="40.5" font-size="16.5" text-anchor="end" fill="#fff" >COF</text>
<rect x="1103.1" y="124.5" width="103.3" height="93.2" fill="#19264f"/>
<rect x="1103.1" y="124.5" width="103.3" height="93.2" fill="url(#vig)"/>
<circle cx="1145.9" cy="177.7" r="26" fill="url(#halo)"/>
<circle cx="1145.9" cy="177.7" r="15.5" fill="url(#sx1)"/>
<text x="1202.3" y="141.0" font-size="16.5" text-anchor="end" fill="#fff" >FPI-COF</text>
<rect x="1103.1" y="224.7" width="103.3" height="93.5" fill="#19264f"/>
<rect x="1103.1" y="224.7" width="103.3" height="93.5" fill="url(#vig)"/>
<circle cx="1145.9" cy="278.1" r="14.5" fill="url(#sx1)"/>
<text x="1202.3" y="241.2" font-size="16.5" text-anchor="end" fill="#fff" >FPI-COF0.5</text>
<rect x="1103.1" y="325.1" width="103.3" height="93.4" fill="#0e1733"/>
<rect x="1103.1" y="325.1" width="103.3" height="93.4" fill="url(#vig)"/>
<rect x="1103.1" y="325.1" width="103.3" height="93.4" fill="#fff" filter="url(#nz)"/>
<circle cx="1145.9" cy="377.4" r="4" fill="url(#sx4)"/>
<text x="1202.3" y="341.6" font-size="16.5" text-anchor="end" fill="#fff" >FPI</text>
<rect x="1221.8" y="42.7" width="9.2" height="371.6" fill="url(#cbar)"/>
<text x="1227.3" y="35.8" font-size="16.8" text-anchor="start" fill="#231f20" >10<tspan font-size="10" dy="-5.5">8</tspan></text>
<text x="1232.0" y="431.6" font-size="15.5" text-anchor="middle" fill="#231f20" >0</text>
<text x="1.8" y="480.0" font-size="27" text-anchor="start" fill="#231f20" >d</text>
<line x1="65.00" y1="477.80" x2="65.00" y2="601.60" stroke="#3a3536" stroke-width="1.5" />
<line x1="64.30" y1="600.90" x2="221.00" y2="600.90" stroke="#3a3536" stroke-width="1.5" />
<line x1="60.20" y1="592.40" x2="65.00" y2="592.40" stroke="#3a3536" stroke-width="1.4" />
<text x="58.8" y="596.7" font-size="14.6" text-anchor="end" fill="#231f20" >0</text>
<line x1="60.20" y1="569.62" x2="65.00" y2="569.62" stroke="#3a3536" stroke-width="1.4" />
<text x="58.8" y="573.9" font-size="14.6" text-anchor="end" fill="#231f20" >50</text>
<line x1="60.20" y1="546.84" x2="65.00" y2="546.84" stroke="#3a3536" stroke-width="1.4" />
<text x="58.8" y="551.1" font-size="14.6" text-anchor="end" fill="#231f20" >100</text>
<line x1="60.20" y1="524.06" x2="65.00" y2="524.06" stroke="#3a3536" stroke-width="1.4" />
<text x="58.8" y="528.4" font-size="14.6" text-anchor="end" fill="#231f20" >150</text>
<line x1="60.20" y1="501.28" x2="65.00" y2="501.28" stroke="#3a3536" stroke-width="1.4" />
<text x="58.8" y="505.6" font-size="14.6" text-anchor="end" fill="#231f20" >200</text>
<line x1="60.20" y1="478.50" x2="65.00" y2="478.50" stroke="#3a3536" stroke-width="1.4" />
<text x="58.8" y="482.8" font-size="14.6" text-anchor="end" fill="#231f20" >250</text>
<line x1="62.40" y1="581.01" x2="65.00" y2="581.01" stroke="#3a3536" stroke-width="1.4" />
<line x1="62.40" y1="558.23" x2="65.00" y2="558.23" stroke="#3a3536" stroke-width="1.4" />
<line x1="62.40" y1="535.45" x2="65.00" y2="535.45" stroke="#3a3536" stroke-width="1.4" />
<line x1="62.40" y1="512.67" x2="65.00" y2="512.67" stroke="#3a3536" stroke-width="1.4" />
<line x1="62.40" y1="489.89" x2="65.00" y2="489.89" stroke="#3a3536" stroke-width="1.4" />
<text x="0.0" y="0.0" font-size="18.9" text-anchor="middle" fill="#231f20" transform="translate(28.6,530.2) rotate(-90)">Force (nN)</text>
<text x="90.0" y="479.3" font-size="14.6" text-anchor="start" fill="#231f20" >FPI</text>
<line x1="92.60" y1="490.30" x2="106.50" y2="490.30" stroke="#555" stroke-width="1.4" />
<text x="108.8" y="495.1" font-size="14.6" text-anchor="start" fill="#666" >Approach</text>
<line x1="92.60" y1="504.70" x2="106.50" y2="504.70" stroke="#88cc88" stroke-width="1.4" />
<text x="108.8" y="509.5" font-size="14.6" text-anchor="start" fill="#88cc88" >Depart</text>
<path d="M74.66,495.81 L83.37,533.17 L92.71,567.34 L98.93,585.57 L103.29,591.03 L111.38,591.03 L139.39,590.12 L176.73,588.30 L201.63,586.48" fill="none" stroke="#555" stroke-width="1.3" stroke-linejoin="round"/>
<path d="M74.66,495.81 L78.39,528.62 L82.13,560.51 L85.86,581.01 L89.60,590.58 L93.95,593.77 L98.93,593.31 L108.27,591.49 L120.72,590.58 L139.39,590.12 L176.73,588.30 L201.63,586.48" fill="none" stroke="#88cc88" stroke-width="1.4" stroke-linejoin="round"/>
<line x1="65.00" y1="641.70" x2="65.00" y2="765.50" stroke="#3a3536" stroke-width="1.5" />
<line x1="64.30" y1="764.80" x2="221.00" y2="764.80" stroke="#3a3536" stroke-width="1.5" />
<line x1="60.20" y1="756.30" x2="65.00" y2="756.30" stroke="#3a3536" stroke-width="1.4" />
<text x="58.8" y="760.6" font-size="14.6" text-anchor="end" fill="#231f20" >0</text>
<line x1="60.20" y1="733.52" x2="65.00" y2="733.52" stroke="#3a3536" stroke-width="1.4" />
<text x="58.8" y="737.8" font-size="14.6" text-anchor="end" fill="#231f20" >50</text>
<line x1="60.20" y1="710.74" x2="65.00" y2="710.74" stroke="#3a3536" stroke-width="1.4" />
<text x="58.8" y="715.0" font-size="14.6" text-anchor="end" fill="#231f20" >100</text>
<line x1="60.20" y1="687.96" x2="65.00" y2="687.96" stroke="#3a3536" stroke-width="1.4" />
<text x="58.8" y="692.3" font-size="14.6" text-anchor="end" fill="#231f20" >150</text>
<line x1="60.20" y1="665.18" x2="65.00" y2="665.18" stroke="#3a3536" stroke-width="1.4" />
<text x="58.8" y="669.5" font-size="14.6" text-anchor="end" fill="#231f20" >200</text>
<line x1="60.20" y1="642.40" x2="65.00" y2="642.40" stroke="#3a3536" stroke-width="1.4" />
<text x="58.8" y="646.7" font-size="14.6" text-anchor="end" fill="#231f20" >250</text>
<line x1="62.40" y1="744.91" x2="65.00" y2="744.91" stroke="#3a3536" stroke-width="1.4" />
<line x1="62.40" y1="722.13" x2="65.00" y2="722.13" stroke="#3a3536" stroke-width="1.4" />
<line x1="62.40" y1="699.35" x2="65.00" y2="699.35" stroke="#3a3536" stroke-width="1.4" />
<line x1="62.40" y1="676.57" x2="65.00" y2="676.57" stroke="#3a3536" stroke-width="1.4" />
<line x1="62.40" y1="653.79" x2="65.00" y2="653.79" stroke="#3a3536" stroke-width="1.4" />
<text x="0.0" y="0.0" font-size="18.9" text-anchor="middle" fill="#231f20" transform="translate(28.6,694.0) rotate(-90)">Force (nN)</text>
<text x="90.0" y="643.2" font-size="14.6" text-anchor="start" fill="#231f20" >FPI-COF0.5</text>
<line x1="92.60" y1="654.20" x2="106.50" y2="654.20" stroke="#555" stroke-width="1.4" />
<text x="108.8" y="659.0" font-size="14.6" text-anchor="start" fill="#666" >Approach</text>
<line x1="92.60" y1="668.60" x2="106.50" y2="668.60" stroke="#4a86d4" stroke-width="1.4" />
<text x="108.8" y="673.4" font-size="14.6" text-anchor="start" fill="#4a86d4" >Depart</text>
<path d="M74.66,660.62 L83.37,697.07 L92.71,728.96 L98.93,744.91 L102.04,749.92 L108.27,750.83 L139.39,751.74 L176.73,752.66 L201.63,752.20" fill="none" stroke="#555" stroke-width="1.3" stroke-linejoin="round"/>
<path d="M74.66,660.62 L78.39,701.63 L82.13,728.96 L85.86,748.10 L90.22,754.48 L94.58,753.57 L102.04,750.83 L139.39,752.20 L176.73,753.11 L204.12,752.66" fill="none" stroke="#4a86d4" stroke-width="1.4" stroke-linejoin="round"/>
<line x1="65.00" y1="805.30" x2="65.00" y2="929.10" stroke="#3a3536" stroke-width="1.5" />
<line x1="64.30" y1="928.40" x2="221.00" y2="928.40" stroke="#3a3536" stroke-width="1.5" />
<line x1="60.20" y1="919.90" x2="65.00" y2="919.90" stroke="#3a3536" stroke-width="1.4" />
<text x="58.8" y="924.2" font-size="14.6" text-anchor="end" fill="#231f20" >0</text>
<line x1="60.20" y1="897.12" x2="65.00" y2="897.12" stroke="#3a3536" stroke-width="1.4" />
<text x="58.8" y="901.4" font-size="14.6" text-anchor="end" fill="#231f20" >50</text>
<line x1="60.20" y1="874.34" x2="65.00" y2="874.34" stroke="#3a3536" stroke-width="1.4" />
<text x="58.8" y="878.6" font-size="14.6" text-anchor="end" fill="#231f20" >100</text>
<line x1="60.20" y1="851.56" x2="65.00" y2="851.56" stroke="#3a3536" stroke-width="1.4" />
<text x="58.8" y="855.9" font-size="14.6" text-anchor="end" fill="#231f20" >150</text>
<line x1="60.20" y1="828.78" x2="65.00" y2="828.78" stroke="#3a3536" stroke-width="1.4" />
<text x="58.8" y="833.1" font-size="14.6" text-anchor="end" fill="#231f20" >200</text>
<line x1="60.20" y1="806.00" x2="65.00" y2="806.00" stroke="#3a3536" stroke-width="1.4" />
<text x="58.8" y="810.3" font-size="14.6" text-anchor="end" fill="#231f20" >250</text>
<line x1="62.40" y1="908.51" x2="65.00" y2="908.51" stroke="#3a3536" stroke-width="1.4" />
<line x1="62.40" y1="885.73" x2="65.00" y2="885.73" stroke="#3a3536" stroke-width="1.4" />
<line x1="62.40" y1="862.95" x2="65.00" y2="862.95" stroke="#3a3536" stroke-width="1.4" />
<line x1="62.40" y1="840.17" x2="65.00" y2="840.17" stroke="#3a3536" stroke-width="1.4" />
<line x1="62.40" y1="817.39" x2="65.00" y2="817.39" stroke="#3a3536" stroke-width="1.4" />
<text x="0.0" y="0.0" font-size="18.9" text-anchor="middle" fill="#231f20" transform="translate(28.6,857.7) rotate(-90)">Force (nN)</text>
<line x1="64.70" y1="928.40" x2="64.70" y2="933.20" stroke="#3a3536" stroke-width="1.4" />
<text x="64.7" y="947.9" font-size="15.0" text-anchor="middle" fill="#231f20" >0</text>
<line x1="95.82" y1="928.40" x2="95.82" y2="933.20" stroke="#3a3536" stroke-width="1.4" />
<text x="95.8" y="947.9" font-size="15.0" text-anchor="middle" fill="#231f20" >50</text>
<line x1="126.94" y1="928.40" x2="126.94" y2="933.20" stroke="#3a3536" stroke-width="1.4" />
<text x="126.9" y="947.9" font-size="15.0" text-anchor="middle" fill="#231f20" >100</text>
<line x1="158.06" y1="928.40" x2="158.06" y2="933.20" stroke="#3a3536" stroke-width="1.4" />
<text x="158.1" y="947.9" font-size="15.0" text-anchor="middle" fill="#231f20" >150</text>
<line x1="189.18" y1="928.40" x2="189.18" y2="933.20" stroke="#3a3536" stroke-width="1.4" />
<text x="189.2" y="947.9" font-size="15.0" text-anchor="middle" fill="#231f20" >200</text>
<line x1="220.30" y1="928.40" x2="220.30" y2="933.20" stroke="#3a3536" stroke-width="1.4" />
<text x="220.3" y="947.9" font-size="15.0" text-anchor="middle" fill="#231f20" >250</text>
<line x1="80.26" y1="928.40" x2="80.26" y2="931.00" stroke="#3a3536" stroke-width="1.4" />
<line x1="111.38" y1="928.40" x2="111.38" y2="931.00" stroke="#3a3536" stroke-width="1.4" />
<line x1="142.50" y1="928.40" x2="142.50" y2="931.00" stroke="#3a3536" stroke-width="1.4" />
<line x1="173.62" y1="928.40" x2="173.62" y2="931.00" stroke="#3a3536" stroke-width="1.4" />
<line x1="204.74" y1="928.40" x2="204.74" y2="931.00" stroke="#3a3536" stroke-width="1.4" />
<text x="176.5" y="967.7" font-size="19.8" text-anchor="middle" fill="#231f20" >Sample deformation (nm)</text>
<text x="90.0" y="806.8" font-size="14.6" text-anchor="start" fill="#231f20" >FPI-COF</text>
<line x1="92.60" y1="817.80" x2="106.50" y2="817.80" stroke="#555" stroke-width="1.4" />
<text x="108.8" y="822.6" font-size="14.6" text-anchor="start" fill="#666" >Approach</text>
<line x1="92.60" y1="832.20" x2="106.50" y2="832.20" stroke="#dd6b74" stroke-width="1.4" />
<text x="108.8" y="837.0" font-size="14.6" text-anchor="start" fill="#dd6b74" >Depart</text>
<path d="M74.66,824.68 L77.15,833.34 L82.13,856.12 L87.11,878.90 L92.09,901.68 L96.44,913.98 L102.04,914.43 L139.39,915.80 L176.73,917.17 L201.63,916.71" fill="none" stroke="#555" stroke-width="1.3" stroke-linejoin="round"/>
<path d="M74.66,824.68 L77.15,847.00 L80.26,878.90 L83.37,906.23 L85.86,916.26 L88.35,918.76 L92.09,917.17 L98.93,914.89 L139.39,915.80 L176.73,916.71 L202.87,916.71" fill="none" stroke="#dd6b74" stroke-width="1.4" stroke-linejoin="round"/>
<path d="M163.7,530.4 L232.7,554.4 L301.7,530.4" fill="none" stroke="#e3e3e3" stroke-width="0.8"/>
<polygon points="165.70,514.40 233.20,491.40 299.70,514.40 232.70,537.60" fill="#a87e22" filter="url(#afmr0)"/>
<polygon points="165.70,514.40 233.20,491.40 299.70,514.40 232.70,537.60" fill="#fff" filter="url(#afmd0)"/>
<polygon points="165.70,514.40 233.20,491.40 299.70,514.40 232.70,537.60" fill="#fff" filter="url(#afmn0)"/>
<rect x="316.8" y="476" width="7.8" height="60.2" fill="url(#afmcb)" stroke="#2a2a2a" stroke-width="0.9"/>
<text x="318.3" y="470.9" font-size="13.6" text-anchor="middle" fill="#231f20" >2 μm</text>
<text x="317.0" y="546.6" font-size="13.6" text-anchor="middle" fill="#231f20" >-3 μm</text>
<text x="339.0" y="575.7" font-size="13.65" text-anchor="end" fill="#231f20" >Young’s modulus: 1.9 GPa</text>
<text x="331.6" y="594.5" font-size="13.65" text-anchor="end" fill="#231f20" >Roughness: 106 nm</text>
<path d="M161.6,701.5 L230.7,724.1 L298.3,700.2" fill="none" stroke="#e3e3e3" stroke-width="0.8"/>
<polygon points="163.60,685.50 229.50,661.80 296.30,684.20 230.70,707.30" fill="#a87e22" filter="url(#afmr1)"/>
<polygon points="163.60,685.50 229.50,661.80 296.30,684.20 230.70,707.30" fill="#fff" filter="url(#afmd1)"/>
<polygon points="163.60,685.50 229.50,661.80 296.30,684.20 230.70,707.30" fill="#fff" filter="url(#afmn1)"/>
<rect x="316.7" y="634.6" width="7.7" height="59.6" fill="url(#afmcb)" stroke="#2a2a2a" stroke-width="0.9"/>
<text x="318.3" y="628.9" font-size="13.6" text-anchor="middle" fill="#231f20" >2 μm</text>
<text x="317.0" y="705.3" font-size="13.6" text-anchor="middle" fill="#231f20" >-3 μm</text>
<text x="340.2" y="736.0" font-size="13.65" text-anchor="end" fill="#231f20" >Young’s modulus: 2.6 GPa</text>
<text x="334.4" y="752.4" font-size="13.65" text-anchor="end" fill="#231f20" >Roughness: 172 nm</text>
<path d="M155.9,864.4 L229.9,888.3 L296.6,864.4" fill="none" stroke="#e3e3e3" stroke-width="0.8"/>
<polygon points="157.90,848.40 229.90,824.00 294.60,848.40 229.90,871.50" fill="#a87e22" filter="url(#afmr2)"/>
<polygon points="157.90,848.40 229.90,824.00 294.60,848.40 229.90,871.50" fill="#fff" filter="url(#afmd2)"/>
<polygon points="157.90,848.40 229.90,824.00 294.60,848.40 229.90,871.50" fill="#fff" filter="url(#afmn2)"/>
<rect x="316.7" y="803.3" width="7.7" height="58.5" fill="url(#afmcb)" stroke="#2a2a2a" stroke-width="0.9"/>
<text x="318.3" y="797.0" font-size="13.6" text-anchor="middle" fill="#231f20" >2 μm</text>
<text x="317.0" y="873.4" font-size="13.6" text-anchor="middle" fill="#231f20" >-3 μm</text>
<text x="340.2" y="902.3" font-size="13.65" text-anchor="end" fill="#231f20" >Young’s modulus: 4.5 GPa</text>
<text x="334.4" y="918.8" font-size="13.65" text-anchor="end" fill="#231f20" >Roughness: 290 nm</text>
<text x="356.0" y="478.7" font-size="27" text-anchor="start" fill="#231f20" >e</text>
<rect x="444.30" y="640.40" width="15.60" height="22.30" fill="#8fcf8f" stroke="#3a3a3a" stroke-width="1.0"/>
<rect x="518.60" y="606.96" width="15.60" height="55.74" fill="#dc7a80" stroke="#3a3a3a" stroke-width="1.0"/>
<rect x="592.90" y="540.07" width="15.60" height="122.63" fill="#4f83cc" stroke="#3a3a3a" stroke-width="1.0"/>
<rect x="409.2" y="476.9" width="234.1" height="185.8" fill="none" stroke="#3a3536" stroke-width="1.5"/>
<line x1="404.40" y1="662.70" x2="409.20" y2="662.70" stroke="#3a3536" stroke-width="1.4" />
<text x="403.0" y="667.0" font-size="15.0" text-anchor="end" fill="#231f20" >0</text>
<line x1="404.40" y1="625.54" x2="409.20" y2="625.54" stroke="#3a3536" stroke-width="1.4" />
<text x="403.0" y="629.8" font-size="15.0" text-anchor="end" fill="#231f20" >1</text>
<line x1="404.40" y1="588.38" x2="409.20" y2="588.38" stroke="#3a3536" stroke-width="1.4" />
<text x="403.0" y="592.7" font-size="15.0" text-anchor="end" fill="#231f20" >2</text>
<line x1="404.40" y1="551.22" x2="409.20" y2="551.22" stroke="#3a3536" stroke-width="1.4" />
<text x="403.0" y="555.5" font-size="15.0" text-anchor="end" fill="#231f20" >3</text>
<line x1="404.40" y1="514.06" x2="409.20" y2="514.06" stroke="#3a3536" stroke-width="1.4" />
<text x="403.0" y="518.4" font-size="15.0" text-anchor="end" fill="#231f20" >4</text>
<line x1="404.40" y1="476.90" x2="409.20" y2="476.90" stroke="#3a3536" stroke-width="1.4" />
<text x="403.0" y="481.2" font-size="15.0" text-anchor="end" fill="#231f20" >5</text>
<line x1="406.60" y1="644.12" x2="409.20" y2="644.12" stroke="#3a3536" stroke-width="1.4" />
<line x1="406.60" y1="606.96" x2="409.20" y2="606.96" stroke="#3a3536" stroke-width="1.4" />
<line x1="406.60" y1="569.80" x2="409.20" y2="569.80" stroke="#3a3536" stroke-width="1.4" />
<line x1="406.60" y1="532.64" x2="409.20" y2="532.64" stroke="#3a3536" stroke-width="1.4" />
<line x1="406.60" y1="495.48" x2="409.20" y2="495.48" stroke="#3a3536" stroke-width="1.4" />
<text x="457.8" y="635.0" font-size="16.4" text-anchor="middle" fill="#231f20" >6.0×10<tspan font-size="11.5" dy="-7">−5</tspan></text>
<text x="531.0" y="602.4" font-size="16.4" text-anchor="middle" fill="#231f20" >1.5×10<tspan font-size="11.5" dy="-7">−4</tspan></text>
<text x="603.5" y="535.3" font-size="16.4" text-anchor="middle" fill="#231f20" >3.3×10<tspan font-size="11.5" dy="-7">−4</tspan></text>
<text x="453.5" y="690.8" font-size="14.6" text-anchor="middle" fill="#231f20" >FPI</text>
<text x="527.0" y="690.8" font-size="14.6" text-anchor="middle" fill="#231f20" >FPI-COF0.5</text>
<text x="607.8" y="690.8" font-size="14.6" text-anchor="middle" fill="#231f20" >FPI-COF</text>
<text x="0.0" y="0.0" font-size="21.2" text-anchor="middle" fill="#231f20" transform="translate(380.0,569.5) rotate(-90)">σ<tspan font-size="13" dy="4">Li</tspan><tspan font-size="9" dy="-8">+</tspan><tspan dy="4"> (×10</tspan><tspan font-size="13" dy="-8">−4</tspan><tspan dy="8"> S cm</tspan><tspan font-size="13" dy="-8">−1</tspan><tspan dy="8">)</tspan></text>
<text x="662.0" y="478.7" font-size="27" text-anchor="start" fill="#231f20" >f</text>
<rect x="733.00" y="656.30" width="18.00" height="6.40" fill="#c4b9e2" stroke="#2e2e2e" stroke-width="1.1"/>
<rect x="758.13" y="657.00" width="18.00" height="5.70" fill="#c4b9e2" stroke="#2e2e2e" stroke-width="1.1"/>
<rect x="783.26" y="658.80" width="18.00" height="3.90" fill="#f7d9ea" stroke="#2e2e2e" stroke-width="1.1"/>
<rect x="808.39" y="660.00" width="18.00" height="2.70" fill="#f7d9ea" stroke="#2e2e2e" stroke-width="1.1"/>
<rect x="833.52" y="660.30" width="18.00" height="2.40" fill="#f7d9ea" stroke="#2e2e2e" stroke-width="1.1"/>
<rect x="858.65" y="653.70" width="18.00" height="9.00" fill="#eba8b2" stroke="#2e2e2e" stroke-width="1.1"/>
<rect x="883.78" y="655.70" width="18.00" height="7.00" fill="#eba8b2" stroke="#2e2e2e" stroke-width="1.1"/>
<rect x="908.91" y="657.00" width="18.00" height="5.70" fill="#eba8b2" stroke="#2e2e2e" stroke-width="1.1"/>
<rect x="934.04" y="656.50" width="18.00" height="6.20" fill="#eba8b2" stroke="#2e2e2e" stroke-width="1.1"/>
<rect x="959.17" y="628.00" width="18.00" height="34.70" fill="#f9dfc2" stroke="#2e2e2e" stroke-width="1.1"/>
<rect x="984.30" y="610.40" width="18.00" height="52.30" fill="#f9dfc2" stroke="#2e2e2e" stroke-width="1.1"/>
<rect x="1009.43" y="644.70" width="18.00" height="18.00" fill="#f6ef9e" stroke="#2e2e2e" stroke-width="1.1"/>
<rect x="1034.56" y="656.20" width="18.00" height="6.50" fill="#b4d36e" stroke="#2e2e2e" stroke-width="1.1"/>
<rect x="1059.69" y="658.80" width="18.00" height="3.90" fill="#93d3d5" stroke="#2e2e2e" stroke-width="1.1"/>
<rect x="1084.82" y="656.70" width="18.00" height="6.00" fill="#93d3d5" stroke="#2e2e2e" stroke-width="1.1"/>
<rect x="1109.95" y="657.00" width="18.00" height="5.70" fill="#93d3d5" stroke="#2e2e2e" stroke-width="1.1"/>
<rect x="1135.08" y="529.80" width="18.00" height="132.90" fill="#c7d6ea" stroke="#2e2e2e" stroke-width="1.1"/>
<rect x="1160.21" y="611.40" width="18.00" height="51.30" fill="#da767e" stroke="#2e2e2e" stroke-width="1.1"/>
<rect x="1185.34" y="550.40" width="18.00" height="112.30" fill="#da767e" stroke="#2e2e2e" stroke-width="1.1"/>
<rect x="1134.08" y="532.3" width="20" height="2.8" fill="#fff"/>
<circle cx="742.00" cy="595.5" r="3.5" fill="#b8aee0" stroke="#3a3a3a" stroke-width="0.9"/>
<circle cx="767.13" cy="608.9" r="3.5" fill="#b8aee0" stroke="#3a3a3a" stroke-width="0.9"/>
<circle cx="792.26" cy="505.6" r="3.5" fill="#f2d0e2" stroke="#3a3a3a" stroke-width="0.9"/>
<circle cx="817.39" cy="529.4" r="3.5" fill="#f2d0e2" stroke="#3a3a3a" stroke-width="0.9"/>
<circle cx="842.52" cy="555" r="3.5" fill="#f2d0e2" stroke="#3a3a3a" stroke-width="0.9"/>
<circle cx="867.65" cy="594.2" r="3.5" fill="#ec9a9e" stroke="#3a3a3a" stroke-width="0.9"/>
<circle cx="892.78" cy="601.7" r="3.5" fill="#ec9a9e" stroke="#3a3a3a" stroke-width="0.9"/>
<circle cx="917.91" cy="612.7" r="3.5" fill="#ec9a9e" stroke="#3a3a3a" stroke-width="0.9"/>
<circle cx="943.04" cy="621.7" r="3.5" fill="#ec9a9e" stroke="#3a3a3a" stroke-width="0.9"/>
<circle cx="968.17" cy="636.5" r="3.5" fill="#f9dfc2" stroke="#3a3a3a" stroke-width="0.9"/>
<circle cx="993.30" cy="614.7" r="3.5" fill="#f9dfc2" stroke="#3a3a3a" stroke-width="0.9"/>
<circle cx="1018.43" cy="575.5" r="3.5" fill="#f6ef9e" stroke="#3a3a3a" stroke-width="0.9"/>
<circle cx="1043.56" cy="583.2" r="3.5" fill="#b4d36e" stroke="#3a3a3a" stroke-width="0.9"/>
<circle cx="1093.82" cy="522.2" r="3.5" fill="#8fd0d3" stroke="#3a3a3a" stroke-width="0.9"/>
<circle cx="1144.08" cy="520.4" r="3.5" fill="#b9cde8" stroke="#3a3a3a" stroke-width="0.9"/>
<circle cx="1169.21" cy="544.3" r="3.5" fill="#e06a72" stroke="#3a3a3a" stroke-width="0.9"/>
<circle cx="1194.34" cy="511.0" r="3.5" fill="#e06a72" stroke="#3a3a3a" stroke-width="0.9"/>
<line x1="716.80" y1="477.00" x2="716.80" y2="663.40" stroke="#3a3536" stroke-width="1.5" />
<line x1="716.10" y1="662.70" x2="1220.20" y2="662.70" stroke="#3a3536" stroke-width="1.5" />
<line x1="1219.50" y1="477.00" x2="1219.50" y2="663.40" stroke="#3a3536" stroke-width="1.5" />
<rect x="712.8" y="529.8" width="8" height="4" fill="#fff"/>
<line x1="713.30" y1="532.50" x2="720.30" y2="527.50" stroke="#3a3536" stroke-width="1.1" />
<line x1="713.30" y1="536.00" x2="720.30" y2="531.00" stroke="#3a3536" stroke-width="1.1" />
<line x1="712.00" y1="513.50" x2="716.80" y2="513.50" stroke="#3a3536" stroke-width="1.4" />
<text x="710.6" y="517.8" font-size="15.0" text-anchor="end" fill="#231f20" >13</text>
<line x1="712.00" y1="495.60" x2="716.80" y2="495.60" stroke="#3a3536" stroke-width="1.4" />
<text x="710.6" y="499.9" font-size="15.0" text-anchor="end" fill="#231f20" >14</text>
<line x1="712.00" y1="477.70" x2="716.80" y2="477.70" stroke="#3a3536" stroke-width="1.4" />
<text x="710.6" y="482.0" font-size="15.0" text-anchor="end" fill="#231f20" >15</text>
<line x1="714.20" y1="522.45" x2="716.80" y2="522.45" stroke="#3a3536" stroke-width="1.4" />
<line x1="714.20" y1="504.55" x2="716.80" y2="504.55" stroke="#3a3536" stroke-width="1.4" />
<line x1="714.20" y1="486.65" x2="716.80" y2="486.65" stroke="#3a3536" stroke-width="1.4" />
<line x1="712.00" y1="662.70" x2="716.80" y2="662.70" stroke="#3a3536" stroke-width="1.4" />
<text x="710.6" y="667.0" font-size="15.0" text-anchor="end" fill="#231f20" >0</text>
<line x1="712.00" y1="628.75" x2="716.80" y2="628.75" stroke="#3a3536" stroke-width="1.4" />
<text x="710.6" y="633.0" font-size="15.0" text-anchor="end" fill="#231f20" >1</text>
<line x1="712.00" y1="594.80" x2="716.80" y2="594.80" stroke="#3a3536" stroke-width="1.4" />
<text x="710.6" y="599.1" font-size="15.0" text-anchor="end" fill="#231f20" >2</text>
<line x1="712.00" y1="560.85" x2="716.80" y2="560.85" stroke="#3a3536" stroke-width="1.4" />
<text x="710.6" y="565.1" font-size="15.0" text-anchor="end" fill="#231f20" >3</text>
<line x1="714.20" y1="645.73" x2="716.80" y2="645.73" stroke="#3a3536" stroke-width="1.4" />
<line x1="714.20" y1="611.78" x2="716.80" y2="611.78" stroke="#3a3536" stroke-width="1.4" />
<line x1="714.20" y1="577.83" x2="716.80" y2="577.83" stroke="#3a3536" stroke-width="1.4" />
<line x1="714.20" y1="543.88" x2="716.80" y2="543.88" stroke="#3a3536" stroke-width="1.4" />
<line x1="714.20" y1="541.88" x2="716.80" y2="541.88" stroke="#3a3536" stroke-width="1.4" />
<line x1="1219.50" y1="662.70" x2="1224.10" y2="662.70" stroke="#3a3536" stroke-width="1.4" />
<text x="1228.1" y="666.1" font-size="15.0" text-anchor="start" fill="#231f20" >0.0</text>
<line x1="1219.50" y1="644.20" x2="1222.10" y2="644.20" stroke="#3a3536" stroke-width="1.4" />
<line x1="1219.50" y1="625.70" x2="1224.10" y2="625.70" stroke="#3a3536" stroke-width="1.4" />
<text x="1228.1" y="629.1" font-size="15.0" text-anchor="start" fill="#231f20" >0.2</text>
<line x1="1219.50" y1="607.20" x2="1222.10" y2="607.20" stroke="#3a3536" stroke-width="1.4" />
<line x1="1219.50" y1="588.70" x2="1224.10" y2="588.70" stroke="#3a3536" stroke-width="1.4" />
<text x="1228.1" y="592.1" font-size="15.0" text-anchor="start" fill="#231f20" >0.4</text>
<line x1="1219.50" y1="570.20" x2="1222.10" y2="570.20" stroke="#3a3536" stroke-width="1.4" />
<line x1="1219.50" y1="551.70" x2="1224.10" y2="551.70" stroke="#3a3536" stroke-width="1.4" />
<text x="1228.1" y="555.1" font-size="15.0" text-anchor="start" fill="#231f20" >0.6</text>
<line x1="1219.50" y1="533.20" x2="1222.10" y2="533.20" stroke="#3a3536" stroke-width="1.4" />
<line x1="1219.50" y1="514.70" x2="1224.10" y2="514.70" stroke="#3a3536" stroke-width="1.4" />
<text x="1228.1" y="518.1" font-size="15.0" text-anchor="start" fill="#231f20" >0.8</text>
<line x1="1219.50" y1="496.20" x2="1222.10" y2="496.20" stroke="#3a3536" stroke-width="1.4" />
<line x1="1219.50" y1="477.70" x2="1224.10" y2="477.70" stroke="#3a3536" stroke-width="1.4" />
<text x="1228.1" y="481.1" font-size="15.0" text-anchor="start" fill="#231f20" >1.0</text>
<text transform="translate(747.6,673.3) rotate(-45)" font-size="15.6" text-anchor="end" fill="#231f20">Ref.40</text>
<text transform="translate(773.5,673.3) rotate(-45)" font-size="15.6" text-anchor="end" fill="#231f20">Ref.40</text>
<text transform="translate(799.3,673.3) rotate(-45)" font-size="15.6" text-anchor="end" fill="#231f20">Ref.41</text>
<text transform="translate(825.1,673.3) rotate(-45)" font-size="15.6" text-anchor="end" fill="#231f20">Ref.41</text>
<text transform="translate(851.0,673.3) rotate(-45)" font-size="15.6" text-anchor="end" fill="#231f20">Ref.41</text>
<text transform="translate(876.9,673.3) rotate(-45)" font-size="15.6" text-anchor="end" fill="#231f20">Ref.30</text>
<text transform="translate(902.7,673.3) rotate(-45)" font-size="15.6" text-anchor="end" fill="#231f20">Ref.30</text>
<text transform="translate(928.5,673.3) rotate(-45)" font-size="15.6" text-anchor="end" fill="#231f20">Ref.30</text>
<text transform="translate(954.4,673.3) rotate(-45)" font-size="15.6" text-anchor="end" fill="#231f20">Ref.30</text>
<text transform="translate(980.2,673.3) rotate(-45)" font-size="15.6" text-anchor="end" fill="#231f20">Ref.42</text>
<text transform="translate(1006.1,673.3) rotate(-45)" font-size="15.6" text-anchor="end" fill="#231f20">Ref.42</text>
<text transform="translate(1032.0,673.3) rotate(-45)" font-size="15.6" text-anchor="end" fill="#231f20">Ref.43</text>
<text transform="translate(1057.8,673.3) rotate(-45)" font-size="15.6" text-anchor="end" fill="#231f20">Ref.44</text>
<text transform="translate(1083.6,673.3) rotate(-45)" font-size="15.6" text-anchor="end" fill="#231f20">Ref.45</text>
<text transform="translate(1109.5,673.3) rotate(-45)" font-size="15.6" text-anchor="end" fill="#231f20">Ref.45</text>
<text transform="translate(1135.3,673.3) rotate(-45)" font-size="15.6" text-anchor="end" fill="#231f20">Ref.45</text>
<text transform="translate(1161.2,673.3) rotate(-45)" font-size="15.6" text-anchor="end" fill="#231f20">Ref.46</text>
<text transform="translate(1187.0,673.3) rotate(-45)" font-size="15.6" text-anchor="end" fill="#231f20">This work</text>
<text transform="translate(1212.9,673.3) rotate(-45)" font-size="15.6" text-anchor="end" fill="#231f20">This work</text>
<text x="1207.6" y="478.4" font-size="21.5" text-anchor="end" fill="#231f20" >Transfer number (N)</text>
<path d="M1168.8,492 V499.6 H1182" fill="none" stroke="#231f20" stroke-width="2"/>
<polygon points="1190.50,499.60 1181.00,496.60 1181.00,502.60" fill="#231f20" />
<text x="0.0" y="0.0" font-size="20.5" text-anchor="middle" fill="#231f20" transform="translate(685.0,570.0) rotate(-90)">σ<tspan font-size="13" dy="4">Li</tspan><tspan font-size="9" dy="-8">+</tspan><tspan dy="4"> (×10</tspan><tspan font-size="13" dy="-8">−4</tspan><tspan dy="8"> S cm</tspan><tspan font-size="13" dy="-8">−1</tspan><tspan dy="8">)</tspan></text>
<text x="356.5" y="751.0" font-size="27" text-anchor="start" fill="#231f20" >g</text>
<rect x="408.6" y="744.7" width="234.6" height="184.8" fill="none" stroke="#3a3536" stroke-width="1.5"/>
<line x1="403.80" y1="782.00" x2="408.60" y2="782.00" stroke="#3a3536" stroke-width="1.4" />
<text x="402.4" y="786.3" font-size="15.0" text-anchor="end" fill="#231f20" >−3</text>
<line x1="403.80" y1="855.75" x2="408.60" y2="855.75" stroke="#3a3536" stroke-width="1.4" />
<text x="402.4" y="860.0" font-size="15.0" text-anchor="end" fill="#231f20" >−4</text>
<line x1="403.80" y1="929.50" x2="408.60" y2="929.50" stroke="#3a3536" stroke-width="1.4" />
<text x="402.4" y="933.8" font-size="15.0" text-anchor="end" fill="#231f20" >−5</text>
<line x1="406.00" y1="745.12" x2="408.60" y2="745.12" stroke="#3a3536" stroke-width="1.4" />
<line x1="406.00" y1="818.88" x2="408.60" y2="818.88" stroke="#3a3536" stroke-width="1.4" />
<line x1="406.00" y1="892.62" x2="408.60" y2="892.62" stroke="#3a3536" stroke-width="1.4" />
<line x1="424.70" y1="929.50" x2="424.70" y2="934.30" stroke="#3a3536" stroke-width="1.4" />
<text x="424.7" y="948.6" font-size="15.0" text-anchor="middle" fill="#231f20" >2.9</text>
<line x1="473.10" y1="929.50" x2="473.10" y2="934.30" stroke="#3a3536" stroke-width="1.4" />
<text x="473.1" y="948.6" font-size="15.0" text-anchor="middle" fill="#231f20" >3.0</text>
<line x1="521.50" y1="929.50" x2="521.50" y2="934.30" stroke="#3a3536" stroke-width="1.4" />
<text x="521.5" y="948.6" font-size="15.0" text-anchor="middle" fill="#231f20" >3.1</text>
<line x1="569.90" y1="929.50" x2="569.90" y2="934.30" stroke="#3a3536" stroke-width="1.4" />
<text x="569.9" y="948.6" font-size="15.0" text-anchor="middle" fill="#231f20" >3.2</text>
<line x1="618.30" y1="929.50" x2="618.30" y2="934.30" stroke="#3a3536" stroke-width="1.4" />
<text x="618.3" y="948.6" font-size="15.0" text-anchor="middle" fill="#231f20" >3.3</text>
<line x1="400.50" y1="929.50" x2="400.50" y2="932.10" stroke="#3a3536" stroke-width="1.4" />
<line x1="448.90" y1="929.50" x2="448.90" y2="932.10" stroke="#3a3536" stroke-width="1.4" />
<line x1="497.30" y1="929.50" x2="497.30" y2="932.10" stroke="#3a3536" stroke-width="1.4" />
<line x1="545.70" y1="929.50" x2="545.70" y2="932.10" stroke="#3a3536" stroke-width="1.4" />
<line x1="594.10" y1="929.50" x2="594.10" y2="932.10" stroke="#3a3536" stroke-width="1.4" />
<line x1="642.50" y1="929.50" x2="642.50" y2="932.10" stroke="#3a3536" stroke-width="1.4" />
<text x="535.2" y="969.6" font-size="19.8" text-anchor="middle" fill="#231f20" >1000/T (1/K)</text>
<text x="0.0" y="0.0" font-size="20.2" text-anchor="middle" fill="#231f20" transform="translate(381.0,835.3) rotate(-90)">Log [σ (S cm<tspan font-size="13.5" dy="-8">−1</tspan><tspan dy="8">)]</tspan></text>
<line x1="428.90" y1="815.30" x2="618.30" y2="874.40" stroke="#8fcf8f" stroke-width="2.0" />
<circle cx="428.9" cy="811.1" r="4.3" fill="#8fcf8f"/>
<circle cx="472.2" cy="827.8" r="4.3" fill="#8fcf8f"/>
<circle cx="517.4" cy="844.2" r="4.3" fill="#8fcf8f"/>
<circle cx="566.9" cy="858.9" r="4.3" fill="#8fcf8f"/>
<circle cx="618.3" cy="874.4" r="4.3" fill="#8fcf8f"/>
<line x1="428.90" y1="805.50" x2="618.30" y2="841.90" stroke="#4a86d4" stroke-width="2.0" />
<circle cx="428.9" cy="803.2" r="4.3" fill="#4a86d4"/>
<circle cx="472.2" cy="814.5" r="4.3" fill="#4a86d4"/>
<circle cx="517.4" cy="822.4" r="4.3" fill="#4a86d4"/>
<circle cx="566.9" cy="833.1" r="4.3" fill="#4a86d4"/>
<circle cx="618.3" cy="841.9" r="4.3" fill="#4a86d4"/>
<line x1="428.90" y1="782.30" x2="618.30" y2="807.40" stroke="#de7078" stroke-width="2.0" />
<circle cx="428.9" cy="782.0" r="4.3" fill="#de7078"/>
<circle cx="472.2" cy="786.8" r="4.3" fill="#de7078"/>
<circle cx="517.4" cy="792.4" r="4.3" fill="#de7078"/>
<circle cx="566.9" cy="798.0" r="4.3" fill="#de7078"/>
<circle cx="618.3" cy="807.4" r="4.3" fill="#de7078"/>
<line x1="414.80" y1="885.70" x2="445.30" y2="885.70" stroke="#8fcf8f" stroke-width="2.0" />
<circle cx="430.4" cy="885.7" r="4.0" fill="#8fcf8f"/>
<text x="449.3" y="891.1" font-size="15.6" text-anchor="start" fill="#231f20" >FPI</text>
<line x1="414.80" y1="901.70" x2="445.30" y2="901.70" stroke="#4a86d4" stroke-width="2.0" />
<circle cx="430.4" cy="901.7" r="4.0" fill="#4a86d4"/>
<text x="449.3" y="907.1" font-size="15.6" text-anchor="start" fill="#231f20" >FPI-COF0.5</text>
<line x1="414.80" y1="917.70" x2="445.30" y2="917.70" stroke="#de7078" stroke-width="2.0" />
<circle cx="430.4" cy="917.7" r="4.0" fill="#de7078"/>
<text x="449.3" y="923.1" font-size="15.6" text-anchor="start" fill="#231f20" >FPI-COF</text>
<text x="663.0" y="751.7" font-size="27" text-anchor="start" fill="#231f20" >h</text>
<rect x="751.70" y="863.38" width="16.10" height="66.42" fill="#8fcf8f" stroke="#3a3a3a" stroke-width="1.0"/>
<rect x="826.00" y="811.72" width="16.10" height="118.08" fill="#4f83cc" stroke="#3a3a3a" stroke-width="1.0"/>
<rect x="900.00" y="778.51" width="16.20" height="151.29" fill="#dc7a80" stroke="#3a3a3a" stroke-width="1.0"/>
<rect x="716.9" y="745.3" width="234.6" height="184.5" fill="none" stroke="#3a3536" stroke-width="1.5"/>
<line x1="712.10" y1="929.80" x2="716.90" y2="929.80" stroke="#3a3536" stroke-width="1.4" />
<text x="710.7" y="934.1" font-size="15.0" text-anchor="end" fill="#231f20" >0.0</text>
<line x1="712.10" y1="892.90" x2="716.90" y2="892.90" stroke="#3a3536" stroke-width="1.4" />
<text x="710.7" y="897.2" font-size="15.0" text-anchor="end" fill="#231f20" >0.2</text>
<line x1="712.10" y1="856.00" x2="716.90" y2="856.00" stroke="#3a3536" stroke-width="1.4" />
<text x="710.7" y="860.3" font-size="15.0" text-anchor="end" fill="#231f20" >0.4</text>
<line x1="712.10" y1="819.10" x2="716.90" y2="819.10" stroke="#3a3536" stroke-width="1.4" />
<text x="710.7" y="823.4" font-size="15.0" text-anchor="end" fill="#231f20" >0.6</text>
<line x1="712.10" y1="782.20" x2="716.90" y2="782.20" stroke="#3a3536" stroke-width="1.4" />
<text x="710.7" y="786.5" font-size="15.0" text-anchor="end" fill="#231f20" >0.8</text>
<line x1="712.10" y1="745.30" x2="716.90" y2="745.30" stroke="#3a3536" stroke-width="1.4" />
<text x="710.7" y="749.6" font-size="15.0" text-anchor="end" fill="#231f20" >1.0</text>
<line x1="714.30" y1="911.35" x2="716.90" y2="911.35" stroke="#3a3536" stroke-width="1.4" />
<line x1="714.30" y1="874.45" x2="716.90" y2="874.45" stroke="#3a3536" stroke-width="1.4" />
<line x1="714.30" y1="837.55" x2="716.90" y2="837.55" stroke="#3a3536" stroke-width="1.4" />
<line x1="714.30" y1="800.65" x2="716.90" y2="800.65" stroke="#3a3536" stroke-width="1.4" />
<line x1="714.30" y1="763.75" x2="716.90" y2="763.75" stroke="#3a3536" stroke-width="1.4" />
<text x="760.0" y="858.3" font-size="16.2" text-anchor="middle" fill="#231f20" >0.36</text>
<text x="834.5" y="805.2" font-size="16.2" text-anchor="middle" fill="#231f20" >0.64</text>
<text x="908.5" y="773.0" font-size="16.2" text-anchor="middle" fill="#231f20" >0.82</text>
<text x="757.8" y="954.4" font-size="14.6" text-anchor="middle" fill="#231f20" >FPI</text>
<text x="825.2" y="954.4" font-size="14.6" text-anchor="middle" fill="#231f20" >FPI-COF0.5</text>
<text x="908.0" y="954.4" font-size="14.6" text-anchor="middle" fill="#231f20" >FPI-COF</text>
<text x="0.0" y="0.0" font-size="20.5" text-anchor="middle" fill="#231f20" transform="translate(680.5,837.6) rotate(-90)">t<tspan font-size="13" dy="4">Li</tspan><tspan font-size="9" dy="-8">+</tspan></text>
<text x="977.5" y="753.0" font-size="27" text-anchor="start" fill="#231f20" >i</text>
<rect x="1030.6" y="745.2" width="206.4" height="183.9" fill="none" stroke="#3a3536" stroke-width="1.5"/>
<line x1="1025.80" y1="911.50" x2="1030.60" y2="911.50" stroke="#3a3536" stroke-width="1.4" />
<text x="1024.4" y="915.8" font-size="15.0" text-anchor="end" fill="#231f20" >0.0</text>
<line x1="1025.80" y1="837.10" x2="1030.60" y2="837.10" stroke="#3a3536" stroke-width="1.4" />
<text x="1024.4" y="841.4" font-size="15.0" text-anchor="end" fill="#231f20" >0.4</text>
<line x1="1025.80" y1="762.70" x2="1030.60" y2="762.70" stroke="#3a3536" stroke-width="1.4" />
<text x="1024.4" y="767.0" font-size="15.0" text-anchor="end" fill="#231f20" >0.8</text>
<line x1="1028.00" y1="874.30" x2="1030.60" y2="874.30" stroke="#3a3536" stroke-width="1.4" />
<line x1="1028.00" y1="799.90" x2="1030.60" y2="799.90" stroke="#3a3536" stroke-width="1.4" />
<line x1="1030.60" y1="929.10" x2="1030.60" y2="933.90" stroke="#3a3536" stroke-width="1.4" />
<text x="1030.6" y="948.6" font-size="15.0" text-anchor="middle" fill="#231f20" >2</text>
<line x1="1099.40" y1="929.10" x2="1099.40" y2="933.90" stroke="#3a3536" stroke-width="1.4" />
<text x="1099.4" y="948.6" font-size="15.0" text-anchor="middle" fill="#231f20" >3</text>
<line x1="1168.20" y1="929.10" x2="1168.20" y2="933.90" stroke="#3a3536" stroke-width="1.4" />
<text x="1168.2" y="948.6" font-size="15.0" text-anchor="middle" fill="#231f20" >4</text>
<line x1="1237.00" y1="929.10" x2="1237.00" y2="933.90" stroke="#3a3536" stroke-width="1.4" />
<text x="1237.0" y="948.6" font-size="15.0" text-anchor="middle" fill="#231f20" >5</text>
<line x1="1065.00" y1="929.10" x2="1065.00" y2="931.70" stroke="#3a3536" stroke-width="1.4" />
<line x1="1133.80" y1="929.10" x2="1133.80" y2="931.70" stroke="#3a3536" stroke-width="1.4" />
<line x1="1202.60" y1="929.10" x2="1202.60" y2="931.70" stroke="#3a3536" stroke-width="1.4" />
<text x="1138.0" y="968.7" font-size="19.8" text-anchor="middle" fill="#231f20" >Voltage (V)</text>
<text x="0.0" y="0.0" font-size="19.8" text-anchor="middle" fill="#231f20" transform="translate(997.4,840.6) rotate(-90)">Current (mA)</text>
<path d="M1030.60,909.27 L1033.46,909.27 L1037.06,909.27 L1041.29,909.27 L1046.04,909.27 L1051.22,909.27 L1056.72,909.27 L1062.42,909.27 L1068.23,909.27 L1074.04,909.27 L1079.74,909.27 L1085.24,909.27 L1090.41,909.27 L1095.17,909.27 L1099.40,909.27 L1103.24,909.27 L1106.91,909.27 L1110.41,909.27 L1113.76,909.27 L1116.96,909.28 L1120.03,909.28 L1122.96,909.28 L1125.78,909.28 L1128.49,909.28 L1131.09,909.28 L1133.60,909.28 L1136.03,909.28 L1138.39,909.27 L1140.68,909.27 L1142.87,909.27 L1144.94,909.29 L1146.88,909.32 L1148.72,909.36 L1150.44,909.41 L1152.08,909.45 L1153.62,909.48 L1155.09,909.50 L1156.49,909.50 L1157.82,909.48 L1159.10,909.43 L1160.33,909.35 L1161.53,909.24 L1162.70,909.08 L1163.79,908.88 L1164.78,908.65 L1165.67,908.39 L1166.48,908.10 L1167.22,907.78 L1167.90,907.44 L1168.54,907.08 L1169.16,906.71 L1169.76,906.31 L1170.36,905.91 L1170.97,905.50 L1171.61,905.08 L1172.29,904.67 L1173.02,904.25 L1173.79,903.81 L1174.57,903.33 L1175.37,902.83 L1176.17,902.31 L1176.98,901.77 L1177.79,901.22 L1178.61,900.68 L1179.41,900.13 L1180.22,899.60 L1181.01,899.09 L1181.79,898.60 L1182.55,898.15 L1183.30,897.73 L1184.02,897.36 L1184.73,897.03 L1185.43,896.72 L1186.13,896.44 L1186.81,896.18 L1187.48,895.94 L1188.15,895.72 L1188.80,895.52 L1189.44,895.33 L1190.06,895.17 L1190.67,895.02 L1191.27,894.89 L1191.85,894.77 L1192.42,894.67 L1192.97,894.57 L1193.49,894.51 L1193.99,894.49 L1194.46,894.49 L1194.92,894.53 L1195.35,894.59 L1195.78,894.66 L1196.19,894.74 L1196.60,894.82 L1197.01,894.89 L1197.42,894.95 L1197.84,894.99 L1198.26,895.01 L1198.70,895.00 L1199.16,894.95 L1199.63,894.87 L1200.12,894.80 L1200.61,894.73 L1201.12,894.64 L1201.62,894.55 L1202.13,894.44 L1202.64,894.31 L1203.15,894.15 L1203.66,893.97 L1204.15,893.76 L1204.64,893.51 L1205.12,893.23 L1205.59,892.90 L1206.04,892.53 L1206.48,892.10 L1206.92,891.63 L1207.35,891.11 L1207.77,890.55 L1208.19,889.95 L1208.60,889.32 L1209.01,888.67 L1209.40,887.99 L1209.79,887.30 L1210.16,886.60 L1210.53,885.90 L1210.88,885.19 L1211.22,884.48 L1211.54,883.79 L1211.85,883.11 L1212.15,882.46 L1212.43,881.83 L1212.70,881.20 L1212.95,880.57 L1213.20,879.93 L1213.44,879.26 L1213.67,878.57 L1213.89,877.83 L1214.11,877.04 L1214.33,876.19 L1214.55,875.27 L1214.76,874.27 L1214.98,873.18 L1215.20,871.99 L1215.41,870.67 L1215.61,869.26 L1215.80,867.77 L1215.99,866.21 L1216.18,864.60 L1216.36,862.97 L1216.54,861.31 L1216.73,859.66 L1216.92,858.02 L1217.11,856.42 L1217.31,854.87 L1217.52,853.38 L1217.74,851.98 L1217.95,850.66 L1218.17,849.42 L1218.38,848.23 L1218.59,847.09 L1218.80,845.98 L1219.02,844.88 L1219.24,843.80 L1219.47,842.70 L1219.72,841.58 L1219.97,840.43 L1220.24,839.24 L1220.53,837.98 L1220.84,836.65 L1221.18,835.24 L1221.54,833.72 L1221.93,832.11 L1222.35,830.42 L1222.78,828.66 L1223.24,826.85 L1223.71,825.01 L1224.19,823.15 L1224.67,821.29 L1225.15,819.45 L1225.62,817.64 L1226.08,815.88 L1226.53,814.19 L1226.96,812.58 L1227.37,811.06 L1227.75,809.64 L1228.13,808.29 L1228.49,807.01 L1228.84,805.79 L1229.19,804.61 L1229.53,803.46 L1229.86,802.34 L1230.19,801.23 L1230.52,800.13 L1230.85,799.02 L1231.18,797.90 L1231.51,796.74 L1231.84,795.56 L1232.18,794.32 L1232.54,793.00 L1232.91,791.60 L1233.30,790.12 L1233.70,788.60 L1234.10,787.05 L1234.50,785.50 L1234.89,783.97 L1235.27,782.49 L1235.64,781.07 L1235.98,779.73 L1236.29,778.51 L1236.56,777.42 L1236.80,776.48 L1237.00,775.72" fill="none" stroke="#8fcf8f" stroke-width="1.8"/>
<path d="M1030.60,910.76 L1033.46,910.75 L1037.06,910.74 L1041.29,910.74 L1046.04,910.73 L1051.22,910.72 L1056.72,910.71 L1062.42,910.70 L1068.23,910.69 L1074.04,910.67 L1079.74,910.66 L1085.24,910.64 L1090.41,910.62 L1095.17,910.60 L1099.40,910.57 L1103.19,910.54 L1106.72,910.51 L1110.03,910.48 L1113.14,910.45 L1116.09,910.41 L1118.91,910.38 L1121.63,910.34 L1124.29,910.30 L1126.91,910.25 L1129.54,910.21 L1132.19,910.16 L1134.92,910.11 L1137.73,910.06 L1140.68,910.01 L1143.76,909.96 L1146.95,909.91 L1150.22,909.86 L1153.54,909.82 L1156.88,909.77 L1160.23,909.72 L1163.56,909.66 L1166.83,909.60 L1170.03,909.54 L1173.13,909.47 L1176.11,909.39 L1178.93,909.30 L1181.58,909.20 L1184.02,909.08 L1186.27,908.96 L1188.34,908.82 L1190.26,908.68 L1192.05,908.53 L1193.71,908.37 L1195.28,908.21 L1196.75,908.04 L1198.16,907.86 L1199.51,907.67 L1200.82,907.48 L1202.12,907.28 L1203.41,907.08 L1204.71,906.87 L1206.04,906.66 L1207.36,906.45 L1208.63,906.23 L1209.85,906.00 L1211.03,905.77 L1212.18,905.54 L1213.29,905.30 L1214.38,905.05 L1215.46,904.79 L1216.52,904.53 L1217.57,904.27 L1218.63,903.99 L1219.69,903.71 L1220.77,903.43 L1221.86,903.13 L1223.00,902.81 L1224.19,902.47 L1225.43,902.09 L1226.68,901.70 L1227.94,901.30 L1229.19,900.89 L1230.42,900.49 L1231.61,900.10 L1232.74,899.72 L1233.80,899.36 L1234.77,899.03 L1235.64,898.74 L1236.39,898.49 L1237.00,898.29" fill="none" stroke="#4a86d4" stroke-width="2.2"/>
<path d="M1030.60,912.62 L1033.46,912.61 L1037.06,912.60 L1041.29,912.59 L1046.04,912.58 L1051.22,912.56 L1056.72,912.55 L1062.42,912.53 L1068.23,912.52 L1074.04,912.50 L1079.74,912.49 L1085.24,912.47 L1090.41,912.46 L1095.17,912.44 L1099.40,912.43 L1103.19,912.42 L1106.72,912.41 L1110.03,912.40 L1113.14,912.40 L1116.09,912.39 L1118.91,912.39 L1121.63,912.38 L1124.29,912.38 L1126.91,912.37 L1129.54,912.35 L1132.19,912.33 L1134.92,912.31 L1137.73,912.28 L1140.68,912.24 L1143.75,912.20 L1146.90,912.16 L1150.12,912.11 L1153.37,912.05 L1156.66,912.00 L1159.94,911.94 L1163.21,911.87 L1166.45,911.80 L1169.63,911.73 L1172.73,911.66 L1175.75,911.58 L1178.64,911.49 L1181.41,911.41 L1184.02,911.31 L1186.48,911.22 L1188.80,911.13 L1191.01,911.03 L1193.10,910.93 L1195.10,910.83 L1197.03,910.73 L1198.90,910.62 L1200.72,910.50 L1202.52,910.38 L1204.29,910.25 L1206.07,910.11 L1207.86,909.96 L1209.68,909.81 L1211.54,909.64 L1213.49,909.45 L1215.51,909.24 L1217.59,909.00 L1219.71,908.75 L1221.83,908.49 L1223.93,908.22 L1225.99,907.95 L1227.98,907.69 L1229.87,907.43 L1231.64,907.19 L1233.27,906.97 L1234.72,906.78 L1235.97,906.61 L1237.00,906.48" fill="none" stroke="#de7078" stroke-width="1.8"/>
<line x1="1126.9199999999998" y1="913.36" x2="1226.6799999999998" y2="913.36" stroke="#555" stroke-width="0.9" stroke-dasharray="3,2"/>
<line x1="1168.1999999999998" y1="920.8" x2="1233.56" y2="907.78" stroke="#555" stroke-width="0.9" stroke-dasharray="3,2"/>
<line x1="1040.50" y1="760.80" x2="1070.20" y2="760.80" stroke="#8fcf8f" stroke-width="2.0" />
<text x="1074.4" y="766.2" font-size="15.6" text-anchor="start" fill="#231f20" >FPI</text>
<line x1="1040.50" y1="777.10" x2="1070.20" y2="777.10" stroke="#4a86d4" stroke-width="2.4" />
<text x="1074.4" y="782.5" font-size="15.6" text-anchor="start" fill="#231f20" >FPI-COF0.5</text>
<line x1="1040.50" y1="793.40" x2="1070.20" y2="793.40" stroke="#de7078" stroke-width="2.0" />
<text x="1074.4" y="798.8" font-size="15.6" text-anchor="start" fill="#231f20" >FPI-COF</text>
</svg></body></html>
